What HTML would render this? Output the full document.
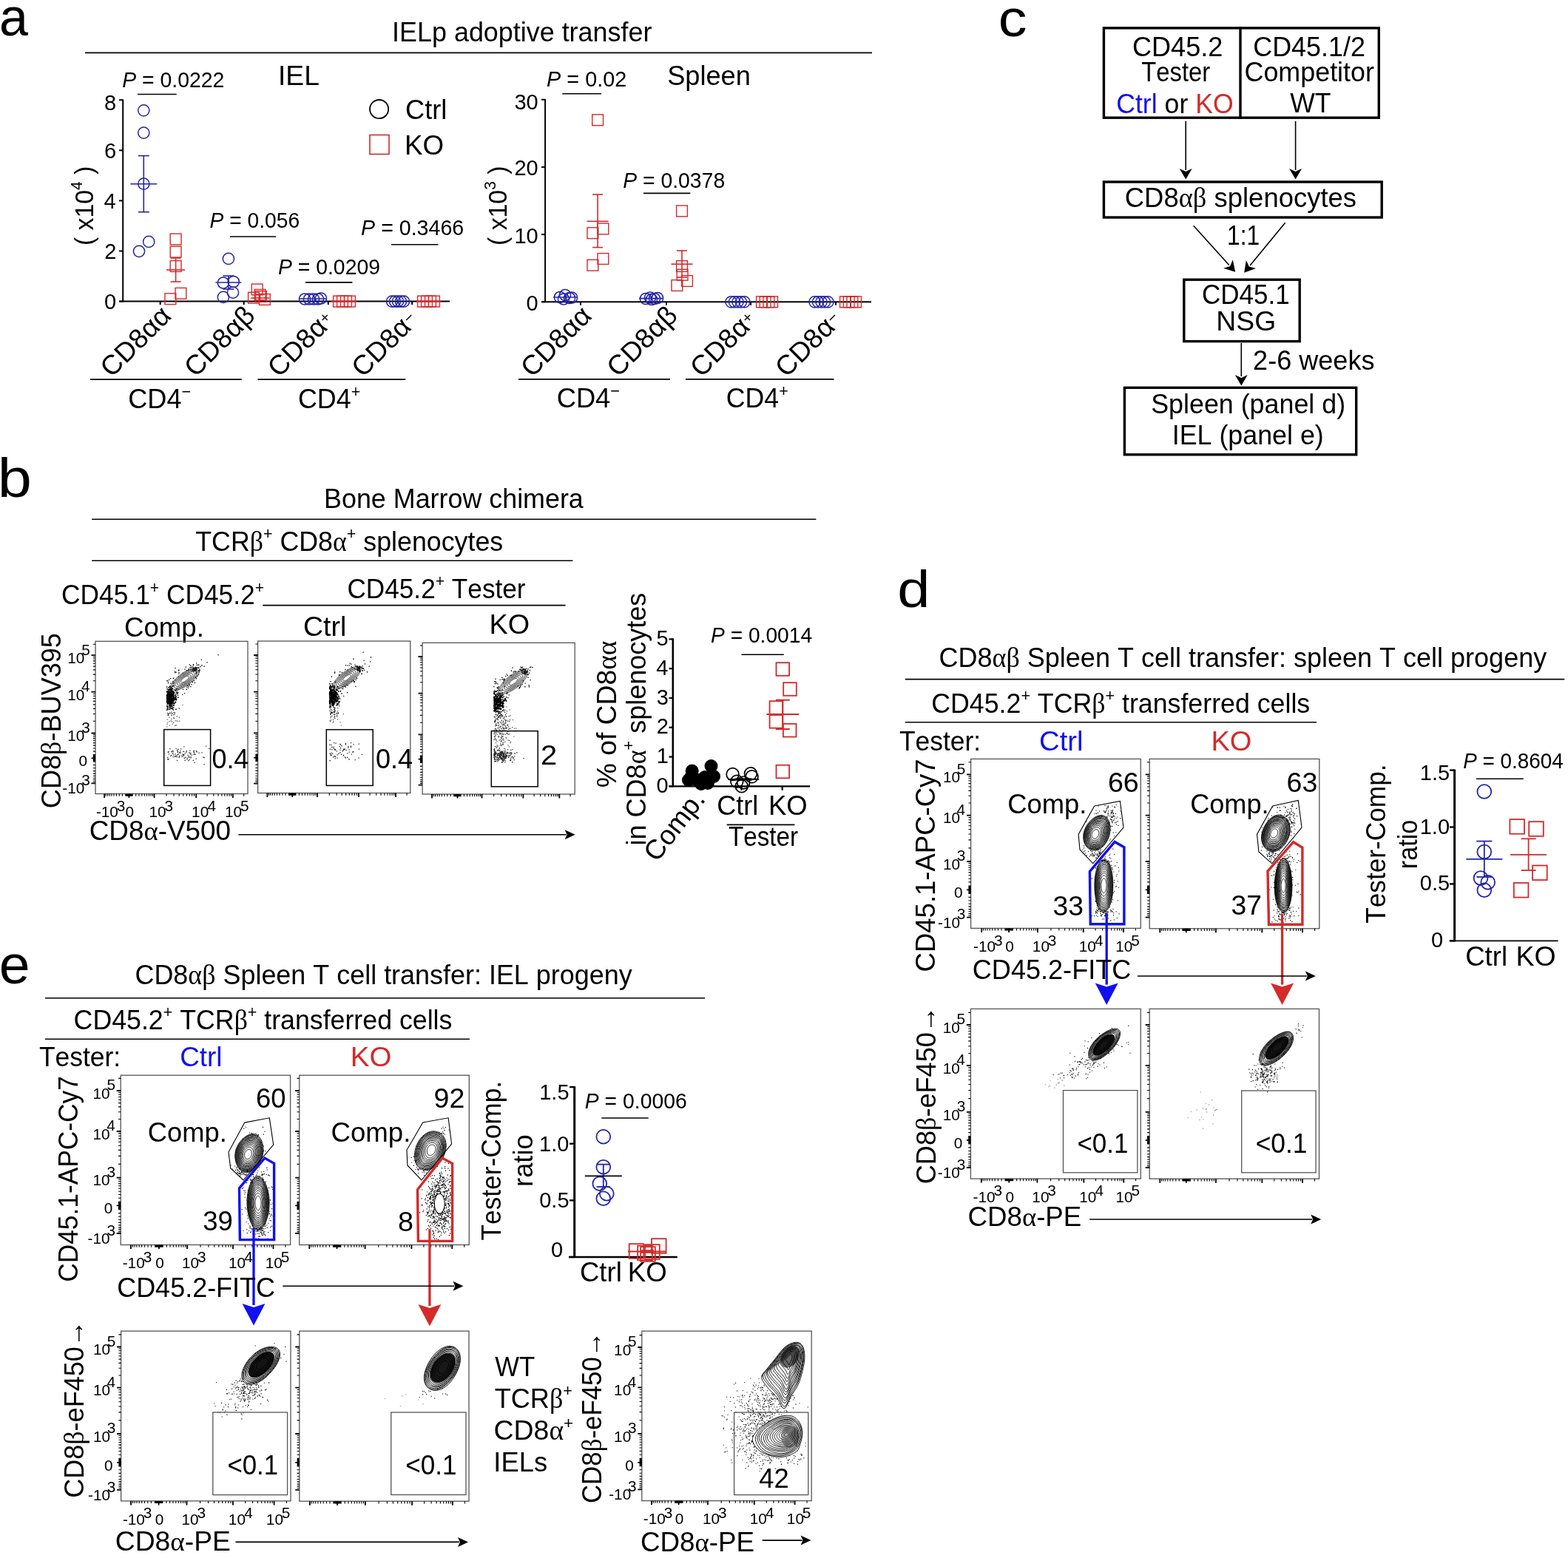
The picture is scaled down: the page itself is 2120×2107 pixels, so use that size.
<!DOCTYPE html>
<html><head><meta charset="utf-8"><title>Figure</title>
<style>
html,body{margin:0;padding:0;background:#fff;}
svg{display:block;}
text{font-kerning:none;white-space:pre;}
</style></head><body>
<svg xmlns="http://www.w3.org/2000/svg" xml:space="preserve" width="2120" height="2107" viewBox="0 0 2120 2107" font-family="Liberation Sans, Arial, sans-serif" fill="#000">
<rect width="2120" height="2107" fill="#fff"/>
<g transform="translate(-0.98 48.30) scale(0.9601 1)"><text x="0.00" y="0.00" font-size="73.00">a</text></g>
<g transform="translate(530.09 56.40) scale(0.9578 1)"><text x="0.00" y="0.00" font-size="37.50">IELp adoptive transfer</text></g>
<line x1="115.00" y1="71.40" x2="1179.00" y2="71.40" stroke="#000" stroke-width="1.60"/>
<g transform="translate(375.96 114.60) scale(0.9926 1)"><text x="0.00" y="0.00" font-size="37.50">IEL</text></g>
<g transform="translate(902.16 114.50) scale(0.9651 1)"><text x="0.00" y="0.00" font-size="37.50">Spleen</text></g>
<circle cx="512.60" cy="147.60" r="12.60" stroke="#000" stroke-width="1.80" fill="none"/>
<g transform="translate(548.06 160.60) scale(0.9665 1)"><text x="0.00" y="0.00" font-size="37.50">Ctrl</text></g>
<rect x="500.00" y="182.50" width="26.00" height="26.00" stroke="#d42a2a" stroke-width="1.60" fill="none"/>
<g transform="translate(546.88 209.00) scale(0.9815 1)"><text x="0.00" y="0.00" font-size="37.50">KO</text></g>
<line x1="166.20" y1="134.40" x2="166.20" y2="408.40" stroke="#000" stroke-width="2.00"/>
<line x1="161.50" y1="407.60" x2="608.00" y2="407.60" stroke="#000" stroke-width="2.00"/>
<line x1="161.00" y1="407.60" x2="166.20" y2="407.60" stroke="#000" stroke-width="2.00"/>
<g transform="translate(140.90 418.40) scale(1.0000 1)"><text x="0.00" y="0.00" font-size="29.00">0</text></g>
<line x1="161.00" y1="339.50" x2="166.20" y2="339.50" stroke="#000" stroke-width="2.00"/>
<g transform="translate(141.23 350.30) scale(1.0000 1)"><text x="0.00" y="0.00" font-size="29.00">2</text></g>
<line x1="161.00" y1="271.40" x2="166.20" y2="271.40" stroke="#000" stroke-width="2.00"/>
<g transform="translate(140.62 282.20) scale(1.0000 1)"><text x="0.00" y="0.00" font-size="29.00">4</text></g>
<line x1="161.00" y1="203.30" x2="166.20" y2="203.30" stroke="#000" stroke-width="2.00"/>
<g transform="translate(141.05 214.10) scale(1.0000 1)"><text x="0.00" y="0.00" font-size="29.00">6</text></g>
<line x1="161.00" y1="135.20" x2="166.20" y2="135.20" stroke="#000" stroke-width="2.00"/>
<g transform="translate(141.03 148.50) scale(1.0000 1)"><text x="0.00" y="0.00" font-size="29.00">8</text></g>
<line x1="216.70" y1="407.60" x2="216.70" y2="412.10" stroke="#000" stroke-width="2.00"/>
<line x1="329.70" y1="407.60" x2="329.70" y2="412.10" stroke="#000" stroke-width="2.00"/>
<line x1="443.80" y1="407.60" x2="443.80" y2="412.10" stroke="#000" stroke-width="2.00"/>
<line x1="557.20" y1="407.60" x2="557.20" y2="412.10" stroke="#000" stroke-width="2.00"/>
<g transform="translate(125.50 332.10) rotate(-90) scale(0.9802 1)"><text x="0.00" y="0.00" font-size="34.50">( x10</text><text x="76.70" y="-14.49" font-size="21.39">4</text><text x="88.59" y="0.00" font-size="34.50"> )</text></g>
<line x1="737.10" y1="133.90" x2="737.10" y2="409.10" stroke="#000" stroke-width="2.00"/>
<line x1="732.50" y1="408.30" x2="1178.00" y2="408.30" stroke="#000" stroke-width="2.00"/>
<line x1="732.00" y1="408.30" x2="737.10" y2="408.30" stroke="#000" stroke-width="2.00"/>
<g transform="translate(711.50 419.80) scale(1.0000 1)"><text x="0.00" y="0.00" font-size="29.00">0</text></g>
<line x1="732.00" y1="317.10" x2="737.10" y2="317.10" stroke="#000" stroke-width="2.00"/>
<g transform="translate(695.38 328.60) scale(1.0000 1)"><text x="0.00" y="0.00" font-size="29.00">10</text></g>
<line x1="732.00" y1="225.90" x2="737.10" y2="225.90" stroke="#000" stroke-width="2.00"/>
<g transform="translate(695.38 237.40) scale(1.0000 1)"><text x="0.00" y="0.00" font-size="29.00">20</text></g>
<line x1="732.00" y1="134.70" x2="737.10" y2="134.70" stroke="#000" stroke-width="2.00"/>
<g transform="translate(695.38 148.40) scale(1.0000 1)"><text x="0.00" y="0.00" font-size="29.00">30</text></g>
<line x1="785.00" y1="408.30" x2="785.00" y2="412.80" stroke="#000" stroke-width="2.00"/>
<line x1="901.00" y1="408.30" x2="901.00" y2="412.80" stroke="#000" stroke-width="2.00"/>
<line x1="1015.00" y1="408.30" x2="1015.00" y2="412.80" stroke="#000" stroke-width="2.00"/>
<line x1="1130.00" y1="408.30" x2="1130.00" y2="412.80" stroke="#000" stroke-width="2.00"/>
<g transform="translate(684.50 331.89) rotate(-90) scale(0.9783 1)"><text x="0.00" y="0.00" font-size="34.50">( x10</text><text x="76.70" y="-14.49" font-size="21.39">3</text><text x="88.59" y="0.00" font-size="34.50"> )</text></g>
<g transform="translate(165.13 117.80) scale(0.9802 1)"><text x="0.00" y="0.00" font-size="29.00" font-style="italic">P</text><text x="19.34" y="0.00" font-size="29.00"> = 0.0222</text></g>
<line x1="186.00" y1="127.50" x2="238.70" y2="127.50" stroke="#000" stroke-width="1.60"/>
<g transform="translate(283.53 308.00) scale(0.9740 1)"><text x="0.00" y="0.00" font-size="29.00" font-style="italic">P</text><text x="19.34" y="0.00" font-size="29.00"> = 0.056</text></g>
<line x1="310.90" y1="320.00" x2="373.20" y2="320.00" stroke="#000" stroke-width="1.60"/>
<g transform="translate(375.93 371.40) scale(0.9789 1)"><text x="0.00" y="0.00" font-size="29.00" font-style="italic">P</text><text x="19.34" y="0.00" font-size="29.00"> = 0.0209</text></g>
<line x1="413.00" y1="381.90" x2="476.40" y2="381.90" stroke="#000" stroke-width="1.60"/>
<g transform="translate(488.12 318.00) scale(0.9861 1)"><text x="0.00" y="0.00" font-size="29.00" font-style="italic">P</text><text x="19.34" y="0.00" font-size="29.00"> = 0.3466</text></g>
<line x1="529.00" y1="330.80" x2="592.40" y2="330.80" stroke="#000" stroke-width="1.60"/>
<g transform="translate(739.11 117.40) scale(0.9936 1)"><text x="0.00" y="0.00" font-size="29.00" font-style="italic">P</text><text x="19.34" y="0.00" font-size="29.00"> = 0.02</text></g>
<line x1="760.30" y1="126.70" x2="813.00" y2="126.70" stroke="#000" stroke-width="1.60"/>
<g transform="translate(842.13 253.60) scale(0.9788 1)"><text x="0.00" y="0.00" font-size="29.00" font-style="italic">P</text><text x="19.34" y="0.00" font-size="29.00"> = 0.0378</text></g>
<line x1="869.90" y1="261.40" x2="933.30" y2="261.40" stroke="#000" stroke-width="1.60"/>
<circle cx="194.30" cy="149.30" r="7.60" stroke="#2424a8" stroke-width="1.50" fill="none"/>
<circle cx="194.30" cy="179.60" r="7.60" stroke="#2424a8" stroke-width="1.50" fill="none"/>
<circle cx="194.30" cy="248.70" r="7.60" stroke="#2424a8" stroke-width="1.50" fill="none"/>
<circle cx="188.00" cy="339.80" r="7.60" stroke="#2424a8" stroke-width="1.50" fill="none"/>
<circle cx="201.20" cy="326.90" r="7.60" stroke="#2424a8" stroke-width="1.50" fill="none"/>
<line x1="176.30" y1="248.70" x2="212.30" y2="248.70" stroke="#2424a8" stroke-width="1.60"/><line x1="194.30" y1="210.60" x2="194.30" y2="286.70" stroke="#2424a8" stroke-width="1.60"/><line x1="186.80" y1="210.60" x2="201.80" y2="210.60" stroke="#2424a8" stroke-width="1.60"/><line x1="186.80" y1="286.70" x2="201.80" y2="286.70" stroke="#2424a8" stroke-width="1.60"/>
<rect x="230.20" y="316.10" width="14.80" height="14.80" stroke="#d42a2a" stroke-width="1.40" fill="none"/>
<rect x="230.20" y="333.20" width="14.80" height="14.80" stroke="#d42a2a" stroke-width="1.40" fill="none"/>
<rect x="230.20" y="352.60" width="14.80" height="14.80" stroke="#d42a2a" stroke-width="1.40" fill="none"/>
<rect x="223.00" y="396.80" width="14.80" height="14.80" stroke="#d42a2a" stroke-width="1.40" fill="none"/>
<rect x="237.00" y="389.40" width="14.80" height="14.80" stroke="#d42a2a" stroke-width="1.40" fill="none"/>
<line x1="225.10" y1="365.00" x2="250.10" y2="365.00" stroke="#d42a2a" stroke-width="1.60"/><line x1="237.60" y1="349.00" x2="237.60" y2="381.00" stroke="#d42a2a" stroke-width="1.60"/><line x1="230.60" y1="349.00" x2="244.60" y2="349.00" stroke="#d42a2a" stroke-width="1.60"/><line x1="230.60" y1="381.00" x2="244.60" y2="381.00" stroke="#d42a2a" stroke-width="1.60"/>
<circle cx="308.90" cy="349.90" r="7.60" stroke="#2424a8" stroke-width="1.50" fill="none"/>
<circle cx="301.90" cy="382.50" r="7.60" stroke="#2424a8" stroke-width="1.50" fill="none"/>
<circle cx="315.80" cy="381.00" r="7.60" stroke="#2424a8" stroke-width="1.50" fill="none"/>
<circle cx="315.00" cy="395.70" r="7.60" stroke="#2424a8" stroke-width="1.50" fill="none"/>
<circle cx="301.90" cy="401.90" r="7.60" stroke="#2424a8" stroke-width="1.50" fill="none"/>
<line x1="291.40" y1="382.00" x2="326.40" y2="382.00" stroke="#2424a8" stroke-width="1.60"/><line x1="308.90" y1="373.00" x2="308.90" y2="391.00" stroke="#2424a8" stroke-width="1.60"/><line x1="301.40" y1="373.00" x2="316.40" y2="373.00" stroke="#2424a8" stroke-width="1.60"/><line x1="301.40" y1="391.00" x2="316.40" y2="391.00" stroke="#2424a8" stroke-width="1.60"/>
<rect x="340.30" y="384.10" width="14.80" height="14.80" stroke="#d42a2a" stroke-width="1.40" fill="none"/>
<rect x="344.10" y="391.40" width="14.80" height="14.80" stroke="#d42a2a" stroke-width="1.40" fill="none"/>
<rect x="335.60" y="395.30" width="14.80" height="14.80" stroke="#d42a2a" stroke-width="1.40" fill="none"/>
<rect x="350.40" y="397.60" width="14.80" height="14.80" stroke="#d42a2a" stroke-width="1.40" fill="none"/>
<rect x="345.60" y="393.60" width="14.80" height="14.80" stroke="#d42a2a" stroke-width="1.40" fill="none"/>
<line x1="339.00" y1="403.00" x2="364.00" y2="403.00" stroke="#d42a2a" stroke-width="1.60"/><line x1="351.50" y1="398.00" x2="351.50" y2="406.00" stroke="#d42a2a" stroke-width="1.60"/><line x1="345.50" y1="398.00" x2="357.50" y2="398.00" stroke="#d42a2a" stroke-width="1.60"/><line x1="345.50" y1="406.00" x2="357.50" y2="406.00" stroke="#d42a2a" stroke-width="1.60"/>
<circle cx="412.00" cy="404.50" r="7.60" stroke="#2424a8" stroke-width="1.50" fill="none"/>
<circle cx="418.00" cy="404.50" r="7.60" stroke="#2424a8" stroke-width="1.50" fill="none"/>
<circle cx="424.00" cy="404.50" r="7.60" stroke="#2424a8" stroke-width="1.50" fill="none"/>
<circle cx="430.00" cy="404.50" r="7.60" stroke="#2424a8" stroke-width="1.50" fill="none"/>
<circle cx="434.00" cy="403.50" r="7.60" stroke="#2424a8" stroke-width="1.50" fill="none"/>
<line x1="404.00" y1="404.00" x2="442.00" y2="404.00" stroke="#2424a8" stroke-width="1.60"/>
<rect x="450.60" y="400.20" width="14.80" height="14.80" stroke="#d42a2a" stroke-width="1.40" fill="none"/>
<rect x="455.60" y="400.20" width="14.80" height="14.80" stroke="#d42a2a" stroke-width="1.40" fill="none"/>
<rect x="460.60" y="400.20" width="14.80" height="14.80" stroke="#d42a2a" stroke-width="1.40" fill="none"/>
<rect x="465.60" y="400.20" width="14.80" height="14.80" stroke="#d42a2a" stroke-width="1.40" fill="none"/>
<line x1="448.00" y1="407.60" x2="482.00" y2="407.60" stroke="#d42a2a" stroke-width="1.60"/>
<circle cx="530.00" cy="407.60" r="7.60" stroke="#2424a8" stroke-width="1.50" fill="none"/>
<circle cx="534.00" cy="407.60" r="7.60" stroke="#2424a8" stroke-width="1.50" fill="none"/>
<circle cx="538.00" cy="407.60" r="7.60" stroke="#2424a8" stroke-width="1.50" fill="none"/>
<circle cx="542.00" cy="407.60" r="7.60" stroke="#2424a8" stroke-width="1.50" fill="none"/>
<circle cx="546.00" cy="407.60" r="7.60" stroke="#2424a8" stroke-width="1.50" fill="none"/>
<rect x="564.60" y="400.20" width="14.80" height="14.80" stroke="#d42a2a" stroke-width="1.40" fill="none"/>
<rect x="569.60" y="400.20" width="14.80" height="14.80" stroke="#d42a2a" stroke-width="1.40" fill="none"/>
<rect x="574.60" y="400.20" width="14.80" height="14.80" stroke="#d42a2a" stroke-width="1.40" fill="none"/>
<rect x="579.60" y="400.20" width="14.80" height="14.80" stroke="#d42a2a" stroke-width="1.40" fill="none"/>
<line x1="563.00" y1="407.60" x2="596.00" y2="407.60" stroke="#d42a2a" stroke-width="1.60"/>
<circle cx="757.00" cy="402.00" r="7.60" stroke="#2424a8" stroke-width="1.50" fill="none"/>
<circle cx="764.00" cy="399.00" r="7.60" stroke="#2424a8" stroke-width="1.50" fill="none"/>
<circle cx="770.00" cy="403.00" r="7.60" stroke="#2424a8" stroke-width="1.50" fill="none"/>
<circle cx="762.00" cy="404.50" r="7.60" stroke="#2424a8" stroke-width="1.50" fill="none"/>
<circle cx="773.00" cy="402.50" r="7.60" stroke="#2424a8" stroke-width="1.50" fill="none"/>
<line x1="748.00" y1="402.00" x2="781.00" y2="402.00" stroke="#2424a8" stroke-width="1.60"/>
<rect x="800.70" y="154.90" width="14.80" height="14.80" stroke="#d42a2a" stroke-width="1.40" fill="none"/>
<rect x="794.00" y="307.80" width="14.80" height="14.80" stroke="#d42a2a" stroke-width="1.40" fill="none"/>
<rect x="808.00" y="302.00" width="14.80" height="14.80" stroke="#d42a2a" stroke-width="1.40" fill="none"/>
<rect x="794.00" y="351.30" width="14.80" height="14.80" stroke="#d42a2a" stroke-width="1.40" fill="none"/>
<rect x="808.00" y="342.60" width="14.80" height="14.80" stroke="#d42a2a" stroke-width="1.40" fill="none"/>
<line x1="793.60" y1="299.30" x2="822.60" y2="299.30" stroke="#d42a2a" stroke-width="1.60"/><line x1="808.10" y1="263.00" x2="808.10" y2="334.60" stroke="#d42a2a" stroke-width="1.60"/><line x1="801.10" y1="263.00" x2="815.10" y2="263.00" stroke="#d42a2a" stroke-width="1.60"/><line x1="801.10" y1="334.60" x2="815.10" y2="334.60" stroke="#d42a2a" stroke-width="1.60"/>
<circle cx="873.00" cy="404.00" r="7.60" stroke="#2424a8" stroke-width="1.50" fill="none"/>
<circle cx="879.00" cy="402.50" r="7.60" stroke="#2424a8" stroke-width="1.50" fill="none"/>
<circle cx="885.00" cy="404.00" r="7.60" stroke="#2424a8" stroke-width="1.50" fill="none"/>
<circle cx="889.00" cy="403.00" r="7.60" stroke="#2424a8" stroke-width="1.50" fill="none"/>
<circle cx="881.00" cy="405.00" r="7.60" stroke="#2424a8" stroke-width="1.50" fill="none"/>
<line x1="864.00" y1="403.60" x2="897.00" y2="403.60" stroke="#2424a8" stroke-width="1.60"/>
<rect x="914.60" y="278.00" width="14.80" height="14.80" stroke="#d42a2a" stroke-width="1.40" fill="none"/>
<rect x="914.60" y="352.60" width="14.80" height="14.80" stroke="#d42a2a" stroke-width="1.40" fill="none"/>
<rect x="915.20" y="364.30" width="14.80" height="14.80" stroke="#d42a2a" stroke-width="1.40" fill="none"/>
<rect x="921.60" y="372.60" width="14.80" height="14.80" stroke="#d42a2a" stroke-width="1.40" fill="none"/>
<rect x="908.00" y="378.60" width="14.80" height="14.80" stroke="#d42a2a" stroke-width="1.40" fill="none"/>
<line x1="907.50" y1="357.20" x2="936.50" y2="357.20" stroke="#d42a2a" stroke-width="1.60"/><line x1="922.00" y1="339.00" x2="922.00" y2="375.00" stroke="#d42a2a" stroke-width="1.60"/><line x1="915.00" y1="339.00" x2="929.00" y2="339.00" stroke="#d42a2a" stroke-width="1.60"/><line x1="915.00" y1="375.00" x2="929.00" y2="375.00" stroke="#d42a2a" stroke-width="1.60"/>
<circle cx="988.50" cy="408.30" r="7.60" stroke="#2424a8" stroke-width="1.50" fill="none"/>
<circle cx="993.00" cy="408.30" r="7.60" stroke="#2424a8" stroke-width="1.50" fill="none"/>
<circle cx="997.50" cy="408.30" r="7.60" stroke="#2424a8" stroke-width="1.50" fill="none"/>
<circle cx="1002.00" cy="408.30" r="7.60" stroke="#2424a8" stroke-width="1.50" fill="none"/>
<circle cx="1006.50" cy="408.30" r="7.60" stroke="#2424a8" stroke-width="1.50" fill="none"/>
<circle cx="1101.50" cy="408.30" r="7.60" stroke="#2424a8" stroke-width="1.50" fill="none"/>
<circle cx="1106.00" cy="408.30" r="7.60" stroke="#2424a8" stroke-width="1.50" fill="none"/>
<circle cx="1110.50" cy="408.30" r="7.60" stroke="#2424a8" stroke-width="1.50" fill="none"/>
<circle cx="1115.00" cy="408.30" r="7.60" stroke="#2424a8" stroke-width="1.50" fill="none"/>
<circle cx="1119.50" cy="408.30" r="7.60" stroke="#2424a8" stroke-width="1.50" fill="none"/>
<rect x="1022.60" y="400.90" width="14.80" height="14.80" stroke="#d42a2a" stroke-width="1.40" fill="none"/>
<rect x="1027.30" y="400.90" width="14.80" height="14.80" stroke="#d42a2a" stroke-width="1.40" fill="none"/>
<rect x="1032.00" y="400.90" width="14.80" height="14.80" stroke="#d42a2a" stroke-width="1.40" fill="none"/>
<rect x="1036.70" y="400.90" width="14.80" height="14.80" stroke="#d42a2a" stroke-width="1.40" fill="none"/>
<rect x="1135.60" y="400.90" width="14.80" height="14.80" stroke="#d42a2a" stroke-width="1.40" fill="none"/>
<rect x="1140.30" y="400.90" width="14.80" height="14.80" stroke="#d42a2a" stroke-width="1.40" fill="none"/>
<rect x="1145.00" y="400.90" width="14.80" height="14.80" stroke="#d42a2a" stroke-width="1.40" fill="none"/>
<rect x="1149.70" y="400.90" width="14.80" height="14.80" stroke="#d42a2a" stroke-width="1.40" fill="none"/>
<g transform="translate(232.70 430.00) rotate(-45.00) scale(1.0000 1) translate(-115.73 0)"><text x="0.00" y="0.00" font-size="37.00">CD8</text><text x="74.02" y="0.00" font-size="37.00">αα</text></g>
<g transform="translate(345.70 430.00) rotate(-45.00) scale(1.0000 1) translate(-115.23 0)"><text x="0.00" y="0.00" font-size="37.00">CD8</text><text x="74.02" y="0.00" font-size="37.00">αβ</text></g>
<g transform="translate(452.80 436.00) rotate(-45.00) scale(1.0000 1) translate(-107.03 0)"><text x="0.00" y="0.00" font-size="37.00">CD8</text><text x="74.02" y="0.00" font-size="37.00">α</text><text x="96.15" y="-7.40" font-size="20.35">+</text></g>
<g transform="translate(566.20 436.00) rotate(-45.00) scale(1.0000 1) translate(-107.04 0)"><text x="0.00" y="0.00" font-size="37.00">CD8</text><text x="74.02" y="0.00" font-size="37.00">α</text><text x="96.15" y="-7.40" font-size="20.35">−</text></g>
<g transform="translate(801.00 430.00) rotate(-45.00) scale(1.0000 1) translate(-115.73 0)"><text x="0.00" y="0.00" font-size="37.00">CD8</text><text x="74.02" y="0.00" font-size="37.00">αα</text></g>
<g transform="translate(917.00 430.00) rotate(-45.00) scale(1.0000 1) translate(-115.23 0)"><text x="0.00" y="0.00" font-size="37.00">CD8</text><text x="74.02" y="0.00" font-size="37.00">αβ</text></g>
<g transform="translate(1024.00 436.00) rotate(-45.00) scale(1.0000 1) translate(-107.03 0)"><text x="0.00" y="0.00" font-size="37.00">CD8</text><text x="74.02" y="0.00" font-size="37.00">α</text><text x="96.15" y="-7.40" font-size="20.35">+</text></g>
<g transform="translate(1139.00 436.00) rotate(-45.00) scale(1.0000 1) translate(-107.04 0)"><text x="0.00" y="0.00" font-size="37.00">CD8</text><text x="74.02" y="0.00" font-size="37.00">α</text><text x="96.15" y="-7.40" font-size="20.35">−</text></g>
<line x1="121.90" y1="513.10" x2="326.80" y2="513.10" stroke="#000" stroke-width="1.60"/>
<line x1="348.50" y1="513.10" x2="548.30" y2="513.10" stroke="#000" stroke-width="1.60"/>
<line x1="700.90" y1="512.90" x2="906.00" y2="512.90" stroke="#000" stroke-width="1.60"/>
<line x1="927.00" y1="512.90" x2="1127.50" y2="512.90" stroke="#000" stroke-width="1.60"/>
<g transform="translate(173.26 552.20) scale(0.9772 1)"><text x="0.00" y="0.00" font-size="37.00">CD4</text><text x="74.02" y="-15.54" font-size="22.20">−</text></g>
<g transform="translate(402.88 552.20) scale(0.9701 1)"><text x="0.00" y="0.00" font-size="37.00">CD4</text><text x="74.02" y="-15.54" font-size="22.20">+</text></g>
<g transform="translate(752.66 551.40) scale(0.9819 1)"><text x="0.00" y="0.00" font-size="37.00">CD4</text><text x="74.02" y="-15.54" font-size="22.20">−</text></g>
<g transform="translate(981.69 551.40) scale(0.9654 1)"><text x="0.00" y="0.00" font-size="37.00">CD4</text><text x="74.02" y="-15.54" font-size="22.20">+</text></g>
<g transform="translate(1349.71 48.80) scale(1.1067 1)"><text x="0.00" y="0.00" font-size="70.00">c</text></g>
<rect x="1492.40" y="37.90" width="371.90" height="121.30" stroke="#000" stroke-width="3.40" fill="none"/>
<line x1="1677.00" y1="36.20" x2="1677.00" y2="160.90" stroke="#000" stroke-width="3.40"/>
<g transform="translate(1530.97 75.90) scale(0.9682 1)"><text x="0.00" y="0.00" font-size="37.30">CD45.2</text></g>
<g transform="translate(1543.26 110.10) scale(0.8796 1)"><text x="0.00" y="0.00" font-size="37.30">Tester</text></g>
<g transform="translate(1509.19 152.80) scale(0.9561 1)"><text x="0.00" y="0.00" font-size="37.30" fill="#1010f0">Ctrl</text><text x="58.01" y="0.00" font-size="37.30"> or </text><text x="111.90" y="0.00" font-size="37.30" fill="#d42a2a">KO</text></g>
<g transform="translate(1694.17 75.90) scale(0.9642 1)"><text x="0.00" y="0.00" font-size="37.30">CD45.1/2</text></g>
<g transform="translate(1682.48 109.60) scale(0.9622 1)"><text x="0.00" y="0.00" font-size="37.30">Competitor</text></g>
<g transform="translate(1744.14 152.20) scale(0.9531 1)"><text x="0.00" y="0.00" font-size="37.30">WT</text></g>
<line x1="1603.20" y1="163.80" x2="1603.20" y2="230.00" stroke="#000" stroke-width="1.60"/><polygon points="1594.70,228.00 1603.20,232.00 1611.70,228.00 1603.20,242.50" fill="#000"/>
<line x1="1751.60" y1="163.80" x2="1751.60" y2="230.00" stroke="#000" stroke-width="1.60"/><polygon points="1743.10,228.00 1751.60,232.00 1760.10,228.00 1751.60,242.50" fill="#000"/>
<rect x="1492.40" y="246.00" width="375.80" height="48.00" stroke="#000" stroke-width="3.40" fill="none"/>
<g transform="translate(1520.75 279.70) scale(0.9778 1)"><text x="0.00" y="0.00" font-size="37.30">CD8</text><text x="74.62" y="0.00" font-size="37.30" font-family="Liberation Serif, serif">αβ</text><text x="113.14" y="0.00" font-size="37.30"> splenocytes</text></g>
<line x1="1613.70" y1="305.20" x2="1661.82" y2="358.52" stroke="#000" stroke-width="1.60"/><polygon points="1654.17,362.73 1663.16,360.01 1666.79,351.34 1670.20,367.80" fill="#000"/>
<line x1="1737.60" y1="301.30" x2="1690.14" y2="359.04" stroke="#000" stroke-width="1.60"/><polygon points="1684.84,352.10 1688.87,360.59 1697.97,362.90 1682.20,368.70" fill="#000"/>
<g transform="translate(1659.08 331.30) scale(0.8519 1)"><text x="0.00" y="0.00" font-size="37.30">1:1</text></g>
<rect x="1600.80" y="378.20" width="156.40" height="83.40" stroke="#000" stroke-width="3.40" fill="none"/>
<g transform="translate(1624.92 410.70) scale(0.9393 1)"><text x="0.00" y="0.00" font-size="37.30">CD45.1</text></g>
<g transform="translate(1644.34 447.00) scale(1.0002 1)"><text x="0.00" y="0.00" font-size="37.30">NSG</text></g>
<line x1="1678.30" y1="464.00" x2="1678.30" y2="509.00" stroke="#000" stroke-width="1.60"/><polygon points="1669.80,507.00 1678.30,511.00 1686.80,507.00 1678.30,521.50" fill="#000"/>
<g transform="translate(1694.09 500.40) scale(0.9672 1)"><text x="0.00" y="0.00" font-size="37.30">2-6 weeks</text></g>
<rect x="1520.40" y="524.30" width="313.30" height="90.50" stroke="#000" stroke-width="3.40" fill="none"/>
<g transform="translate(1556.17 559.10) scale(0.9610 1)"><text x="0.00" y="0.00" font-size="37.30">Spleen (panel d)</text></g>
<g transform="translate(1584.69 600.90) scale(0.9605 1)"><text x="0.00" y="0.00" font-size="37.30">IEL (panel e)</text></g>
<g transform="translate(-3.35 671.80) scale(1.1300 1)"><text x="0.00" y="0.00" font-size="73.40">b</text></g>
<g transform="translate(438.06 687.00) scale(0.9562 1)"><text x="0.00" y="0.00" font-size="37.50">Bone Marrow chimera</text></g>
<line x1="124.20" y1="702.20" x2="1103.40" y2="702.20" stroke="#000" stroke-width="1.60"/>
<g transform="translate(264.20 745.00) scale(0.9544 1)"><text x="0.00" y="0.00" font-size="37.50">TCR</text><text x="77.07" y="0.00" font-size="37.50" font-family="Liberation Serif, serif">β</text><text x="96.15" y="-15.75" font-size="22.50">+</text><text x="109.29" y="0.00" font-size="37.50"> CD8</text><text x="194.73" y="0.00" font-size="37.50" font-family="Liberation Serif, serif">α</text><text x="214.37" y="-15.75" font-size="22.50">+</text><text x="227.51" y="0.00" font-size="37.50"> splenocytes</text></g>
<line x1="124.20" y1="758.30" x2="774.40" y2="758.30" stroke="#000" stroke-width="1.60"/>
<g transform="translate(83.11 817.40) scale(0.9414 1)"><text x="0.00" y="0.00" font-size="37.50">CD45.1</text><text x="127.15" y="-15.75" font-size="22.50">+</text><text x="140.29" y="0.00" font-size="37.50"> CD45.2</text><text x="277.86" y="-15.75" font-size="22.50">+</text></g>
<g transform="translate(469.41 809.00) scale(0.9385 1)"><text x="0.00" y="0.00" font-size="37.50">CD45.2</text><text x="127.15" y="-15.75" font-size="22.50">+</text><text x="140.29" y="0.00" font-size="37.50"> Tester</text></g>
<line x1="355.30" y1="818.60" x2="764.50" y2="818.60" stroke="#000" stroke-width="1.60"/>
<g transform="translate(167.94 860.90) scale(0.9770 1)"><text x="0.00" y="0.00" font-size="37.50">Comp.</text></g>
<g transform="translate(410.10 860.00) scale(0.9980 1)"><text x="0.00" y="0.00" font-size="37.50">Ctrl</text></g>
<g transform="translate(661.50 856.70) scale(1.0079 1)"><text x="0.00" y="0.00" font-size="37.50">KO</text></g>
<rect x="129.00" y="867.30" width="206.00" height="206.20" stroke="#555" stroke-width="1.30" fill="none"/><path d="M123.5 1059.4H129.0M141.1 1073.5V1079.0M123.5 1025.3H129.0M174.4 1073.5V1079.0M123.5 991.5H129.0M208.6 1073.5V1079.0M123.5 935.7H129.0M265.2 1073.5V1079.0M123.5 886.2H129.0M314.8 1073.5V1079.0" stroke="#000" stroke-width="1.8" fill="none"/><path d="M125.8 1030.0H129.0M169.8 1073.5V1076.7M125.8 1034.5H129.0M165.4 1073.5V1076.7M125.8 1038.8H129.0M161.3 1073.5V1076.7M125.8 1042.6H129.0M157.5 1073.5V1076.7M125.8 1046.1H129.0M154.0 1073.5V1076.7M125.8 1049.3H129.0M150.9 1073.5V1076.7M125.8 1052.2H129.0M148.1 1073.5V1076.7M125.8 1054.8H129.0M145.6 1073.5V1076.7M125.8 1057.2H129.0M143.2 1073.5V1076.7M125.8 1020.6H129.0M179.1 1073.5V1076.7M125.8 1016.1H129.0M183.7 1073.5V1076.7M125.8 1012.0H129.0M187.9 1073.5V1076.7M125.8 1008.1H129.0M191.8 1073.5V1076.7M125.8 1004.6H129.0M195.3 1073.5V1076.7M125.8 1001.5H129.0M198.5 1073.5V1076.7M125.8 998.6H129.0M201.4 1073.5V1076.7M125.8 996.0H129.0M204.0 1073.5V1076.7M125.8 993.7H129.0M206.4 1073.5V1076.7M125.8 1025.8H129.0M173.9 1073.5V1076.7M125.8 1026.7H129.0M173.0 1073.5V1076.7M125.8 1027.7H129.0M172.1 1073.5V1076.7M125.8 1028.6H129.0M171.2 1073.5V1076.7M125.8 1029.5H129.0M170.3 1073.5V1076.7M125.8 1024.8H129.0M174.9 1073.5V1076.7M125.8 1023.9H129.0M175.8 1073.5V1076.7M125.8 1023.0H129.0M176.8 1073.5V1076.7M125.8 1022.0H129.0M177.7 1073.5V1076.7M125.8 1021.1H129.0M178.7 1073.5V1076.7M125.8 975.3H129.0M225.0 1073.5V1076.7M125.8 965.5H129.0M235.0 1073.5V1076.7M125.8 958.4H129.0M242.2 1073.5V1076.7M125.8 952.9H129.0M247.8 1073.5V1076.7M125.8 948.4H129.0M252.4 1073.5V1076.7M125.8 944.5H129.0M256.2 1073.5V1076.7M125.8 941.2H129.0M259.6 1073.5V1076.7M125.8 938.3H129.0M262.5 1073.5V1076.7M125.8 920.8H129.0M280.1 1073.5V1076.7M125.8 912.1H129.0M288.9 1073.5V1076.7M125.8 905.9H129.0M295.1 1073.5V1076.7M125.8 901.1H129.0M299.9 1073.5V1076.7M125.8 897.2H129.0M303.8 1073.5V1076.7M125.8 893.9H129.0M307.1 1073.5V1076.7M125.8 891.0H129.0M310.0 1073.5V1076.7M125.8 888.5H129.0M312.5 1073.5V1076.7M125.8 871.3H129.0M329.7 1073.5V1076.7" stroke="#000" stroke-width="1.1" fill="none"/><g transform="translate(91.28 897.00) scale(1.0000 1)"><text x="0.00" y="0.00" font-size="20.80">10</text></g><g transform="translate(110.21 885.50) scale(1.0000 1)"><text x="0.00" y="0.00" font-size="20.80">5</text></g><g transform="translate(91.28 946.50) scale(1.0000 1)"><text x="0.00" y="0.00" font-size="20.80">10</text></g><g transform="translate(109.94 935.00) scale(1.0000 1)"><text x="0.00" y="0.00" font-size="20.80">4</text></g><g transform="translate(91.28 1002.30) scale(1.0000 1)"><text x="0.00" y="0.00" font-size="20.80">10</text></g><g transform="translate(110.25 990.80) scale(1.0000 1)"><text x="0.00" y="0.00" font-size="20.80">3</text></g><g transform="translate(106.44 1036.30) scale(1.0000 1)"><text x="0.00" y="0.00" font-size="20.80">0</text></g><g transform="translate(84.35 1073.40) scale(1.0000 1)"><text x="0.00" y="0.00" font-size="20.80">-10</text></g><g transform="translate(110.25 1062.20) scale(1.0000 1)"><text x="0.00" y="0.00" font-size="20.80">3</text></g><g transform="translate(201.52 1105.30) scale(1.0000 1)"><text x="0.00" y="0.00" font-size="20.80">10</text></g><g transform="translate(222.55 1096.80) scale(1.0000 1)"><text x="0.00" y="0.00" font-size="20.80">3</text></g><g transform="translate(259.12 1105.30) scale(1.0000 1)"><text x="0.00" y="0.00" font-size="20.80">10</text></g><g transform="translate(280.46 1096.80) scale(1.0000 1)"><text x="0.00" y="0.00" font-size="20.80">4</text></g><g transform="translate(304.02 1105.30) scale(1.0000 1)"><text x="0.00" y="0.00" font-size="20.80">10</text></g><g transform="translate(325.01 1096.80) scale(1.0000 1)"><text x="0.00" y="0.00" font-size="20.80">5</text></g><g transform="translate(129.88 1105.30) scale(1.0000 1)"><text x="0.00" y="0.00" font-size="20.80">-10</text></g><g transform="translate(157.83 1096.80) scale(1.0000 1)"><text x="0.00" y="0.00" font-size="20.80">3</text></g><g transform="translate(169.62 1105.30) scale(1.0000 1)"><text x="0.00" y="0.00" font-size="20.80">0</text></g>
<path d="M231.6 949.4h1.5v1.5h-1.5zM231.5 933.5h1.5v1.5h-1.5zM233.7 946.6h1.5v1.5h-1.5zM228.2 947.6h1.5v1.5h-1.5zM231.6 945.5h1.5v1.5h-1.5zM230.4 947.4h1.5v1.5h-1.5zM227.5 942.0h1.5v1.5h-1.5zM228.4 947.7h1.5v1.5h-1.5zM230.4 941.1h1.5v1.5h-1.5zM227.3 941.3h1.5v1.5h-1.5zM230.3 941.2h1.5v1.5h-1.5zM235.2 950.8h1.5v1.5h-1.5zM227.2 929.1h1.5v1.5h-1.5zM229.6 940.1h1.5v1.5h-1.5zM231.1 944.9h1.5v1.5h-1.5zM238.3 934.9h1.5v1.5h-1.5zM228.8 958.6h1.5v1.5h-1.5zM232.7 948.2h1.5v1.5h-1.5zM228.3 930.9h1.5v1.5h-1.5zM230.9 944.1h1.5v1.5h-1.5zM225.6 938.1h1.5v1.5h-1.5zM230.0 936.2h1.5v1.5h-1.5zM229.9 944.0h1.5v1.5h-1.5zM230.4 939.5h1.5v1.5h-1.5zM232.5 949.9h1.5v1.5h-1.5zM231.5 937.1h1.5v1.5h-1.5zM233.0 939.5h1.5v1.5h-1.5zM233.6 935.2h1.5v1.5h-1.5zM233.7 943.1h1.5v1.5h-1.5zM225.5 940.9h1.5v1.5h-1.5zM230.5 945.3h1.5v1.5h-1.5zM226.5 934.9h1.5v1.5h-1.5zM231.0 939.7h1.5v1.5h-1.5zM231.1 948.9h1.5v1.5h-1.5zM225.1 945.2h1.5v1.5h-1.5zM234.9 941.0h1.5v1.5h-1.5zM227.2 948.9h1.5v1.5h-1.5zM231.2 950.0h1.5v1.5h-1.5zM228.9 932.1h1.5v1.5h-1.5zM229.8 939.9h1.5v1.5h-1.5zM233.2 944.7h1.5v1.5h-1.5zM225.1 934.3h1.5v1.5h-1.5zM233.6 948.3h1.5v1.5h-1.5zM227.8 943.2h1.5v1.5h-1.5zM231.9 946.8h1.5v1.5h-1.5zM233.6 945.2h1.5v1.5h-1.5zM229.9 941.3h1.5v1.5h-1.5zM234.3 926.4h1.5v1.5h-1.5zM229.7 943.5h1.5v1.5h-1.5zM224.8 945.7h1.5v1.5h-1.5zM227.8 949.7h1.5v1.5h-1.5zM229.8 948.3h1.5v1.5h-1.5zM234.9 946.1h1.5v1.5h-1.5zM226.9 931.9h1.5v1.5h-1.5zM236.9 942.4h1.5v1.5h-1.5zM227.6 944.3h1.5v1.5h-1.5zM229.5 949.6h1.5v1.5h-1.5zM230.4 943.4h1.5v1.5h-1.5zM227.5 946.8h1.5v1.5h-1.5zM226.3 948.2h1.5v1.5h-1.5zM236.0 931.8h1.5v1.5h-1.5zM226.7 947.9h1.5v1.5h-1.5zM239.9 935.7h1.5v1.5h-1.5zM225.5 947.7h1.5v1.5h-1.5zM227.1 939.5h1.5v1.5h-1.5zM228.9 947.2h1.5v1.5h-1.5zM228.7 945.3h1.5v1.5h-1.5zM229.6 936.9h1.5v1.5h-1.5zM229.0 936.1h1.5v1.5h-1.5zM230.3 934.8h1.5v1.5h-1.5zM226.1 954.2h1.5v1.5h-1.5zM230.0 942.8h1.5v1.5h-1.5zM232.2 940.1h1.5v1.5h-1.5zM229.4 946.4h1.5v1.5h-1.5zM231.3 934.6h1.5v1.5h-1.5zM233.4 938.8h1.5v1.5h-1.5zM226.2 936.5h1.5v1.5h-1.5zM228.8 955.5h1.5v1.5h-1.5zM225.8 944.5h1.5v1.5h-1.5zM226.1 943.2h1.5v1.5h-1.5zM233.7 941.5h1.5v1.5h-1.5zM227.9 945.0h1.5v1.5h-1.5zM232.9 948.2h1.5v1.5h-1.5zM237.7 944.8h1.5v1.5h-1.5zM228.0 942.3h1.5v1.5h-1.5zM230.0 944.1h1.5v1.5h-1.5zM230.1 944.6h1.5v1.5h-1.5zM225.2 949.5h1.5v1.5h-1.5zM228.1 934.5h1.5v1.5h-1.5zM232.7 953.1h1.5v1.5h-1.5zM232.1 944.5h1.5v1.5h-1.5zM226.7 964.8h1.5v1.5h-1.5zM233.6 934.7h1.5v1.5h-1.5zM227.3 943.9h1.5v1.5h-1.5zM225.0 944.5h1.5v1.5h-1.5zM228.5 952.4h1.5v1.5h-1.5zM233.9 922.9h1.5v1.5h-1.5zM230.4 931.1h1.5v1.5h-1.5zM234.5 944.5h1.5v1.5h-1.5zM232.3 935.3h1.5v1.5h-1.5zM237.2 958.4h1.5v1.5h-1.5zM226.2 946.0h1.5v1.5h-1.5zM227.7 943.1h1.5v1.5h-1.5zM225.4 957.3h1.5v1.5h-1.5zM226.6 941.0h1.5v1.5h-1.5zM232.2 938.4h1.5v1.5h-1.5zM229.3 939.0h1.5v1.5h-1.5zM229.7 934.5h1.5v1.5h-1.5zM228.6 941.7h1.5v1.5h-1.5zM229.0 943.7h1.5v1.5h-1.5zM229.1 948.9h1.5v1.5h-1.5zM229.0 942.2h1.5v1.5h-1.5zM227.7 939.3h1.5v1.5h-1.5zM225.4 947.1h1.5v1.5h-1.5zM225.9 937.7h1.5v1.5h-1.5zM231.6 946.3h1.5v1.5h-1.5zM228.7 928.1h1.5v1.5h-1.5zM231.8 945.2h1.5v1.5h-1.5zM224.9 949.0h1.5v1.5h-1.5zM227.6 934.8h1.5v1.5h-1.5zM230.6 941.9h1.5v1.5h-1.5zM231.0 931.2h1.5v1.5h-1.5zM237.1 938.7h1.5v1.5h-1.5zM224.9 947.9h1.5v1.5h-1.5zM228.9 945.7h1.5v1.5h-1.5zM229.0 942.8h1.5v1.5h-1.5zM231.2 937.7h1.5v1.5h-1.5zM232.8 939.7h1.5v1.5h-1.5zM226.9 943.8h1.5v1.5h-1.5zM231.9 941.5h1.5v1.5h-1.5zM227.0 947.9h1.5v1.5h-1.5zM225.3 935.5h1.5v1.5h-1.5zM230.4 933.0h1.5v1.5h-1.5zM230.4 942.8h1.5v1.5h-1.5zM233.7 936.4h1.5v1.5h-1.5zM227.9 945.7h1.5v1.5h-1.5zM226.7 966.5h1.5v1.5h-1.5zM227.6 937.8h1.5v1.5h-1.5zM233.5 943.0h1.5v1.5h-1.5zM225.4 948.0h1.5v1.5h-1.5zM233.5 939.9h1.5v1.5h-1.5zM229.2 946.9h1.5v1.5h-1.5zM226.8 946.5h1.5v1.5h-1.5zM231.0 938.2h1.5v1.5h-1.5zM225.0 941.6h1.5v1.5h-1.5zM226.9 950.8h1.5v1.5h-1.5zM230.8 949.1h1.5v1.5h-1.5zM230.8 945.2h1.5v1.5h-1.5zM227.3 948.3h1.5v1.5h-1.5zM237.0 940.9h1.5v1.5h-1.5zM228.0 942.1h1.5v1.5h-1.5zM228.4 938.0h1.5v1.5h-1.5zM230.8 941.1h1.5v1.5h-1.5zM235.7 943.3h1.5v1.5h-1.5zM231.5 950.4h1.5v1.5h-1.5zM229.1 954.0h1.5v1.5h-1.5zM227.8 937.2h1.5v1.5h-1.5zM228.9 942.4h1.5v1.5h-1.5zM224.9 943.0h1.5v1.5h-1.5zM225.2 953.7h1.5v1.5h-1.5zM229.9 938.4h1.5v1.5h-1.5zM226.8 940.4h1.5v1.5h-1.5zM229.4 935.4h1.5v1.5h-1.5zM226.8 941.8h1.5v1.5h-1.5zM228.3 950.3h1.5v1.5h-1.5zM234.6 943.4h1.5v1.5h-1.5zM232.0 933.2h1.5v1.5h-1.5zM232.7 943.0h1.5v1.5h-1.5zM232.1 955.3h1.5v1.5h-1.5zM226.3 945.2h1.5v1.5h-1.5zM226.1 947.7h1.5v1.5h-1.5zM225.3 939.5h1.5v1.5h-1.5zM231.0 947.9h1.5v1.5h-1.5zM230.5 937.3h1.5v1.5h-1.5zM228.1 949.9h1.5v1.5h-1.5zM230.2 930.6h1.5v1.5h-1.5zM233.5 946.4h1.5v1.5h-1.5zM233.6 940.7h1.5v1.5h-1.5zM233.4 935.3h1.5v1.5h-1.5zM232.4 939.6h1.5v1.5h-1.5zM232.8 950.8h1.5v1.5h-1.5zM227.5 942.9h1.5v1.5h-1.5zM230.4 952.2h1.5v1.5h-1.5zM233.0 934.1h1.5v1.5h-1.5zM232.0 948.8h1.5v1.5h-1.5zM238.3 930.7h1.5v1.5h-1.5zM228.2 953.3h1.5v1.5h-1.5zM225.1 934.3h1.5v1.5h-1.5zM232.2 950.9h1.5v1.5h-1.5zM227.7 947.3h1.5v1.5h-1.5zM230.7 954.6h1.5v1.5h-1.5zM230.2 950.7h1.5v1.5h-1.5zM226.8 941.9h1.5v1.5h-1.5zM229.9 951.8h1.5v1.5h-1.5zM232.5 937.6h1.5v1.5h-1.5zM232.8 949.0h1.5v1.5h-1.5zM229.8 941.3h1.5v1.5h-1.5zM229.5 930.5h1.5v1.5h-1.5zM231.0 945.0h1.5v1.5h-1.5zM227.0 948.8h1.5v1.5h-1.5zM225.0 939.1h1.5v1.5h-1.5zM228.4 958.2h1.5v1.5h-1.5zM225.0 947.5h1.5v1.5h-1.5zM233.8 946.1h1.5v1.5h-1.5zM234.7 935.7h1.5v1.5h-1.5zM226.3 949.0h1.5v1.5h-1.5zM225.7 940.8h1.5v1.5h-1.5zM225.8 951.1h1.5v1.5h-1.5zM233.5 937.8h1.5v1.5h-1.5zM233.7 944.2h1.5v1.5h-1.5zM229.7 943.7h1.5v1.5h-1.5zM229.5 947.9h1.5v1.5h-1.5zM231.4 940.6h1.5v1.5h-1.5zM234.1 938.7h1.5v1.5h-1.5zM231.3 946.4h1.5v1.5h-1.5zM235.9 939.5h1.5v1.5h-1.5zM236.9 944.6h1.5v1.5h-1.5zM229.5 938.2h1.5v1.5h-1.5zM232.5 943.6h1.5v1.5h-1.5zM226.1 934.8h1.5v1.5h-1.5zM228.1 938.2h1.5v1.5h-1.5zM234.4 953.6h1.5v1.5h-1.5zM233.6 945.9h1.5v1.5h-1.5zM228.6 943.7h1.5v1.5h-1.5zM233.6 959.2h1.5v1.5h-1.5zM233.7 941.1h1.5v1.5h-1.5zM230.4 939.6h1.5v1.5h-1.5zM227.3 941.9h1.5v1.5h-1.5zM231.0 957.0h1.5v1.5h-1.5zM230.4 953.4h1.5v1.5h-1.5zM237.0 943.8h1.5v1.5h-1.5zM236.4 948.6h1.5v1.5h-1.5zM228.7 945.2h1.5v1.5h-1.5zM230.3 941.5h1.5v1.5h-1.5zM229.5 944.3h1.5v1.5h-1.5zM231.9 936.6h1.5v1.5h-1.5zM230.2 931.8h1.5v1.5h-1.5zM231.2 947.9h1.5v1.5h-1.5zM230.9 945.4h1.5v1.5h-1.5zM232.5 938.3h1.5v1.5h-1.5zM229.3 947.1h1.5v1.5h-1.5zM234.1 946.2h1.5v1.5h-1.5zM240.0 942.6h1.5v1.5h-1.5zM234.0 952.8h1.5v1.5h-1.5zM229.7 937.1h1.5v1.5h-1.5zM225.8 944.5h1.5v1.5h-1.5zM234.5 945.3h1.5v1.5h-1.5zM230.9 940.4h1.5v1.5h-1.5zM232.4 927.2h1.5v1.5h-1.5zM231.1 943.5h1.5v1.5h-1.5zM225.0 959.6h1.5v1.5h-1.5zM225.0 935.2h1.5v1.5h-1.5zM225.7 951.6h1.5v1.5h-1.5zM226.9 948.3h1.5v1.5h-1.5zM232.5 945.2h1.5v1.5h-1.5zM225.3 938.7h1.5v1.5h-1.5zM236.6 933.6h1.5v1.5h-1.5zM227.1 942.0h1.5v1.5h-1.5zM233.3 945.1h1.5v1.5h-1.5zM233.1 935.2h1.5v1.5h-1.5zM233.8 947.5h1.5v1.5h-1.5zM225.0 954.8h1.5v1.5h-1.5zM239.0 937.5h1.5v1.5h-1.5zM230.5 953.7h1.5v1.5h-1.5zM224.8 928.3h1.5v1.5h-1.5zM225.3 939.0h1.5v1.5h-1.5zM228.1 947.8h1.5v1.5h-1.5zM231.3 933.9h1.5v1.5h-1.5zM232.4 957.3h1.5v1.5h-1.5zM234.8 950.7h1.5v1.5h-1.5zM230.3 950.6h1.5v1.5h-1.5zM226.6 948.9h1.5v1.5h-1.5zM229.9 951.7h1.5v1.5h-1.5zM232.0 935.1h1.5v1.5h-1.5zM230.7 952.4h1.5v1.5h-1.5zM226.0 939.1h1.5v1.5h-1.5zM227.3 932.0h1.5v1.5h-1.5zM233.9 953.1h1.5v1.5h-1.5zM233.3 945.1h1.5v1.5h-1.5zM230.1 945.0h1.5v1.5h-1.5zM227.5 950.0h1.5v1.5h-1.5zM234.2 950.2h1.5v1.5h-1.5zM228.2 943.8h1.5v1.5h-1.5zM229.6 956.7h1.5v1.5h-1.5zM230.9 929.1h1.5v1.5h-1.5zM231.8 957.4h1.5v1.5h-1.5zM232.9 949.8h1.5v1.5h-1.5zM230.4 928.5h1.5v1.5h-1.5zM225.4 933.9h1.5v1.5h-1.5zM229.8 945.6h1.5v1.5h-1.5zM232.9 940.7h1.5v1.5h-1.5zM233.9 941.2h1.5v1.5h-1.5zM227.6 949.6h1.5v1.5h-1.5zM226.8 922.8h1.5v1.5h-1.5zM226.2 944.0h1.5v1.5h-1.5zM227.9 940.6h1.5v1.5h-1.5zM229.0 932.6h1.5v1.5h-1.5zM224.8 939.8h1.5v1.5h-1.5zM228.2 952.7h1.5v1.5h-1.5zM231.7 931.4h1.5v1.5h-1.5zM227.0 948.5h1.5v1.5h-1.5zM237.5 946.1h1.5v1.5h-1.5zM231.4 957.2h1.5v1.5h-1.5zM230.2 940.9h1.5v1.5h-1.5zM224.9 939.4h1.5v1.5h-1.5zM238.5 932.6h1.5v1.5h-1.5zM230.3 932.7h1.5v1.5h-1.5zM230.7 949.9h1.5v1.5h-1.5zM229.3 948.7h1.5v1.5h-1.5zM233.0 946.6h1.5v1.5h-1.5zM236.8 949.1h1.5v1.5h-1.5zM229.1 938.1h1.5v1.5h-1.5zM227.0 946.8h1.5v1.5h-1.5zM229.0 963.7h1.5v1.5h-1.5zM237.3 941.6h1.5v1.5h-1.5zM229.0 955.9h1.5v1.5h-1.5zM225.6 939.9h1.5v1.5h-1.5zM233.9 936.4h1.5v1.5h-1.5zM228.4 940.6h1.5v1.5h-1.5zM232.8 944.3h1.5v1.5h-1.5zM231.8 947.7h1.5v1.5h-1.5zM230.4 951.6h1.5v1.5h-1.5zM227.5 932.5h1.5v1.5h-1.5zM225.4 931.1h1.5v1.5h-1.5zM228.2 951.0h1.5v1.5h-1.5zM230.9 938.8h1.5v1.5h-1.5zM226.2 939.3h1.5v1.5h-1.5zM228.7 939.0h1.5v1.5h-1.5zM224.8 939.7h1.5v1.5h-1.5zM234.1 926.9h1.5v1.5h-1.5zM229.3 927.3h1.5v1.5h-1.5zM230.9 937.6h1.5v1.5h-1.5zM226.0 944.0h1.5v1.5h-1.5zM237.2 944.1h1.5v1.5h-1.5zM234.7 942.7h1.5v1.5h-1.5zM226.1 946.9h1.5v1.5h-1.5zM228.7 932.3h1.5v1.5h-1.5zM233.2 945.4h1.5v1.5h-1.5zM228.3 949.8h1.5v1.5h-1.5zM226.9 948.1h1.5v1.5h-1.5zM226.7 947.3h1.5v1.5h-1.5zM226.1 954.4h1.5v1.5h-1.5zM231.2 954.0h1.5v1.5h-1.5zM227.1 939.7h1.5v1.5h-1.5zM233.4 922.7h1.5v1.5h-1.5zM226.2 951.0h1.5v1.5h-1.5zM232.0 950.6h1.5v1.5h-1.5zM229.1 947.5h1.5v1.5h-1.5zM227.5 933.0h1.5v1.5h-1.5zM225.2 939.1h1.5v1.5h-1.5zM228.2 938.5h1.5v1.5h-1.5zM228.7 928.3h1.5v1.5h-1.5zM228.2 945.4h1.5v1.5h-1.5zM228.1 936.7h1.5v1.5h-1.5zM226.4 958.4h1.5v1.5h-1.5zM226.1 955.9h1.5v1.5h-1.5zM236.2 945.3h1.5v1.5h-1.5zM228.1 944.2h1.5v1.5h-1.5zM225.9 945.2h1.5v1.5h-1.5zM230.3 947.2h1.5v1.5h-1.5zM233.9 956.2h1.5v1.5h-1.5zM228.8 951.1h1.5v1.5h-1.5zM227.2 936.5h1.5v1.5h-1.5zM227.9 935.9h1.5v1.5h-1.5zM234.0 950.2h1.5v1.5h-1.5zM235.1 943.1h1.5v1.5h-1.5zM231.3 938.9h1.5v1.5h-1.5zM225.9 946.6h1.5v1.5h-1.5zM231.3 934.9h1.5v1.5h-1.5zM232.5 930.2h1.5v1.5h-1.5zM229.6 938.5h1.5v1.5h-1.5zM228.2 935.1h1.5v1.5h-1.5zM233.9 947.5h1.5v1.5h-1.5zM234.7 944.2h1.5v1.5h-1.5zM225.3 940.4h1.5v1.5h-1.5zM225.7 946.6h1.5v1.5h-1.5zM234.8 945.6h1.5v1.5h-1.5zM227.9 940.4h1.5v1.5h-1.5zM231.0 932.3h1.5v1.5h-1.5zM230.8 944.6h1.5v1.5h-1.5z" fill="#000"/><path d="M258.4 925.3h1.3v1.3h-1.3zM230.0 916.9h1.3v1.3h-1.3zM264.1 915.1h1.3v1.3h-1.3zM234.2 916.4h1.3v1.3h-1.3zM241.4 908.8h1.3v1.3h-1.3zM236.1 909.0h1.3v1.3h-1.3zM237.5 908.5h1.3v1.3h-1.3zM252.0 928.5h1.3v1.3h-1.3zM234.9 936.9h1.3v1.3h-1.3zM254.5 927.5h1.3v1.3h-1.3zM255.3 925.2h1.3v1.3h-1.3zM268.0 898.6h1.3v1.3h-1.3zM228.0 918.5h1.3v1.3h-1.3zM231.9 931.0h1.3v1.3h-1.3zM262.7 922.8h1.3v1.3h-1.3zM246.2 909.4h1.3v1.3h-1.3zM259.4 921.4h1.3v1.3h-1.3zM249.3 904.5h1.3v1.3h-1.3zM239.6 935.9h1.3v1.3h-1.3zM261.7 919.9h1.3v1.3h-1.3zM257.2 899.6h1.3v1.3h-1.3zM240.7 906.0h1.3v1.3h-1.3zM264.9 917.2h1.3v1.3h-1.3zM255.0 924.2h1.3v1.3h-1.3zM266.5 902.2h1.3v1.3h-1.3zM294.4 884.9h1.3v1.3h-1.3zM246.9 931.8h1.3v1.3h-1.3zM255.7 926.0h1.3v1.3h-1.3zM260.6 898.9h1.3v1.3h-1.3zM233.2 921.1h1.3v1.3h-1.3zM259.8 922.0h1.3v1.3h-1.3zM253.8 929.5h1.3v1.3h-1.3zM267.9 911.5h1.3v1.3h-1.3zM248.9 937.0h1.3v1.3h-1.3zM275.5 900.6h1.3v1.3h-1.3zM241.3 905.6h1.3v1.3h-1.3zM253.8 905.7h1.3v1.3h-1.3zM255.5 898.3h1.3v1.3h-1.3zM241.2 910.5h1.3v1.3h-1.3zM239.9 939.8h1.3v1.3h-1.3zM240.7 914.2h1.3v1.3h-1.3zM237.4 936.6h1.3v1.3h-1.3zM256.4 901.9h1.3v1.3h-1.3zM251.7 931.6h1.3v1.3h-1.3zM253.0 926.6h1.3v1.3h-1.3zM233.7 916.7h1.3v1.3h-1.3zM250.8 901.5h1.3v1.3h-1.3zM232.2 931.1h1.3v1.3h-1.3zM226.8 932.1h1.3v1.3h-1.3zM257.1 927.9h1.3v1.3h-1.3zM241.0 931.7h1.3v1.3h-1.3zM254.7 904.1h1.3v1.3h-1.3zM230.1 923.5h1.3v1.3h-1.3zM263.7 915.6h1.3v1.3h-1.3zM271.7 891.4h1.3v1.3h-1.3zM236.1 919.0h1.3v1.3h-1.3zM266.3 913.6h1.3v1.3h-1.3zM246.0 938.8h1.3v1.3h-1.3zM227.3 938.7h1.3v1.3h-1.3zM230.3 934.3h1.3v1.3h-1.3zM265.0 896.2h1.3v1.3h-1.3zM225.1 920.0h1.3v1.3h-1.3zM226.5 920.5h1.3v1.3h-1.3zM279.4 895.2h1.3v1.3h-1.3zM272.3 899.1h1.3v1.3h-1.3zM260.9 898.1h1.3v1.3h-1.3zM235.9 907.4h1.3v1.3h-1.3zM236.4 902.9h1.3v1.3h-1.3zM251.6 906.1h1.3v1.3h-1.3zM257.2 904.9h1.3v1.3h-1.3z" fill="#000"/><path d="M270.3 900.8h1.4v1.4h-1.4zM265.9 898.5h1.4v1.4h-1.4zM263.3 902.4h1.4v1.4h-1.4zM268.9 905.2h1.4v1.4h-1.4zM261.2 903.7h1.4v1.4h-1.4zM261.7 905.2h1.4v1.4h-1.4zM262.9 906.2h1.4v1.4h-1.4zM267.6 906.3h1.4v1.4h-1.4zM259.9 901.2h1.4v1.4h-1.4zM261.2 907.1h1.4v1.4h-1.4zM262.4 903.3h1.4v1.4h-1.4zM263.7 901.7h1.4v1.4h-1.4zM260.1 905.9h1.4v1.4h-1.4zM262.5 903.8h1.4v1.4h-1.4zM264.2 903.5h1.4v1.4h-1.4zM261.4 903.8h1.4v1.4h-1.4zM265.0 904.9h1.4v1.4h-1.4zM260.0 904.1h1.4v1.4h-1.4zM265.1 908.9h1.4v1.4h-1.4zM260.1 905.5h1.4v1.4h-1.4zM262.6 906.6h1.4v1.4h-1.4zM264.6 908.0h1.4v1.4h-1.4zM264.8 903.6h1.4v1.4h-1.4zM261.8 905.7h1.4v1.4h-1.4zM264.4 910.1h1.4v1.4h-1.4zM268.0 902.2h1.4v1.4h-1.4zM264.3 901.9h1.4v1.4h-1.4zM258.7 906.4h1.4v1.4h-1.4zM264.8 902.5h1.4v1.4h-1.4zM267.9 902.6h1.4v1.4h-1.4zM260.0 906.2h1.4v1.4h-1.4zM263.9 904.4h1.4v1.4h-1.4zM263.1 905.3h1.4v1.4h-1.4zM262.9 904.4h1.4v1.4h-1.4zM258.0 901.8h1.4v1.4h-1.4zM265.0 903.3h1.4v1.4h-1.4zM264.8 907.5h1.4v1.4h-1.4zM262.3 905.4h1.4v1.4h-1.4zM269.1 906.3h1.4v1.4h-1.4zM268.5 908.2h1.4v1.4h-1.4zM265.4 904.6h1.4v1.4h-1.4zM260.9 902.4h1.4v1.4h-1.4zM264.7 905.8h1.4v1.4h-1.4zM262.8 906.7h1.4v1.4h-1.4zM261.6 907.2h1.4v1.4h-1.4z" fill="#000"/><g fill="none" stroke="#333" stroke-width="0.75"><ellipse cx="250.00" cy="918.60" rx="24.00" ry="8.50" transform="rotate(-36.0 250.00 918.60)"/><ellipse cx="250.00" cy="918.60" rx="21.12" ry="7.48" transform="rotate(-36.0 250.00 918.60)"/><ellipse cx="250.00" cy="918.60" rx="18.24" ry="6.46" transform="rotate(-36.0 250.00 918.60)"/><ellipse cx="250.00" cy="918.60" rx="15.36" ry="5.44" transform="rotate(-36.0 250.00 918.60)"/><ellipse cx="250.00" cy="918.60" rx="12.48" ry="4.42" transform="rotate(-36.0 250.00 918.60)"/><ellipse cx="250.00" cy="918.60" rx="9.60" ry="3.40" transform="rotate(-36.0 250.00 918.60)"/><ellipse cx="250.00" cy="918.60" rx="6.72" ry="2.38" transform="rotate(-36.0 250.00 918.60)"/></g><path d="M231.6 967.1h1.2v1.2h-1.2zM231.4 966.5h1.2v1.2h-1.2zM246.3 952.9h1.2v1.2h-1.2zM232.5 978.6h1.2v1.2h-1.2zM235.7 964.7h1.2v1.2h-1.2zM241.8 957.8h1.2v1.2h-1.2zM225.6 972.5h1.2v1.2h-1.2zM226.0 946.0h1.2v1.2h-1.2zM236.7 974.3h1.2v1.2h-1.2zM235.8 963.0h1.2v1.2h-1.2zM232.5 958.7h1.2v1.2h-1.2zM241.8 974.5h1.2v1.2h-1.2zM235.9 949.9h1.2v1.2h-1.2zM236.2 980.8h1.2v1.2h-1.2zM238.7 974.5h1.2v1.2h-1.2zM231.4 964.3h1.2v1.2h-1.2zM235.0 970.8h1.2v1.2h-1.2zM232.8 964.6h1.2v1.2h-1.2zM241.5 956.9h1.2v1.2h-1.2zM231.3 962.2h1.2v1.2h-1.2zM237.6 980.3h1.2v1.2h-1.2zM238.9 974.2h1.2v1.2h-1.2zM225.9 986.1h1.2v1.2h-1.2zM234.5 966.4h1.2v1.2h-1.2zM231.5 964.3h1.2v1.2h-1.2zM233.9 970.2h1.2v1.2h-1.2zM229.2 944.3h1.2v1.2h-1.2zM231.2 971.7h1.2v1.2h-1.2zM234.6 966.0h1.2v1.2h-1.2zM234.1 976.7h1.2v1.2h-1.2zM228.6 980.6h1.2v1.2h-1.2zM227.5 956.1h1.2v1.2h-1.2zM226.0 945.4h1.2v1.2h-1.2zM225.4 978.6h1.2v1.2h-1.2zM238.8 968.3h1.2v1.2h-1.2zM241.7 969.6h1.2v1.2h-1.2zM228.4 969.6h1.2v1.2h-1.2zM230.6 974.0h1.2v1.2h-1.2zM226.2 976.4h1.2v1.2h-1.2zM228.6 975.1h1.2v1.2h-1.2zM226.3 963.6h1.2v1.2h-1.2zM231.9 975.5h1.2v1.2h-1.2zM225.3 982.4h1.2v1.2h-1.2zM234.3 962.7h1.2v1.2h-1.2zM238.7 968.3h1.2v1.2h-1.2z" fill="#000" fill-opacity="0.75"/><path d="M262.4 1030.8h1.3v1.3h-1.3zM257.3 1018.0h1.3v1.3h-1.3zM241.8 1023.0h1.3v1.3h-1.3zM251.1 1016.6h1.3v1.3h-1.3zM238.7 1023.3h1.3v1.3h-1.3zM277.9 1008.5h1.3v1.3h-1.3zM256.8 1019.4h1.3v1.3h-1.3zM257.5 1024.3h1.3v1.3h-1.3zM248.0 1015.8h1.3v1.3h-1.3zM229.2 1011.9h1.3v1.3h-1.3zM263.2 1019.4h1.3v1.3h-1.3zM240.3 1019.1h1.3v1.3h-1.3zM229.9 1021.7h1.3v1.3h-1.3zM264.5 1025.5h1.3v1.3h-1.3zM227.0 1026.5h1.3v1.3h-1.3zM237.4 1011.7h1.3v1.3h-1.3zM231.4 1016.0h1.3v1.3h-1.3zM247.3 1015.7h1.3v1.3h-1.3zM227.7 1019.2h1.3v1.3h-1.3zM272.4 1017.2h1.3v1.3h-1.3zM253.4 1020.7h1.3v1.3h-1.3zM281.9 1011.8h1.3v1.3h-1.3zM261.6 1014.6h1.3v1.3h-1.3zM239.6 1019.9h1.3v1.3h-1.3zM288.8 1016.9h1.3v1.3h-1.3zM225.9 1026.2h1.3v1.3h-1.3zM236.4 1019.3h1.3v1.3h-1.3zM247.0 1020.8h1.3v1.3h-1.3zM245.1 1021.6h1.3v1.3h-1.3zM252.4 1024.2h1.3v1.3h-1.3zM241.8 1017.0h1.3v1.3h-1.3zM233.5 1023.0h1.3v1.3h-1.3zM246.7 1022.8h1.3v1.3h-1.3zM254.3 1027.9h1.3v1.3h-1.3zM250.0 1023.7h1.3v1.3h-1.3zM231.7 1015.5h1.3v1.3h-1.3zM243.3 1014.9h1.3v1.3h-1.3zM256.3 1014.4h1.3v1.3h-1.3zM248.2 1009.3h1.3v1.3h-1.3zM233.0 1018.8h1.3v1.3h-1.3zM244.0 1012.3h1.3v1.3h-1.3zM248.8 1024.7h1.3v1.3h-1.3zM255.8 1017.4h1.3v1.3h-1.3zM239.7 1015.0h1.3v1.3h-1.3zM255.5 1026.8h1.3v1.3h-1.3zM240.5 1012.7h1.3v1.3h-1.3zM250.0 1023.5h1.3v1.3h-1.3zM231.3 1021.0h1.3v1.3h-1.3zM275.5 1024.0h1.3v1.3h-1.3zM254.5 1022.2h1.3v1.3h-1.3zM261.2 1016.1h1.3v1.3h-1.3zM236.4 1022.2h1.3v1.3h-1.3zM238.4 1021.5h1.3v1.3h-1.3zM226.0 1023.8h1.3v1.3h-1.3zM258.4 1020.5h1.3v1.3h-1.3zM249.5 1027.6h1.3v1.3h-1.3zM233.3 1016.2h1.3v1.3h-1.3zM233.1 1018.4h1.3v1.3h-1.3zM234.2 1020.5h1.3v1.3h-1.3zM238.9 1013.8h1.3v1.3h-1.3zM227.2 1025.8h1.3v1.3h-1.3zM246.5 1019.3h1.3v1.3h-1.3zM247.7 1020.0h1.3v1.3h-1.3zM257.2 1022.9h1.3v1.3h-1.3zM239.7 1016.6h1.3v1.3h-1.3zM233.2 1014.7h1.3v1.3h-1.3zM265.6 1016.2h1.3v1.3h-1.3zM226.7 1016.6h1.3v1.3h-1.3zM237.1 1021.8h1.3v1.3h-1.3zM235.8 1022.8h1.3v1.3h-1.3zM252.4 1026.1h1.3v1.3h-1.3zM275.5 1033.2h1.3v1.3h-1.3zM264.9 1015.1h1.3v1.3h-1.3zM242.1 1021.5h1.3v1.3h-1.3zM274.2 1023.4h1.3v1.3h-1.3zM263.0 1019.6h1.3v1.3h-1.3zM255.0 1023.6h1.3v1.3h-1.3zM241.4 1023.8h1.3v1.3h-1.3zM261.3 1019.6h1.3v1.3h-1.3zM260.6 1027.8h1.3v1.3h-1.3zM248.2 1020.4h1.3v1.3h-1.3zM243.3 1017.6h1.3v1.3h-1.3zM249.4 1018.5h1.3v1.3h-1.3zM243.3 1016.9h1.3v1.3h-1.3zM227.4 1016.1h1.3v1.3h-1.3zM251.6 1015.0h1.3v1.3h-1.3zM238.9 1027.7h1.3v1.3h-1.3zM262.0 1017.2h1.3v1.3h-1.3zM255.2 1017.4h1.3v1.3h-1.3zM268.5 1017.7h1.3v1.3h-1.3z" fill="#000" fill-opacity="0.85"/>
<rect x="221.70" y="986.60" width="62.90" height="75.80" stroke="#000" stroke-width="1.50" fill="none"/>
<g transform="translate(286.40 1039.10) scale(0.9532 1)"><text x="0.00" y="0.00" font-size="37.70">0.4</text></g>
<rect x="348.60" y="867.00" width="206.20" height="205.50" stroke="#555" stroke-width="1.30" fill="none"/><path d="M343.1 1059.6H348.6M361.4 1072.5V1078.0M343.1 1024.7H348.6M395.2 1072.5V1078.0M343.1 991.4H348.6M429.0 1072.5V1078.0M343.1 935.7H348.6M484.9 1072.5V1078.0M343.1 886.0H348.6M535.0 1072.5V1078.0" stroke="#000" stroke-width="1.8" fill="none"/><path d="M345.4 1029.5H348.6M390.5 1072.5V1075.7M345.4 1034.1H348.6M386.0 1072.5V1075.7M345.4 1038.5H348.6M381.9 1072.5V1075.7M345.4 1042.4H348.6M378.0 1072.5V1075.7M345.4 1046.0H348.6M374.5 1072.5V1075.7M345.4 1049.3H348.6M371.4 1072.5V1075.7M345.4 1052.2H348.6M368.5 1072.5V1075.7M345.4 1054.9H348.6M365.9 1072.5V1075.7M345.4 1057.4H348.6M363.6 1072.5V1075.7M345.4 1020.1H348.6M399.9 1072.5V1075.7M345.4 1015.7H348.6M404.4 1072.5V1075.7M345.4 1011.6H348.6M408.5 1072.5V1075.7M345.4 1007.8H348.6M412.4 1072.5V1075.7M345.4 1004.3H348.6M415.9 1072.5V1075.7M345.4 1001.2H348.6M419.0 1072.5V1075.7M345.4 998.4H348.6M421.9 1072.5V1075.7M345.4 995.9H348.6M424.5 1072.5V1075.7M345.4 993.5H348.6M426.8 1072.5V1075.7M345.4 1025.2H348.6M394.7 1072.5V1075.7M345.4 1026.2H348.6M393.8 1072.5V1075.7M345.4 1027.1H348.6M392.9 1072.5V1075.7M345.4 1028.1H348.6M391.9 1072.5V1075.7M345.4 1029.0H348.6M391.0 1072.5V1075.7M345.4 1024.2H348.6M395.7 1072.5V1075.7M345.4 1023.3H348.6M396.6 1072.5V1075.7M345.4 1022.4H348.6M397.5 1072.5V1075.7M345.4 1021.5H348.6M398.5 1072.5V1075.7M345.4 1020.6H348.6M399.4 1072.5V1075.7M345.4 975.2H348.6M445.2 1072.5V1075.7M345.4 965.4H348.6M455.1 1072.5V1075.7M345.4 958.3H348.6M462.2 1072.5V1075.7M345.4 952.8H348.6M467.7 1072.5V1075.7M345.4 948.3H348.6M472.2 1072.5V1075.7M345.4 944.5H348.6M476.0 1072.5V1075.7M345.4 941.2H348.6M479.4 1072.5V1075.7M345.4 938.3H348.6M482.3 1072.5V1075.7M345.4 920.7H348.6M500.0 1072.5V1075.7M345.4 912.0H348.6M508.8 1072.5V1075.7M345.4 905.8H348.6M515.1 1072.5V1075.7M345.4 901.0H348.6M519.9 1072.5V1075.7M345.4 897.0H348.6M523.9 1072.5V1075.7M345.4 893.7H348.6M527.2 1072.5V1075.7M345.4 890.8H348.6M530.1 1072.5V1075.7M345.4 888.3H348.6M532.7 1072.5V1075.7M345.4 871.0H348.6M550.1 1072.5V1075.7" stroke="#000" stroke-width="1.1" fill="none"/>
<path d="M450.5 938.3h1.5v1.5h-1.5zM448.2 923.9h1.5v1.5h-1.5zM456.6 950.8h1.5v1.5h-1.5zM448.5 948.1h1.5v1.5h-1.5zM450.8 938.1h1.5v1.5h-1.5zM453.5 939.9h1.5v1.5h-1.5zM448.5 936.3h1.5v1.5h-1.5zM451.5 941.5h1.5v1.5h-1.5zM451.8 937.7h1.5v1.5h-1.5zM450.2 935.6h1.5v1.5h-1.5zM452.9 943.7h1.5v1.5h-1.5zM451.0 945.3h1.5v1.5h-1.5zM445.9 948.1h1.5v1.5h-1.5zM457.6 930.0h1.5v1.5h-1.5zM445.5 931.0h1.5v1.5h-1.5zM452.9 943.2h1.5v1.5h-1.5zM453.8 947.7h1.5v1.5h-1.5zM450.6 944.4h1.5v1.5h-1.5zM449.1 948.8h1.5v1.5h-1.5zM445.5 939.1h1.5v1.5h-1.5zM450.7 955.8h1.5v1.5h-1.5zM446.8 934.2h1.5v1.5h-1.5zM447.6 949.5h1.5v1.5h-1.5zM448.9 952.2h1.5v1.5h-1.5zM445.8 950.7h1.5v1.5h-1.5zM453.7 931.6h1.5v1.5h-1.5zM450.3 951.4h1.5v1.5h-1.5zM450.1 949.7h1.5v1.5h-1.5zM458.8 944.3h1.5v1.5h-1.5zM448.7 936.5h1.5v1.5h-1.5zM452.2 940.8h1.5v1.5h-1.5zM449.1 941.5h1.5v1.5h-1.5zM452.2 934.3h1.5v1.5h-1.5zM445.2 924.0h1.5v1.5h-1.5zM454.3 942.8h1.5v1.5h-1.5zM455.5 942.2h1.5v1.5h-1.5zM446.9 945.8h1.5v1.5h-1.5zM449.5 932.8h1.5v1.5h-1.5zM446.4 955.5h1.5v1.5h-1.5zM451.1 945.4h1.5v1.5h-1.5zM448.7 937.1h1.5v1.5h-1.5zM453.1 941.5h1.5v1.5h-1.5zM446.9 941.2h1.5v1.5h-1.5zM446.3 943.7h1.5v1.5h-1.5zM454.0 936.0h1.5v1.5h-1.5zM455.2 937.2h1.5v1.5h-1.5zM450.3 936.0h1.5v1.5h-1.5zM448.9 942.6h1.5v1.5h-1.5zM448.1 937.0h1.5v1.5h-1.5zM447.2 936.1h1.5v1.5h-1.5zM445.2 940.3h1.5v1.5h-1.5zM451.3 949.1h1.5v1.5h-1.5zM452.2 960.7h1.5v1.5h-1.5zM451.0 938.8h1.5v1.5h-1.5zM456.9 934.4h1.5v1.5h-1.5zM453.4 935.1h1.5v1.5h-1.5zM451.1 927.5h1.5v1.5h-1.5zM453.2 941.1h1.5v1.5h-1.5zM446.1 954.8h1.5v1.5h-1.5zM452.7 942.6h1.5v1.5h-1.5zM446.9 941.9h1.5v1.5h-1.5zM449.1 947.7h1.5v1.5h-1.5zM452.8 937.2h1.5v1.5h-1.5zM447.7 938.3h1.5v1.5h-1.5zM444.8 937.8h1.5v1.5h-1.5zM449.4 947.4h1.5v1.5h-1.5zM454.8 936.2h1.5v1.5h-1.5zM451.8 938.9h1.5v1.5h-1.5zM457.6 941.9h1.5v1.5h-1.5zM451.7 935.2h1.5v1.5h-1.5zM446.7 943.8h1.5v1.5h-1.5zM448.3 944.9h1.5v1.5h-1.5zM445.2 947.2h1.5v1.5h-1.5zM446.3 955.2h1.5v1.5h-1.5zM448.7 950.5h1.5v1.5h-1.5zM444.9 945.5h1.5v1.5h-1.5zM446.4 938.6h1.5v1.5h-1.5zM449.8 939.9h1.5v1.5h-1.5zM450.8 947.9h1.5v1.5h-1.5zM452.2 941.6h1.5v1.5h-1.5zM444.8 936.2h1.5v1.5h-1.5zM449.0 926.3h1.5v1.5h-1.5zM452.6 940.5h1.5v1.5h-1.5zM448.8 949.4h1.5v1.5h-1.5zM452.3 943.9h1.5v1.5h-1.5zM445.9 944.6h1.5v1.5h-1.5zM451.1 935.6h1.5v1.5h-1.5zM453.7 946.1h1.5v1.5h-1.5zM446.0 943.2h1.5v1.5h-1.5zM444.9 950.8h1.5v1.5h-1.5zM452.8 934.0h1.5v1.5h-1.5zM446.4 943.0h1.5v1.5h-1.5zM448.8 953.7h1.5v1.5h-1.5zM452.6 940.1h1.5v1.5h-1.5zM451.9 927.0h1.5v1.5h-1.5zM450.9 948.7h1.5v1.5h-1.5zM449.1 936.9h1.5v1.5h-1.5zM451.9 956.9h1.5v1.5h-1.5zM450.5 933.8h1.5v1.5h-1.5zM455.2 928.2h1.5v1.5h-1.5zM451.7 937.9h1.5v1.5h-1.5zM453.3 935.9h1.5v1.5h-1.5zM454.8 944.5h1.5v1.5h-1.5zM445.5 927.4h1.5v1.5h-1.5zM448.5 952.0h1.5v1.5h-1.5zM450.2 942.8h1.5v1.5h-1.5zM448.9 947.8h1.5v1.5h-1.5zM451.2 944.4h1.5v1.5h-1.5zM446.0 951.2h1.5v1.5h-1.5zM454.9 932.5h1.5v1.5h-1.5zM458.5 947.7h1.5v1.5h-1.5zM447.9 928.0h1.5v1.5h-1.5zM452.2 946.4h1.5v1.5h-1.5zM447.5 928.8h1.5v1.5h-1.5zM454.0 937.8h1.5v1.5h-1.5zM448.0 963.6h1.5v1.5h-1.5zM457.8 949.4h1.5v1.5h-1.5zM448.0 947.1h1.5v1.5h-1.5zM446.6 943.0h1.5v1.5h-1.5zM446.9 932.6h1.5v1.5h-1.5zM445.3 946.2h1.5v1.5h-1.5zM450.1 943.4h1.5v1.5h-1.5zM453.0 935.9h1.5v1.5h-1.5zM445.1 928.9h1.5v1.5h-1.5zM448.5 948.0h1.5v1.5h-1.5zM449.2 947.1h1.5v1.5h-1.5zM445.3 938.7h1.5v1.5h-1.5zM446.8 932.9h1.5v1.5h-1.5zM456.8 948.6h1.5v1.5h-1.5zM446.9 936.5h1.5v1.5h-1.5zM449.5 931.4h1.5v1.5h-1.5zM451.4 932.5h1.5v1.5h-1.5zM448.3 934.6h1.5v1.5h-1.5zM447.9 932.3h1.5v1.5h-1.5zM445.2 935.0h1.5v1.5h-1.5zM447.2 940.0h1.5v1.5h-1.5zM450.0 953.7h1.5v1.5h-1.5zM452.8 940.4h1.5v1.5h-1.5zM452.5 937.1h1.5v1.5h-1.5zM455.3 946.4h1.5v1.5h-1.5zM444.8 947.9h1.5v1.5h-1.5zM452.9 922.1h1.5v1.5h-1.5zM446.9 938.7h1.5v1.5h-1.5zM445.9 934.2h1.5v1.5h-1.5zM446.1 946.1h1.5v1.5h-1.5zM450.9 961.9h1.5v1.5h-1.5zM448.3 950.9h1.5v1.5h-1.5zM450.0 944.3h1.5v1.5h-1.5zM445.3 927.9h1.5v1.5h-1.5zM446.8 948.0h1.5v1.5h-1.5zM455.8 946.8h1.5v1.5h-1.5zM451.6 936.0h1.5v1.5h-1.5zM455.6 952.3h1.5v1.5h-1.5zM447.7 941.9h1.5v1.5h-1.5zM446.0 953.3h1.5v1.5h-1.5zM451.3 941.5h1.5v1.5h-1.5zM451.3 945.6h1.5v1.5h-1.5zM448.2 932.9h1.5v1.5h-1.5zM444.9 929.2h1.5v1.5h-1.5zM451.5 958.9h1.5v1.5h-1.5zM445.5 943.3h1.5v1.5h-1.5zM451.3 934.9h1.5v1.5h-1.5zM450.5 934.0h1.5v1.5h-1.5zM454.3 937.8h1.5v1.5h-1.5zM450.1 947.4h1.5v1.5h-1.5zM448.1 928.8h1.5v1.5h-1.5zM447.7 948.0h1.5v1.5h-1.5zM449.4 944.0h1.5v1.5h-1.5zM445.6 943.3h1.5v1.5h-1.5zM452.5 942.5h1.5v1.5h-1.5zM457.0 940.7h1.5v1.5h-1.5zM445.8 930.1h1.5v1.5h-1.5zM454.1 941.8h1.5v1.5h-1.5zM453.6 945.7h1.5v1.5h-1.5zM455.9 951.7h1.5v1.5h-1.5zM448.3 944.3h1.5v1.5h-1.5zM453.9 933.0h1.5v1.5h-1.5zM455.3 951.3h1.5v1.5h-1.5zM453.5 940.7h1.5v1.5h-1.5zM450.9 933.9h1.5v1.5h-1.5zM450.0 937.8h1.5v1.5h-1.5zM450.1 938.5h1.5v1.5h-1.5zM450.8 951.1h1.5v1.5h-1.5zM444.8 949.2h1.5v1.5h-1.5zM446.0 926.0h1.5v1.5h-1.5zM449.3 942.3h1.5v1.5h-1.5zM451.4 929.9h1.5v1.5h-1.5zM449.5 943.2h1.5v1.5h-1.5zM454.5 941.5h1.5v1.5h-1.5zM451.8 934.9h1.5v1.5h-1.5zM449.0 938.9h1.5v1.5h-1.5zM452.4 934.8h1.5v1.5h-1.5zM446.6 946.6h1.5v1.5h-1.5zM456.5 945.1h1.5v1.5h-1.5zM450.9 939.7h1.5v1.5h-1.5zM453.9 946.3h1.5v1.5h-1.5zM456.3 944.7h1.5v1.5h-1.5zM446.1 938.0h1.5v1.5h-1.5zM446.0 932.9h1.5v1.5h-1.5zM454.6 948.3h1.5v1.5h-1.5zM445.0 955.6h1.5v1.5h-1.5zM450.7 935.1h1.5v1.5h-1.5zM451.2 941.7h1.5v1.5h-1.5zM446.8 927.7h1.5v1.5h-1.5zM449.9 944.4h1.5v1.5h-1.5zM447.2 946.4h1.5v1.5h-1.5zM452.1 938.7h1.5v1.5h-1.5zM450.2 940.1h1.5v1.5h-1.5zM446.6 939.5h1.5v1.5h-1.5zM454.9 931.4h1.5v1.5h-1.5zM450.7 943.6h1.5v1.5h-1.5zM447.1 938.9h1.5v1.5h-1.5zM444.9 935.9h1.5v1.5h-1.5zM449.8 944.7h1.5v1.5h-1.5zM446.3 965.2h1.5v1.5h-1.5zM447.6 943.2h1.5v1.5h-1.5zM448.9 939.3h1.5v1.5h-1.5zM454.7 938.7h1.5v1.5h-1.5zM454.8 950.8h1.5v1.5h-1.5zM445.8 950.0h1.5v1.5h-1.5zM447.3 962.8h1.5v1.5h-1.5zM448.3 935.2h1.5v1.5h-1.5zM445.9 932.6h1.5v1.5h-1.5zM447.5 934.8h1.5v1.5h-1.5zM445.1 937.0h1.5v1.5h-1.5zM449.0 953.1h1.5v1.5h-1.5zM445.5 938.1h1.5v1.5h-1.5zM446.1 930.9h1.5v1.5h-1.5zM444.9 935.5h1.5v1.5h-1.5zM452.5 940.8h1.5v1.5h-1.5zM447.7 946.8h1.5v1.5h-1.5zM450.8 940.6h1.5v1.5h-1.5zM451.2 936.0h1.5v1.5h-1.5zM452.1 945.8h1.5v1.5h-1.5zM448.2 933.1h1.5v1.5h-1.5zM455.5 943.0h1.5v1.5h-1.5zM461.3 937.3h1.5v1.5h-1.5zM453.0 939.0h1.5v1.5h-1.5zM450.7 948.5h1.5v1.5h-1.5zM446.7 941.5h1.5v1.5h-1.5zM450.4 943.1h1.5v1.5h-1.5zM452.0 949.9h1.5v1.5h-1.5zM452.9 944.2h1.5v1.5h-1.5zM448.4 933.8h1.5v1.5h-1.5zM447.0 938.3h1.5v1.5h-1.5zM452.3 939.5h1.5v1.5h-1.5zM445.0 946.9h1.5v1.5h-1.5zM446.7 936.5h1.5v1.5h-1.5zM448.9 945.8h1.5v1.5h-1.5zM446.8 933.8h1.5v1.5h-1.5zM450.4 939.5h1.5v1.5h-1.5zM446.5 938.2h1.5v1.5h-1.5zM455.0 938.8h1.5v1.5h-1.5zM452.5 948.2h1.5v1.5h-1.5zM448.0 945.6h1.5v1.5h-1.5zM448.0 937.7h1.5v1.5h-1.5zM445.5 948.8h1.5v1.5h-1.5zM448.2 938.1h1.5v1.5h-1.5zM445.5 955.8h1.5v1.5h-1.5zM452.6 941.3h1.5v1.5h-1.5zM447.1 930.8h1.5v1.5h-1.5zM450.9 944.4h1.5v1.5h-1.5zM444.9 951.0h1.5v1.5h-1.5zM452.7 935.0h1.5v1.5h-1.5zM447.6 939.0h1.5v1.5h-1.5zM450.4 941.2h1.5v1.5h-1.5zM445.4 953.3h1.5v1.5h-1.5zM451.0 951.7h1.5v1.5h-1.5zM454.5 940.7h1.5v1.5h-1.5zM451.0 947.8h1.5v1.5h-1.5zM452.7 941.0h1.5v1.5h-1.5zM447.4 942.5h1.5v1.5h-1.5zM446.7 938.1h1.5v1.5h-1.5zM446.1 942.9h1.5v1.5h-1.5zM445.8 938.1h1.5v1.5h-1.5zM449.5 944.6h1.5v1.5h-1.5zM456.9 943.8h1.5v1.5h-1.5zM444.9 943.2h1.5v1.5h-1.5zM447.5 945.2h1.5v1.5h-1.5zM447.1 936.9h1.5v1.5h-1.5zM447.8 937.5h1.5v1.5h-1.5zM445.7 937.2h1.5v1.5h-1.5zM449.7 951.3h1.5v1.5h-1.5zM448.6 939.5h1.5v1.5h-1.5zM452.0 946.3h1.5v1.5h-1.5zM455.8 946.6h1.5v1.5h-1.5zM449.7 952.3h1.5v1.5h-1.5zM455.6 938.7h1.5v1.5h-1.5zM450.4 929.6h1.5v1.5h-1.5zM448.4 935.6h1.5v1.5h-1.5zM448.9 938.6h1.5v1.5h-1.5zM449.1 941.5h1.5v1.5h-1.5zM451.6 944.0h1.5v1.5h-1.5zM447.6 932.6h1.5v1.5h-1.5zM454.4 952.9h1.5v1.5h-1.5zM448.0 946.5h1.5v1.5h-1.5zM445.1 930.5h1.5v1.5h-1.5zM448.7 953.3h1.5v1.5h-1.5zM445.8 936.0h1.5v1.5h-1.5zM455.9 928.0h1.5v1.5h-1.5zM452.2 945.9h1.5v1.5h-1.5zM449.0 943.7h1.5v1.5h-1.5zM459.7 933.8h1.5v1.5h-1.5zM448.6 940.5h1.5v1.5h-1.5zM447.1 932.2h1.5v1.5h-1.5zM455.8 943.9h1.5v1.5h-1.5zM445.6 937.0h1.5v1.5h-1.5zM451.3 945.3h1.5v1.5h-1.5zM445.0 941.6h1.5v1.5h-1.5zM450.7 945.2h1.5v1.5h-1.5zM451.2 928.6h1.5v1.5h-1.5zM456.8 943.8h1.5v1.5h-1.5zM456.6 963.7h1.5v1.5h-1.5zM449.1 933.0h1.5v1.5h-1.5zM453.0 940.9h1.5v1.5h-1.5zM448.0 934.5h1.5v1.5h-1.5zM456.2 938.9h1.5v1.5h-1.5zM444.9 938.9h1.5v1.5h-1.5zM445.4 943.4h1.5v1.5h-1.5zM448.2 934.3h1.5v1.5h-1.5z" fill="#000"/><path d="M481.8 916.6h1.3v1.3h-1.3zM491.9 905.7h1.3v1.3h-1.3zM452.2 921.0h1.3v1.3h-1.3zM495.9 908.1h1.3v1.3h-1.3zM474.5 921.1h1.3v1.3h-1.3zM451.4 928.7h1.3v1.3h-1.3zM469.2 899.5h1.3v1.3h-1.3zM478.2 922.2h1.3v1.3h-1.3zM458.5 912.0h1.3v1.3h-1.3zM469.0 935.9h1.3v1.3h-1.3zM461.8 908.8h1.3v1.3h-1.3zM466.7 928.5h1.3v1.3h-1.3zM477.2 890.6h1.3v1.3h-1.3zM447.1 940.5h1.3v1.3h-1.3zM465.4 927.4h1.3v1.3h-1.3zM476.7 919.7h1.3v1.3h-1.3zM490.4 881.4h1.3v1.3h-1.3zM457.6 912.5h1.3v1.3h-1.3zM452.0 908.3h1.3v1.3h-1.3zM451.9 909.8h1.3v1.3h-1.3zM471.6 899.2h1.3v1.3h-1.3zM488.6 910.8h1.3v1.3h-1.3zM468.1 925.4h1.3v1.3h-1.3zM490.9 903.6h1.3v1.3h-1.3zM465.2 927.1h1.3v1.3h-1.3zM485.2 907.6h1.3v1.3h-1.3zM449.9 926.8h1.3v1.3h-1.3zM492.8 897.3h1.3v1.3h-1.3zM469.1 905.7h1.3v1.3h-1.3zM462.7 930.7h1.3v1.3h-1.3zM456.1 933.0h1.3v1.3h-1.3zM447.3 928.9h1.3v1.3h-1.3zM469.6 926.2h1.3v1.3h-1.3zM446.4 921.0h1.3v1.3h-1.3zM466.8 899.0h1.3v1.3h-1.3zM448.7 927.2h1.3v1.3h-1.3zM478.6 920.9h1.3v1.3h-1.3zM472.4 896.5h1.3v1.3h-1.3zM450.1 935.8h1.3v1.3h-1.3zM463.0 931.0h1.3v1.3h-1.3zM500.8 888.1h1.3v1.3h-1.3zM480.5 918.7h1.3v1.3h-1.3zM466.2 904.7h1.3v1.3h-1.3zM477.0 919.7h1.3v1.3h-1.3zM459.0 907.9h1.3v1.3h-1.3zM474.6 901.1h1.3v1.3h-1.3zM462.9 928.0h1.3v1.3h-1.3zM477.7 920.6h1.3v1.3h-1.3zM451.6 936.6h1.3v1.3h-1.3zM451.0 931.4h1.3v1.3h-1.3zM480.3 927.7h1.3v1.3h-1.3zM464.0 940.7h1.3v1.3h-1.3zM489.5 902.6h1.3v1.3h-1.3zM487.6 902.2h1.3v1.3h-1.3zM449.3 928.0h1.3v1.3h-1.3zM450.3 931.8h1.3v1.3h-1.3zM447.7 914.6h1.3v1.3h-1.3zM488.3 910.6h1.3v1.3h-1.3zM486.4 905.5h1.3v1.3h-1.3zM500.0 894.2h1.3v1.3h-1.3zM459.5 934.4h1.3v1.3h-1.3zM486.0 907.7h1.3v1.3h-1.3zM498.5 900.5h1.3v1.3h-1.3zM451.1 938.8h1.3v1.3h-1.3zM489.3 906.5h1.3v1.3h-1.3zM445.6 937.4h1.3v1.3h-1.3zM479.4 898.4h1.3v1.3h-1.3zM474.1 897.5h1.3v1.3h-1.3zM491.5 892.5h1.3v1.3h-1.3zM451.9 934.2h1.3v1.3h-1.3z" fill="#000"/><path d="M484.4 903.8h1.4v1.4h-1.4zM480.8 900.5h1.4v1.4h-1.4zM482.8 902.6h1.4v1.4h-1.4zM480.0 904.4h1.4v1.4h-1.4zM484.1 903.6h1.4v1.4h-1.4zM485.9 902.3h1.4v1.4h-1.4zM487.5 901.5h1.4v1.4h-1.4zM485.2 905.1h1.4v1.4h-1.4zM483.0 904.5h1.4v1.4h-1.4zM480.1 900.4h1.4v1.4h-1.4zM483.1 902.1h1.4v1.4h-1.4zM485.4 903.8h1.4v1.4h-1.4zM485.4 904.4h1.4v1.4h-1.4zM484.3 903.9h1.4v1.4h-1.4zM482.7 902.7h1.4v1.4h-1.4zM489.4 899.9h1.4v1.4h-1.4zM483.2 905.9h1.4v1.4h-1.4zM484.9 906.8h1.4v1.4h-1.4zM485.2 900.9h1.4v1.4h-1.4zM482.8 900.6h1.4v1.4h-1.4zM486.5 906.9h1.4v1.4h-1.4zM482.5 904.9h1.4v1.4h-1.4zM482.5 900.6h1.4v1.4h-1.4zM482.4 900.2h1.4v1.4h-1.4zM482.1 904.2h1.4v1.4h-1.4zM485.7 906.6h1.4v1.4h-1.4zM482.7 904.2h1.4v1.4h-1.4zM484.9 904.9h1.4v1.4h-1.4zM475.7 902.0h1.4v1.4h-1.4zM485.9 901.2h1.4v1.4h-1.4zM484.4 905.5h1.4v1.4h-1.4zM478.4 903.3h1.4v1.4h-1.4zM484.3 903.7h1.4v1.4h-1.4zM479.4 904.4h1.4v1.4h-1.4zM482.1 905.5h1.4v1.4h-1.4zM484.8 902.5h1.4v1.4h-1.4zM484.1 902.1h1.4v1.4h-1.4zM481.7 900.2h1.4v1.4h-1.4zM483.0 905.4h1.4v1.4h-1.4zM483.9 903.6h1.4v1.4h-1.4zM481.8 902.5h1.4v1.4h-1.4zM485.7 900.3h1.4v1.4h-1.4zM489.3 903.5h1.4v1.4h-1.4zM489.6 906.2h1.4v1.4h-1.4zM482.4 905.2h1.4v1.4h-1.4z" fill="#000"/><g fill="none" stroke="#333" stroke-width="0.75"><ellipse cx="469.00" cy="916.60" rx="23.00" ry="8.50" transform="rotate(-37.0 469.00 916.60)"/><ellipse cx="469.00" cy="916.60" rx="20.24" ry="7.48" transform="rotate(-37.0 469.00 916.60)"/><ellipse cx="469.00" cy="916.60" rx="17.48" ry="6.46" transform="rotate(-37.0 469.00 916.60)"/><ellipse cx="469.00" cy="916.60" rx="14.72" ry="5.44" transform="rotate(-37.0 469.00 916.60)"/><ellipse cx="469.00" cy="916.60" rx="11.96" ry="4.42" transform="rotate(-37.0 469.00 916.60)"/><ellipse cx="469.00" cy="916.60" rx="9.20" ry="3.40" transform="rotate(-37.0 469.00 916.60)"/><ellipse cx="469.00" cy="916.60" rx="6.44" ry="2.38" transform="rotate(-37.0 469.00 916.60)"/></g><path d="M452.4 970.7h1.2v1.2h-1.2zM455.6 961.6h1.2v1.2h-1.2zM447.1 962.7h1.2v1.2h-1.2zM446.1 964.1h1.2v1.2h-1.2zM452.1 968.6h1.2v1.2h-1.2zM451.9 962.8h1.2v1.2h-1.2zM455.4 947.9h1.2v1.2h-1.2zM448.3 963.3h1.2v1.2h-1.2zM456.0 972.2h1.2v1.2h-1.2zM455.4 966.3h1.2v1.2h-1.2zM456.3 957.1h1.2v1.2h-1.2zM451.0 947.1h1.2v1.2h-1.2zM460.8 980.4h1.2v1.2h-1.2zM446.9 958.4h1.2v1.2h-1.2zM448.4 952.3h1.2v1.2h-1.2zM451.2 964.6h1.2v1.2h-1.2zM446.5 961.5h1.2v1.2h-1.2zM446.5 970.3h1.2v1.2h-1.2zM454.8 964.1h1.2v1.2h-1.2zM451.2 966.0h1.2v1.2h-1.2zM448.4 967.7h1.2v1.2h-1.2zM450.1 972.8h1.2v1.2h-1.2zM447.6 973.0h1.2v1.2h-1.2zM446.7 968.5h1.2v1.2h-1.2zM457.8 952.8h1.2v1.2h-1.2zM446.0 975.1h1.2v1.2h-1.2zM445.5 957.5h1.2v1.2h-1.2zM454.2 964.3h1.2v1.2h-1.2zM455.2 968.8h1.2v1.2h-1.2zM450.4 975.0h1.2v1.2h-1.2zM463.7 965.3h1.2v1.2h-1.2zM459.4 976.4h1.2v1.2h-1.2zM451.2 970.3h1.2v1.2h-1.2zM444.9 960.6h1.2v1.2h-1.2zM452.2 965.7h1.2v1.2h-1.2zM458.4 954.5h1.2v1.2h-1.2zM448.8 960.4h1.2v1.2h-1.2zM449.7 976.7h1.2v1.2h-1.2zM445.7 973.8h1.2v1.2h-1.2zM447.1 963.3h1.2v1.2h-1.2zM456.6 963.6h1.2v1.2h-1.2zM454.6 967.2h1.2v1.2h-1.2zM449.6 963.0h1.2v1.2h-1.2zM447.2 959.5h1.2v1.2h-1.2zM451.6 968.1h1.2v1.2h-1.2z" fill="#000" fill-opacity="0.75"/><path d="M446.3 1021.0h1.3v1.3h-1.3zM466.7 1006.1h1.3v1.3h-1.3zM447.3 1017.8h1.3v1.3h-1.3zM447.9 1009.7h1.3v1.3h-1.3zM459.3 1013.7h1.3v1.3h-1.3zM459.2 1017.1h1.3v1.3h-1.3zM450.4 1011.4h1.3v1.3h-1.3zM484.6 1005.5h1.3v1.3h-1.3zM454.6 1015.3h1.3v1.3h-1.3zM452.2 1022.6h1.3v1.3h-1.3zM460.9 1019.6h1.3v1.3h-1.3zM453.0 1022.4h1.3v1.3h-1.3zM473.9 1009.7h1.3v1.3h-1.3zM475.8 1016.4h1.3v1.3h-1.3zM471.3 1026.5h1.3v1.3h-1.3zM461.4 1008.1h1.3v1.3h-1.3zM460.0 1006.4h1.3v1.3h-1.3zM450.6 1009.8h1.3v1.3h-1.3zM451.7 1022.3h1.3v1.3h-1.3zM470.3 1008.9h1.3v1.3h-1.3zM473.9 1003.9h1.3v1.3h-1.3zM452.4 1013.9h1.3v1.3h-1.3zM474.6 1019.5h1.3v1.3h-1.3zM465.8 1023.3h1.3v1.3h-1.3zM469.0 1023.7h1.3v1.3h-1.3zM451.0 1003.9h1.3v1.3h-1.3zM455.5 1020.3h1.3v1.3h-1.3zM463.6 1020.7h1.3v1.3h-1.3zM469.1 1018.3h1.3v1.3h-1.3zM470.4 1010.3h1.3v1.3h-1.3zM473.7 1008.4h1.3v1.3h-1.3zM459.2 1005.7h1.3v1.3h-1.3zM466.6 1004.8h1.3v1.3h-1.3zM477.5 1006.2h1.3v1.3h-1.3zM463.7 1014.0h1.3v1.3h-1.3zM450.0 1023.1h1.3v1.3h-1.3zM455.4 1024.5h1.3v1.3h-1.3zM448.3 1009.7h1.3v1.3h-1.3zM449.0 1018.5h1.3v1.3h-1.3zM471.6 1016.4h1.3v1.3h-1.3zM458.7 1008.9h1.3v1.3h-1.3zM488.8 1019.8h1.3v1.3h-1.3zM448.1 1012.9h1.3v1.3h-1.3zM452.6 1025.2h1.3v1.3h-1.3zM484.4 1024.5h1.3v1.3h-1.3zM460.0 1011.1h1.3v1.3h-1.3zM445.4 1018.4h1.3v1.3h-1.3zM451.7 1012.5h1.3v1.3h-1.3zM453.0 1013.0h1.3v1.3h-1.3zM471.4 1026.0h1.3v1.3h-1.3zM462.5 1015.1h1.3v1.3h-1.3zM447.3 1007.0h1.3v1.3h-1.3zM447.9 1020.8h1.3v1.3h-1.3zM463.7 1021.3h1.3v1.3h-1.3zM465.8 1012.4h1.3v1.3h-1.3zM445.8 1012.6h1.3v1.3h-1.3zM445.5 1028.1h1.3v1.3h-1.3zM464.0 1012.6h1.3v1.3h-1.3zM484.8 1012.5h1.3v1.3h-1.3zM467.5 1014.0h1.3v1.3h-1.3zM465.1 1012.6h1.3v1.3h-1.3zM466.7 1024.4h1.3v1.3h-1.3zM445.5 1000.5h1.3v1.3h-1.3zM477.1 1016.1h1.3v1.3h-1.3zM471.4 1013.2h1.3v1.3h-1.3zM479.5 1027.0h1.3v1.3h-1.3zM446.6 1019.5h1.3v1.3h-1.3zM453.4 1004.5h1.3v1.3h-1.3zM457.1 1018.7h1.3v1.3h-1.3zM445.2 1006.6h1.3v1.3h-1.3z" fill="#000" fill-opacity="0.85"/>
<rect x="441.30" y="986.70" width="62.90" height="75.70" stroke="#000" stroke-width="1.50" fill="none"/>
<g transform="translate(507.99 1038.70) scale(0.9572 1)"><text x="0.00" y="0.00" font-size="37.70">0.4</text></g>
<rect x="571.10" y="869.30" width="206.10" height="204.70" stroke="#555" stroke-width="1.30" fill="none"/><path d="M565.6 1061.6H571.1M584.0 1074.0V1079.5M565.6 1026.7H571.1M618.5 1074.0V1079.5M565.6 993.4H571.1M651.5 1074.0V1079.5M565.6 937.7H571.1M707.4 1074.0V1079.5M565.6 888.0H571.1M756.3 1074.0V1079.5" stroke="#000" stroke-width="1.8" fill="none"/><path d="M567.9 1031.5H571.1M613.7 1074.0V1077.2M567.9 1036.1H571.1M609.2 1074.0V1077.2M567.9 1040.5H571.1M604.9 1074.0V1077.2M567.9 1044.4H571.1M601.0 1074.0V1077.2M567.9 1048.0H571.1M597.4 1074.0V1077.2M567.9 1051.3H571.1M594.2 1074.0V1077.2M567.9 1054.2H571.1M591.3 1074.0V1077.2M567.9 1056.9H571.1M588.6 1074.0V1077.2M567.9 1059.4H571.1M586.2 1074.0V1077.2M567.9 1022.1H571.1M623.1 1074.0V1077.2M567.9 1017.7H571.1M627.4 1074.0V1077.2M567.9 1013.6H571.1M631.5 1074.0V1077.2M567.9 1009.8H571.1M635.3 1074.0V1077.2M567.9 1006.3H571.1M638.7 1074.0V1077.2M567.9 1003.2H571.1M641.7 1074.0V1077.2M567.9 1000.4H571.1M644.5 1074.0V1077.2M567.9 997.9H571.1M647.1 1074.0V1077.2M567.9 995.5H571.1M649.4 1074.0V1077.2M567.9 1027.2H571.1M618.0 1074.0V1077.2M567.9 1028.2H571.1M617.1 1074.0V1077.2M567.9 1029.1H571.1M616.1 1074.0V1077.2M567.9 1030.1H571.1M615.2 1074.0V1077.2M567.9 1031.0H571.1M614.2 1074.0V1077.2M567.9 1026.2H571.1M619.0 1074.0V1077.2M567.9 1025.3H571.1M619.9 1074.0V1077.2M567.9 1024.4H571.1M620.8 1074.0V1077.2M567.9 1023.5H571.1M621.7 1074.0V1077.2M567.9 1022.6H571.1M622.6 1074.0V1077.2M567.9 977.2H571.1M667.7 1074.0V1077.2M567.9 967.4H571.1M677.6 1074.0V1077.2M567.9 960.3H571.1M684.7 1074.0V1077.2M567.9 954.8H571.1M690.2 1074.0V1077.2M567.9 950.3H571.1M694.7 1074.0V1077.2M567.9 946.5H571.1M698.5 1074.0V1077.2M567.9 943.2H571.1M701.9 1074.0V1077.2M567.9 940.3H571.1M704.8 1074.0V1077.2M567.9 922.7H571.1M722.1 1074.0V1077.2M567.9 914.0H571.1M730.7 1074.0V1077.2M567.9 907.8H571.1M736.8 1074.0V1077.2M567.9 903.0H571.1M741.6 1074.0V1077.2M567.9 899.0H571.1M745.4 1074.0V1077.2M567.9 895.7H571.1M748.7 1074.0V1077.2M567.9 892.8H571.1M751.6 1074.0V1077.2M567.9 890.3H571.1M754.1 1074.0V1077.2M567.9 873.0H571.1M771.0 1074.0V1077.2" stroke="#000" stroke-width="1.1" fill="none"/>
<path d="M681.4 927.8h1.5v1.5h-1.5zM674.1 943.7h1.5v1.5h-1.5zM670.2 946.5h1.5v1.5h-1.5zM669.0 946.4h1.5v1.5h-1.5zM668.4 974.8h1.5v1.5h-1.5zM673.3 945.4h1.5v1.5h-1.5zM671.0 942.9h1.5v1.5h-1.5zM667.5 945.1h1.5v1.5h-1.5zM674.4 946.3h1.5v1.5h-1.5zM676.6 946.7h1.5v1.5h-1.5zM672.4 960.6h1.5v1.5h-1.5zM674.7 944.2h1.5v1.5h-1.5zM671.4 952.6h1.5v1.5h-1.5zM681.0 946.1h1.5v1.5h-1.5zM671.2 956.3h1.5v1.5h-1.5zM668.3 945.9h1.5v1.5h-1.5zM676.2 952.9h1.5v1.5h-1.5zM672.7 953.6h1.5v1.5h-1.5zM670.8 956.4h1.5v1.5h-1.5zM667.9 934.9h1.5v1.5h-1.5zM673.5 953.9h1.5v1.5h-1.5zM670.2 939.6h1.5v1.5h-1.5zM672.4 947.8h1.5v1.5h-1.5zM678.6 954.2h1.5v1.5h-1.5zM673.1 957.1h1.5v1.5h-1.5zM671.3 940.8h1.5v1.5h-1.5zM674.9 952.9h1.5v1.5h-1.5zM671.3 942.0h1.5v1.5h-1.5zM673.3 928.3h1.5v1.5h-1.5zM675.4 952.2h1.5v1.5h-1.5zM668.1 948.7h1.5v1.5h-1.5zM667.9 954.3h1.5v1.5h-1.5zM669.0 940.9h1.5v1.5h-1.5zM675.4 957.5h1.5v1.5h-1.5zM669.3 944.3h1.5v1.5h-1.5zM673.7 943.4h1.5v1.5h-1.5zM679.4 938.7h1.5v1.5h-1.5zM673.8 939.9h1.5v1.5h-1.5zM678.6 948.1h1.5v1.5h-1.5zM670.6 934.5h1.5v1.5h-1.5zM679.8 954.3h1.5v1.5h-1.5zM675.6 957.4h1.5v1.5h-1.5zM673.8 943.1h1.5v1.5h-1.5zM668.6 941.8h1.5v1.5h-1.5zM678.4 936.6h1.5v1.5h-1.5zM669.6 945.7h1.5v1.5h-1.5zM673.3 952.9h1.5v1.5h-1.5zM667.3 934.4h1.5v1.5h-1.5zM672.2 958.0h1.5v1.5h-1.5zM675.7 950.0h1.5v1.5h-1.5zM670.8 950.6h1.5v1.5h-1.5zM671.2 954.8h1.5v1.5h-1.5zM668.7 949.3h1.5v1.5h-1.5zM671.8 952.6h1.5v1.5h-1.5zM673.3 968.7h1.5v1.5h-1.5zM679.0 960.2h1.5v1.5h-1.5zM669.0 945.5h1.5v1.5h-1.5zM669.5 952.5h1.5v1.5h-1.5zM669.6 957.6h1.5v1.5h-1.5zM677.1 937.8h1.5v1.5h-1.5zM667.8 941.8h1.5v1.5h-1.5zM672.4 953.4h1.5v1.5h-1.5zM681.5 946.7h1.5v1.5h-1.5zM675.7 949.5h1.5v1.5h-1.5zM680.2 954.2h1.5v1.5h-1.5zM678.4 939.6h1.5v1.5h-1.5zM671.4 941.7h1.5v1.5h-1.5zM679.0 953.5h1.5v1.5h-1.5zM670.9 944.6h1.5v1.5h-1.5zM674.4 942.6h1.5v1.5h-1.5zM668.1 952.1h1.5v1.5h-1.5zM683.3 946.3h1.5v1.5h-1.5zM669.7 938.9h1.5v1.5h-1.5zM667.5 952.4h1.5v1.5h-1.5zM676.1 948.3h1.5v1.5h-1.5zM673.7 949.2h1.5v1.5h-1.5zM672.9 936.0h1.5v1.5h-1.5zM670.2 949.1h1.5v1.5h-1.5zM668.7 944.4h1.5v1.5h-1.5zM668.6 945.6h1.5v1.5h-1.5zM676.1 945.0h1.5v1.5h-1.5zM671.6 954.8h1.5v1.5h-1.5zM675.2 961.8h1.5v1.5h-1.5zM669.2 955.1h1.5v1.5h-1.5zM670.1 949.3h1.5v1.5h-1.5zM676.0 956.9h1.5v1.5h-1.5zM676.9 949.5h1.5v1.5h-1.5zM679.5 946.0h1.5v1.5h-1.5zM671.6 954.6h1.5v1.5h-1.5zM669.8 965.5h1.5v1.5h-1.5zM676.8 965.7h1.5v1.5h-1.5zM672.1 945.2h1.5v1.5h-1.5zM673.0 954.1h1.5v1.5h-1.5zM669.6 951.3h1.5v1.5h-1.5zM672.2 961.2h1.5v1.5h-1.5zM669.3 956.6h1.5v1.5h-1.5zM669.4 940.6h1.5v1.5h-1.5zM669.1 938.7h1.5v1.5h-1.5zM672.9 956.5h1.5v1.5h-1.5zM673.0 953.2h1.5v1.5h-1.5zM679.6 950.4h1.5v1.5h-1.5zM673.1 946.0h1.5v1.5h-1.5zM668.1 954.3h1.5v1.5h-1.5zM668.4 953.5h1.5v1.5h-1.5zM672.2 957.3h1.5v1.5h-1.5zM671.9 941.7h1.5v1.5h-1.5zM673.9 943.8h1.5v1.5h-1.5zM671.4 948.6h1.5v1.5h-1.5zM671.6 946.7h1.5v1.5h-1.5zM668.5 946.7h1.5v1.5h-1.5zM669.3 947.0h1.5v1.5h-1.5zM667.1 957.2h1.5v1.5h-1.5zM678.0 932.6h1.5v1.5h-1.5zM672.9 947.2h1.5v1.5h-1.5zM667.5 952.5h1.5v1.5h-1.5zM670.2 934.1h1.5v1.5h-1.5zM671.0 947.1h1.5v1.5h-1.5zM672.7 938.4h1.5v1.5h-1.5zM675.0 954.1h1.5v1.5h-1.5zM667.1 943.0h1.5v1.5h-1.5zM671.9 943.7h1.5v1.5h-1.5zM680.1 949.9h1.5v1.5h-1.5zM667.7 941.9h1.5v1.5h-1.5zM672.0 966.6h1.5v1.5h-1.5zM671.4 949.3h1.5v1.5h-1.5zM674.6 947.9h1.5v1.5h-1.5zM682.5 944.0h1.5v1.5h-1.5zM675.6 949.5h1.5v1.5h-1.5zM675.0 938.8h1.5v1.5h-1.5zM680.2 947.3h1.5v1.5h-1.5zM672.4 940.8h1.5v1.5h-1.5zM669.0 952.8h1.5v1.5h-1.5zM676.7 954.3h1.5v1.5h-1.5zM677.7 954.0h1.5v1.5h-1.5zM672.4 954.9h1.5v1.5h-1.5zM674.9 947.4h1.5v1.5h-1.5zM675.5 958.5h1.5v1.5h-1.5zM673.3 945.4h1.5v1.5h-1.5zM675.5 963.5h1.5v1.5h-1.5zM671.3 947.5h1.5v1.5h-1.5zM671.6 958.0h1.5v1.5h-1.5zM668.6 951.2h1.5v1.5h-1.5zM677.6 941.7h1.5v1.5h-1.5zM679.0 952.5h1.5v1.5h-1.5zM669.8 949.9h1.5v1.5h-1.5zM667.9 943.7h1.5v1.5h-1.5zM680.5 941.1h1.5v1.5h-1.5zM680.6 947.6h1.5v1.5h-1.5zM676.7 948.6h1.5v1.5h-1.5zM669.5 943.7h1.5v1.5h-1.5zM673.1 939.0h1.5v1.5h-1.5zM667.5 951.2h1.5v1.5h-1.5zM669.3 934.7h1.5v1.5h-1.5zM669.2 955.1h1.5v1.5h-1.5zM670.1 955.7h1.5v1.5h-1.5zM679.1 948.5h1.5v1.5h-1.5zM667.2 937.8h1.5v1.5h-1.5zM672.1 955.3h1.5v1.5h-1.5zM673.5 952.6h1.5v1.5h-1.5zM670.3 950.7h1.5v1.5h-1.5zM670.1 945.6h1.5v1.5h-1.5zM667.4 935.7h1.5v1.5h-1.5zM670.1 939.4h1.5v1.5h-1.5zM667.9 953.6h1.5v1.5h-1.5zM671.8 971.6h1.5v1.5h-1.5zM676.4 943.2h1.5v1.5h-1.5zM675.8 951.1h1.5v1.5h-1.5zM669.2 957.1h1.5v1.5h-1.5zM668.8 923.8h1.5v1.5h-1.5zM675.8 943.3h1.5v1.5h-1.5zM678.9 943.1h1.5v1.5h-1.5zM667.1 960.6h1.5v1.5h-1.5zM667.4 949.9h1.5v1.5h-1.5zM678.8 949.2h1.5v1.5h-1.5zM671.9 949.1h1.5v1.5h-1.5zM676.0 941.8h1.5v1.5h-1.5zM675.0 952.9h1.5v1.5h-1.5zM682.7 945.6h1.5v1.5h-1.5zM668.1 954.1h1.5v1.5h-1.5zM670.5 950.6h1.5v1.5h-1.5zM672.8 957.6h1.5v1.5h-1.5zM669.3 947.5h1.5v1.5h-1.5zM670.2 941.1h1.5v1.5h-1.5zM679.2 942.8h1.5v1.5h-1.5zM669.1 938.5h1.5v1.5h-1.5zM674.9 949.7h1.5v1.5h-1.5zM667.1 953.6h1.5v1.5h-1.5zM673.4 954.3h1.5v1.5h-1.5zM669.4 962.2h1.5v1.5h-1.5zM674.1 947.3h1.5v1.5h-1.5zM669.9 946.3h1.5v1.5h-1.5zM676.1 946.1h1.5v1.5h-1.5zM677.1 952.9h1.5v1.5h-1.5zM678.3 954.8h1.5v1.5h-1.5zM672.0 933.0h1.5v1.5h-1.5zM673.6 954.6h1.5v1.5h-1.5zM673.0 952.7h1.5v1.5h-1.5zM670.1 945.2h1.5v1.5h-1.5zM668.0 959.1h1.5v1.5h-1.5zM673.0 944.3h1.5v1.5h-1.5zM667.4 947.0h1.5v1.5h-1.5zM678.7 951.9h1.5v1.5h-1.5zM669.0 959.7h1.5v1.5h-1.5zM678.7 956.1h1.5v1.5h-1.5zM675.8 957.5h1.5v1.5h-1.5zM674.7 954.5h1.5v1.5h-1.5zM668.7 960.2h1.5v1.5h-1.5zM673.3 964.4h1.5v1.5h-1.5zM669.0 953.9h1.5v1.5h-1.5zM676.7 945.5h1.5v1.5h-1.5zM674.3 954.2h1.5v1.5h-1.5zM674.8 943.9h1.5v1.5h-1.5zM671.6 956.4h1.5v1.5h-1.5zM678.0 949.0h1.5v1.5h-1.5zM672.6 949.9h1.5v1.5h-1.5zM676.9 939.8h1.5v1.5h-1.5zM667.4 949.2h1.5v1.5h-1.5zM667.3 943.6h1.5v1.5h-1.5zM672.6 952.1h1.5v1.5h-1.5zM667.4 954.7h1.5v1.5h-1.5zM668.4 952.6h1.5v1.5h-1.5zM668.0 938.1h1.5v1.5h-1.5zM675.1 945.0h1.5v1.5h-1.5zM668.7 944.7h1.5v1.5h-1.5zM674.3 947.8h1.5v1.5h-1.5zM672.1 956.7h1.5v1.5h-1.5zM669.0 944.5h1.5v1.5h-1.5zM669.9 957.6h1.5v1.5h-1.5zM676.7 958.5h1.5v1.5h-1.5zM672.1 947.0h1.5v1.5h-1.5zM676.1 945.1h1.5v1.5h-1.5zM676.0 954.0h1.5v1.5h-1.5zM669.1 947.6h1.5v1.5h-1.5zM671.7 962.1h1.5v1.5h-1.5zM683.9 947.5h1.5v1.5h-1.5zM672.3 930.0h1.5v1.5h-1.5zM673.2 948.2h1.5v1.5h-1.5zM667.4 954.5h1.5v1.5h-1.5zM668.0 946.5h1.5v1.5h-1.5zM672.9 938.3h1.5v1.5h-1.5zM676.1 956.7h1.5v1.5h-1.5zM667.6 937.0h1.5v1.5h-1.5zM675.0 948.0h1.5v1.5h-1.5zM667.2 945.9h1.5v1.5h-1.5zM671.8 947.1h1.5v1.5h-1.5zM676.0 951.3h1.5v1.5h-1.5zM680.2 959.2h1.5v1.5h-1.5zM675.3 956.9h1.5v1.5h-1.5zM678.2 953.9h1.5v1.5h-1.5zM667.2 955.1h1.5v1.5h-1.5zM672.6 961.2h1.5v1.5h-1.5zM672.7 952.5h1.5v1.5h-1.5zM673.7 961.7h1.5v1.5h-1.5zM673.0 946.1h1.5v1.5h-1.5zM673.6 944.7h1.5v1.5h-1.5zM673.0 948.2h1.5v1.5h-1.5zM673.5 963.6h1.5v1.5h-1.5zM670.4 948.5h1.5v1.5h-1.5zM671.4 953.6h1.5v1.5h-1.5zM667.1 942.7h1.5v1.5h-1.5zM672.1 952.6h1.5v1.5h-1.5zM672.0 944.2h1.5v1.5h-1.5zM668.3 952.3h1.5v1.5h-1.5zM678.7 950.8h1.5v1.5h-1.5zM673.1 951.8h1.5v1.5h-1.5zM668.0 945.8h1.5v1.5h-1.5zM671.0 950.6h1.5v1.5h-1.5zM672.1 938.5h1.5v1.5h-1.5zM677.3 961.8h1.5v1.5h-1.5zM671.1 951.4h1.5v1.5h-1.5zM673.5 954.5h1.5v1.5h-1.5zM667.8 961.2h1.5v1.5h-1.5zM670.1 958.4h1.5v1.5h-1.5zM672.6 945.1h1.5v1.5h-1.5zM671.6 955.4h1.5v1.5h-1.5zM668.4 945.2h1.5v1.5h-1.5zM670.1 934.5h1.5v1.5h-1.5zM678.1 952.9h1.5v1.5h-1.5zM672.2 957.6h1.5v1.5h-1.5zM667.9 947.7h1.5v1.5h-1.5zM680.0 956.1h1.5v1.5h-1.5zM669.5 921.6h1.5v1.5h-1.5zM667.6 956.7h1.5v1.5h-1.5zM670.1 946.5h1.5v1.5h-1.5zM675.0 941.2h1.5v1.5h-1.5zM673.2 954.6h1.5v1.5h-1.5zM674.4 951.4h1.5v1.5h-1.5zM669.5 952.4h1.5v1.5h-1.5zM670.3 958.7h1.5v1.5h-1.5zM683.8 942.3h1.5v1.5h-1.5zM669.3 944.8h1.5v1.5h-1.5zM673.9 956.7h1.5v1.5h-1.5zM677.1 942.0h1.5v1.5h-1.5zM668.7 958.4h1.5v1.5h-1.5zM667.3 957.0h1.5v1.5h-1.5zM671.2 954.4h1.5v1.5h-1.5zM675.4 954.5h1.5v1.5h-1.5zM675.9 940.3h1.5v1.5h-1.5zM673.6 948.4h1.5v1.5h-1.5zM673.6 958.1h1.5v1.5h-1.5zM671.0 942.6h1.5v1.5h-1.5zM669.0 945.8h1.5v1.5h-1.5zM675.6 941.7h1.5v1.5h-1.5zM677.5 950.6h1.5v1.5h-1.5zM671.2 937.6h1.5v1.5h-1.5zM673.4 953.8h1.5v1.5h-1.5zM668.4 957.8h1.5v1.5h-1.5zM679.7 951.0h1.5v1.5h-1.5zM674.5 967.6h1.5v1.5h-1.5zM677.8 941.1h1.5v1.5h-1.5zM672.2 947.0h1.5v1.5h-1.5zM671.6 929.3h1.5v1.5h-1.5zM675.7 943.2h1.5v1.5h-1.5zM673.0 947.2h1.5v1.5h-1.5zM676.2 945.9h1.5v1.5h-1.5zM668.7 952.5h1.5v1.5h-1.5zM678.6 945.7h1.5v1.5h-1.5zM678.4 950.3h1.5v1.5h-1.5zM669.9 960.5h1.5v1.5h-1.5zM668.6 956.4h1.5v1.5h-1.5zM670.0 951.9h1.5v1.5h-1.5zM667.2 941.5h1.5v1.5h-1.5zM677.0 949.8h1.5v1.5h-1.5zM672.4 944.7h1.5v1.5h-1.5zM674.3 937.1h1.5v1.5h-1.5zM667.2 947.0h1.5v1.5h-1.5zM668.5 942.6h1.5v1.5h-1.5zM671.9 947.1h1.5v1.5h-1.5zM671.2 961.6h1.5v1.5h-1.5zM676.8 958.1h1.5v1.5h-1.5z" fill="#000"/><path d="M674.8 932.7h1.3v1.3h-1.3zM667.6 937.1h1.3v1.3h-1.3zM709.5 923.5h1.3v1.3h-1.3zM700.9 907.6h1.3v1.3h-1.3zM714.8 928.1h1.3v1.3h-1.3zM714.5 926.1h1.3v1.3h-1.3zM716.6 918.9h1.3v1.3h-1.3zM675.6 933.4h1.3v1.3h-1.3zM680.4 918.6h1.3v1.3h-1.3zM686.2 943.0h1.3v1.3h-1.3zM692.4 902.4h1.3v1.3h-1.3zM703.7 925.6h1.3v1.3h-1.3zM690.8 906.6h1.3v1.3h-1.3zM689.4 912.7h1.3v1.3h-1.3zM676.3 939.7h1.3v1.3h-1.3zM681.0 947.2h1.3v1.3h-1.3zM671.9 945.9h1.3v1.3h-1.3zM717.2 901.3h1.3v1.3h-1.3zM690.8 912.5h1.3v1.3h-1.3zM703.6 901.6h1.3v1.3h-1.3zM685.0 936.0h1.3v1.3h-1.3zM673.7 930.4h1.3v1.3h-1.3zM705.9 901.5h1.3v1.3h-1.3zM685.7 912.9h1.3v1.3h-1.3zM680.8 917.5h1.3v1.3h-1.3zM701.9 929.1h1.3v1.3h-1.3zM675.6 918.8h1.3v1.3h-1.3zM701.4 930.0h1.3v1.3h-1.3zM710.8 903.8h1.3v1.3h-1.3zM680.7 920.1h1.3v1.3h-1.3zM715.9 901.9h1.3v1.3h-1.3zM683.1 913.7h1.3v1.3h-1.3zM670.7 923.5h1.3v1.3h-1.3zM713.3 915.8h1.3v1.3h-1.3zM676.2 936.6h1.3v1.3h-1.3zM684.6 911.3h1.3v1.3h-1.3zM673.4 944.3h1.3v1.3h-1.3zM675.3 937.8h1.3v1.3h-1.3zM703.8 906.5h1.3v1.3h-1.3zM702.9 927.2h1.3v1.3h-1.3zM684.7 937.8h1.3v1.3h-1.3zM715.9 905.8h1.3v1.3h-1.3zM715.1 909.5h1.3v1.3h-1.3zM719.2 902.0h1.3v1.3h-1.3zM681.5 944.2h1.3v1.3h-1.3zM678.4 918.1h1.3v1.3h-1.3zM713.7 911.5h1.3v1.3h-1.3zM667.2 928.0h1.3v1.3h-1.3zM678.2 915.6h1.3v1.3h-1.3zM705.5 924.8h1.3v1.3h-1.3zM711.0 907.8h1.3v1.3h-1.3zM696.4 907.6h1.3v1.3h-1.3zM693.5 908.1h1.3v1.3h-1.3zM712.3 911.6h1.3v1.3h-1.3zM668.1 921.0h1.3v1.3h-1.3zM699.8 927.1h1.3v1.3h-1.3zM681.6 918.1h1.3v1.3h-1.3zM695.2 907.2h1.3v1.3h-1.3zM679.9 922.5h1.3v1.3h-1.3zM687.6 939.2h1.3v1.3h-1.3zM668.3 933.2h1.3v1.3h-1.3zM706.1 922.2h1.3v1.3h-1.3zM706.6 920.0h1.3v1.3h-1.3zM701.2 930.3h1.3v1.3h-1.3zM702.7 928.2h1.3v1.3h-1.3zM684.9 936.7h1.3v1.3h-1.3zM672.3 924.3h1.3v1.3h-1.3zM712.8 906.6h1.3v1.3h-1.3zM709.2 928.1h1.3v1.3h-1.3zM669.3 917.8h1.3v1.3h-1.3z" fill="#000"/><path d="M705.2 907.6h1.4v1.4h-1.4zM711.2 907.4h1.4v1.4h-1.4zM710.8 909.6h1.4v1.4h-1.4zM709.0 908.2h1.4v1.4h-1.4zM706.8 910.1h1.4v1.4h-1.4zM706.5 905.8h1.4v1.4h-1.4zM709.8 905.7h1.4v1.4h-1.4zM709.0 909.7h1.4v1.4h-1.4zM708.1 907.6h1.4v1.4h-1.4zM710.4 909.0h1.4v1.4h-1.4zM703.5 904.4h1.4v1.4h-1.4zM711.6 908.2h1.4v1.4h-1.4zM702.0 904.4h1.4v1.4h-1.4zM707.9 905.2h1.4v1.4h-1.4zM709.2 907.5h1.4v1.4h-1.4zM709.2 904.8h1.4v1.4h-1.4zM709.6 911.7h1.4v1.4h-1.4zM705.6 910.2h1.4v1.4h-1.4zM710.6 908.8h1.4v1.4h-1.4zM707.7 904.8h1.4v1.4h-1.4zM705.4 909.0h1.4v1.4h-1.4zM710.6 910.0h1.4v1.4h-1.4zM710.6 909.3h1.4v1.4h-1.4zM706.6 904.7h1.4v1.4h-1.4zM708.4 908.5h1.4v1.4h-1.4zM708.1 904.0h1.4v1.4h-1.4zM706.4 904.1h1.4v1.4h-1.4zM708.3 905.0h1.4v1.4h-1.4zM707.4 908.1h1.4v1.4h-1.4zM708.3 910.4h1.4v1.4h-1.4zM704.8 902.6h1.4v1.4h-1.4zM710.5 910.4h1.4v1.4h-1.4zM711.9 908.0h1.4v1.4h-1.4zM709.4 907.6h1.4v1.4h-1.4zM704.3 906.1h1.4v1.4h-1.4zM709.3 906.1h1.4v1.4h-1.4zM713.2 904.0h1.4v1.4h-1.4zM706.7 909.8h1.4v1.4h-1.4zM706.2 904.9h1.4v1.4h-1.4zM704.1 905.8h1.4v1.4h-1.4zM712.1 908.3h1.4v1.4h-1.4zM709.3 906.2h1.4v1.4h-1.4zM710.3 907.6h1.4v1.4h-1.4zM705.3 906.4h1.4v1.4h-1.4zM708.5 909.9h1.4v1.4h-1.4z" fill="#000"/><g fill="none" stroke="#333" stroke-width="0.75"><ellipse cx="694.00" cy="922.00" rx="24.00" ry="9.00" transform="rotate(-38.0 694.00 922.00)"/><ellipse cx="694.00" cy="922.00" rx="21.12" ry="7.92" transform="rotate(-38.0 694.00 922.00)"/><ellipse cx="694.00" cy="922.00" rx="18.24" ry="6.84" transform="rotate(-38.0 694.00 922.00)"/><ellipse cx="694.00" cy="922.00" rx="15.36" ry="5.76" transform="rotate(-38.0 694.00 922.00)"/><ellipse cx="694.00" cy="922.00" rx="12.48" ry="4.68" transform="rotate(-38.0 694.00 922.00)"/><ellipse cx="694.00" cy="922.00" rx="9.60" ry="3.60" transform="rotate(-38.0 694.00 922.00)"/><ellipse cx="694.00" cy="922.00" rx="6.72" ry="2.52" transform="rotate(-38.0 694.00 922.00)"/></g><path d="M676.2 992.4h1.2v1.2h-1.2zM692.8 972.9h1.2v1.2h-1.2zM667.4 999.7h1.2v1.2h-1.2zM680.2 983.4h1.2v1.2h-1.2zM678.8 980.0h1.2v1.2h-1.2zM680.8 979.9h1.2v1.2h-1.2zM683.1 967.4h1.2v1.2h-1.2zM670.1 986.7h1.2v1.2h-1.2zM672.9 995.4h1.2v1.2h-1.2zM676.3 976.8h1.2v1.2h-1.2zM678.4 977.0h1.2v1.2h-1.2zM668.7 967.9h1.2v1.2h-1.2zM670.3 977.9h1.2v1.2h-1.2zM677.5 998.6h1.2v1.2h-1.2zM681.1 1011.7h1.2v1.2h-1.2zM686.9 982.2h1.2v1.2h-1.2zM689.9 1002.8h1.2v1.2h-1.2zM673.1 989.7h1.2v1.2h-1.2zM685.5 988.7h1.2v1.2h-1.2zM684.9 991.0h1.2v1.2h-1.2zM682.4 980.3h1.2v1.2h-1.2zM679.8 979.6h1.2v1.2h-1.2zM682.2 959.8h1.2v1.2h-1.2zM679.5 1003.9h1.2v1.2h-1.2zM681.4 984.7h1.2v1.2h-1.2zM681.1 972.4h1.2v1.2h-1.2zM670.1 979.7h1.2v1.2h-1.2zM675.6 999.6h1.2v1.2h-1.2zM669.6 1000.1h1.2v1.2h-1.2zM668.7 973.3h1.2v1.2h-1.2zM676.5 1002.5h1.2v1.2h-1.2zM671.9 952.9h1.2v1.2h-1.2zM680.1 984.7h1.2v1.2h-1.2zM668.1 969.4h1.2v1.2h-1.2zM671.2 986.6h1.2v1.2h-1.2zM682.1 962.9h1.2v1.2h-1.2zM695.1 984.5h1.2v1.2h-1.2zM673.8 995.2h1.2v1.2h-1.2zM677.6 1020.1h1.2v1.2h-1.2zM685.5 979.6h1.2v1.2h-1.2zM673.6 977.6h1.2v1.2h-1.2zM674.0 995.2h1.2v1.2h-1.2zM671.6 1009.3h1.2v1.2h-1.2zM676.1 982.9h1.2v1.2h-1.2zM684.3 955.4h1.2v1.2h-1.2zM669.3 994.0h1.2v1.2h-1.2zM676.8 984.9h1.2v1.2h-1.2zM679.9 976.0h1.2v1.2h-1.2zM675.4 964.6h1.2v1.2h-1.2zM669.9 1004.0h1.2v1.2h-1.2zM669.3 974.3h1.2v1.2h-1.2zM687.9 1000.9h1.2v1.2h-1.2zM672.5 977.0h1.2v1.2h-1.2zM676.1 970.7h1.2v1.2h-1.2zM681.1 987.2h1.2v1.2h-1.2zM677.8 996.3h1.2v1.2h-1.2zM682.5 1012.6h1.2v1.2h-1.2zM688.8 959.3h1.2v1.2h-1.2zM683.9 968.2h1.2v1.2h-1.2zM668.2 995.6h1.2v1.2h-1.2zM671.1 980.2h1.2v1.2h-1.2zM685.3 975.0h1.2v1.2h-1.2zM669.5 989.9h1.2v1.2h-1.2zM686.5 992.9h1.2v1.2h-1.2zM668.7 975.2h1.2v1.2h-1.2zM675.5 1013.9h1.2v1.2h-1.2zM683.9 997.7h1.2v1.2h-1.2zM686.3 980.3h1.2v1.2h-1.2zM680.5 992.3h1.2v1.2h-1.2zM668.9 984.7h1.2v1.2h-1.2zM681.2 968.8h1.2v1.2h-1.2zM683.2 996.4h1.2v1.2h-1.2zM685.0 973.4h1.2v1.2h-1.2zM677.6 1006.8h1.2v1.2h-1.2zM683.0 973.1h1.2v1.2h-1.2zM678.5 1006.3h1.2v1.2h-1.2zM676.1 990.7h1.2v1.2h-1.2zM697.2 984.4h1.2v1.2h-1.2zM675.8 969.9h1.2v1.2h-1.2zM671.4 1007.2h1.2v1.2h-1.2zM675.6 967.1h1.2v1.2h-1.2zM669.2 985.0h1.2v1.2h-1.2zM682.8 973.7h1.2v1.2h-1.2zM682.4 977.5h1.2v1.2h-1.2zM679.5 992.6h1.2v1.2h-1.2zM681.5 978.3h1.2v1.2h-1.2zM675.2 992.3h1.2v1.2h-1.2zM667.7 987.3h1.2v1.2h-1.2zM680.6 1000.3h1.2v1.2h-1.2zM676.2 981.8h1.2v1.2h-1.2zM677.6 973.6h1.2v1.2h-1.2zM674.8 990.6h1.2v1.2h-1.2zM678.7 968.8h1.2v1.2h-1.2zM673.8 952.7h1.2v1.2h-1.2zM682.8 976.4h1.2v1.2h-1.2zM678.3 967.9h1.2v1.2h-1.2zM675.7 991.0h1.2v1.2h-1.2zM684.2 963.9h1.2v1.2h-1.2zM683.1 981.8h1.2v1.2h-1.2zM670.1 991.3h1.2v1.2h-1.2zM673.9 979.7h1.2v1.2h-1.2zM670.6 987.5h1.2v1.2h-1.2zM676.6 981.5h1.2v1.2h-1.2zM668.6 976.4h1.2v1.2h-1.2zM679.5 1003.3h1.2v1.2h-1.2zM676.0 1005.3h1.2v1.2h-1.2zM676.2 967.8h1.2v1.2h-1.2zM681.3 969.6h1.2v1.2h-1.2zM679.5 1000.1h1.2v1.2h-1.2zM673.8 982.8h1.2v1.2h-1.2zM696.0 987.7h1.2v1.2h-1.2zM678.4 995.8h1.2v1.2h-1.2zM675.5 982.8h1.2v1.2h-1.2zM679.3 948.3h1.2v1.2h-1.2zM687.6 968.1h1.2v1.2h-1.2zM667.6 992.2h1.2v1.2h-1.2zM676.5 965.4h1.2v1.2h-1.2zM677.9 967.1h1.2v1.2h-1.2zM670.7 961.6h1.2v1.2h-1.2zM669.7 990.1h1.2v1.2h-1.2zM677.2 988.8h1.2v1.2h-1.2zM683.6 983.5h1.2v1.2h-1.2zM671.0 979.9h1.2v1.2h-1.2zM689.4 984.6h1.2v1.2h-1.2zM678.8 982.7h1.2v1.2h-1.2zM678.2 990.6h1.2v1.2h-1.2zM676.2 981.8h1.2v1.2h-1.2zM670.0 971.5h1.2v1.2h-1.2zM679.5 995.3h1.2v1.2h-1.2zM683.6 984.9h1.2v1.2h-1.2zM669.7 993.6h1.2v1.2h-1.2zM681.2 961.6h1.2v1.2h-1.2zM682.7 992.8h1.2v1.2h-1.2zM689.6 967.3h1.2v1.2h-1.2zM667.8 995.9h1.2v1.2h-1.2zM669.8 973.2h1.2v1.2h-1.2zM667.6 969.0h1.2v1.2h-1.2zM670.3 980.6h1.2v1.2h-1.2zM684.1 990.8h1.2v1.2h-1.2zM679.8 978.8h1.2v1.2h-1.2zM687.8 992.1h1.2v1.2h-1.2zM684.7 961.0h1.2v1.2h-1.2zM679.1 967.1h1.2v1.2h-1.2zM679.1 987.2h1.2v1.2h-1.2zM667.3 986.9h1.2v1.2h-1.2zM685.6 991.8h1.2v1.2h-1.2zM681.1 971.4h1.2v1.2h-1.2zM671.0 967.7h1.2v1.2h-1.2zM677.4 1002.1h1.2v1.2h-1.2zM679.9 984.3h1.2v1.2h-1.2zM667.5 991.0h1.2v1.2h-1.2zM674.5 955.9h1.2v1.2h-1.2zM669.5 979.3h1.2v1.2h-1.2zM669.3 1009.1h1.2v1.2h-1.2zM676.7 968.9h1.2v1.2h-1.2zM672.5 1008.2h1.2v1.2h-1.2zM668.9 995.9h1.2v1.2h-1.2zM679.9 1006.4h1.2v1.2h-1.2zM680.7 978.4h1.2v1.2h-1.2zM680.6 985.5h1.2v1.2h-1.2zM684.2 983.5h1.2v1.2h-1.2zM692.2 983.0h1.2v1.2h-1.2zM680.0 974.7h1.2v1.2h-1.2zM677.5 984.9h1.2v1.2h-1.2zM677.8 998.0h1.2v1.2h-1.2zM672.2 971.9h1.2v1.2h-1.2zM685.3 980.3h1.2v1.2h-1.2zM671.2 1001.8h1.2v1.2h-1.2zM682.7 945.1h1.2v1.2h-1.2zM673.5 996.3h1.2v1.2h-1.2zM683.2 977.0h1.2v1.2h-1.2zM689.0 972.8h1.2v1.2h-1.2zM674.7 986.6h1.2v1.2h-1.2zM676.5 996.7h1.2v1.2h-1.2zM684.7 984.1h1.2v1.2h-1.2zM687.7 974.5h1.2v1.2h-1.2zM674.9 1010.4h1.2v1.2h-1.2zM677.4 1000.7h1.2v1.2h-1.2zM673.2 980.8h1.2v1.2h-1.2zM675.8 987.4h1.2v1.2h-1.2zM673.9 985.1h1.2v1.2h-1.2zM682.0 1002.8h1.2v1.2h-1.2zM677.5 994.6h1.2v1.2h-1.2zM683.9 968.8h1.2v1.2h-1.2zM668.7 1009.0h1.2v1.2h-1.2zM687.2 985.8h1.2v1.2h-1.2zM679.5 970.8h1.2v1.2h-1.2zM668.0 989.6h1.2v1.2h-1.2zM668.4 998.5h1.2v1.2h-1.2zM671.2 989.2h1.2v1.2h-1.2zM692.1 1013.1h1.2v1.2h-1.2zM674.5 1000.8h1.2v1.2h-1.2zM668.4 976.1h1.2v1.2h-1.2zM679.6 1005.6h1.2v1.2h-1.2zM672.1 992.9h1.2v1.2h-1.2zM677.4 966.0h1.2v1.2h-1.2zM675.6 1007.2h1.2v1.2h-1.2zM675.9 992.3h1.2v1.2h-1.2zM683.2 973.8h1.2v1.2h-1.2zM686.4 1007.3h1.2v1.2h-1.2zM689.3 1004.4h1.2v1.2h-1.2zM672.9 976.0h1.2v1.2h-1.2zM670.3 971.2h1.2v1.2h-1.2zM670.3 999.6h1.2v1.2h-1.2zM688.2 975.2h1.2v1.2h-1.2zM683.0 965.8h1.2v1.2h-1.2zM674.0 969.8h1.2v1.2h-1.2zM669.0 985.5h1.2v1.2h-1.2zM677.2 978.6h1.2v1.2h-1.2zM672.4 969.9h1.2v1.2h-1.2zM675.5 975.6h1.2v1.2h-1.2zM678.4 966.6h1.2v1.2h-1.2zM678.3 992.2h1.2v1.2h-1.2zM686.4 1000.3h1.2v1.2h-1.2zM678.0 974.3h1.2v1.2h-1.2zM669.9 984.4h1.2v1.2h-1.2zM687.8 1009.4h1.2v1.2h-1.2zM672.7 973.2h1.2v1.2h-1.2zM673.7 968.9h1.2v1.2h-1.2zM678.0 985.1h1.2v1.2h-1.2zM672.3 984.0h1.2v1.2h-1.2zM668.9 969.9h1.2v1.2h-1.2zM669.3 997.9h1.2v1.2h-1.2zM669.1 981.3h1.2v1.2h-1.2zM682.7 983.7h1.2v1.2h-1.2zM682.9 974.7h1.2v1.2h-1.2zM679.9 998.0h1.2v1.2h-1.2zM694.3 995.4h1.2v1.2h-1.2zM687.9 984.7h1.2v1.2h-1.2zM677.3 1008.1h1.2v1.2h-1.2z" fill="#000" fill-opacity="0.75"/><path d="M681.1 1027.1h1.3v1.3h-1.3zM682.1 1029.9h1.3v1.3h-1.3zM695.5 1018.1h1.3v1.3h-1.3zM691.3 1023.2h1.3v1.3h-1.3zM680.3 1021.0h1.3v1.3h-1.3zM682.2 1017.0h1.3v1.3h-1.3zM670.7 1018.4h1.3v1.3h-1.3zM678.8 1025.1h1.3v1.3h-1.3zM682.4 1022.9h1.3v1.3h-1.3zM671.8 1014.4h1.3v1.3h-1.3zM679.8 1022.0h1.3v1.3h-1.3zM679.4 1027.2h1.3v1.3h-1.3zM675.1 1020.7h1.3v1.3h-1.3zM671.7 1023.7h1.3v1.3h-1.3zM676.2 1018.5h1.3v1.3h-1.3zM679.7 1017.3h1.3v1.3h-1.3zM672.3 1029.3h1.3v1.3h-1.3zM682.6 1025.2h1.3v1.3h-1.3zM682.6 1024.0h1.3v1.3h-1.3zM678.1 1030.6h1.3v1.3h-1.3zM676.0 1024.4h1.3v1.3h-1.3zM674.8 1020.0h1.3v1.3h-1.3zM672.2 1013.8h1.3v1.3h-1.3zM688.9 1027.4h1.3v1.3h-1.3zM673.0 1021.3h1.3v1.3h-1.3zM681.4 1017.5h1.3v1.3h-1.3zM690.7 1017.3h1.3v1.3h-1.3zM670.7 1010.4h1.3v1.3h-1.3zM688.6 1021.6h1.3v1.3h-1.3zM689.5 1017.4h1.3v1.3h-1.3zM679.2 1021.7h1.3v1.3h-1.3zM678.1 1029.7h1.3v1.3h-1.3zM694.6 1026.9h1.3v1.3h-1.3zM673.3 1025.0h1.3v1.3h-1.3zM687.2 1023.6h1.3v1.3h-1.3zM681.0 1023.3h1.3v1.3h-1.3zM669.2 1022.4h1.3v1.3h-1.3zM689.3 1017.4h1.3v1.3h-1.3zM677.1 1024.7h1.3v1.3h-1.3zM668.0 1020.8h1.3v1.3h-1.3zM669.3 1019.0h1.3v1.3h-1.3zM668.1 1017.8h1.3v1.3h-1.3zM672.5 1020.3h1.3v1.3h-1.3zM674.8 1011.7h1.3v1.3h-1.3zM689.1 1020.3h1.3v1.3h-1.3zM667.6 1018.8h1.3v1.3h-1.3zM678.8 1017.3h1.3v1.3h-1.3zM673.0 1019.5h1.3v1.3h-1.3zM680.7 1018.4h1.3v1.3h-1.3zM680.0 1022.7h1.3v1.3h-1.3zM675.2 1026.3h1.3v1.3h-1.3zM676.5 1016.6h1.3v1.3h-1.3zM678.7 1021.8h1.3v1.3h-1.3zM676.0 1022.3h1.3v1.3h-1.3zM695.1 1022.3h1.3v1.3h-1.3zM680.0 1020.4h1.3v1.3h-1.3zM686.8 1021.1h1.3v1.3h-1.3zM669.9 1016.5h1.3v1.3h-1.3zM680.6 1024.3h1.3v1.3h-1.3zM668.9 1018.5h1.3v1.3h-1.3zM681.5 1025.5h1.3v1.3h-1.3zM667.8 1019.7h1.3v1.3h-1.3zM683.0 1019.2h1.3v1.3h-1.3zM672.7 1019.2h1.3v1.3h-1.3zM667.8 1021.5h1.3v1.3h-1.3zM678.8 1015.7h1.3v1.3h-1.3zM677.1 1025.8h1.3v1.3h-1.3zM678.0 1025.1h1.3v1.3h-1.3zM671.9 1026.8h1.3v1.3h-1.3zM670.0 1028.9h1.3v1.3h-1.3zM672.7 1018.5h1.3v1.3h-1.3zM669.2 1019.7h1.3v1.3h-1.3zM672.4 1018.6h1.3v1.3h-1.3zM673.7 1024.0h1.3v1.3h-1.3zM683.4 1020.0h1.3v1.3h-1.3zM686.2 1017.3h1.3v1.3h-1.3zM668.1 1016.8h1.3v1.3h-1.3zM681.1 1015.1h1.3v1.3h-1.3zM668.1 1026.5h1.3v1.3h-1.3zM690.0 1026.7h1.3v1.3h-1.3zM668.5 1021.4h1.3v1.3h-1.3zM683.0 1021.7h1.3v1.3h-1.3zM669.0 1020.0h1.3v1.3h-1.3zM669.4 1016.4h1.3v1.3h-1.3zM693.5 1024.0h1.3v1.3h-1.3zM668.5 1015.3h1.3v1.3h-1.3zM679.9 1018.9h1.3v1.3h-1.3zM680.9 1018.7h1.3v1.3h-1.3zM674.7 1022.3h1.3v1.3h-1.3zM668.0 1013.6h1.3v1.3h-1.3zM667.4 1018.5h1.3v1.3h-1.3zM674.6 1021.1h1.3v1.3h-1.3zM675.7 1023.4h1.3v1.3h-1.3zM669.1 1026.9h1.3v1.3h-1.3zM692.3 1022.8h1.3v1.3h-1.3zM677.7 1026.3h1.3v1.3h-1.3zM681.4 1022.0h1.3v1.3h-1.3zM674.9 1018.3h1.3v1.3h-1.3zM667.3 1023.9h1.3v1.3h-1.3zM685.7 1017.1h1.3v1.3h-1.3zM675.6 1022.2h1.3v1.3h-1.3zM672.8 1018.2h1.3v1.3h-1.3zM673.1 1013.4h1.3v1.3h-1.3zM675.7 1020.1h1.3v1.3h-1.3zM693.2 1025.0h1.3v1.3h-1.3zM673.5 1021.3h1.3v1.3h-1.3zM689.9 1027.7h1.3v1.3h-1.3zM677.7 1020.8h1.3v1.3h-1.3zM668.4 1020.0h1.3v1.3h-1.3zM674.9 1018.3h1.3v1.3h-1.3zM690.1 1013.8h1.3v1.3h-1.3zM675.1 1022.9h1.3v1.3h-1.3zM679.7 1028.0h1.3v1.3h-1.3zM668.2 1018.3h1.3v1.3h-1.3zM677.0 1021.8h1.3v1.3h-1.3zM673.1 1018.2h1.3v1.3h-1.3zM684.8 1017.1h1.3v1.3h-1.3zM671.6 1027.0h1.3v1.3h-1.3zM690.1 1024.8h1.3v1.3h-1.3zM669.3 1017.9h1.3v1.3h-1.3zM669.0 1016.7h1.3v1.3h-1.3zM672.9 1026.4h1.3v1.3h-1.3zM678.0 1018.3h1.3v1.3h-1.3zM670.0 1016.6h1.3v1.3h-1.3zM685.8 1013.2h1.3v1.3h-1.3zM678.4 1015.5h1.3v1.3h-1.3zM667.7 1015.3h1.3v1.3h-1.3zM683.9 1020.9h1.3v1.3h-1.3zM698.1 1017.1h1.3v1.3h-1.3zM667.4 1023.6h1.3v1.3h-1.3zM680.6 1020.1h1.3v1.3h-1.3zM670.8 1027.0h1.3v1.3h-1.3zM680.6 1022.8h1.3v1.3h-1.3zM671.3 1023.8h1.3v1.3h-1.3zM671.6 1021.4h1.3v1.3h-1.3zM674.5 1026.2h1.3v1.3h-1.3zM672.2 1019.8h1.3v1.3h-1.3zM684.8 1022.1h1.3v1.3h-1.3zM675.8 1020.2h1.3v1.3h-1.3zM683.6 1018.5h1.3v1.3h-1.3zM679.7 1029.3h1.3v1.3h-1.3zM679.1 1018.0h1.3v1.3h-1.3zM667.6 1021.7h1.3v1.3h-1.3zM667.7 1014.7h1.3v1.3h-1.3zM669.8 1016.7h1.3v1.3h-1.3zM682.9 1015.3h1.3v1.3h-1.3zM688.5 1018.1h1.3v1.3h-1.3zM676.8 1023.8h1.3v1.3h-1.3zM677.6 1024.0h1.3v1.3h-1.3zM667.9 1012.0h1.3v1.3h-1.3zM674.2 1014.3h1.3v1.3h-1.3zM671.1 1024.8h1.3v1.3h-1.3zM674.2 1018.7h1.3v1.3h-1.3zM667.4 1019.9h1.3v1.3h-1.3zM674.3 1014.7h1.3v1.3h-1.3zM678.1 1016.7h1.3v1.3h-1.3zM677.5 1019.2h1.3v1.3h-1.3zM683.6 1024.5h1.3v1.3h-1.3zM675.8 1020.6h1.3v1.3h-1.3zM679.2 1026.6h1.3v1.3h-1.3zM684.3 1021.7h1.3v1.3h-1.3zM678.3 1027.4h1.3v1.3h-1.3zM669.3 1023.3h1.3v1.3h-1.3zM668.7 1026.6h1.3v1.3h-1.3zM672.0 1020.7h1.3v1.3h-1.3zM667.3 1021.3h1.3v1.3h-1.3zM682.4 1027.9h1.3v1.3h-1.3zM667.7 1019.5h1.3v1.3h-1.3zM707.4 1025.0h1.3v1.3h-1.3zM676.1 1023.4h1.3v1.3h-1.3zM673.3 1027.8h1.3v1.3h-1.3zM677.5 1015.6h1.3v1.3h-1.3zM685.6 1018.8h1.3v1.3h-1.3zM668.1 1023.4h1.3v1.3h-1.3zM679.5 1019.5h1.3v1.3h-1.3zM675.7 1016.0h1.3v1.3h-1.3zM668.3 1024.9h1.3v1.3h-1.3zM686.9 1023.1h1.3v1.3h-1.3zM679.3 1019.8h1.3v1.3h-1.3zM675.3 1017.6h1.3v1.3h-1.3zM690.4 1019.1h1.3v1.3h-1.3zM679.6 1021.4h1.3v1.3h-1.3zM668.2 1029.1h1.3v1.3h-1.3zM673.3 1018.3h1.3v1.3h-1.3zM677.3 1017.8h1.3v1.3h-1.3zM676.6 1017.5h1.3v1.3h-1.3zM680.9 1021.6h1.3v1.3h-1.3zM668.0 1025.5h1.3v1.3h-1.3zM677.9 1016.9h1.3v1.3h-1.3zM679.2 1023.1h1.3v1.3h-1.3zM691.3 1017.9h1.3v1.3h-1.3zM683.2 1021.0h1.3v1.3h-1.3zM681.3 1020.3h1.3v1.3h-1.3zM675.9 1023.4h1.3v1.3h-1.3zM667.3 1013.0h1.3v1.3h-1.3zM676.3 1019.6h1.3v1.3h-1.3zM677.1 1024.0h1.3v1.3h-1.3zM674.7 1026.2h1.3v1.3h-1.3zM676.2 1021.9h1.3v1.3h-1.3zM683.2 1023.8h1.3v1.3h-1.3zM675.8 1022.0h1.3v1.3h-1.3zM670.5 1019.0h1.3v1.3h-1.3zM677.4 1024.7h1.3v1.3h-1.3zM673.1 1024.8h1.3v1.3h-1.3zM692.2 1030.1h1.3v1.3h-1.3zM676.9 1025.7h1.3v1.3h-1.3zM681.6 1024.7h1.3v1.3h-1.3zM683.4 1023.6h1.3v1.3h-1.3zM683.4 1022.3h1.3v1.3h-1.3zM674.7 1022.6h1.3v1.3h-1.3zM680.7 1026.5h1.3v1.3h-1.3zM679.8 1024.5h1.3v1.3h-1.3zM688.2 1017.8h1.3v1.3h-1.3zM674.7 1023.7h1.3v1.3h-1.3zM677.0 1017.5h1.3v1.3h-1.3zM684.7 1021.3h1.3v1.3h-1.3zM668.8 1029.2h1.3v1.3h-1.3zM667.5 1021.5h1.3v1.3h-1.3zM671.4 1022.0h1.3v1.3h-1.3zM681.3 1018.3h1.3v1.3h-1.3z" fill="#000" fill-opacity="0.85"/>
<rect x="664.30" y="988.60" width="62.90" height="75.20" stroke="#000" stroke-width="1.50" fill="none"/>
<g transform="translate(730.99 1034.00) scale(1.0597 1)"><text x="0.00" y="0.00" font-size="37.70">2</text></g>
<g transform="translate(81.50 1093.13) rotate(-90) scale(0.9760 1)"><text x="0.00" y="0.00" font-size="37.00">CD8</text><text x="74.02" y="0.00" font-size="37.00" font-family="Liberation Serif, serif">β</text><text x="92.84" y="0.00" font-size="37.00">-BUV395</text></g>
<g transform="translate(120.73 1135.50) scale(1.0011 1)"><text x="0.00" y="0.00" font-size="36.80">CD8</text><text x="73.62" y="0.00" font-size="36.80" font-family="Liberation Serif, serif">α</text><text x="92.90" y="0.00" font-size="36.80">-V500</text></g>
<line x1="322.40" y1="1128.80" x2="765.60" y2="1128.80" stroke="#000" stroke-width="1.60"/><polygon points="763.60,1135.30 766.60,1128.80 763.60,1122.30 777.60,1128.80" fill="#000"/>
<line x1="909.80" y1="863.40" x2="909.80" y2="1064.30" stroke="#000" stroke-width="2.60"/>
<line x1="904.60" y1="1063.30" x2="1095.20" y2="1063.30" stroke="#000" stroke-width="2.20"/>
<line x1="904.50" y1="1063.30" x2="909.80" y2="1063.30" stroke="#000" stroke-width="2.20"/>
<g transform="translate(887.50 1072.00) scale(1.0000 1)"><text x="0.00" y="0.00" font-size="29.00">0</text></g>
<line x1="904.50" y1="1023.52" x2="909.80" y2="1023.52" stroke="#000" stroke-width="2.20"/>
<g transform="translate(887.79 1032.22) scale(1.0000 1)"><text x="0.00" y="0.00" font-size="29.00">1</text></g>
<line x1="904.50" y1="983.74" x2="909.80" y2="983.74" stroke="#000" stroke-width="2.20"/>
<g transform="translate(887.83 992.44) scale(1.0000 1)"><text x="0.00" y="0.00" font-size="29.00">2</text></g>
<line x1="904.50" y1="943.96" x2="909.80" y2="943.96" stroke="#000" stroke-width="2.20"/>
<g transform="translate(887.65 952.66) scale(1.0000 1)"><text x="0.00" y="0.00" font-size="29.00">3</text></g>
<line x1="904.50" y1="904.18" x2="909.80" y2="904.18" stroke="#000" stroke-width="2.20"/>
<g transform="translate(887.22 912.88) scale(1.0000 1)"><text x="0.00" y="0.00" font-size="29.00">4</text></g>
<line x1="904.50" y1="864.40" x2="909.80" y2="864.40" stroke="#000" stroke-width="2.20"/>
<g transform="translate(887.59 873.10) scale(1.0000 1)"><text x="0.00" y="0.00" font-size="29.00">5</text></g>
<line x1="947.70" y1="1063.30" x2="947.70" y2="1068.80" stroke="#000" stroke-width="2.20"/>
<line x1="1002.50" y1="1063.30" x2="1002.50" y2="1068.80" stroke="#000" stroke-width="2.20"/>
<line x1="1057.70" y1="1063.30" x2="1057.70" y2="1068.80" stroke="#000" stroke-width="2.20"/>
<g transform="translate(961.03 868.50) scale(0.9717 1)"><text x="0.00" y="0.00" font-size="29.00" font-style="italic">P</text><text x="19.34" y="0.00" font-size="29.00"> = 0.0014</text></g>
<line x1="1002.50" y1="885.20" x2="1059.80" y2="885.20" stroke="#000" stroke-width="1.60"/>
<rect x="1049.50" y="896.20" width="17.60" height="17.60" stroke="#d42a2a" stroke-width="1.80" fill="none"/>
<rect x="1059.20" y="923.20" width="17.60" height="17.60" stroke="#d42a2a" stroke-width="1.80" fill="none"/>
<rect x="1040.60" y="948.20" width="17.60" height="17.60" stroke="#d42a2a" stroke-width="1.80" fill="none"/>
<rect x="1040.60" y="967.00" width="17.60" height="17.60" stroke="#d42a2a" stroke-width="1.80" fill="none"/>
<rect x="1058.90" y="978.90" width="17.60" height="17.60" stroke="#d42a2a" stroke-width="1.80" fill="none"/>
<rect x="1049.50" y="1034.70" width="17.60" height="17.60" stroke="#d42a2a" stroke-width="1.80" fill="none"/>
<line x1="1036.30" y1="966.00" x2="1080.30" y2="966.00" stroke="#d42a2a" stroke-width="2.00"/><line x1="1058.30" y1="946.70" x2="1058.30" y2="986.00" stroke="#d42a2a" stroke-width="2.00"/><line x1="1048.80" y1="946.70" x2="1067.80" y2="946.70" stroke="#d42a2a" stroke-width="2.00"/><line x1="1048.80" y1="986.00" x2="1067.80" y2="986.00" stroke="#d42a2a" stroke-width="2.00"/>
<circle cx="935.70" cy="1042.50" r="8.40" stroke="#000" stroke-width="1.20" fill="#000"/>
<circle cx="961.50" cy="1036.00" r="8.40" stroke="#000" stroke-width="1.20" fill="#000"/>
<circle cx="943.00" cy="1055.00" r="8.40" stroke="#000" stroke-width="1.20" fill="#000"/>
<circle cx="953.00" cy="1051.00" r="8.40" stroke="#000" stroke-width="1.20" fill="#000"/>
<circle cx="948.00" cy="1060.00" r="8.40" stroke="#000" stroke-width="1.20" fill="#000"/>
<circle cx="965.00" cy="1050.00" r="8.40" stroke="#000" stroke-width="1.20" fill="#000"/>
<circle cx="931.00" cy="1055.00" r="8.40" stroke="#000" stroke-width="1.20" fill="#000"/>
<circle cx="957.00" cy="1059.00" r="8.40" stroke="#000" stroke-width="1.20" fill="#000"/>
<line x1="926.00" y1="1047.10" x2="970.40" y2="1047.10" stroke="#000" stroke-width="1.80"/>
<circle cx="990.60" cy="1047.10" r="8.40" stroke="#000" stroke-width="1.70" fill="none"/>
<circle cx="1014.90" cy="1046.30" r="8.40" stroke="#000" stroke-width="1.70" fill="none"/>
<circle cx="996.30" cy="1056.80" r="8.40" stroke="#000" stroke-width="1.70" fill="none"/>
<circle cx="1005.20" cy="1058.40" r="8.40" stroke="#000" stroke-width="1.70" fill="none"/>
<circle cx="1002.70" cy="1063.20" r="8.40" stroke="#000" stroke-width="1.70" fill="none"/>
<circle cx="1016.50" cy="1050.30" r="8.40" stroke="#000" stroke-width="1.70" fill="none"/>
<line x1="984.20" y1="1053.90" x2="1026.20" y2="1053.90" stroke="#000" stroke-width="1.80"/>
<line x1="994.00" y1="1053.90" x2="1016.00" y2="1053.90" stroke="#000" stroke-width="3.20"/>
<g transform="translate(953.00 1084.00) rotate(-52.00) scale(1.0000 1) translate(-105.60 0)"><text x="0.00" y="0.00" font-size="37.00">Comp.</text></g>
<g transform="translate(969.16 1102.00) scale(0.9777 1)"><text x="0.00" y="0.00" font-size="37.00">Ctrl</text></g>
<g transform="translate(1039.01 1102.00) scale(0.9866 1)"><text x="0.00" y="0.00" font-size="37.00">KO</text></g>
<line x1="982.70" y1="1115.40" x2="1074.40" y2="1115.40" stroke="#000" stroke-width="1.60"/>
<g transform="translate(985.06 1143.50) scale(0.8964 1)"><text x="0.00" y="0.00" font-size="37.00">Tester</text></g>
<g transform="translate(832.50 1065.33) rotate(-90) scale(1.0079 1)"><text x="0.00" y="0.00" font-size="37.00">% of CD8</text><text x="158.33" y="0.00" font-size="37.00" font-family="Liberation Serif, serif">αα</text></g>
<g transform="translate(872.50 1143.41) rotate(-90) scale(0.9732 1)"><text x="0.00" y="0.00" font-size="37.00">in CD8</text><text x="113.10" y="0.00" font-size="37.00" font-family="Liberation Serif, serif">α</text><text x="132.48" y="-15.54" font-size="22.20">+</text><text x="145.45" y="0.00" font-size="37.00"> splenocytes</text></g>
<g transform="translate(1213.37 820.50) scale(1.1341 1)"><text x="0.00" y="0.00" font-size="70.00">d</text></g>
<g transform="translate(1269.57 902.00) scale(0.9604 1)"><text x="0.00" y="0.00" font-size="37.50">CD8</text><text x="75.02" y="0.00" font-size="37.50" font-family="Liberation Serif, serif">αβ</text><text x="113.75" y="0.00" font-size="37.50"> Spleen T cell transfer: spleen T cell progeny</text></g>
<line x1="1223.80" y1="918.60" x2="2115.20" y2="918.60" stroke="#000" stroke-width="1.60"/>
<g transform="translate(1259.18 963.80) scale(0.9533 1)"><text x="0.00" y="0.00" font-size="37.50">CD45.2</text><text x="127.15" y="-15.75" font-size="22.50">+</text><text x="140.29" y="0.00" font-size="37.50"> TCR</text><text x="227.78" y="0.00" font-size="37.50" font-family="Liberation Serif, serif">β</text><text x="246.86" y="-15.75" font-size="22.50">+</text><text x="260.00" y="0.00" font-size="37.50"> transferred cells</text></g>
<line x1="1223.80" y1="976.70" x2="1780.00" y2="976.70" stroke="#000" stroke-width="1.60"/>
<g transform="translate(1215.90 1015.20) scale(0.9446 1)"><text x="0.00" y="0.00" font-size="37.50">Tester:</text></g>
<g transform="translate(1405.06 1015.20) scale(1.0203 1)" fill="#1010f0"><text x="0.00" y="0.00" font-size="37.50">Ctrl</text></g>
<g transform="translate(1637.38 1015.20) scale(1.0140 1)" fill="#d42a2a"><text x="0.00" y="0.00" font-size="37.50">KO</text></g>
<rect x="1312.60" y="1026.40" width="229.70" height="229.00" stroke="#555" stroke-width="1.30" fill="none"/><path d="M1307.1 1240.6H1312.6M1327.2 1255.4V1260.9M1307.1 1203.3H1312.6M1364.0 1255.4V1260.9M1307.1 1165.0H1312.6M1402.9 1255.4V1260.9M1307.1 1102.6H1312.6M1464.8 1255.4V1260.9M1307.1 1047.4H1312.6M1519.0 1255.4V1260.9" stroke="#000" stroke-width="1.8" fill="none"/><path d="M1309.4 1208.4H1312.6M1358.9 1255.4V1258.6M1309.4 1213.4H1312.6M1354.0 1255.4V1258.6M1309.4 1218.0H1312.6M1349.5 1255.4V1258.6M1309.4 1222.3H1312.6M1345.3 1255.4V1258.6M1309.4 1226.1H1312.6M1341.5 1255.4V1258.6M1309.4 1229.6H1312.6M1338.1 1255.4V1258.6M1309.4 1232.7H1312.6M1335.0 1255.4V1258.6M1309.4 1235.6H1312.6M1332.2 1255.4V1258.6M1309.4 1238.2H1312.6M1329.6 1255.4V1258.6M1309.4 1198.0H1312.6M1369.4 1255.4V1258.6M1309.4 1192.9H1312.6M1374.5 1255.4V1258.6M1309.4 1188.2H1312.6M1379.4 1255.4V1258.6M1309.4 1183.8H1312.6M1383.8 1255.4V1258.6M1309.4 1179.9H1312.6M1387.8 1255.4V1258.6M1309.4 1176.3H1312.6M1391.4 1255.4V1258.6M1309.4 1173.1H1312.6M1394.7 1255.4V1258.6M1309.4 1170.2H1312.6M1397.7 1255.4V1258.6M1309.4 1167.5H1312.6M1400.4 1255.4V1258.6M1309.4 1203.8H1312.6M1363.5 1255.4V1258.6M1309.4 1204.9H1312.6M1362.5 1255.4V1258.6M1309.4 1205.9H1312.6M1361.4 1255.4V1258.6M1309.4 1206.9H1312.6M1360.4 1255.4V1258.6M1309.4 1207.9H1312.6M1359.4 1255.4V1258.6M1309.4 1202.8H1312.6M1364.5 1255.4V1258.6M1309.4 1201.7H1312.6M1365.6 1255.4V1258.6M1309.4 1200.6H1312.6M1366.7 1255.4V1258.6M1309.4 1199.6H1312.6M1367.8 1255.4V1258.6M1309.4 1198.5H1312.6M1368.8 1255.4V1258.6M1309.4 1146.9H1312.6M1420.9 1255.4V1258.6M1309.4 1135.9H1312.6M1431.8 1255.4V1258.6M1309.4 1128.0H1312.6M1439.6 1255.4V1258.6M1309.4 1121.8H1312.6M1445.8 1255.4V1258.6M1309.4 1116.8H1312.6M1450.8 1255.4V1258.6M1309.4 1112.5H1312.6M1455.0 1255.4V1258.6M1309.4 1108.8H1312.6M1458.7 1255.4V1258.6M1309.4 1105.5H1312.6M1461.9 1255.4V1258.6M1309.4 1086.0H1312.6M1481.1 1255.4V1258.6M1309.4 1076.3H1312.6M1490.7 1255.4V1258.6M1309.4 1069.4H1312.6M1497.4 1255.4V1258.6M1309.4 1064.0H1312.6M1502.7 1255.4V1258.6M1309.4 1059.6H1312.6M1507.0 1255.4V1258.6M1309.4 1056.0H1312.6M1510.6 1255.4V1258.6M1309.4 1052.8H1312.6M1513.7 1255.4V1258.6M1309.4 1049.9H1312.6M1516.5 1255.4V1258.6M1309.4 1030.8H1312.6M1535.3 1255.4V1258.6" stroke="#000" stroke-width="1.1" fill="none"/><g transform="translate(1274.88 1058.20) scale(1.0000 1)"><text x="0.00" y="0.00" font-size="20.80">10</text></g><g transform="translate(1293.81 1046.70) scale(1.0000 1)"><text x="0.00" y="0.00" font-size="20.80">5</text></g><g transform="translate(1274.88 1113.40) scale(1.0000 1)"><text x="0.00" y="0.00" font-size="20.80">10</text></g><g transform="translate(1293.54 1101.90) scale(1.0000 1)"><text x="0.00" y="0.00" font-size="20.80">4</text></g><g transform="translate(1274.88 1175.80) scale(1.0000 1)"><text x="0.00" y="0.00" font-size="20.80">10</text></g><g transform="translate(1293.85 1164.30) scale(1.0000 1)"><text x="0.00" y="0.00" font-size="20.80">3</text></g><g transform="translate(1290.04 1214.30) scale(1.0000 1)"><text x="0.00" y="0.00" font-size="20.80">0</text></g><g transform="translate(1267.95 1254.60) scale(1.0000 1)"><text x="0.00" y="0.00" font-size="20.80">-10</text></g><g transform="translate(1293.85 1243.40) scale(1.0000 1)"><text x="0.00" y="0.00" font-size="20.80">3</text></g><g transform="translate(1395.82 1287.20) scale(1.0000 1)"><text x="0.00" y="0.00" font-size="20.80">10</text></g><g transform="translate(1416.85 1278.70) scale(1.0000 1)"><text x="0.00" y="0.00" font-size="20.80">3</text></g><g transform="translate(1458.72 1287.20) scale(1.0000 1)"><text x="0.00" y="0.00" font-size="20.80">10</text></g><g transform="translate(1480.06 1278.70) scale(1.0000 1)"><text x="0.00" y="0.00" font-size="20.80">4</text></g><g transform="translate(1508.22 1287.20) scale(1.0000 1)"><text x="0.00" y="0.00" font-size="20.80">10</text></g><g transform="translate(1529.21 1278.70) scale(1.0000 1)"><text x="0.00" y="0.00" font-size="20.80">5</text></g><g transform="translate(1315.98 1287.20) scale(1.0000 1)"><text x="0.00" y="0.00" font-size="20.80">-10</text></g><g transform="translate(1343.93 1278.70) scale(1.0000 1)"><text x="0.00" y="0.00" font-size="20.80">3</text></g><g transform="translate(1359.22 1287.20) scale(1.0000 1)"><text x="0.00" y="0.00" font-size="20.80">0</text></g>
<path d="M1499.7 1120.4h1.1v1.1h-1.1zM1508.0 1099.8h1.1v1.1h-1.1zM1497.4 1099.6h1.1v1.1h-1.1zM1503.4 1104.8h1.1v1.1h-1.1zM1510.4 1104.4h1.1v1.1h-1.1zM1504.2 1103.9h1.1v1.1h-1.1zM1505.2 1103.2h1.1v1.1h-1.1zM1498.4 1113.0h1.1v1.1h-1.1zM1493.4 1088.8h1.1v1.1h-1.1zM1502.2 1098.1h1.1v1.1h-1.1zM1486.0 1096.5h1.1v1.1h-1.1zM1496.2 1092.3h1.1v1.1h-1.1zM1505.7 1102.9h1.1v1.1h-1.1zM1504.5 1102.1h1.1v1.1h-1.1zM1503.3 1116.9h1.1v1.1h-1.1zM1498.0 1096.5h1.1v1.1h-1.1zM1501.9 1108.2h1.1v1.1h-1.1zM1507.1 1091.3h1.1v1.1h-1.1zM1494.8 1096.2h1.1v1.1h-1.1zM1503.1 1097.3h1.1v1.1h-1.1zM1509.1 1114.5h1.1v1.1h-1.1zM1503.8 1109.9h1.1v1.1h-1.1zM1506.1 1090.8h1.1v1.1h-1.1zM1503.7 1112.1h1.1v1.1h-1.1zM1496.4 1105.2h1.1v1.1h-1.1zM1501.8 1095.8h1.1v1.1h-1.1zM1503.6 1104.3h1.1v1.1h-1.1zM1502.9 1099.7h1.1v1.1h-1.1zM1507.1 1112.1h1.1v1.1h-1.1zM1498.2 1112.4h1.1v1.1h-1.1zM1508.3 1125.2h1.1v1.1h-1.1zM1502.7 1104.4h1.1v1.1h-1.1zM1508.6 1087.9h1.1v1.1h-1.1zM1497.3 1091.0h1.1v1.1h-1.1zM1501.2 1122.1h1.1v1.1h-1.1zM1510.5 1110.1h1.1v1.1h-1.1zM1499.3 1103.2h1.1v1.1h-1.1zM1501.6 1104.4h1.1v1.1h-1.1zM1497.9 1091.3h1.1v1.1h-1.1zM1498.1 1089.6h1.1v1.1h-1.1zM1508.8 1111.3h1.1v1.1h-1.1zM1514.2 1106.1h1.1v1.1h-1.1zM1496.2 1089.5h1.1v1.1h-1.1zM1493.7 1098.3h1.1v1.1h-1.1zM1503.6 1096.3h1.1v1.1h-1.1zM1497.6 1101.6h1.1v1.1h-1.1zM1500.8 1117.5h1.1v1.1h-1.1zM1499.6 1115.6h1.1v1.1h-1.1zM1496.5 1109.1h1.1v1.1h-1.1zM1484.5 1089.5h1.1v1.1h-1.1zM1505.0 1099.0h1.1v1.1h-1.1zM1503.5 1111.4h1.1v1.1h-1.1zM1508.7 1114.4h1.1v1.1h-1.1zM1506.6 1104.2h1.1v1.1h-1.1zM1494.6 1097.4h1.1v1.1h-1.1zM1496.0 1093.0h1.1v1.1h-1.1zM1495.6 1104.4h1.1v1.1h-1.1zM1501.2 1101.7h1.1v1.1h-1.1zM1501.0 1117.4h1.1v1.1h-1.1zM1503.5 1098.4h1.1v1.1h-1.1zM1504.7 1125.6h1.1v1.1h-1.1zM1514.4 1096.5h1.1v1.1h-1.1zM1502.1 1110.5h1.1v1.1h-1.1zM1503.4 1111.4h1.1v1.1h-1.1zM1500.9 1107.4h1.1v1.1h-1.1zM1488.9 1103.6h1.1v1.1h-1.1zM1494.2 1106.8h1.1v1.1h-1.1zM1505.2 1108.8h1.1v1.1h-1.1zM1501.7 1106.5h1.1v1.1h-1.1zM1496.3 1103.6h1.1v1.1h-1.1zM1499.5 1111.8h1.1v1.1h-1.1zM1494.1 1097.4h1.1v1.1h-1.1zM1498.1 1099.3h1.1v1.1h-1.1zM1501.5 1099.1h1.1v1.1h-1.1zM1492.0 1096.1h1.1v1.1h-1.1zM1508.6 1105.9h1.1v1.1h-1.1zM1503.3 1089.5h1.1v1.1h-1.1zM1501.6 1116.4h1.1v1.1h-1.1zM1502.7 1108.3h1.1v1.1h-1.1zM1506.1 1107.2h1.1v1.1h-1.1zM1501.8 1104.1h1.1v1.1h-1.1zM1503.9 1095.1h1.1v1.1h-1.1zM1505.0 1099.9h1.1v1.1h-1.1zM1511.3 1116.0h1.1v1.1h-1.1z" fill="#000"/><path d="M1476.9 1153.8h1.1v1.1h-1.1zM1483.4 1149.3h1.1v1.1h-1.1zM1474.5 1147.1h1.1v1.1h-1.1zM1466.3 1149.7h1.1v1.1h-1.1zM1481.2 1159.9h1.1v1.1h-1.1zM1482.9 1156.7h1.1v1.1h-1.1zM1477.2 1156.0h1.1v1.1h-1.1zM1487.2 1150.1h1.1v1.1h-1.1zM1466.7 1153.3h1.1v1.1h-1.1zM1479.3 1152.7h1.1v1.1h-1.1zM1477.3 1157.9h1.1v1.1h-1.1zM1489.5 1151.4h1.1v1.1h-1.1zM1485.1 1151.6h1.1v1.1h-1.1zM1486.5 1154.4h1.1v1.1h-1.1zM1484.9 1148.6h1.1v1.1h-1.1zM1487.5 1152.3h1.1v1.1h-1.1zM1484.1 1157.6h1.1v1.1h-1.1zM1483.1 1154.7h1.1v1.1h-1.1zM1486.1 1153.4h1.1v1.1h-1.1zM1484.4 1157.2h1.1v1.1h-1.1zM1470.9 1150.9h1.1v1.1h-1.1zM1478.6 1156.2h1.1v1.1h-1.1zM1476.6 1155.8h1.1v1.1h-1.1zM1474.8 1155.8h1.1v1.1h-1.1zM1479.2 1152.6h1.1v1.1h-1.1zM1483.0 1148.7h1.1v1.1h-1.1zM1468.7 1156.1h1.1v1.1h-1.1zM1478.3 1155.4h1.1v1.1h-1.1zM1463.3 1148.7h1.1v1.1h-1.1zM1486.0 1154.3h1.1v1.1h-1.1zM1473.8 1149.9h1.1v1.1h-1.1zM1481.1 1154.2h1.1v1.1h-1.1zM1473.9 1155.5h1.1v1.1h-1.1zM1472.7 1157.6h1.1v1.1h-1.1zM1483.3 1154.2h1.1v1.1h-1.1zM1486.8 1152.7h1.1v1.1h-1.1zM1480.7 1150.5h1.1v1.1h-1.1zM1475.8 1151.3h1.1v1.1h-1.1zM1487.1 1153.4h1.1v1.1h-1.1zM1479.1 1157.1h1.1v1.1h-1.1zM1481.7 1159.3h1.1v1.1h-1.1zM1480.2 1155.5h1.1v1.1h-1.1zM1477.0 1156.2h1.1v1.1h-1.1zM1486.0 1153.9h1.1v1.1h-1.1zM1484.6 1154.4h1.1v1.1h-1.1zM1476.0 1151.5h1.1v1.1h-1.1zM1475.8 1150.7h1.1v1.1h-1.1zM1482.7 1155.7h1.1v1.1h-1.1zM1487.6 1148.1h1.1v1.1h-1.1zM1475.5 1154.0h1.1v1.1h-1.1zM1485.8 1151.7h1.1v1.1h-1.1zM1485.8 1152.0h1.1v1.1h-1.1zM1485.0 1156.6h1.1v1.1h-1.1z" fill="#000"/><path d="M1500.2 1136.4h1.1v1.1h-1.1zM1484.0 1098.8h1.1v1.1h-1.1zM1481.9 1100.0h1.1v1.1h-1.1zM1484.8 1103.8h1.1v1.1h-1.1zM1464.8 1127.6h1.1v1.1h-1.1zM1481.4 1095.5h1.1v1.1h-1.1zM1479.9 1099.4h1.1v1.1h-1.1zM1500.6 1134.3h1.1v1.1h-1.1zM1495.6 1094.6h1.1v1.1h-1.1zM1506.1 1130.2h1.1v1.1h-1.1zM1492.6 1097.6h1.1v1.1h-1.1zM1493.5 1097.7h1.1v1.1h-1.1zM1465.1 1143.3h1.1v1.1h-1.1zM1464.9 1146.3h1.1v1.1h-1.1zM1468.2 1110.6h1.1v1.1h-1.1zM1464.9 1151.1h1.1v1.1h-1.1z" fill="#000"/><path d="M1498.9 1132.8 1497.6 1135.8 1496.1 1138.6 1494.3 1141.2 1492.4 1143.6 1490.2 1145.6 1487.9 1147.3 1485.5 1148.6 1483.1 1149.6 1480.7 1150.0 1478.4 1150.1 1476.2 1149.8 1474.1 1149.0 1472.2 1147.9 1470.4 1146.5 1468.9 1144.8 1467.5 1142.8 1466.4 1140.6 1465.6 1138.1 1465.0 1135.3 1464.8 1132.4 1464.9 1129.3 1465.3 1126.2 1466.2 1123.1 1467.3 1120.1 1468.8 1117.2 1470.4 1114.5 1472.3 1112.1 1474.3 1109.9 1476.4 1108.0 1478.6 1106.3 1480.9 1104.8 1483.3 1103.7 1485.7 1103.0 1488.0 1102.6 1490.4 1102.7 1492.6 1103.3 1494.6 1104.4 1496.4 1105.9 1497.9 1107.8 1499.1 1110.0 1500.0 1112.4 1500.6 1115.1 1501.0 1117.9 1501.1 1120.8 1501.0 1123.7 1500.5 1126.8 1499.9 1129.8ZM1498.3 1132.7 1497.1 1135.6 1495.7 1138.3 1493.9 1140.9 1492.0 1143.2 1489.9 1145.1 1487.6 1146.7 1485.3 1147.9 1483.0 1148.7 1480.7 1149.1 1478.5 1149.1 1476.4 1148.7 1474.4 1148.1 1472.6 1147.1 1470.8 1145.8 1469.3 1144.2 1467.9 1142.4 1466.8 1140.2 1465.9 1137.8 1465.3 1135.2 1465.1 1132.3 1465.2 1129.3 1465.8 1126.3 1466.6 1123.3 1467.8 1120.4 1469.3 1117.7 1470.9 1115.2 1472.7 1112.9 1474.6 1110.8 1476.6 1108.9 1478.7 1107.2 1480.9 1105.8 1483.2 1104.6 1485.5 1103.7 1487.8 1103.3 1490.1 1103.4 1492.2 1104.0 1494.2 1105.1 1495.8 1106.6 1497.2 1108.5 1498.3 1110.7 1499.1 1113.1 1499.7 1115.7 1500.0 1118.3 1500.2 1121.1 1500.1 1123.9 1499.8 1126.8 1499.2 1129.8ZM1497.6 1132.5 1496.5 1135.3 1495.1 1138.0 1493.4 1140.4 1491.5 1142.6 1489.5 1144.5 1487.4 1146.0 1485.1 1147.2 1482.9 1147.9 1480.7 1148.3 1478.6 1148.3 1476.6 1147.9 1474.7 1147.3 1472.9 1146.3 1471.2 1145.1 1469.7 1143.6 1468.4 1141.8 1467.3 1139.8 1466.5 1137.5 1465.9 1134.9 1465.7 1132.2 1465.8 1129.3 1466.3 1126.4 1467.2 1123.5 1468.3 1120.7 1469.7 1118.1 1471.3 1115.7 1473.0 1113.5 1474.9 1111.5 1476.8 1109.7 1478.8 1108.1 1480.9 1106.6 1483.0 1105.5 1485.3 1104.7 1487.5 1104.3 1489.7 1104.3 1491.8 1104.9 1493.6 1106.0 1495.2 1107.5 1496.5 1109.3 1497.6 1111.4 1498.4 1113.7 1498.9 1116.2 1499.3 1118.7 1499.4 1121.4 1499.3 1124.1 1499.0 1126.9 1498.4 1129.7ZM1496.7 1132.3 1495.6 1134.9 1494.3 1137.4 1492.7 1139.7 1491.0 1141.8 1489.1 1143.7 1487.1 1145.2 1484.9 1146.4 1482.8 1147.3 1480.7 1147.7 1478.6 1147.7 1476.6 1147.4 1474.8 1146.7 1473.1 1145.7 1471.6 1144.4 1470.2 1142.9 1469.0 1141.1 1468.0 1139.2 1467.2 1137.0 1466.7 1134.6 1466.5 1132.0 1466.5 1129.3 1467.0 1126.5 1467.7 1123.7 1468.7 1121.0 1470.0 1118.5 1471.5 1116.1 1473.2 1114.0 1475.0 1112.1 1476.9 1110.3 1478.8 1108.8 1480.8 1107.6 1482.9 1106.6 1485.0 1105.9 1487.1 1105.6 1489.2 1105.7 1491.2 1106.2 1492.9 1107.1 1494.5 1108.4 1495.9 1110.1 1497.0 1112.0 1497.8 1114.2 1498.4 1116.6 1498.7 1119.0 1498.8 1121.6 1498.6 1124.3 1498.2 1127.0 1497.6 1129.7ZM1496.0 1132.2 1495.0 1134.7 1493.7 1137.1 1492.2 1139.3 1490.5 1141.3 1488.7 1143.1 1486.7 1144.5 1484.7 1145.6 1482.7 1146.3 1480.7 1146.7 1478.7 1146.7 1476.8 1146.3 1475.1 1145.7 1473.5 1144.8 1472.0 1143.6 1470.7 1142.2 1469.5 1140.6 1468.5 1138.7 1467.7 1136.6 1467.2 1134.3 1467.0 1131.9 1467.1 1129.2 1467.5 1126.6 1468.2 1123.9 1469.3 1121.4 1470.5 1119.0 1472.0 1116.8 1473.6 1114.8 1475.3 1113.0 1477.1 1111.4 1478.9 1109.9 1480.8 1108.7 1482.8 1107.7 1484.8 1106.9 1486.9 1106.5 1488.8 1106.5 1490.7 1107.0 1492.5 1107.9 1494.0 1109.2 1495.2 1110.8 1496.2 1112.8 1496.9 1114.9 1497.4 1117.2 1497.7 1119.6 1497.7 1122.0 1497.6 1124.5 1497.3 1127.0 1496.7 1129.6ZM1495.2 1132.0 1494.3 1134.4 1493.0 1136.7 1491.6 1138.8 1490.0 1140.7 1488.2 1142.3 1486.4 1143.6 1484.5 1144.6 1482.6 1145.2 1480.7 1145.6 1478.8 1145.6 1477.1 1145.3 1475.4 1144.8 1473.8 1144.0 1472.4 1143.0 1471.0 1141.7 1469.9 1140.1 1468.9 1138.3 1468.2 1136.3 1467.8 1134.1 1467.6 1131.7 1467.8 1129.2 1468.3 1126.7 1469.0 1124.2 1470.0 1121.8 1471.2 1119.6 1472.5 1117.5 1474.0 1115.5 1475.5 1113.7 1477.2 1112.1 1478.9 1110.7 1480.8 1109.4 1482.7 1108.5 1484.6 1107.8 1486.5 1107.5 1488.4 1107.6 1490.2 1108.2 1491.8 1109.1 1493.2 1110.4 1494.3 1111.9 1495.3 1113.7 1496.0 1115.7 1496.5 1117.8 1496.8 1120.0 1496.9 1122.3 1496.8 1124.7 1496.5 1127.1 1496.0 1129.6ZM1494.2 1131.7 1493.3 1133.9 1492.2 1136.1 1490.8 1138.0 1489.4 1139.8 1487.8 1141.4 1486.0 1142.8 1484.2 1143.8 1482.4 1144.5 1480.6 1144.9 1478.8 1144.9 1477.2 1144.6 1475.6 1144.0 1474.1 1143.2 1472.8 1142.1 1471.7 1140.8 1470.7 1139.3 1469.8 1137.6 1469.2 1135.7 1468.7 1133.7 1468.5 1131.5 1468.6 1129.1 1468.9 1126.8 1469.5 1124.4 1470.4 1122.1 1471.5 1119.9 1472.8 1117.9 1474.2 1116.1 1475.7 1114.4 1477.3 1113.0 1479.0 1111.7 1480.7 1110.7 1482.5 1109.9 1484.3 1109.3 1486.1 1109.0 1487.9 1109.1 1489.5 1109.5 1491.1 1110.3 1492.4 1111.4 1493.6 1112.8 1494.5 1114.4 1495.3 1116.3 1495.8 1118.3 1496.0 1120.4 1496.1 1122.6 1495.9 1124.9 1495.6 1127.2 1495.0 1129.5ZM1493.4 1131.5 1492.5 1133.6 1491.4 1135.6 1490.1 1137.4 1488.8 1139.1 1487.3 1140.6 1485.6 1141.8 1484.0 1142.8 1482.3 1143.4 1480.6 1143.8 1478.9 1143.9 1477.3 1143.6 1475.9 1143.1 1474.5 1142.3 1473.3 1141.3 1472.2 1140.0 1471.3 1138.6 1470.5 1137.0 1469.9 1135.2 1469.5 1133.3 1469.3 1131.2 1469.4 1129.1 1469.7 1126.9 1470.2 1124.7 1471.0 1122.5 1472.0 1120.5 1473.2 1118.6 1474.5 1116.8 1476.0 1115.3 1477.5 1113.9 1479.1 1112.8 1480.7 1111.8 1482.4 1111.1 1484.0 1110.6 1485.7 1110.4 1487.3 1110.4 1488.9 1110.8 1490.3 1111.5 1491.6 1112.5 1492.7 1113.8 1493.6 1115.3 1494.3 1117.0 1494.8 1118.9 1495.0 1120.9 1495.1 1123.0 1494.9 1125.1 1494.6 1127.3 1494.1 1129.4ZM1492.4 1131.3 1491.6 1133.2 1490.6 1135.1 1489.4 1136.8 1488.2 1138.4 1486.8 1139.7 1485.3 1140.9 1483.7 1141.7 1482.1 1142.3 1480.5 1142.6 1479.0 1142.7 1477.6 1142.4 1476.2 1141.9 1475.0 1141.2 1473.8 1140.3 1472.8 1139.2 1471.9 1137.9 1471.2 1136.4 1470.6 1134.8 1470.2 1133.0 1470.1 1131.1 1470.1 1129.1 1470.5 1127.0 1471.0 1125.0 1471.8 1123.0 1472.7 1121.1 1473.8 1119.4 1475.0 1117.8 1476.3 1116.3 1477.7 1115.1 1479.2 1114.0 1480.7 1113.0 1482.2 1112.3 1483.8 1111.8 1485.3 1111.6 1486.8 1111.7 1488.3 1112.0 1489.6 1112.7 1490.8 1113.7 1491.8 1114.9 1492.6 1116.3 1493.2 1117.9 1493.6 1119.7 1493.9 1121.5 1493.9 1123.4 1493.8 1125.4 1493.5 1127.4 1493.0 1129.4ZM1491.3 1131.1 1490.6 1132.8 1489.7 1134.5 1488.6 1136.1 1487.5 1137.5 1486.2 1138.7 1484.8 1139.7 1483.4 1140.5 1482.0 1141.1 1480.5 1141.4 1479.1 1141.4 1477.8 1141.2 1476.6 1140.8 1475.4 1140.1 1474.3 1139.3 1473.4 1138.3 1472.6 1137.1 1471.9 1135.8 1471.4 1134.3 1471.1 1132.6 1470.9 1130.8 1471.0 1129.0 1471.3 1127.1 1471.9 1125.3 1472.6 1123.5 1473.4 1121.8 1474.4 1120.2 1475.5 1118.7 1476.7 1117.4 1477.9 1116.2 1479.3 1115.2 1480.6 1114.3 1482.0 1113.7 1483.5 1113.2 1484.9 1113.0 1486.3 1113.1 1487.6 1113.5 1488.8 1114.1 1489.8 1115.0 1490.7 1116.1 1491.5 1117.4 1492.1 1118.9 1492.4 1120.5 1492.7 1122.1 1492.7 1123.9 1492.6 1125.6 1492.4 1127.5 1491.9 1129.3ZM1490.3 1130.8 1489.6 1132.4 1488.8 1134.0 1487.8 1135.4 1486.7 1136.6 1485.6 1137.7 1484.3 1138.6 1483.0 1139.2 1481.8 1139.7 1480.5 1139.9 1479.3 1139.9 1478.1 1139.7 1477.0 1139.4 1475.9 1138.8 1475.0 1138.1 1474.1 1137.2 1473.4 1136.2 1472.7 1135.0 1472.3 1133.7 1472.0 1132.2 1471.8 1130.6 1471.9 1129.0 1472.2 1127.3 1472.7 1125.6 1473.4 1124.0 1474.2 1122.5 1475.1 1121.1 1476.0 1119.8 1477.1 1118.7 1478.2 1117.6 1479.4 1116.6 1480.6 1115.8 1481.8 1115.2 1483.1 1114.7 1484.4 1114.5 1485.7 1114.6 1486.8 1115.0 1487.9 1115.6 1488.8 1116.4 1489.6 1117.5 1490.2 1118.7 1490.7 1120.0 1491.0 1121.4 1491.3 1122.8 1491.3 1124.4 1491.3 1126.0 1491.1 1127.6 1490.8 1129.2ZM1488.9 1130.5 1488.3 1131.9 1487.6 1133.2 1486.8 1134.4 1485.9 1135.5 1484.9 1136.5 1483.8 1137.2 1482.7 1137.8 1481.6 1138.2 1480.5 1138.4 1479.4 1138.4 1478.4 1138.2 1477.4 1137.9 1476.5 1137.4 1475.7 1136.8 1475.0 1136.1 1474.3 1135.2 1473.7 1134.2 1473.3 1133.0 1473.0 1131.7 1472.9 1130.3 1473.0 1128.9 1473.3 1127.4 1473.7 1126.0 1474.3 1124.6 1475.0 1123.3 1475.8 1122.1 1476.6 1121.0 1477.5 1120.0 1478.5 1119.1 1479.5 1118.3 1480.5 1117.6 1481.6 1117.0 1482.7 1116.6 1483.9 1116.4 1485.0 1116.4 1486.0 1116.7 1486.9 1117.2 1487.7 1118.0 1488.4 1118.9 1488.9 1120.0 1489.3 1121.1 1489.6 1122.3 1489.7 1123.6 1489.8 1124.9 1489.8 1126.3 1489.6 1127.7 1489.3 1129.1ZM1487.2 1130.1 1486.8 1131.2 1486.2 1132.3 1485.5 1133.3 1484.8 1134.2 1484.0 1135.0 1483.1 1135.6 1482.2 1136.1 1481.3 1136.5 1480.4 1136.7 1479.5 1136.7 1478.7 1136.5 1477.9 1136.2 1477.2 1135.8 1476.5 1135.3 1475.9 1134.6 1475.4 1133.9 1475.0 1133.1 1474.7 1132.1 1474.4 1131.1 1474.3 1130.0 1474.4 1128.8 1474.6 1127.6 1474.9 1126.5 1475.3 1125.3 1475.9 1124.2 1476.5 1123.2 1477.2 1122.3 1478.0 1121.5 1478.8 1120.7 1479.6 1120.1 1480.5 1119.5 1481.4 1119.1 1482.3 1118.8 1483.2 1118.7 1484.0 1118.8 1484.9 1119.0 1485.6 1119.4 1486.3 1120.0 1486.9 1120.7 1487.3 1121.5 1487.7 1122.4 1487.9 1123.4 1488.1 1124.5 1488.1 1125.6 1488.0 1126.7 1487.9 1127.8 1487.6 1129.0ZM1485.2 1129.7 1484.9 1130.4 1484.4 1131.2 1484.0 1131.9 1483.4 1132.5 1482.9 1133.1 1482.3 1133.5 1481.6 1133.9 1481.0 1134.1 1480.3 1134.3 1479.7 1134.3 1479.1 1134.2 1478.6 1134.0 1478.0 1133.7 1477.6 1133.3 1477.2 1132.9 1476.8 1132.3 1476.5 1131.7 1476.3 1131.0 1476.1 1130.3 1476.1 1129.5 1476.1 1128.7 1476.2 1127.9 1476.4 1127.1 1476.7 1126.2 1477.1 1125.5 1477.6 1124.8 1478.1 1124.1 1478.6 1123.5 1479.2 1123.0 1479.8 1122.6 1480.4 1122.2 1481.0 1121.9 1481.7 1121.7 1482.3 1121.6 1482.9 1121.6 1483.5 1121.8 1484.0 1122.1 1484.5 1122.5 1484.9 1123.0 1485.2 1123.5 1485.5 1124.2 1485.7 1124.9 1485.8 1125.7 1485.8 1126.4 1485.8 1127.2 1485.7 1128.0 1485.5 1128.9Z" fill="none" stroke="#000" stroke-width="0.85"/>
<path d="M1504.2 1147.6h1.1v1.1h-1.1zM1501.4 1160.5h1.1v1.1h-1.1zM1501.5 1232.3h1.1v1.1h-1.1zM1499.2 1171.2h1.1v1.1h-1.1zM1499.3 1168.8h1.1v1.1h-1.1zM1497.9 1167.4h1.1v1.1h-1.1zM1506.2 1190.0h1.1v1.1h-1.1zM1483.3 1230.7h1.1v1.1h-1.1zM1505.8 1192.9h1.1v1.1h-1.1zM1504.9 1206.9h1.1v1.1h-1.1zM1508.8 1197.7h1.1v1.1h-1.1zM1508.8 1184.2h1.1v1.1h-1.1zM1504.4 1229.0h1.1v1.1h-1.1zM1491.2 1163.4h1.1v1.1h-1.1zM1502.1 1230.8h1.1v1.1h-1.1zM1484.0 1231.8h1.1v1.1h-1.1zM1489.9 1242.5h1.1v1.1h-1.1zM1500.3 1154.5h1.1v1.1h-1.1zM1480.8 1218.1h1.1v1.1h-1.1zM1505.3 1178.5h1.1v1.1h-1.1zM1487.9 1229.6h1.1v1.1h-1.1zM1485.3 1230.2h1.1v1.1h-1.1zM1482.8 1171.6h1.1v1.1h-1.1zM1512.3 1177.4h1.1v1.1h-1.1zM1482.4 1227.2h1.1v1.1h-1.1zM1501.8 1169.8h1.1v1.1h-1.1zM1480.7 1173.4h1.1v1.1h-1.1zM1502.1 1164.1h1.1v1.1h-1.1zM1489.4 1164.2h1.1v1.1h-1.1zM1509.8 1241.1h1.1v1.1h-1.1zM1494.7 1165.4h1.1v1.1h-1.1zM1508.1 1198.7h1.1v1.1h-1.1zM1506.0 1205.0h1.1v1.1h-1.1zM1482.8 1224.3h1.1v1.1h-1.1zM1497.0 1232.7h1.1v1.1h-1.1zM1509.6 1181.9h1.1v1.1h-1.1zM1483.1 1174.7h1.1v1.1h-1.1zM1492.1 1231.3h1.1v1.1h-1.1zM1503.8 1175.1h1.1v1.1h-1.1zM1475.8 1187.6h1.1v1.1h-1.1zM1509.7 1165.9h1.1v1.1h-1.1zM1512.4 1235.3h1.1v1.1h-1.1zM1512.0 1199.7h1.1v1.1h-1.1zM1503.1 1173.4h1.1v1.1h-1.1zM1499.7 1159.6h1.1v1.1h-1.1zM1481.2 1219.0h1.1v1.1h-1.1zM1503.9 1216.2h1.1v1.1h-1.1zM1499.4 1226.6h1.1v1.1h-1.1zM1498.3 1167.4h1.1v1.1h-1.1zM1495.7 1232.4h1.1v1.1h-1.1zM1503.0 1219.4h1.1v1.1h-1.1zM1503.4 1209.6h1.1v1.1h-1.1zM1486.5 1228.2h1.1v1.1h-1.1zM1496.6 1165.1h1.1v1.1h-1.1zM1510.6 1191.2h1.1v1.1h-1.1zM1510.9 1217.4h1.1v1.1h-1.1zM1482.2 1230.0h1.1v1.1h-1.1zM1511.6 1172.8h1.1v1.1h-1.1zM1503.9 1196.1h1.1v1.1h-1.1zM1483.0 1231.0h1.1v1.1h-1.1zM1505.0 1234.2h1.1v1.1h-1.1z" fill="#000"/><path d="M1491.3 1163.2h1.1v1.1h-1.1zM1496.2 1165.2h1.1v1.1h-1.1zM1493.3 1160.3h1.1v1.1h-1.1zM1494.6 1163.7h1.1v1.1h-1.1zM1490.2 1163.9h1.1v1.1h-1.1zM1493.1 1164.4h1.1v1.1h-1.1zM1506.2 1155.0h1.1v1.1h-1.1zM1488.6 1161.2h1.1v1.1h-1.1zM1497.2 1167.7h1.1v1.1h-1.1zM1507.1 1170.6h1.1v1.1h-1.1zM1493.3 1162.5h1.1v1.1h-1.1zM1493.2 1163.4h1.1v1.1h-1.1zM1490.0 1163.1h1.1v1.1h-1.1zM1488.7 1163.3h1.1v1.1h-1.1zM1499.1 1166.2h1.1v1.1h-1.1zM1486.2 1165.5h1.1v1.1h-1.1zM1497.0 1164.6h1.1v1.1h-1.1zM1498.1 1163.6h1.1v1.1h-1.1zM1480.9 1173.0h1.1v1.1h-1.1zM1493.9 1158.2h1.1v1.1h-1.1zM1499.7 1164.8h1.1v1.1h-1.1zM1502.8 1172.5h1.1v1.1h-1.1zM1499.0 1156.2h1.1v1.1h-1.1z" fill="#000"/><path d="M1497.4 1237.4h1.1v1.1h-1.1zM1487.8 1237.4h1.1v1.1h-1.1zM1494.4 1232.1h1.1v1.1h-1.1zM1490.6 1233.1h1.1v1.1h-1.1zM1493.1 1232.3h1.1v1.1h-1.1zM1488.1 1237.0h1.1v1.1h-1.1zM1491.6 1233.9h1.1v1.1h-1.1zM1491.9 1242.3h1.1v1.1h-1.1zM1483.7 1238.9h1.1v1.1h-1.1zM1480.9 1232.1h1.1v1.1h-1.1zM1492.6 1230.2h1.1v1.1h-1.1zM1492.9 1238.1h1.1v1.1h-1.1zM1483.1 1234.1h1.1v1.1h-1.1zM1490.1 1230.5h1.1v1.1h-1.1zM1500.8 1230.1h1.1v1.1h-1.1zM1503.3 1231.8h1.1v1.1h-1.1zM1505.0 1237.1h1.1v1.1h-1.1zM1494.6 1238.5h1.1v1.1h-1.1zM1497.8 1241.5h1.1v1.1h-1.1zM1503.6 1232.7h1.1v1.1h-1.1zM1482.7 1221.1h1.1v1.1h-1.1zM1488.7 1238.3h1.1v1.1h-1.1zM1494.1 1235.0h1.1v1.1h-1.1zM1489.0 1231.3h1.1v1.1h-1.1zM1489.5 1236.4h1.1v1.1h-1.1zM1479.1 1238.1h1.1v1.1h-1.1zM1481.2 1233.7h1.1v1.1h-1.1zM1487.0 1232.6h1.1v1.1h-1.1zM1484.1 1228.7h1.1v1.1h-1.1zM1508.6 1232.3h1.1v1.1h-1.1zM1486.8 1231.7h1.1v1.1h-1.1zM1483.9 1222.1h1.1v1.1h-1.1zM1489.6 1236.0h1.1v1.1h-1.1zM1480.9 1234.4h1.1v1.1h-1.1zM1482.9 1234.2h1.1v1.1h-1.1zM1493.9 1236.8h1.1v1.1h-1.1zM1494.4 1230.9h1.1v1.1h-1.1zM1497.6 1232.2h1.1v1.1h-1.1zM1493.8 1237.9h1.1v1.1h-1.1zM1495.7 1228.8h1.1v1.1h-1.1zM1485.2 1228.9h1.1v1.1h-1.1zM1497.3 1233.6h1.1v1.1h-1.1zM1475.6 1238.1h1.1v1.1h-1.1zM1505.9 1243.4h1.1v1.1h-1.1zM1487.4 1234.8h1.1v1.1h-1.1zM1494.9 1238.9h1.1v1.1h-1.1zM1496.7 1237.5h1.1v1.1h-1.1zM1482.1 1232.6h1.1v1.1h-1.1zM1493.3 1234.4h1.1v1.1h-1.1zM1495.0 1238.4h1.1v1.1h-1.1zM1495.2 1233.8h1.1v1.1h-1.1zM1481.9 1237.5h1.1v1.1h-1.1zM1501.2 1244.3h1.1v1.1h-1.1zM1491.1 1234.2h1.1v1.1h-1.1z" fill="#000"/><path d="M1504.8 1197.8 1504.7 1202.3 1504.4 1206.8 1503.9 1211.2 1503.3 1215.4 1502.4 1219.3 1501.3 1222.8 1500.1 1225.9 1498.7 1228.5 1497.2 1230.6 1495.7 1232.2 1494.1 1233.3 1492.4 1233.8 1490.7 1233.6 1489.0 1232.9 1487.4 1231.4 1485.9 1229.3 1484.5 1226.6 1483.3 1223.3 1482.3 1219.6 1481.4 1215.6 1480.8 1211.3 1480.3 1206.9 1480.0 1202.4 1479.9 1197.8 1479.9 1193.2 1480.2 1188.7 1480.7 1184.3 1481.5 1180.1 1482.4 1176.3 1483.5 1172.9 1484.8 1169.9 1486.1 1167.4 1487.6 1165.4 1489.1 1163.8 1490.8 1162.7 1492.4 1162.1 1494.1 1162.1 1495.8 1162.7 1497.4 1164.0 1498.9 1166.0 1500.4 1168.7 1501.6 1172.0 1502.6 1175.8 1503.5 1179.9 1504.1 1184.2 1504.5 1188.7 1504.8 1193.2ZM1504.4 1197.8 1504.3 1202.2 1504.1 1206.6 1503.6 1210.8 1502.9 1214.8 1502.1 1218.6 1501.0 1221.9 1499.8 1224.9 1498.5 1227.3 1497.1 1229.3 1495.6 1230.8 1494.0 1231.8 1492.4 1232.2 1490.8 1232.1 1489.2 1231.3 1487.7 1229.9 1486.2 1227.8 1484.9 1225.2 1483.7 1222.1 1482.7 1218.6 1481.9 1214.8 1481.2 1210.8 1480.7 1206.6 1480.4 1202.2 1480.3 1197.8 1480.4 1193.4 1480.6 1189.0 1481.1 1184.7 1481.8 1180.7 1482.8 1177.0 1483.8 1173.8 1485.0 1170.9 1486.4 1168.5 1487.8 1166.5 1489.3 1165.0 1490.8 1164.0 1492.4 1163.4 1494.0 1163.5 1495.6 1164.2 1497.2 1165.6 1498.6 1167.6 1500.0 1170.2 1501.1 1173.3 1502.1 1176.9 1502.9 1180.7 1503.6 1184.8 1504.0 1189.1 1504.3 1193.4ZM1503.9 1197.8 1503.8 1202.0 1503.5 1206.1 1503.0 1210.1 1502.4 1213.9 1501.6 1217.5 1500.6 1220.7 1499.5 1223.6 1498.2 1226.0 1496.9 1228.0 1495.4 1229.5 1493.9 1230.4 1492.4 1230.9 1490.9 1230.8 1489.3 1230.0 1487.8 1228.7 1486.4 1226.8 1485.2 1224.3 1484.0 1221.3 1483.0 1217.9 1482.2 1214.2 1481.6 1210.3 1481.2 1206.2 1480.9 1202.0 1480.9 1197.8 1481.0 1193.6 1481.3 1189.4 1481.8 1185.4 1482.4 1181.7 1483.3 1178.2 1484.3 1175.0 1485.4 1172.2 1486.6 1169.8 1488.0 1167.8 1489.4 1166.3 1490.9 1165.2 1492.4 1164.7 1494.0 1164.7 1495.5 1165.4 1497.0 1166.7 1498.4 1168.6 1499.7 1171.2 1500.8 1174.2 1501.8 1177.6 1502.5 1181.4 1503.1 1185.3 1503.6 1189.4 1503.8 1193.6ZM1503.4 1197.8 1503.3 1201.8 1503.1 1205.8 1502.6 1209.7 1502.0 1213.3 1501.2 1216.7 1500.2 1219.8 1499.1 1222.4 1497.9 1224.7 1496.6 1226.5 1495.3 1227.9 1493.9 1228.9 1492.4 1229.3 1490.9 1229.1 1489.5 1228.4 1488.1 1227.1 1486.8 1225.2 1485.6 1222.8 1484.5 1219.9 1483.6 1216.8 1482.8 1213.3 1482.2 1209.7 1481.7 1205.8 1481.4 1201.9 1481.3 1197.8 1481.3 1193.7 1481.6 1189.7 1482.1 1185.8 1482.7 1182.2 1483.6 1178.9 1484.6 1175.9 1485.7 1173.3 1486.9 1171.1 1488.2 1169.3 1489.5 1168.0 1491.0 1167.0 1492.4 1166.5 1493.9 1166.5 1495.3 1167.1 1496.7 1168.4 1498.1 1170.2 1499.3 1172.6 1500.4 1175.4 1501.3 1178.7 1502.0 1182.2 1502.6 1185.9 1503.1 1189.8 1503.3 1193.8ZM1502.8 1197.8 1502.7 1201.6 1502.5 1205.4 1502.0 1209.0 1501.4 1212.4 1500.7 1215.7 1499.8 1218.6 1498.8 1221.2 1497.7 1223.4 1496.4 1225.2 1495.1 1226.5 1493.8 1227.3 1492.4 1227.7 1491.0 1227.5 1489.6 1226.8 1488.3 1225.5 1487.1 1223.7 1485.9 1221.5 1484.9 1218.8 1484.0 1215.8 1483.3 1212.6 1482.7 1209.1 1482.2 1205.4 1482.0 1201.6 1481.9 1197.8 1481.9 1193.9 1482.2 1190.1 1482.6 1186.5 1483.3 1183.0 1484.1 1179.8 1485.0 1177.0 1486.0 1174.5 1487.2 1172.5 1488.4 1170.8 1489.7 1169.5 1491.0 1168.6 1492.4 1168.2 1493.8 1168.2 1495.2 1168.8 1496.5 1170.0 1497.8 1171.6 1499.0 1173.8 1500.0 1176.5 1500.9 1179.5 1501.6 1182.9 1502.2 1186.5 1502.6 1190.2 1502.8 1194.0ZM1502.1 1197.8 1502.1 1201.4 1501.8 1204.9 1501.5 1208.3 1500.9 1211.6 1500.2 1214.6 1499.4 1217.4 1498.4 1219.8 1497.4 1221.9 1496.2 1223.6 1495.0 1224.9 1493.7 1225.7 1492.4 1226.1 1491.1 1226.0 1489.8 1225.3 1488.5 1224.2 1487.3 1222.5 1486.2 1220.4 1485.3 1217.8 1484.4 1214.9 1483.8 1211.8 1483.3 1208.4 1482.9 1205.0 1482.6 1201.4 1482.6 1197.8 1482.7 1194.2 1482.9 1190.7 1483.3 1187.2 1483.9 1184.0 1484.6 1181.0 1485.4 1178.3 1486.4 1175.9 1487.5 1173.9 1488.6 1172.2 1489.8 1170.9 1491.1 1170.0 1492.4 1169.6 1493.7 1169.6 1495.0 1170.2 1496.3 1171.3 1497.5 1172.9 1498.6 1175.1 1499.6 1177.7 1500.4 1180.6 1501.0 1183.8 1501.5 1187.2 1501.9 1190.7 1502.1 1194.2ZM1501.5 1197.8 1501.5 1201.1 1501.3 1204.5 1500.9 1207.7 1500.4 1210.8 1499.8 1213.6 1499.0 1216.2 1498.1 1218.5 1497.1 1220.4 1496.0 1222.0 1494.8 1223.1 1493.6 1223.8 1492.4 1224.1 1491.2 1224.0 1490.0 1223.4 1488.8 1222.3 1487.7 1220.7 1486.7 1218.7 1485.8 1216.4 1485.0 1213.7 1484.3 1210.8 1483.8 1207.7 1483.5 1204.5 1483.2 1201.2 1483.1 1197.8 1483.2 1194.4 1483.4 1191.1 1483.8 1187.8 1484.4 1184.8 1485.1 1182.0 1485.9 1179.5 1486.8 1177.3 1487.8 1175.5 1488.9 1173.9 1490.0 1172.8 1491.2 1171.9 1492.4 1171.5 1493.6 1171.5 1494.9 1172.1 1496.1 1173.1 1497.2 1174.6 1498.2 1176.6 1499.1 1179.0 1499.9 1181.7 1500.5 1184.7 1500.9 1187.9 1501.3 1191.1 1501.5 1194.4ZM1500.9 1197.8 1500.8 1200.9 1500.6 1204.0 1500.3 1207.0 1499.8 1209.8 1499.2 1212.4 1498.5 1214.8 1497.6 1216.9 1496.7 1218.7 1495.7 1220.1 1494.6 1221.2 1493.5 1221.9 1492.4 1222.2 1491.3 1222.1 1490.1 1221.5 1489.0 1220.5 1488.0 1219.1 1487.1 1217.2 1486.3 1215.0 1485.5 1212.6 1484.9 1209.9 1484.5 1207.0 1484.1 1204.0 1483.9 1200.9 1483.8 1197.8 1483.9 1194.7 1484.1 1191.6 1484.5 1188.6 1485.0 1185.8 1485.6 1183.2 1486.4 1180.9 1487.2 1178.8 1488.1 1177.1 1489.1 1175.6 1490.2 1174.5 1491.3 1173.8 1492.4 1173.4 1493.5 1173.5 1494.7 1174.0 1495.8 1175.0 1496.8 1176.4 1497.7 1178.3 1498.6 1180.5 1499.3 1183.0 1499.9 1185.7 1500.3 1188.6 1500.6 1191.6 1500.8 1194.7ZM1500.1 1197.8 1500.0 1200.6 1499.9 1203.4 1499.6 1206.1 1499.1 1208.7 1498.6 1211.1 1497.9 1213.3 1497.2 1215.2 1496.3 1216.9 1495.4 1218.2 1494.4 1219.2 1493.4 1219.9 1492.4 1220.2 1491.4 1220.1 1490.3 1219.6 1489.3 1218.7 1488.4 1217.3 1487.5 1215.6 1486.8 1213.6 1486.1 1211.3 1485.6 1208.8 1485.2 1206.2 1484.9 1203.4 1484.7 1200.6 1484.6 1197.8 1484.7 1195.0 1484.9 1192.1 1485.2 1189.4 1485.6 1186.8 1486.2 1184.5 1486.9 1182.3 1487.7 1180.5 1488.5 1178.9 1489.4 1177.6 1490.4 1176.6 1491.4 1175.9 1492.4 1175.5 1493.4 1175.5 1494.5 1176.0 1495.5 1176.8 1496.5 1178.1 1497.3 1179.8 1498.1 1181.9 1498.7 1184.2 1499.2 1186.8 1499.6 1189.4 1499.9 1192.2 1500.0 1195.0ZM1499.4 1197.8 1499.3 1200.3 1499.1 1202.9 1498.8 1205.3 1498.5 1207.6 1498.0 1209.7 1497.3 1211.7 1496.7 1213.4 1495.9 1214.8 1495.1 1215.9 1494.2 1216.8 1493.3 1217.3 1492.4 1217.6 1491.5 1217.5 1490.6 1217.1 1489.7 1216.3 1488.8 1215.2 1488.0 1213.7 1487.4 1211.9 1486.8 1209.9 1486.3 1207.7 1485.9 1205.4 1485.6 1202.9 1485.5 1200.4 1485.4 1197.8 1485.5 1195.2 1485.6 1192.7 1485.9 1190.3 1486.3 1188.0 1486.8 1185.8 1487.5 1183.9 1488.2 1182.3 1488.9 1180.9 1489.7 1179.8 1490.6 1178.9 1491.5 1178.4 1492.4 1178.1 1493.3 1178.1 1494.2 1178.5 1495.1 1179.3 1496.0 1180.4 1496.8 1181.8 1497.5 1183.6 1498.1 1185.6 1498.6 1187.8 1498.9 1190.2 1499.2 1192.7 1499.3 1195.2ZM1498.4 1197.8 1498.3 1200.0 1498.2 1202.1 1497.9 1204.2 1497.6 1206.2 1497.2 1208.1 1496.7 1209.8 1496.1 1211.3 1495.4 1212.6 1494.7 1213.6 1494.0 1214.5 1493.2 1215.0 1492.4 1215.3 1491.6 1215.2 1490.8 1214.8 1490.0 1214.0 1489.3 1212.9 1488.6 1211.5 1488.1 1209.9 1487.6 1208.2 1487.2 1206.2 1486.9 1204.2 1486.6 1202.1 1486.5 1200.0 1486.4 1197.8 1486.4 1195.6 1486.6 1193.4 1486.8 1191.3 1487.1 1189.3 1487.6 1187.4 1488.1 1185.8 1488.7 1184.3 1489.4 1183.1 1490.1 1182.0 1490.8 1181.3 1491.6 1180.8 1492.4 1180.5 1493.2 1180.6 1494.0 1180.9 1494.8 1181.7 1495.5 1182.7 1496.2 1184.0 1496.8 1185.6 1497.3 1187.3 1497.7 1189.3 1498.0 1191.3 1498.2 1193.4 1498.4 1195.6ZM1497.3 1197.8 1497.3 1199.6 1497.1 1201.4 1496.9 1203.1 1496.7 1204.7 1496.3 1206.2 1495.9 1207.6 1495.4 1208.8 1494.9 1209.9 1494.3 1210.7 1493.7 1211.4 1493.1 1211.8 1492.4 1212.0 1491.7 1211.9 1491.1 1211.5 1490.5 1210.9 1489.9 1210.0 1489.3 1209.0 1488.9 1207.7 1488.5 1206.3 1488.1 1204.7 1487.8 1203.1 1487.6 1201.4 1487.5 1199.6 1487.4 1197.8 1487.5 1196.0 1487.6 1194.2 1487.8 1192.5 1488.1 1190.8 1488.5 1189.4 1488.9 1188.0 1489.4 1186.9 1489.9 1185.9 1490.5 1185.0 1491.1 1184.4 1491.8 1184.0 1492.4 1183.8 1493.1 1183.8 1493.7 1184.1 1494.3 1184.6 1494.9 1185.4 1495.5 1186.5 1496.0 1187.8 1496.4 1189.2 1496.7 1190.8 1497.0 1192.5 1497.2 1194.2 1497.3 1196.0ZM1495.9 1197.8 1495.9 1199.1 1495.8 1200.3 1495.6 1201.5 1495.4 1202.7 1495.2 1203.7 1494.9 1204.7 1494.5 1205.5 1494.1 1206.3 1493.7 1206.9 1493.3 1207.3 1492.9 1207.6 1492.4 1207.7 1491.9 1207.7 1491.5 1207.5 1491.0 1207.0 1490.6 1206.4 1490.2 1205.7 1489.9 1204.8 1489.6 1203.8 1489.4 1202.7 1489.2 1201.6 1489.0 1200.4 1488.9 1199.1 1488.9 1197.8 1488.9 1196.5 1489.0 1195.2 1489.1 1194.0 1489.4 1192.9 1489.6 1191.8 1489.9 1190.9 1490.3 1190.1 1490.7 1189.4 1491.1 1188.8 1491.5 1188.4 1491.9 1188.1 1492.4 1187.9 1492.9 1187.9 1493.3 1188.1 1493.8 1188.5 1494.2 1189.1 1494.6 1189.8 1494.9 1190.7 1495.2 1191.7 1495.5 1192.8 1495.7 1194.0 1495.8 1195.2 1495.9 1196.5Z" fill="none" stroke="#000" stroke-width="0.80"/>
<polygon points="1479.70,1090.00 1514.40,1083.40 1519.00,1119.00 1477.80,1167.80 1460.00,1149.00 1458.10,1128.40" stroke="#000" stroke-width="1.10" fill="none" stroke-linejoin="miter"/>
<polygon points="1473.40,1178.60 1507.10,1138.50 1519.90,1145.80 1519.90,1249.70 1474.30,1249.70" stroke="#1010f0" stroke-width="3.40" fill="none" stroke-linejoin="miter"/>
<g transform="translate(1497.89 1071.00) scale(0.9984 1)"><text x="0.00" y="0.00" font-size="37.70">66</text></g>
<g transform="translate(1362.15 1100.20) scale(0.9888 1)"><text x="0.00" y="0.00" font-size="36.80">Comp.</text></g>
<g transform="translate(1423.58 1237.90) scale(0.9886 1)"><text x="0.00" y="0.00" font-size="37.70">33</text></g>
<line x1="1496.20" y1="1235.00" x2="1496.20" y2="1331.60" stroke="#1010f0" stroke-width="3.30"/><polygon points="1480.70,1329.60 1496.20,1334.60 1511.70,1329.60 1496.20,1359.10" fill="#1010f0"/>
<rect x="1554.20" y="1026.40" width="229.60" height="229.40" stroke="#555" stroke-width="1.30" fill="none"/><path d="M1548.7 1240.6H1554.2M1568.3 1255.8V1261.3M1548.7 1203.3H1554.2M1603.8 1255.8V1261.3M1548.7 1165.0H1554.2M1643.9 1255.8V1261.3M1548.7 1102.6H1554.2M1706.3 1255.8V1261.3M1548.7 1047.4H1554.2M1761.0 1255.8V1261.3" stroke="#000" stroke-width="1.8" fill="none"/><path d="M1551.0 1208.4H1554.2M1598.9 1255.8V1259.0M1551.0 1213.4H1554.2M1594.2 1255.8V1259.0M1551.0 1218.0H1554.2M1589.8 1255.8V1259.0M1551.0 1222.3H1554.2M1585.8 1255.8V1259.0M1551.0 1226.1H1554.2M1582.1 1255.8V1259.0M1551.0 1229.6H1554.2M1578.8 1255.8V1259.0M1551.0 1232.7H1554.2M1575.8 1255.8V1259.0M1551.0 1235.6H1554.2M1573.1 1255.8V1259.0M1551.0 1238.2H1554.2M1570.6 1255.8V1259.0M1551.0 1198.0H1554.2M1609.3 1255.8V1259.0M1551.0 1192.9H1554.2M1614.7 1255.8V1259.0M1551.0 1188.2H1554.2M1619.6 1255.8V1259.0M1551.0 1183.8H1554.2M1624.2 1255.8V1259.0M1551.0 1179.9H1554.2M1628.3 1255.8V1259.0M1551.0 1176.3H1554.2M1632.0 1255.8V1259.0M1551.0 1173.1H1554.2M1635.4 1255.8V1259.0M1551.0 1170.2H1554.2M1638.5 1255.8V1259.0M1551.0 1167.5H1554.2M1641.3 1255.8V1259.0M1551.0 1203.8H1554.2M1603.3 1255.8V1259.0M1551.0 1204.9H1554.2M1602.3 1255.8V1259.0M1551.0 1205.9H1554.2M1601.3 1255.8V1259.0M1551.0 1206.9H1554.2M1600.4 1255.8V1259.0M1551.0 1207.9H1554.2M1599.4 1255.8V1259.0M1551.0 1202.8H1554.2M1604.4 1255.8V1259.0M1551.0 1201.7H1554.2M1605.5 1255.8V1259.0M1551.0 1200.6H1554.2M1606.6 1255.8V1259.0M1551.0 1199.6H1554.2M1607.7 1255.8V1259.0M1551.0 1198.5H1554.2M1608.8 1255.8V1259.0M1551.0 1146.9H1554.2M1662.0 1255.8V1259.0M1551.0 1135.9H1554.2M1673.0 1255.8V1259.0M1551.0 1128.0H1554.2M1680.9 1255.8V1259.0M1551.0 1121.8H1554.2M1687.1 1255.8V1259.0M1551.0 1116.8H1554.2M1692.1 1255.8V1259.0M1551.0 1112.5H1554.2M1696.4 1255.8V1259.0M1551.0 1108.8H1554.2M1700.1 1255.8V1259.0M1551.0 1105.5H1554.2M1703.4 1255.8V1259.0M1551.0 1086.0H1554.2M1722.8 1255.8V1259.0M1551.0 1076.3H1554.2M1732.4 1255.8V1259.0M1551.0 1069.4H1554.2M1739.2 1255.8V1259.0M1551.0 1064.0H1554.2M1744.5 1255.8V1259.0M1551.0 1059.6H1554.2M1748.9 1255.8V1259.0M1551.0 1056.0H1554.2M1752.5 1255.8V1259.0M1551.0 1052.8H1554.2M1755.7 1255.8V1259.0M1551.0 1049.9H1554.2M1758.5 1255.8V1259.0M1551.0 1030.8H1554.2M1777.5 1255.8V1259.0" stroke="#000" stroke-width="1.1" fill="none"/>
<path d="M1746.6 1111.7h1.1v1.1h-1.1zM1752.8 1092.4h1.1v1.1h-1.1zM1737.1 1091.2h1.1v1.1h-1.1zM1741.3 1109.4h1.1v1.1h-1.1zM1747.7 1113.9h1.1v1.1h-1.1zM1741.0 1110.6h1.1v1.1h-1.1zM1746.1 1101.0h1.1v1.1h-1.1zM1738.0 1103.3h1.1v1.1h-1.1zM1737.2 1098.5h1.1v1.1h-1.1zM1739.5 1097.2h1.1v1.1h-1.1zM1746.8 1088.5h1.1v1.1h-1.1zM1747.2 1098.2h1.1v1.1h-1.1zM1737.6 1090.9h1.1v1.1h-1.1zM1740.4 1102.0h1.1v1.1h-1.1zM1742.8 1099.1h1.1v1.1h-1.1zM1744.3 1098.7h1.1v1.1h-1.1zM1748.1 1103.2h1.1v1.1h-1.1zM1745.6 1110.6h1.1v1.1h-1.1zM1738.8 1108.8h1.1v1.1h-1.1zM1748.3 1099.0h1.1v1.1h-1.1zM1750.1 1120.7h1.1v1.1h-1.1zM1749.0 1116.1h1.1v1.1h-1.1zM1749.1 1127.0h1.1v1.1h-1.1zM1742.8 1104.5h1.1v1.1h-1.1zM1745.7 1095.4h1.1v1.1h-1.1zM1730.6 1095.6h1.1v1.1h-1.1zM1744.1 1109.2h1.1v1.1h-1.1zM1739.2 1102.6h1.1v1.1h-1.1zM1741.1 1111.2h1.1v1.1h-1.1zM1750.1 1106.8h1.1v1.1h-1.1zM1745.7 1093.5h1.1v1.1h-1.1zM1746.1 1111.7h1.1v1.1h-1.1zM1745.6 1112.3h1.1v1.1h-1.1zM1747.1 1086.9h1.1v1.1h-1.1zM1745.6 1089.3h1.1v1.1h-1.1zM1749.7 1100.1h1.1v1.1h-1.1zM1739.8 1107.2h1.1v1.1h-1.1zM1746.7 1090.1h1.1v1.1h-1.1zM1748.4 1105.2h1.1v1.1h-1.1zM1736.1 1101.7h1.1v1.1h-1.1zM1726.1 1098.0h1.1v1.1h-1.1zM1742.7 1097.4h1.1v1.1h-1.1zM1739.2 1103.0h1.1v1.1h-1.1zM1741.8 1114.7h1.1v1.1h-1.1zM1741.3 1101.9h1.1v1.1h-1.1zM1745.2 1125.2h1.1v1.1h-1.1zM1739.1 1109.6h1.1v1.1h-1.1zM1746.1 1117.8h1.1v1.1h-1.1zM1741.0 1094.0h1.1v1.1h-1.1zM1747.7 1112.0h1.1v1.1h-1.1zM1735.4 1089.7h1.1v1.1h-1.1zM1744.6 1102.7h1.1v1.1h-1.1zM1737.8 1103.3h1.1v1.1h-1.1zM1729.8 1095.6h1.1v1.1h-1.1zM1753.0 1103.1h1.1v1.1h-1.1zM1737.2 1091.7h1.1v1.1h-1.1zM1745.5 1111.0h1.1v1.1h-1.1zM1743.2 1100.6h1.1v1.1h-1.1zM1743.6 1108.3h1.1v1.1h-1.1zM1726.6 1091.6h1.1v1.1h-1.1zM1739.3 1103.4h1.1v1.1h-1.1zM1748.8 1109.0h1.1v1.1h-1.1zM1743.0 1112.7h1.1v1.1h-1.1zM1744.3 1093.0h1.1v1.1h-1.1zM1733.5 1105.1h1.1v1.1h-1.1zM1738.7 1095.5h1.1v1.1h-1.1zM1734.4 1105.5h1.1v1.1h-1.1zM1743.7 1107.5h1.1v1.1h-1.1zM1731.3 1101.6h1.1v1.1h-1.1zM1743.9 1113.9h1.1v1.1h-1.1zM1746.2 1112.8h1.1v1.1h-1.1zM1749.1 1112.7h1.1v1.1h-1.1zM1735.7 1105.0h1.1v1.1h-1.1zM1741.1 1108.5h1.1v1.1h-1.1zM1739.6 1103.6h1.1v1.1h-1.1zM1750.3 1112.4h1.1v1.1h-1.1zM1749.0 1102.3h1.1v1.1h-1.1zM1743.3 1107.0h1.1v1.1h-1.1zM1740.3 1098.3h1.1v1.1h-1.1zM1729.7 1091.8h1.1v1.1h-1.1zM1752.1 1093.0h1.1v1.1h-1.1zM1744.5 1100.8h1.1v1.1h-1.1zM1745.0 1110.5h1.1v1.1h-1.1zM1736.0 1101.5h1.1v1.1h-1.1zM1742.1 1105.6h1.1v1.1h-1.1zM1741.3 1101.3h1.1v1.1h-1.1zM1745.9 1117.6h1.1v1.1h-1.1zM1745.2 1097.0h1.1v1.1h-1.1zM1744.2 1105.1h1.1v1.1h-1.1z" fill="#000"/><path d="M1719.3 1156.4h1.1v1.1h-1.1zM1712.6 1155.0h1.1v1.1h-1.1zM1724.5 1153.6h1.1v1.1h-1.1zM1727.2 1155.1h1.1v1.1h-1.1zM1720.2 1154.7h1.1v1.1h-1.1zM1716.3 1157.2h1.1v1.1h-1.1zM1719.0 1152.7h1.1v1.1h-1.1zM1719.5 1151.8h1.1v1.1h-1.1zM1712.8 1157.5h1.1v1.1h-1.1zM1713.7 1157.5h1.1v1.1h-1.1zM1712.4 1150.3h1.1v1.1h-1.1zM1716.5 1152.0h1.1v1.1h-1.1zM1718.1 1157.0h1.1v1.1h-1.1zM1724.0 1153.8h1.1v1.1h-1.1zM1717.9 1162.0h1.1v1.1h-1.1zM1719.3 1156.5h1.1v1.1h-1.1zM1720.9 1150.0h1.1v1.1h-1.1zM1721.6 1158.8h1.1v1.1h-1.1zM1720.2 1153.5h1.1v1.1h-1.1zM1723.2 1149.0h1.1v1.1h-1.1zM1722.8 1156.7h1.1v1.1h-1.1zM1723.0 1160.6h1.1v1.1h-1.1zM1715.9 1161.1h1.1v1.1h-1.1zM1714.9 1154.0h1.1v1.1h-1.1zM1717.2 1157.5h1.1v1.1h-1.1zM1717.1 1148.5h1.1v1.1h-1.1zM1717.7 1164.1h1.1v1.1h-1.1zM1713.5 1156.4h1.1v1.1h-1.1zM1721.7 1153.1h1.1v1.1h-1.1zM1718.1 1159.6h1.1v1.1h-1.1zM1723.6 1155.8h1.1v1.1h-1.1zM1729.4 1149.6h1.1v1.1h-1.1zM1718.7 1155.9h1.1v1.1h-1.1zM1717.7 1148.5h1.1v1.1h-1.1zM1715.8 1158.2h1.1v1.1h-1.1zM1715.4 1154.3h1.1v1.1h-1.1zM1715.7 1154.9h1.1v1.1h-1.1zM1720.4 1158.2h1.1v1.1h-1.1z" fill="#000"/><path d="M1706.3 1118.7h1.1v1.1h-1.1zM1704.8 1149.6h1.1v1.1h-1.1zM1705.6 1133.0h1.1v1.1h-1.1zM1749.3 1110.9h1.1v1.1h-1.1zM1706.0 1144.8h1.1v1.1h-1.1zM1740.2 1110.1h1.1v1.1h-1.1zM1713.7 1108.8h1.1v1.1h-1.1zM1718.8 1102.4h1.1v1.1h-1.1zM1705.4 1131.9h1.1v1.1h-1.1zM1731.2 1145.3h1.1v1.1h-1.1zM1705.4 1124.7h1.1v1.1h-1.1zM1716.1 1157.8h1.1v1.1h-1.1zM1714.9 1106.4h1.1v1.1h-1.1zM1720.6 1151.8h1.1v1.1h-1.1zM1726.9 1091.5h1.1v1.1h-1.1zM1745.5 1123.6h1.1v1.1h-1.1zM1715.4 1152.6h1.1v1.1h-1.1zM1744.8 1129.3h1.1v1.1h-1.1zM1720.2 1091.5h1.1v1.1h-1.1z" fill="#000"/><path d="M1741.8 1133.8 1740.5 1136.7 1738.9 1139.5 1737.1 1142.1 1735.1 1144.5 1732.9 1146.6 1730.5 1148.4 1728.1 1149.9 1725.5 1151.0 1722.9 1151.6 1720.3 1151.7 1717.8 1151.4 1715.5 1150.6 1713.3 1149.4 1711.4 1147.8 1709.7 1145.9 1708.2 1143.7 1707.1 1141.2 1706.2 1138.5 1705.8 1135.6 1705.6 1132.5 1705.8 1129.4 1706.4 1126.3 1707.3 1123.3 1708.4 1120.3 1709.7 1117.4 1711.3 1114.7 1713.0 1112.1 1715.0 1109.6 1717.1 1107.4 1719.4 1105.5 1721.9 1103.9 1724.5 1102.8 1727.2 1102.1 1729.8 1102.0 1732.3 1102.4 1734.6 1103.3 1736.7 1104.6 1738.6 1106.2 1740.2 1108.2 1741.6 1110.5 1742.7 1112.9 1743.6 1115.6 1744.1 1118.5 1744.3 1121.5 1744.1 1124.6 1743.7 1127.7 1742.9 1130.8ZM1741.1 1133.6 1739.7 1136.3 1738.1 1138.9 1736.4 1141.3 1734.5 1143.6 1732.4 1145.6 1730.2 1147.5 1727.8 1149.0 1725.4 1150.1 1722.8 1150.8 1720.3 1150.9 1717.9 1150.6 1715.7 1149.9 1713.6 1148.7 1711.7 1147.2 1710.0 1145.4 1708.5 1143.3 1707.4 1140.9 1706.5 1138.3 1706.0 1135.4 1705.9 1132.4 1706.1 1129.4 1706.7 1126.3 1707.6 1123.4 1708.8 1120.5 1710.2 1117.8 1711.7 1115.2 1713.4 1112.7 1715.3 1110.4 1717.3 1108.2 1719.6 1106.4 1721.9 1104.8 1724.4 1103.7 1727.0 1103.1 1729.5 1103.0 1731.9 1103.4 1734.1 1104.2 1736.2 1105.4 1738.0 1107.0 1739.7 1108.8 1741.1 1110.8 1742.3 1113.2 1743.3 1115.8 1743.8 1118.6 1744.0 1121.5 1743.8 1124.6 1743.2 1127.7 1742.3 1130.7ZM1740.6 1133.4 1739.3 1136.1 1737.8 1138.7 1736.1 1141.1 1734.2 1143.3 1732.2 1145.3 1730.0 1147.0 1727.7 1148.4 1725.2 1149.4 1722.8 1150.0 1720.4 1150.1 1718.1 1149.7 1715.9 1149.0 1713.9 1147.9 1712.1 1146.4 1710.5 1144.7 1709.1 1142.6 1708.0 1140.3 1707.2 1137.8 1706.8 1135.0 1706.7 1132.2 1706.9 1129.3 1707.4 1126.4 1708.2 1123.5 1709.2 1120.7 1710.5 1118.0 1711.9 1115.4 1713.5 1112.9 1715.3 1110.6 1717.4 1108.5 1719.6 1106.7 1721.9 1105.3 1724.4 1104.3 1726.8 1103.8 1729.2 1103.8 1731.5 1104.2 1733.7 1105.1 1735.6 1106.3 1737.4 1107.8 1739.0 1109.5 1740.3 1111.6 1741.4 1113.8 1742.3 1116.3 1742.8 1119.0 1743.0 1121.8 1742.9 1124.7 1742.4 1127.6 1741.6 1130.5ZM1739.7 1133.0 1738.4 1135.6 1736.9 1138.0 1735.3 1140.3 1733.6 1142.4 1731.7 1144.4 1729.6 1146.1 1727.4 1147.5 1725.1 1148.5 1722.8 1149.1 1720.5 1149.3 1718.2 1149.0 1716.1 1148.3 1714.1 1147.3 1712.3 1145.9 1710.7 1144.3 1709.3 1142.3 1708.2 1140.1 1707.4 1137.6 1707.0 1134.9 1707.0 1132.1 1707.3 1129.2 1707.9 1126.4 1708.8 1123.6 1709.9 1121.0 1711.1 1118.5 1712.5 1116.1 1714.0 1113.7 1715.8 1111.5 1717.6 1109.5 1719.7 1107.7 1721.9 1106.3 1724.3 1105.3 1726.6 1104.7 1729.0 1104.7 1731.2 1105.0 1733.3 1105.8 1735.2 1106.9 1737.0 1108.2 1738.6 1109.9 1740.0 1111.8 1741.1 1114.0 1741.9 1116.5 1742.4 1119.1 1742.5 1121.9 1742.3 1124.8 1741.7 1127.6 1740.8 1130.4ZM1738.8 1132.7 1737.7 1135.2 1736.4 1137.6 1735.0 1139.9 1733.3 1142.1 1731.5 1144.1 1729.5 1145.9 1727.3 1147.3 1725.0 1148.2 1722.7 1148.7 1720.5 1148.8 1718.3 1148.4 1716.3 1147.6 1714.4 1146.5 1712.8 1145.0 1711.3 1143.4 1710.1 1141.5 1709.1 1139.3 1708.4 1136.9 1708.0 1134.4 1707.9 1131.8 1708.2 1129.1 1708.7 1126.4 1709.5 1123.8 1710.5 1121.3 1711.6 1118.9 1712.9 1116.5 1714.3 1114.2 1715.9 1111.9 1717.7 1109.9 1719.7 1108.1 1721.9 1106.6 1724.2 1105.6 1726.5 1105.1 1728.8 1105.1 1730.9 1105.5 1732.9 1106.4 1734.8 1107.5 1736.4 1109.0 1737.8 1110.7 1739.0 1112.6 1740.0 1114.8 1740.7 1117.1 1741.1 1119.6 1741.2 1122.2 1741.0 1124.9 1740.5 1127.6 1739.7 1130.2ZM1738.3 1132.6 1737.1 1134.9 1735.8 1137.2 1734.3 1139.3 1732.7 1141.2 1730.9 1143.0 1729.0 1144.5 1727.0 1145.8 1724.9 1146.7 1722.7 1147.3 1720.6 1147.5 1718.5 1147.3 1716.5 1146.7 1714.7 1145.8 1713.0 1144.6 1711.5 1143.0 1710.3 1141.1 1709.3 1139.0 1708.7 1136.7 1708.3 1134.2 1708.3 1131.6 1708.6 1129.0 1709.1 1126.4 1709.9 1123.9 1710.9 1121.5 1712.0 1119.2 1713.3 1117.0 1714.7 1114.8 1716.3 1112.8 1718.0 1111.0 1719.9 1109.4 1722.0 1108.0 1724.1 1107.1 1726.3 1106.5 1728.4 1106.3 1730.5 1106.5 1732.5 1107.2 1734.3 1108.2 1735.9 1109.5 1737.3 1111.2 1738.5 1113.0 1739.5 1115.1 1740.1 1117.4 1740.5 1119.8 1740.6 1122.4 1740.4 1125.0 1740.0 1127.6 1739.2 1130.1ZM1737.7 1132.4 1736.6 1134.6 1735.3 1136.8 1733.8 1138.8 1732.3 1140.7 1730.5 1142.3 1728.7 1143.8 1726.8 1144.9 1724.7 1145.7 1722.7 1146.2 1720.7 1146.3 1718.7 1146.1 1716.9 1145.5 1715.2 1144.6 1713.6 1143.5 1712.2 1142.0 1711.0 1140.3 1710.0 1138.4 1709.3 1136.2 1708.9 1133.9 1708.8 1131.5 1709.0 1129.0 1709.5 1126.5 1710.2 1124.0 1711.2 1121.7 1712.3 1119.4 1713.5 1117.3 1714.9 1115.3 1716.5 1113.4 1718.2 1111.7 1720.0 1110.2 1722.0 1109.0 1724.0 1108.1 1726.1 1107.7 1728.1 1107.6 1730.0 1107.9 1731.9 1108.5 1733.6 1109.4 1735.1 1110.6 1736.5 1112.1 1737.7 1113.8 1738.6 1115.7 1739.4 1117.8 1739.8 1120.1 1739.9 1122.5 1739.8 1125.0 1739.3 1127.5 1738.6 1130.0ZM1736.8 1132.1 1735.7 1134.2 1734.5 1136.2 1733.1 1138.1 1731.7 1139.8 1730.0 1141.4 1728.3 1142.8 1726.5 1143.9 1724.6 1144.7 1722.7 1145.3 1720.7 1145.5 1718.8 1145.3 1717.1 1144.8 1715.4 1144.0 1713.9 1142.8 1712.6 1141.4 1711.5 1139.7 1710.6 1137.8 1709.9 1135.8 1709.6 1133.5 1709.5 1131.2 1709.7 1128.8 1710.2 1126.5 1710.9 1124.2 1711.8 1122.0 1712.9 1119.9 1714.1 1117.9 1715.4 1116.0 1716.8 1114.2 1718.4 1112.6 1720.2 1111.2 1722.0 1110.0 1723.9 1109.1 1725.8 1108.6 1727.8 1108.4 1729.7 1108.6 1731.4 1109.2 1733.1 1110.1 1734.6 1111.3 1735.9 1112.7 1737.0 1114.4 1737.8 1116.2 1738.5 1118.3 1738.9 1120.5 1739.0 1122.8 1738.8 1125.2 1738.4 1127.5 1737.7 1129.8ZM1736.0 1131.8 1735.0 1133.8 1733.8 1135.7 1732.5 1137.4 1731.1 1139.1 1729.6 1140.6 1728.0 1141.9 1726.3 1143.0 1724.5 1143.8 1722.6 1144.3 1720.8 1144.4 1719.1 1144.2 1717.4 1143.6 1715.9 1142.8 1714.4 1141.8 1713.2 1140.5 1712.1 1139.0 1711.2 1137.2 1710.6 1135.3 1710.2 1133.2 1710.1 1131.0 1710.3 1128.8 1710.8 1126.5 1711.5 1124.3 1712.4 1122.2 1713.4 1120.3 1714.5 1118.4 1715.8 1116.6 1717.1 1114.9 1718.6 1113.4 1720.2 1112.0 1722.0 1110.9 1723.8 1110.1 1725.6 1109.6 1727.4 1109.5 1729.2 1109.8 1730.8 1110.4 1732.4 1111.2 1733.7 1112.3 1735.0 1113.6 1736.0 1115.1 1736.9 1116.9 1737.6 1118.8 1738.0 1120.8 1738.1 1123.0 1738.0 1125.2 1737.5 1127.5 1736.9 1129.7ZM1734.9 1131.4 1734.0 1133.3 1733.0 1135.1 1731.9 1136.9 1730.6 1138.5 1729.2 1140.0 1727.7 1141.3 1726.0 1142.3 1724.3 1143.1 1722.6 1143.5 1720.8 1143.5 1719.2 1143.3 1717.6 1142.7 1716.2 1141.9 1714.9 1140.9 1713.8 1139.6 1712.8 1138.1 1712.1 1136.5 1711.5 1134.6 1711.3 1132.7 1711.2 1130.6 1711.4 1128.6 1711.9 1126.6 1712.5 1124.6 1713.2 1122.6 1714.0 1120.8 1715.0 1118.9 1716.1 1117.2 1717.3 1115.5 1718.7 1113.9 1720.3 1112.6 1721.9 1111.5 1723.7 1110.8 1725.4 1110.4 1727.2 1110.4 1728.8 1110.7 1730.3 1111.3 1731.7 1112.2 1733.0 1113.2 1734.1 1114.5 1735.0 1116.0 1735.8 1117.6 1736.3 1119.4 1736.7 1121.3 1736.7 1123.4 1736.6 1125.4 1736.2 1127.4 1735.6 1129.5ZM1734.0 1131.1 1733.1 1132.8 1732.2 1134.5 1731.1 1136.0 1729.9 1137.4 1728.6 1138.8 1727.2 1139.9 1725.7 1140.8 1724.1 1141.5 1722.5 1141.9 1721.0 1142.1 1719.4 1141.9 1718.0 1141.5 1716.6 1140.9 1715.3 1140.0 1714.2 1138.8 1713.3 1137.5 1712.6 1135.9 1712.1 1134.2 1711.8 1132.4 1711.8 1130.4 1712.0 1128.5 1712.5 1126.6 1713.1 1124.7 1713.8 1123.0 1714.7 1121.2 1715.6 1119.6 1716.6 1118.0 1717.8 1116.6 1719.1 1115.2 1720.5 1114.0 1722.0 1113.0 1723.5 1112.3 1725.2 1111.9 1726.7 1111.8 1728.3 1112.0 1729.7 1112.5 1731.0 1113.2 1732.2 1114.2 1733.3 1115.3 1734.2 1116.7 1735.0 1118.2 1735.5 1119.9 1735.8 1121.7 1735.9 1123.6 1735.7 1125.5 1735.3 1127.4 1734.7 1129.3ZM1733.0 1130.8 1732.3 1132.4 1731.4 1133.9 1730.4 1135.4 1729.3 1136.8 1728.1 1138.0 1726.8 1139.0 1725.4 1139.8 1723.9 1140.4 1722.5 1140.7 1721.1 1140.8 1719.7 1140.6 1718.4 1140.2 1717.1 1139.5 1716.0 1138.7 1715.1 1137.6 1714.2 1136.4 1713.6 1135.0 1713.1 1133.5 1712.9 1131.8 1712.8 1130.1 1713.0 1128.4 1713.3 1126.6 1713.8 1124.9 1714.4 1123.3 1715.2 1121.7 1716.0 1120.1 1717.0 1118.6 1718.0 1117.2 1719.2 1116.0 1720.6 1114.9 1722.0 1114.1 1723.4 1113.5 1724.9 1113.2 1726.3 1113.1 1727.7 1113.4 1729.0 1113.8 1730.2 1114.5 1731.3 1115.4 1732.2 1116.5 1733.0 1117.7 1733.7 1119.1 1734.2 1120.6 1734.4 1122.2 1734.5 1123.9 1734.4 1125.6 1734.1 1127.4 1733.6 1129.1ZM1731.9 1130.4 1731.2 1131.8 1730.4 1133.2 1729.5 1134.5 1728.5 1135.7 1727.4 1136.8 1726.3 1137.7 1725.0 1138.4 1723.7 1138.9 1722.4 1139.2 1721.2 1139.3 1719.9 1139.1 1718.8 1138.7 1717.7 1138.1 1716.7 1137.4 1715.8 1136.5 1715.1 1135.4 1714.4 1134.2 1714.0 1132.8 1713.7 1131.4 1713.7 1129.8 1713.8 1128.2 1714.1 1126.7 1714.6 1125.1 1715.2 1123.6 1715.9 1122.2 1716.7 1120.9 1717.5 1119.6 1718.5 1118.4 1719.6 1117.2 1720.7 1116.3 1722.0 1115.5 1723.3 1114.9 1724.6 1114.6 1725.9 1114.6 1727.1 1114.8 1728.3 1115.2 1729.3 1115.8 1730.3 1116.6 1731.1 1117.6 1731.8 1118.7 1732.4 1119.9 1732.9 1121.3 1733.1 1122.7 1733.2 1124.2 1733.1 1125.8 1732.9 1127.3 1732.5 1128.9ZM1730.6 1129.9 1730.0 1131.2 1729.3 1132.4 1728.5 1133.5 1727.7 1134.5 1726.7 1135.5 1725.7 1136.2 1724.6 1136.9 1723.5 1137.3 1722.4 1137.5 1721.3 1137.6 1720.2 1137.5 1719.2 1137.2 1718.2 1136.7 1717.4 1136.0 1716.6 1135.2 1716.0 1134.3 1715.5 1133.2 1715.1 1132.0 1714.9 1130.8 1714.8 1129.4 1715.0 1128.1 1715.2 1126.7 1715.6 1125.4 1716.1 1124.1 1716.7 1122.9 1717.4 1121.7 1718.1 1120.5 1719.0 1119.5 1719.9 1118.5 1720.9 1117.7 1722.0 1117.0 1723.1 1116.6 1724.2 1116.3 1725.3 1116.3 1726.4 1116.4 1727.4 1116.8 1728.3 1117.3 1729.2 1118.0 1729.9 1118.8 1730.5 1119.8 1731.0 1120.9 1731.4 1122.0 1731.6 1123.3 1731.7 1124.6 1731.6 1125.9 1731.4 1127.3 1731.1 1128.6ZM1728.9 1129.4 1728.4 1130.4 1727.9 1131.3 1727.3 1132.2 1726.6 1133.1 1725.8 1133.8 1725.0 1134.5 1724.1 1135.0 1723.2 1135.4 1722.3 1135.6 1721.4 1135.7 1720.5 1135.6 1719.7 1135.4 1718.9 1135.0 1718.2 1134.5 1717.5 1133.8 1717.0 1133.0 1716.6 1132.1 1716.3 1131.1 1716.2 1130.1 1716.2 1129.0 1716.3 1127.9 1716.5 1126.8 1716.9 1125.7 1717.3 1124.7 1717.7 1123.7 1718.2 1122.7 1718.8 1121.8 1719.5 1120.9 1720.3 1120.1 1721.1 1119.4 1722.0 1118.9 1722.9 1118.5 1723.8 1118.3 1724.7 1118.3 1725.6 1118.4 1726.4 1118.7 1727.2 1119.1 1727.9 1119.6 1728.5 1120.3 1729.1 1121.0 1729.5 1121.9 1729.8 1122.9 1730.0 1123.9 1730.0 1125.0 1729.9 1126.1 1729.7 1127.2 1729.4 1128.3ZM1726.9 1128.7 1726.5 1129.4 1726.1 1130.0 1725.7 1130.7 1725.2 1131.3 1724.7 1131.8 1724.1 1132.3 1723.5 1132.7 1722.9 1132.9 1722.2 1133.1 1721.6 1133.1 1721.0 1133.1 1720.4 1132.9 1719.8 1132.6 1719.3 1132.3 1718.8 1131.8 1718.4 1131.3 1718.1 1130.7 1717.9 1130.0 1717.8 1129.2 1717.8 1128.4 1717.9 1127.6 1718.1 1126.8 1718.4 1126.1 1718.7 1125.4 1719.0 1124.7 1719.4 1124.0 1719.8 1123.3 1720.3 1122.7 1720.8 1122.2 1721.4 1121.7 1722.0 1121.3 1722.6 1121.0 1723.3 1120.8 1723.9 1120.8 1724.5 1120.9 1725.1 1121.1 1725.7 1121.4 1726.2 1121.8 1726.6 1122.2 1727.0 1122.7 1727.3 1123.4 1727.6 1124.1 1727.7 1124.8 1727.7 1125.6 1727.6 1126.4 1727.4 1127.2 1727.2 1127.9Z" fill="none" stroke="#000" stroke-width="0.85"/>
<path d="M1748.9 1161.7h1.1v1.1h-1.1zM1727.1 1221.7h1.1v1.1h-1.1zM1752.7 1205.8h1.1v1.1h-1.1zM1721.9 1182.9h1.1v1.1h-1.1zM1719.0 1183.6h1.1v1.1h-1.1zM1747.4 1189.2h1.1v1.1h-1.1zM1742.3 1227.0h1.1v1.1h-1.1zM1741.3 1158.8h1.1v1.1h-1.1zM1724.0 1211.0h1.1v1.1h-1.1zM1739.3 1231.3h1.1v1.1h-1.1zM1746.4 1245.9h1.1v1.1h-1.1zM1754.3 1206.6h1.1v1.1h-1.1zM1744.8 1178.7h1.1v1.1h-1.1zM1722.0 1192.7h1.1v1.1h-1.1zM1721.9 1182.4h1.1v1.1h-1.1zM1721.7 1230.6h1.1v1.1h-1.1zM1735.8 1159.9h1.1v1.1h-1.1zM1746.9 1160.0h1.1v1.1h-1.1zM1744.1 1168.6h1.1v1.1h-1.1zM1728.8 1242.8h1.1v1.1h-1.1zM1740.8 1160.3h1.1v1.1h-1.1zM1729.6 1166.4h1.1v1.1h-1.1zM1744.6 1182.8h1.1v1.1h-1.1zM1722.1 1177.8h1.1v1.1h-1.1zM1742.6 1158.1h1.1v1.1h-1.1zM1744.8 1176.8h1.1v1.1h-1.1zM1726.6 1245.1h1.1v1.1h-1.1zM1744.6 1157.8h1.1v1.1h-1.1zM1754.4 1194.8h1.1v1.1h-1.1zM1730.4 1243.5h1.1v1.1h-1.1zM1715.8 1202.5h1.1v1.1h-1.1zM1721.8 1199.8h1.1v1.1h-1.1zM1720.8 1239.9h1.1v1.1h-1.1zM1732.8 1233.6h1.1v1.1h-1.1zM1738.7 1234.4h1.1v1.1h-1.1zM1757.7 1209.3h1.1v1.1h-1.1zM1742.5 1223.3h1.1v1.1h-1.1zM1739.9 1160.7h1.1v1.1h-1.1zM1733.5 1242.7h1.1v1.1h-1.1zM1732.7 1232.4h1.1v1.1h-1.1zM1741.5 1163.7h1.1v1.1h-1.1zM1730.4 1166.2h1.1v1.1h-1.1zM1730.2 1236.4h1.1v1.1h-1.1zM1736.6 1234.8h1.1v1.1h-1.1zM1723.5 1191.4h1.1v1.1h-1.1zM1737.2 1239.6h1.1v1.1h-1.1zM1747.9 1231.8h1.1v1.1h-1.1zM1747.5 1226.4h1.1v1.1h-1.1zM1743.3 1155.5h1.1v1.1h-1.1zM1725.5 1172.7h1.1v1.1h-1.1zM1723.5 1190.8h1.1v1.1h-1.1zM1742.3 1221.1h1.1v1.1h-1.1zM1744.2 1240.5h1.1v1.1h-1.1zM1746.6 1178.1h1.1v1.1h-1.1zM1743.5 1237.5h1.1v1.1h-1.1zM1730.3 1228.0h1.1v1.1h-1.1zM1755.2 1227.6h1.1v1.1h-1.1zM1738.5 1151.5h1.1v1.1h-1.1zM1720.9 1215.7h1.1v1.1h-1.1zM1751.2 1175.9h1.1v1.1h-1.1zM1735.8 1232.1h1.1v1.1h-1.1zM1744.8 1226.5h1.1v1.1h-1.1zM1746.9 1196.5h1.1v1.1h-1.1zM1755.2 1237.7h1.1v1.1h-1.1zM1724.7 1175.7h1.1v1.1h-1.1zM1724.1 1222.8h1.1v1.1h-1.1zM1732.9 1244.5h1.1v1.1h-1.1zM1738.3 1160.8h1.1v1.1h-1.1zM1752.3 1232.0h1.1v1.1h-1.1zM1755.3 1204.7h1.1v1.1h-1.1zM1746.2 1210.5h1.1v1.1h-1.1zM1754.9 1163.1h1.1v1.1h-1.1zM1750.8 1196.7h1.1v1.1h-1.1zM1744.4 1238.8h1.1v1.1h-1.1zM1732.9 1157.3h1.1v1.1h-1.1zM1718.2 1199.4h1.1v1.1h-1.1zM1747.0 1185.9h1.1v1.1h-1.1z" fill="#000"/><path d="M1738.2 1160.6h1.1v1.1h-1.1zM1736.7 1162.0h1.1v1.1h-1.1zM1733.2 1160.2h1.1v1.1h-1.1zM1737.8 1162.1h1.1v1.1h-1.1zM1727.3 1168.6h1.1v1.1h-1.1zM1745.0 1165.2h1.1v1.1h-1.1zM1738.3 1163.2h1.1v1.1h-1.1zM1735.6 1157.8h1.1v1.1h-1.1zM1737.4 1157.4h1.1v1.1h-1.1zM1753.8 1154.1h1.1v1.1h-1.1zM1743.3 1150.7h1.1v1.1h-1.1zM1738.3 1160.5h1.1v1.1h-1.1zM1730.4 1161.7h1.1v1.1h-1.1zM1739.1 1165.7h1.1v1.1h-1.1zM1727.1 1165.9h1.1v1.1h-1.1zM1743.0 1164.3h1.1v1.1h-1.1zM1757.2 1164.1h1.1v1.1h-1.1zM1746.9 1159.2h1.1v1.1h-1.1zM1738.7 1165.4h1.1v1.1h-1.1zM1742.1 1165.4h1.1v1.1h-1.1zM1739.6 1155.8h1.1v1.1h-1.1zM1731.3 1162.5h1.1v1.1h-1.1zM1733.6 1163.3h1.1v1.1h-1.1zM1753.2 1165.9h1.1v1.1h-1.1zM1733.9 1160.4h1.1v1.1h-1.1zM1748.3 1164.2h1.1v1.1h-1.1z" fill="#000"/><path d="M1738.7 1236.5h1.1v1.1h-1.1zM1730.4 1243.0h1.1v1.1h-1.1zM1732.7 1236.2h1.1v1.1h-1.1zM1719.3 1246.3h1.1v1.1h-1.1zM1739.7 1234.9h1.1v1.1h-1.1zM1728.8 1232.3h1.1v1.1h-1.1zM1722.4 1237.7h1.1v1.1h-1.1zM1728.2 1237.5h1.1v1.1h-1.1zM1737.5 1245.0h1.1v1.1h-1.1zM1735.9 1236.9h1.1v1.1h-1.1zM1737.9 1232.3h1.1v1.1h-1.1zM1732.7 1237.1h1.1v1.1h-1.1zM1742.6 1239.2h1.1v1.1h-1.1zM1732.7 1241.7h1.1v1.1h-1.1zM1745.7 1235.7h1.1v1.1h-1.1zM1731.5 1229.6h1.1v1.1h-1.1zM1731.7 1244.2h1.1v1.1h-1.1zM1734.4 1246.9h1.1v1.1h-1.1zM1735.1 1241.5h1.1v1.1h-1.1zM1735.2 1233.5h1.1v1.1h-1.1zM1732.0 1234.5h1.1v1.1h-1.1zM1726.5 1229.6h1.1v1.1h-1.1zM1737.5 1242.1h1.1v1.1h-1.1zM1736.1 1236.1h1.1v1.1h-1.1zM1728.6 1241.6h1.1v1.1h-1.1zM1742.5 1230.1h1.1v1.1h-1.1zM1735.6 1234.2h1.1v1.1h-1.1zM1724.6 1244.0h1.1v1.1h-1.1zM1743.4 1237.5h1.1v1.1h-1.1zM1745.1 1233.4h1.1v1.1h-1.1zM1737.1 1242.7h1.1v1.1h-1.1zM1733.0 1237.5h1.1v1.1h-1.1zM1728.3 1239.2h1.1v1.1h-1.1zM1743.3 1231.0h1.1v1.1h-1.1zM1729.5 1235.5h1.1v1.1h-1.1zM1744.8 1233.3h1.1v1.1h-1.1zM1729.1 1235.3h1.1v1.1h-1.1zM1742.9 1228.1h1.1v1.1h-1.1zM1733.7 1242.3h1.1v1.1h-1.1zM1734.6 1234.3h1.1v1.1h-1.1zM1740.8 1229.6h1.1v1.1h-1.1zM1749.2 1238.1h1.1v1.1h-1.1zM1732.1 1236.1h1.1v1.1h-1.1zM1734.2 1234.2h1.1v1.1h-1.1zM1726.1 1234.3h1.1v1.1h-1.1zM1722.5 1242.4h1.1v1.1h-1.1zM1726.6 1231.8h1.1v1.1h-1.1zM1728.9 1239.1h1.1v1.1h-1.1zM1733.1 1242.7h1.1v1.1h-1.1zM1731.3 1236.2h1.1v1.1h-1.1zM1734.0 1233.8h1.1v1.1h-1.1zM1742.3 1241.6h1.1v1.1h-1.1zM1743.7 1228.5h1.1v1.1h-1.1zM1726.4 1226.4h1.1v1.1h-1.1zM1727.8 1238.4h1.1v1.1h-1.1zM1744.2 1244.1h1.1v1.1h-1.1zM1728.1 1232.3h1.1v1.1h-1.1zM1736.1 1236.2h1.1v1.1h-1.1z" fill="#000"/><path d="M1746.9 1197.7 1746.8 1202.4 1746.6 1207.1 1746.2 1211.7 1745.5 1216.1 1744.7 1220.2 1743.6 1223.8 1742.4 1226.9 1741.1 1229.5 1739.7 1231.4 1738.2 1232.8 1736.7 1233.6 1735.2 1233.8 1733.7 1233.4 1732.2 1232.6 1730.7 1231.1 1729.3 1229.2 1728.0 1226.7 1726.8 1223.7 1725.7 1220.2 1724.8 1216.2 1724.1 1211.9 1723.6 1207.3 1723.4 1202.5 1723.3 1197.7 1723.5 1192.9 1723.8 1188.3 1724.4 1183.9 1725.1 1179.7 1726.0 1175.9 1727.0 1172.3 1728.1 1169.2 1729.4 1166.5 1730.7 1164.2 1732.1 1162.5 1733.7 1161.3 1735.2 1160.8 1736.8 1161.0 1738.3 1161.8 1739.8 1163.4 1741.2 1165.7 1742.4 1168.5 1743.6 1171.8 1744.5 1175.6 1745.3 1179.6 1746.0 1183.9 1746.4 1188.4 1746.8 1193.0ZM1746.4 1197.7 1746.4 1202.3 1746.2 1206.8 1745.8 1211.3 1745.2 1215.6 1744.4 1219.6 1743.4 1223.2 1742.3 1226.2 1741.0 1228.6 1739.6 1230.4 1738.1 1231.6 1736.7 1232.2 1735.2 1232.2 1733.7 1231.8 1732.3 1231.0 1730.9 1229.6 1729.6 1227.9 1728.3 1225.6 1727.1 1222.8 1726.0 1219.5 1725.1 1215.7 1724.4 1211.6 1723.9 1207.1 1723.6 1202.4 1723.6 1197.7 1723.8 1193.1 1724.2 1188.6 1724.8 1184.4 1725.5 1180.5 1726.4 1176.8 1727.4 1173.5 1728.4 1170.5 1729.6 1167.8 1730.9 1165.5 1732.3 1163.7 1733.7 1162.4 1735.2 1161.8 1736.7 1161.9 1738.2 1162.7 1739.7 1164.3 1741.0 1166.5 1742.2 1169.4 1743.3 1172.7 1744.2 1176.4 1744.9 1180.4 1745.5 1184.5 1746.0 1188.8 1746.3 1193.2ZM1746.1 1197.7 1746.0 1202.1 1745.7 1206.4 1745.3 1210.7 1744.7 1214.7 1743.9 1218.5 1743.0 1221.9 1741.9 1224.8 1740.7 1227.3 1739.4 1229.2 1738.0 1230.6 1736.6 1231.3 1735.2 1231.5 1733.8 1231.1 1732.4 1230.3 1731.0 1228.8 1729.7 1226.9 1728.5 1224.6 1727.4 1221.7 1726.4 1218.5 1725.6 1214.8 1724.9 1210.9 1724.5 1206.6 1724.2 1202.2 1724.1 1197.7 1724.2 1193.2 1724.5 1188.9 1725.1 1184.7 1725.8 1180.8 1726.6 1177.3 1727.6 1174.0 1728.6 1171.2 1729.8 1168.8 1731.1 1166.8 1732.4 1165.2 1733.8 1164.2 1735.2 1163.7 1736.6 1163.7 1738.1 1164.5 1739.5 1165.8 1740.8 1167.8 1742.0 1170.3 1743.1 1173.4 1744.0 1176.9 1744.7 1180.7 1745.3 1184.7 1745.7 1189.0 1746.0 1193.3ZM1745.5 1197.7 1745.4 1201.9 1745.2 1206.0 1744.9 1210.1 1744.4 1214.0 1743.7 1217.8 1742.8 1221.2 1741.8 1224.1 1740.6 1226.6 1739.3 1228.4 1738.0 1229.6 1736.6 1230.2 1735.2 1230.2 1733.8 1229.7 1732.5 1228.7 1731.2 1227.3 1730.0 1225.4 1728.9 1223.2 1727.8 1220.5 1726.9 1217.5 1726.0 1214.1 1725.3 1210.4 1724.8 1206.3 1724.5 1202.1 1724.4 1197.7 1724.5 1193.4 1724.9 1189.1 1725.4 1185.2 1726.1 1181.5 1726.9 1178.1 1727.9 1175.1 1728.9 1172.5 1730.1 1170.2 1731.3 1168.2 1732.5 1166.7 1733.8 1165.6 1735.2 1164.9 1736.6 1164.9 1738.0 1165.5 1739.3 1166.7 1740.6 1168.7 1741.8 1171.2 1742.8 1174.2 1743.6 1177.7 1744.3 1181.4 1744.8 1185.3 1745.2 1189.4 1745.4 1193.5ZM1745.2 1197.7 1745.2 1201.8 1745.0 1205.8 1744.6 1209.8 1744.1 1213.5 1743.4 1217.1 1742.5 1220.2 1741.4 1222.9 1740.3 1225.0 1739.1 1226.7 1737.8 1227.7 1736.5 1228.3 1735.2 1228.4 1733.9 1228.0 1732.6 1227.2 1731.4 1226.0 1730.2 1224.4 1729.1 1222.3 1728.0 1219.8 1727.1 1216.9 1726.3 1213.6 1725.6 1209.9 1725.2 1206.0 1724.9 1201.9 1724.9 1197.7 1725.0 1193.6 1725.4 1189.6 1725.9 1185.8 1726.6 1182.3 1727.3 1179.0 1728.2 1176.1 1729.2 1173.5 1730.3 1171.2 1731.4 1169.3 1732.6 1167.8 1733.9 1166.7 1735.2 1166.2 1736.5 1166.3 1737.9 1167.0 1739.1 1168.3 1740.3 1170.2 1741.4 1172.6 1742.4 1175.5 1743.2 1178.7 1743.9 1182.2 1744.4 1185.9 1744.8 1189.7 1745.1 1193.7ZM1744.7 1197.7 1744.6 1201.5 1744.4 1205.3 1744.0 1209.0 1743.5 1212.6 1742.9 1215.9 1742.1 1218.9 1741.1 1221.5 1740.1 1223.7 1738.9 1225.5 1737.7 1226.7 1736.5 1227.3 1735.2 1227.5 1733.9 1227.1 1732.7 1226.3 1731.5 1225.0 1730.4 1223.3 1729.4 1221.2 1728.4 1218.7 1727.6 1215.8 1726.8 1212.7 1726.2 1209.2 1725.8 1205.5 1725.5 1201.6 1725.4 1197.7 1725.5 1193.8 1725.8 1189.9 1726.3 1186.3 1726.9 1182.9 1727.6 1179.7 1728.5 1176.9 1729.4 1174.5 1730.5 1172.4 1731.6 1170.6 1732.7 1169.3 1734.0 1168.3 1735.2 1167.9 1736.5 1167.9 1737.7 1168.5 1738.9 1169.7 1740.1 1171.4 1741.2 1173.6 1742.1 1176.3 1742.9 1179.4 1743.6 1182.7 1744.1 1186.3 1744.4 1190.1 1744.6 1193.9ZM1744.2 1197.7 1744.1 1201.3 1743.9 1204.9 1743.6 1208.4 1743.1 1211.8 1742.5 1214.9 1741.7 1217.8 1740.8 1220.3 1739.8 1222.4 1738.7 1224.0 1737.6 1225.2 1736.4 1225.8 1735.2 1226.0 1734.0 1225.6 1732.8 1224.9 1731.7 1223.7 1730.7 1222.1 1729.7 1220.1 1728.7 1217.7 1727.9 1215.0 1727.2 1211.9 1726.7 1208.6 1726.3 1205.1 1726.0 1201.4 1726.0 1197.7 1726.1 1194.0 1726.4 1190.4 1726.8 1186.9 1727.3 1183.7 1728.0 1180.7 1728.8 1178.0 1729.7 1175.6 1730.7 1173.6 1731.7 1171.9 1732.9 1170.6 1734.0 1169.7 1735.2 1169.3 1736.4 1169.4 1737.6 1170.0 1738.8 1171.1 1739.9 1172.8 1740.9 1174.9 1741.7 1177.4 1742.5 1180.4 1743.1 1183.5 1743.6 1186.9 1743.9 1190.5 1744.1 1194.1ZM1743.7 1197.7 1743.6 1201.1 1743.5 1204.5 1743.1 1207.9 1742.7 1211.1 1742.1 1214.1 1741.4 1216.8 1740.5 1219.2 1739.6 1221.1 1738.5 1222.6 1737.4 1223.5 1736.3 1224.1 1735.2 1224.1 1734.1 1223.8 1733.0 1223.0 1732.0 1221.9 1731.0 1220.4 1730.0 1218.6 1729.1 1216.5 1728.3 1214.0 1727.7 1211.2 1727.1 1208.1 1726.7 1204.7 1726.5 1201.3 1726.4 1197.7 1726.5 1194.2 1726.8 1190.7 1727.2 1187.5 1727.8 1184.5 1728.5 1181.7 1729.2 1179.3 1730.1 1177.1 1731.0 1175.2 1732.0 1173.6 1733.0 1172.3 1734.1 1171.4 1735.2 1170.9 1736.3 1170.9 1737.5 1171.5 1738.6 1172.5 1739.6 1174.1 1740.5 1176.2 1741.4 1178.6 1742.1 1181.4 1742.6 1184.4 1743.1 1187.6 1743.4 1190.9 1743.6 1194.3ZM1743.1 1197.7 1743.1 1200.9 1742.9 1204.1 1742.6 1207.2 1742.2 1210.2 1741.6 1213.0 1741.0 1215.5 1740.2 1217.7 1739.3 1219.5 1738.3 1220.9 1737.3 1221.9 1736.3 1222.4 1735.2 1222.5 1734.2 1222.2 1733.1 1221.5 1732.1 1220.5 1731.2 1219.1 1730.3 1217.3 1729.5 1215.3 1728.8 1212.9 1728.2 1210.2 1727.7 1207.3 1727.3 1204.2 1727.1 1201.0 1727.0 1197.7 1727.1 1194.4 1727.4 1191.2 1727.8 1188.2 1728.3 1185.3 1728.9 1182.7 1729.6 1180.3 1730.4 1178.3 1731.2 1176.5 1732.2 1175.0 1733.1 1173.8 1734.2 1173.1 1735.2 1172.7 1736.3 1172.7 1737.3 1173.3 1738.3 1174.3 1739.3 1175.7 1740.2 1177.6 1741.0 1179.9 1741.6 1182.4 1742.2 1185.2 1742.6 1188.2 1742.9 1191.3 1743.1 1194.5ZM1742.6 1197.7 1742.5 1200.7 1742.4 1203.6 1742.1 1206.5 1741.7 1209.3 1741.1 1211.8 1740.5 1214.1 1739.8 1216.1 1738.9 1217.8 1738.1 1219.1 1737.1 1220.0 1736.2 1220.5 1735.2 1220.6 1734.2 1220.4 1733.3 1219.9 1732.4 1218.9 1731.5 1217.7 1730.7 1216.0 1729.9 1214.1 1729.2 1211.9 1728.7 1209.4 1728.2 1206.6 1727.9 1203.7 1727.7 1200.7 1727.7 1197.7 1727.8 1194.7 1728.0 1191.7 1728.4 1188.9 1728.8 1186.3 1729.4 1183.9 1730.0 1181.7 1730.7 1179.7 1731.5 1178.0 1732.4 1176.6 1733.3 1175.5 1734.2 1174.8 1735.2 1174.4 1736.2 1174.5 1737.2 1175.1 1738.1 1176.0 1739.0 1177.4 1739.8 1179.2 1740.5 1181.3 1741.1 1183.6 1741.6 1186.2 1742.0 1188.9 1742.3 1191.8 1742.5 1194.7ZM1741.9 1197.7 1741.9 1200.4 1741.8 1203.1 1741.5 1205.8 1741.1 1208.3 1740.7 1210.6 1740.1 1212.8 1739.4 1214.6 1738.6 1216.1 1737.8 1217.3 1737.0 1218.0 1736.1 1218.5 1735.2 1218.6 1734.3 1218.3 1733.5 1217.8 1732.6 1216.9 1731.8 1215.8 1731.1 1214.3 1730.4 1212.6 1729.8 1210.6 1729.2 1208.4 1728.8 1205.9 1728.5 1203.2 1728.3 1200.5 1728.3 1197.7 1728.4 1194.9 1728.6 1192.2 1728.9 1189.7 1729.4 1187.3 1729.9 1185.0 1730.5 1183.1 1731.1 1181.3 1731.9 1179.8 1732.6 1178.5 1733.5 1177.5 1734.3 1176.8 1735.2 1176.5 1736.1 1176.6 1737.0 1177.0 1737.8 1177.9 1738.7 1179.2 1739.4 1180.8 1740.1 1182.7 1740.6 1184.8 1741.1 1187.2 1741.4 1189.7 1741.7 1192.3 1741.9 1195.0ZM1741.2 1197.7 1741.2 1200.1 1741.1 1202.6 1740.8 1204.9 1740.5 1207.2 1740.1 1209.3 1739.5 1211.2 1738.9 1212.8 1738.3 1214.1 1737.5 1215.2 1736.8 1215.9 1736.0 1216.3 1735.2 1216.4 1734.4 1216.2 1733.6 1215.7 1732.9 1215.0 1732.2 1213.9 1731.5 1212.6 1730.9 1211.1 1730.3 1209.3 1729.9 1207.2 1729.5 1205.0 1729.2 1202.6 1729.1 1200.2 1729.1 1197.7 1729.1 1195.2 1729.3 1192.8 1729.6 1190.5 1730.0 1188.4 1730.4 1186.4 1730.9 1184.5 1731.5 1182.9 1732.2 1181.6 1732.9 1180.4 1733.6 1179.6 1734.4 1179.0 1735.2 1178.8 1736.0 1178.8 1736.8 1179.3 1737.6 1180.1 1738.3 1181.2 1738.9 1182.6 1739.5 1184.3 1740.0 1186.2 1740.5 1188.3 1740.8 1190.5 1741.0 1192.9 1741.2 1195.3ZM1740.4 1197.7 1740.4 1199.8 1740.2 1201.9 1740.1 1203.9 1739.8 1205.9 1739.4 1207.7 1739.0 1209.4 1738.5 1210.8 1737.9 1212.0 1737.2 1212.9 1736.6 1213.5 1735.9 1213.9 1735.2 1213.9 1734.5 1213.7 1733.9 1213.3 1733.2 1212.6 1732.6 1211.7 1732.0 1210.6 1731.5 1209.2 1731.0 1207.7 1730.6 1205.9 1730.3 1204.0 1730.0 1202.0 1729.9 1199.9 1729.8 1197.7 1729.9 1195.5 1730.1 1193.5 1730.3 1191.5 1730.7 1189.6 1731.1 1187.9 1731.5 1186.4 1732.1 1185.0 1732.6 1183.8 1733.2 1182.8 1733.8 1182.1 1734.5 1181.5 1735.2 1181.3 1735.9 1181.3 1736.6 1181.6 1737.3 1182.3 1737.9 1183.3 1738.5 1184.5 1739.0 1186.0 1739.4 1187.7 1739.8 1189.6 1740.0 1191.5 1740.2 1193.5 1740.3 1195.6ZM1739.4 1197.7 1739.4 1199.4 1739.3 1201.1 1739.2 1202.8 1738.9 1204.4 1738.6 1205.9 1738.3 1207.2 1737.9 1208.4 1737.4 1209.4 1736.9 1210.2 1736.3 1210.7 1735.8 1210.9 1735.2 1210.9 1734.6 1210.8 1734.1 1210.4 1733.6 1209.8 1733.1 1209.1 1732.6 1208.2 1732.2 1207.1 1731.8 1205.8 1731.4 1204.4 1731.2 1202.9 1731.0 1201.2 1730.8 1199.5 1730.8 1197.7 1730.9 1195.9 1731.0 1194.2 1731.2 1192.6 1731.5 1191.1 1731.8 1189.7 1732.2 1188.5 1732.6 1187.4 1733.1 1186.4 1733.6 1185.6 1734.1 1185.0 1734.6 1184.6 1735.2 1184.3 1735.8 1184.3 1736.3 1184.6 1736.9 1185.1 1737.4 1185.9 1737.9 1186.9 1738.3 1188.1 1738.6 1189.5 1738.9 1191.0 1739.1 1192.6 1739.3 1194.3 1739.4 1196.0ZM1738.2 1197.7 1738.2 1198.9 1738.1 1200.1 1738.0 1201.3 1737.8 1202.4 1737.6 1203.5 1737.4 1204.4 1737.1 1205.3 1736.7 1206.0 1736.4 1206.5 1736.0 1206.9 1735.6 1207.1 1735.2 1207.1 1734.8 1207.0 1734.4 1206.7 1734.0 1206.3 1733.7 1205.8 1733.4 1205.1 1733.1 1204.3 1732.8 1203.4 1732.5 1202.4 1732.4 1201.4 1732.2 1200.2 1732.1 1199.0 1732.1 1197.7 1732.1 1196.5 1732.2 1195.2 1732.4 1194.1 1732.6 1193.0 1732.8 1192.0 1733.1 1191.2 1733.4 1190.4 1733.7 1189.7 1734.1 1189.2 1734.4 1188.7 1734.8 1188.4 1735.2 1188.3 1735.6 1188.3 1736.0 1188.5 1736.4 1188.8 1736.8 1189.4 1737.1 1190.1 1737.4 1190.9 1737.6 1191.9 1737.8 1193.0 1738.0 1194.1 1738.1 1195.3 1738.2 1196.5Z" fill="none" stroke="#000" stroke-width="0.85"/>
<polygon points="1720.60,1090.00 1755.30,1082.50 1760.00,1119.00 1719.70,1167.80 1701.90,1151.90 1699.50,1128.40" stroke="#000" stroke-width="1.10" fill="none" stroke-linejoin="miter"/>
<polygon points="1714.00,1178.10 1748.70,1138.70 1760.90,1146.20 1760.90,1250.30 1715.50,1250.30" stroke="#d42a2a" stroke-width="3.40" fill="none" stroke-linejoin="miter"/>
<g transform="translate(1739.59 1070.50) scale(0.9958 1)"><text x="0.00" y="0.00" font-size="37.70">63</text></g>
<g transform="translate(1609.16 1100.20) scale(0.9820 1)"><text x="0.00" y="0.00" font-size="36.80">Comp.</text></g>
<g transform="translate(1664.38 1237.00) scale(0.9896 1)"><text x="0.00" y="0.00" font-size="37.70">37</text></g>
<line x1="1733.60" y1="1236.00" x2="1733.60" y2="1331.60" stroke="#d42a2a" stroke-width="3.30"/><polygon points="1718.10,1329.60 1733.60,1334.60 1749.10,1329.60 1733.60,1359.10" fill="#d42a2a"/>
<g transform="translate(1314.77 1323.60) scale(0.9809 1)"><text x="0.00" y="0.00" font-size="36.80">CD45.2-FITC</text></g>
<line x1="1538.00" y1="1320.00" x2="1766.80" y2="1320.00" stroke="#000" stroke-width="1.60"/><polygon points="1764.80,1326.50 1767.80,1320.00 1764.80,1313.50 1778.80,1320.00" fill="#000"/>
<g transform="translate(1263.50 1314.45) rotate(-90) scale(0.9867 1)"><text x="0.00" y="0.00" font-size="37.00">CD45.1-APC-Cy7</text></g>
<rect x="1312.40" y="1364.40" width="229.90" height="229.70" stroke="#555" stroke-width="1.30" fill="none"/><path d="M1306.9 1579.0H1312.4M1326.8 1594.1V1599.6M1306.9 1541.9H1312.4M1364.3 1594.1V1599.6M1306.9 1503.8H1312.4M1402.4 1594.1V1599.6M1306.9 1441.0H1312.4M1465.3 1594.1V1599.6M1306.9 1386.0H1312.4M1519.3 1594.1V1599.6" stroke="#000" stroke-width="1.8" fill="none"/><path d="M1309.2 1547.0H1312.4M1359.1 1594.1V1597.3M1309.2 1551.9H1312.4M1354.1 1594.1V1597.3M1309.2 1556.5H1312.4M1349.5 1594.1V1597.3M1309.2 1560.8H1312.4M1345.2 1594.1V1597.3M1309.2 1564.6H1312.4M1341.4 1594.1V1597.3M1309.2 1568.0H1312.4M1337.9 1594.1V1597.3M1309.2 1571.2H1312.4M1334.7 1594.1V1597.3M1309.2 1574.0H1312.4M1331.8 1594.1V1597.3M1309.2 1576.6H1312.4M1329.2 1594.1V1597.3M1309.2 1536.6H1312.4M1369.6 1594.1V1597.3M1309.2 1531.6H1312.4M1374.6 1594.1V1597.3M1309.2 1526.9H1312.4M1379.3 1594.1V1597.3M1309.2 1522.5H1312.4M1383.7 1594.1V1597.3M1309.2 1518.6H1312.4M1387.6 1594.1V1597.3M1309.2 1515.1H1312.4M1391.1 1594.1V1597.3M1309.2 1511.8H1312.4M1394.4 1594.1V1597.3M1309.2 1508.9H1312.4M1397.3 1594.1V1597.3M1309.2 1506.3H1312.4M1399.9 1594.1V1597.3M1309.2 1542.4H1312.4M1363.8 1594.1V1597.3M1309.2 1543.4H1312.4M1362.7 1594.1V1597.3M1309.2 1544.5H1312.4M1361.7 1594.1V1597.3M1309.2 1545.5H1312.4M1360.7 1594.1V1597.3M1309.2 1546.5H1312.4M1359.6 1594.1V1597.3M1309.2 1541.4H1312.4M1364.8 1594.1V1597.3M1309.2 1540.3H1312.4M1365.9 1594.1V1597.3M1309.2 1539.3H1312.4M1366.9 1594.1V1597.3M1309.2 1538.2H1312.4M1368.0 1594.1V1597.3M1309.2 1537.2H1312.4M1369.0 1594.1V1597.3M1309.2 1485.6H1312.4M1420.6 1594.1V1597.3M1309.2 1474.5H1312.4M1431.8 1594.1V1597.3M1309.2 1466.5H1312.4M1439.7 1594.1V1597.3M1309.2 1460.3H1312.4M1445.9 1594.1V1597.3M1309.2 1455.2H1312.4M1451.0 1594.1V1597.3M1309.2 1451.0H1312.4M1455.3 1594.1V1597.3M1309.2 1447.2H1312.4M1459.1 1594.1V1597.3M1309.2 1443.9H1312.4M1462.4 1594.1V1597.3M1309.2 1424.5H1312.4M1481.5 1594.1V1597.3M1309.2 1414.8H1312.4M1491.1 1594.1V1597.3M1309.2 1407.9H1312.4M1497.8 1594.1V1597.3M1309.2 1402.6H1312.4M1503.0 1594.1V1597.3M1309.2 1398.2H1312.4M1507.3 1594.1V1597.3M1309.2 1394.5H1312.4M1510.9 1594.1V1597.3M1309.2 1391.3H1312.4M1514.1 1594.1V1597.3M1309.2 1388.5H1312.4M1516.8 1594.1V1597.3M1309.2 1369.4H1312.4M1535.6 1594.1V1597.3" stroke="#000" stroke-width="1.1" fill="none"/><g transform="translate(1274.68 1396.80) scale(1.0000 1)"><text x="0.00" y="0.00" font-size="20.80">10</text></g><g transform="translate(1293.61 1385.30) scale(1.0000 1)"><text x="0.00" y="0.00" font-size="20.80">5</text></g><g transform="translate(1274.68 1451.80) scale(1.0000 1)"><text x="0.00" y="0.00" font-size="20.80">10</text></g><g transform="translate(1293.34 1440.30) scale(1.0000 1)"><text x="0.00" y="0.00" font-size="20.80">4</text></g><g transform="translate(1274.68 1514.60) scale(1.0000 1)"><text x="0.00" y="0.00" font-size="20.80">10</text></g><g transform="translate(1293.65 1503.10) scale(1.0000 1)"><text x="0.00" y="0.00" font-size="20.80">3</text></g><g transform="translate(1289.84 1552.90) scale(1.0000 1)"><text x="0.00" y="0.00" font-size="20.80">0</text></g><g transform="translate(1267.75 1593.00) scale(1.0000 1)"><text x="0.00" y="0.00" font-size="20.80">-10</text></g><g transform="translate(1293.65 1581.80) scale(1.0000 1)"><text x="0.00" y="0.00" font-size="20.80">3</text></g><g transform="translate(1395.32 1625.90) scale(1.0000 1)"><text x="0.00" y="0.00" font-size="20.80">10</text></g><g transform="translate(1416.35 1617.40) scale(1.0000 1)"><text x="0.00" y="0.00" font-size="20.80">3</text></g><g transform="translate(1459.22 1625.90) scale(1.0000 1)"><text x="0.00" y="0.00" font-size="20.80">10</text></g><g transform="translate(1480.56 1617.40) scale(1.0000 1)"><text x="0.00" y="0.00" font-size="20.80">4</text></g><g transform="translate(1508.52 1625.90) scale(1.0000 1)"><text x="0.00" y="0.00" font-size="20.80">10</text></g><g transform="translate(1529.51 1617.40) scale(1.0000 1)"><text x="0.00" y="0.00" font-size="20.80">5</text></g><g transform="translate(1315.58 1625.90) scale(1.0000 1)"><text x="0.00" y="0.00" font-size="20.80">-10</text></g><g transform="translate(1343.53 1617.40) scale(1.0000 1)"><text x="0.00" y="0.00" font-size="20.80">3</text></g><g transform="translate(1359.52 1625.90) scale(1.0000 1)"><text x="0.00" y="0.00" font-size="20.80">0</text></g>
<ellipse cx="1492.20" cy="1413.10" rx="18.70" ry="8.50" transform="rotate(-44.0 1492.20 1413.10)" fill="#000" fill-opacity="0.92"/><path d="M1525.3 1386.8h1.1v1.1h-1.1zM1509.7 1412.0h1.1v1.1h-1.1zM1516.2 1414.5h1.1v1.1h-1.1zM1525.3 1411.7h1.1v1.1h-1.1zM1485.8 1397.0h1.1v1.1h-1.1zM1522.7 1409.7h1.1v1.1h-1.1zM1516.5 1414.8h1.1v1.1h-1.1zM1527.4 1423.7h1.1v1.1h-1.1zM1498.2 1423.3h1.1v1.1h-1.1zM1465.8 1414.2h1.1v1.1h-1.1zM1511.6 1413.2h1.1v1.1h-1.1zM1470.0 1416.8h1.1v1.1h-1.1zM1466.4 1407.2h1.1v1.1h-1.1zM1502.1 1422.7h1.1v1.1h-1.1zM1504.4 1418.5h1.1v1.1h-1.1zM1498.7 1424.6h1.1v1.1h-1.1zM1481.2 1406.3h1.1v1.1h-1.1zM1505.5 1420.7h1.1v1.1h-1.1zM1502.8 1390.0h1.1v1.1h-1.1zM1475.3 1402.9h1.1v1.1h-1.1zM1470.7 1408.2h1.1v1.1h-1.1zM1525.2 1409.0h1.1v1.1h-1.1z" fill="#000"/><path d="M1455.0 1444.0h1.1v1.1h-1.1zM1477.0 1434.4h1.1v1.1h-1.1zM1460.3 1436.3h1.1v1.1h-1.1zM1458.7 1435.4h1.1v1.1h-1.1zM1484.3 1438.2h1.1v1.1h-1.1zM1479.9 1436.1h1.1v1.1h-1.1zM1472.8 1445.8h1.1v1.1h-1.1zM1457.4 1435.4h1.1v1.1h-1.1zM1468.0 1439.1h1.1v1.1h-1.1zM1483.4 1441.6h1.1v1.1h-1.1zM1456.0 1435.8h1.1v1.1h-1.1zM1461.4 1431.9h1.1v1.1h-1.1zM1487.7 1431.1h1.1v1.1h-1.1zM1471.6 1433.2h1.1v1.1h-1.1zM1477.2 1439.6h1.1v1.1h-1.1zM1470.6 1437.0h1.1v1.1h-1.1zM1479.7 1431.9h1.1v1.1h-1.1zM1462.9 1430.8h1.1v1.1h-1.1zM1481.5 1435.7h1.1v1.1h-1.1zM1460.1 1434.9h1.1v1.1h-1.1zM1491.9 1436.8h1.1v1.1h-1.1zM1477.1 1440.2h1.1v1.1h-1.1zM1469.3 1433.3h1.1v1.1h-1.1zM1466.4 1435.3h1.1v1.1h-1.1zM1449.6 1453.0h1.1v1.1h-1.1zM1477.8 1438.1h1.1v1.1h-1.1zM1467.6 1432.7h1.1v1.1h-1.1zM1478.0 1436.3h1.1v1.1h-1.1zM1472.9 1449.5h1.1v1.1h-1.1zM1466.8 1442.2h1.1v1.1h-1.1zM1469.8 1444.1h1.1v1.1h-1.1zM1479.1 1437.8h1.1v1.1h-1.1zM1464.4 1439.2h1.1v1.1h-1.1zM1469.8 1433.7h1.1v1.1h-1.1zM1473.6 1440.0h1.1v1.1h-1.1zM1461.4 1436.8h1.1v1.1h-1.1zM1495.7 1442.4h1.1v1.1h-1.1zM1470.3 1452.5h1.1v1.1h-1.1zM1465.4 1422.6h1.1v1.1h-1.1zM1452.3 1428.3h1.1v1.1h-1.1zM1471.8 1443.3h1.1v1.1h-1.1zM1449.9 1444.2h1.1v1.1h-1.1zM1458.4 1439.0h1.1v1.1h-1.1zM1473.6 1440.0h1.1v1.1h-1.1zM1469.5 1438.5h1.1v1.1h-1.1zM1459.2 1439.1h1.1v1.1h-1.1zM1478.3 1443.0h1.1v1.1h-1.1zM1493.0 1443.9h1.1v1.1h-1.1zM1476.0 1447.4h1.1v1.1h-1.1zM1471.6 1429.7h1.1v1.1h-1.1zM1449.3 1445.1h1.1v1.1h-1.1zM1474.6 1442.5h1.1v1.1h-1.1zM1466.5 1439.5h1.1v1.1h-1.1zM1486.4 1439.5h1.1v1.1h-1.1zM1459.4 1434.9h1.1v1.1h-1.1zM1446.2 1423.7h1.1v1.1h-1.1zM1457.4 1442.2h1.1v1.1h-1.1z" fill="#000"/><path d="M1450.5 1446.9h1.1v1.1h-1.1zM1434.0 1450.8h1.1v1.1h-1.1zM1447.5 1448.1h1.1v1.1h-1.1zM1446.5 1446.9h1.1v1.1h-1.1zM1471.1 1437.2h1.1v1.1h-1.1zM1450.9 1445.4h1.1v1.1h-1.1zM1457.9 1450.0h1.1v1.1h-1.1zM1453.8 1454.6h1.1v1.1h-1.1zM1451.9 1457.4h1.1v1.1h-1.1zM1432.8 1457.2h1.1v1.1h-1.1zM1446.8 1453.7h1.1v1.1h-1.1zM1468.1 1458.2h1.1v1.1h-1.1zM1473.3 1437.9h1.1v1.1h-1.1zM1438.0 1457.2h1.1v1.1h-1.1zM1435.9 1450.4h1.1v1.1h-1.1zM1469.9 1456.7h1.1v1.1h-1.1zM1437.9 1454.2h1.1v1.1h-1.1zM1457.2 1451.9h1.1v1.1h-1.1zM1448.2 1452.3h1.1v1.1h-1.1zM1431.4 1452.2h1.1v1.1h-1.1zM1437.8 1453.8h1.1v1.1h-1.1zM1454.6 1446.1h1.1v1.1h-1.1zM1456.8 1453.6h1.1v1.1h-1.1zM1448.9 1455.8h1.1v1.1h-1.1zM1445.7 1449.7h1.1v1.1h-1.1zM1450.4 1451.1h1.1v1.1h-1.1zM1463.2 1437.2h1.1v1.1h-1.1zM1445.7 1439.4h1.1v1.1h-1.1zM1443.1 1452.8h1.1v1.1h-1.1zM1449.2 1457.1h1.1v1.1h-1.1zM1452.9 1434.8h1.1v1.1h-1.1zM1435.5 1460.5h1.1v1.1h-1.1zM1467.6 1451.8h1.1v1.1h-1.1zM1430.2 1464.2h1.1v1.1h-1.1zM1423.6 1453.0h1.1v1.1h-1.1z" fill="#000"/><path d="M1513.0 1393.0 1514.0 1394.4 1514.5 1396.1 1514.6 1398.1 1514.3 1400.4 1513.7 1402.9 1512.7 1405.4 1511.4 1408.1 1509.8 1410.8 1508.0 1413.5 1506.0 1416.1 1503.7 1418.8 1501.3 1421.3 1498.7 1423.8 1496.0 1426.0 1493.3 1428.2 1490.4 1430.0 1487.5 1431.6 1484.7 1432.9 1482.1 1433.7 1479.7 1434.1 1477.5 1434.1 1475.7 1433.6 1474.2 1432.7 1473.1 1431.5 1472.3 1430.0 1471.8 1428.3 1471.7 1426.4 1471.8 1424.3 1472.1 1422.0 1472.8 1419.6 1473.9 1417.0 1475.3 1414.3 1477.1 1411.5 1479.2 1408.7 1481.5 1406.0 1484.1 1403.5 1486.8 1401.1 1489.6 1399.0 1492.4 1397.1 1495.1 1395.4 1497.9 1394.0 1500.6 1392.8 1503.2 1391.9 1505.7 1391.4 1507.9 1391.1 1510.0 1391.3 1511.7 1391.9ZM1511.9 1394.0 1512.8 1395.4 1513.4 1397.0 1513.5 1398.9 1513.3 1401.0 1512.8 1403.3 1511.9 1405.8 1510.7 1408.3 1509.1 1410.9 1507.3 1413.5 1505.3 1416.1 1503.1 1418.6 1500.8 1421.0 1498.3 1423.2 1495.8 1425.4 1493.1 1427.4 1490.4 1429.2 1487.7 1430.8 1485.0 1432.0 1482.5 1432.8 1480.2 1433.2 1478.1 1433.2 1476.4 1432.7 1475.1 1431.8 1474.0 1430.6 1473.3 1429.2 1472.8 1427.6 1472.6 1425.8 1472.6 1423.9 1472.9 1421.7 1473.5 1419.4 1474.5 1416.9 1475.8 1414.3 1477.5 1411.6 1479.6 1409.0 1481.9 1406.4 1484.4 1404.0 1487.0 1401.8 1489.6 1399.8 1492.3 1398.0 1494.9 1396.4 1497.5 1395.0 1500.1 1393.9 1502.6 1393.0 1504.9 1392.5 1507.1 1392.3 1509.0 1392.5 1510.6 1393.1ZM1510.8 1395.1 1511.7 1396.4 1512.1 1397.9 1512.3 1399.8 1512.0 1401.8 1511.5 1404.0 1510.6 1406.3 1509.5 1408.7 1508.1 1411.1 1506.5 1413.6 1504.6 1416.0 1502.5 1418.4 1500.3 1420.7 1498.0 1422.9 1495.5 1424.9 1493.0 1426.8 1490.4 1428.5 1487.9 1430.0 1485.3 1431.2 1482.9 1432.0 1480.6 1432.4 1478.7 1432.4 1477.0 1431.9 1475.7 1431.1 1474.8 1429.9 1474.2 1428.4 1473.9 1426.8 1473.8 1425.1 1473.9 1423.2 1474.2 1421.2 1474.8 1419.0 1475.6 1416.7 1476.8 1414.3 1478.3 1411.8 1480.1 1409.2 1482.2 1406.7 1484.6 1404.4 1487.1 1402.2 1489.6 1400.3 1492.2 1398.6 1494.7 1397.2 1497.2 1396.0 1499.6 1395.0 1501.9 1394.2 1504.2 1393.7 1506.2 1393.5 1508.0 1393.7 1509.6 1394.2ZM1509.6 1396.3 1510.4 1397.5 1511.0 1398.9 1511.1 1400.5 1511.0 1402.4 1510.5 1404.5 1509.7 1406.7 1508.6 1409.0 1507.2 1411.3 1505.6 1413.6 1503.8 1415.9 1501.8 1418.1 1499.7 1420.3 1497.5 1422.3 1495.2 1424.2 1492.9 1426.0 1490.5 1427.6 1488.0 1429.1 1485.6 1430.2 1483.3 1431.0 1481.2 1431.4 1479.3 1431.4 1477.8 1431.0 1476.5 1430.2 1475.7 1429.1 1475.1 1427.7 1474.7 1426.2 1474.6 1424.5 1474.8 1422.8 1475.1 1420.8 1475.7 1418.8 1476.5 1416.6 1477.6 1414.3 1479.1 1411.9 1480.8 1409.6 1482.8 1407.2 1485.0 1405.0 1487.3 1403.0 1489.7 1401.1 1492.1 1399.5 1494.5 1398.1 1496.9 1397.0 1499.1 1396.0 1501.3 1395.4 1503.4 1394.9 1505.3 1394.8 1506.9 1395.0 1508.4 1395.5ZM1508.5 1397.3 1509.3 1398.5 1509.7 1399.9 1509.7 1401.5 1509.5 1403.3 1509.0 1405.2 1508.2 1407.3 1507.2 1409.4 1506.0 1411.5 1504.5 1413.7 1502.9 1415.8 1501.1 1417.9 1499.2 1419.9 1497.1 1421.8 1495.0 1423.7 1492.8 1425.4 1490.5 1426.9 1488.2 1428.2 1485.9 1429.3 1483.8 1430.0 1481.8 1430.4 1480.0 1430.4 1478.6 1429.9 1477.5 1429.2 1476.7 1428.1 1476.2 1426.8 1475.9 1425.4 1475.8 1423.8 1475.9 1422.2 1476.2 1420.4 1476.7 1418.5 1477.4 1416.5 1478.4 1414.3 1479.8 1412.1 1481.4 1409.9 1483.3 1407.7 1485.4 1405.6 1487.6 1403.8 1489.8 1402.1 1492.0 1400.6 1494.3 1399.3 1496.4 1398.2 1498.6 1397.2 1500.7 1396.5 1502.7 1396.0 1504.5 1395.8 1506.1 1396.0 1507.5 1396.5ZM1507.3 1398.5 1507.9 1399.6 1508.3 1400.9 1508.3 1402.5 1508.1 1404.1 1507.6 1405.9 1506.9 1407.8 1506.0 1409.8 1504.8 1411.7 1503.5 1413.7 1502.0 1415.7 1500.3 1417.6 1498.6 1419.5 1496.7 1421.3 1494.7 1423.0 1492.6 1424.6 1490.5 1426.0 1488.4 1427.2 1486.3 1428.1 1484.3 1428.8 1482.5 1429.1 1480.9 1429.0 1479.6 1428.7 1478.5 1428.0 1477.7 1427.1 1477.2 1425.9 1476.9 1424.7 1476.7 1423.3 1476.7 1421.7 1477.0 1420.1 1477.5 1418.3 1478.2 1416.4 1479.3 1414.3 1480.6 1412.3 1482.2 1410.2 1484.0 1408.3 1485.9 1406.4 1487.9 1404.7 1489.9 1403.2 1492.0 1401.8 1494.0 1400.5 1496.0 1399.4 1498.0 1398.5 1500.0 1397.7 1501.9 1397.3 1503.6 1397.1 1505.1 1397.2 1506.3 1397.7ZM1505.6 1400.2 1506.2 1401.1 1506.7 1402.2 1506.8 1403.5 1506.8 1405.0 1506.4 1406.6 1505.8 1408.3 1505.0 1410.1 1503.9 1412.0 1502.6 1413.8 1501.1 1415.6 1499.5 1417.4 1497.8 1419.0 1496.1 1420.6 1494.3 1422.1 1492.4 1423.5 1490.6 1424.8 1488.6 1426.0 1486.7 1426.9 1484.9 1427.6 1483.1 1428.0 1481.6 1428.0 1480.4 1427.6 1479.4 1427.0 1478.7 1426.1 1478.3 1425.0 1478.1 1423.8 1478.1 1422.4 1478.2 1421.0 1478.5 1419.5 1478.9 1417.9 1479.6 1416.1 1480.4 1414.3 1481.6 1412.5 1482.9 1410.6 1484.5 1408.8 1486.2 1407.0 1488.0 1405.4 1489.9 1403.9 1491.8 1402.6 1493.7 1401.5 1495.6 1400.6 1497.4 1399.8 1499.1 1399.3 1500.8 1399.0 1502.2 1398.9 1503.5 1399.1 1504.7 1399.5ZM1504.1 1401.7 1504.6 1402.5 1505.0 1403.5 1505.1 1404.7 1505.0 1406.0 1504.7 1407.4 1504.1 1409.0 1503.4 1410.6 1502.4 1412.2 1501.3 1413.9 1500.0 1415.5 1498.6 1417.1 1497.1 1418.6 1495.6 1420.0 1493.9 1421.4 1492.3 1422.7 1490.6 1423.8 1488.8 1424.8 1487.1 1425.6 1485.5 1426.1 1484.0 1426.4 1482.7 1426.4 1481.7 1426.1 1480.8 1425.5 1480.2 1424.7 1479.8 1423.8 1479.5 1422.7 1479.4 1421.6 1479.4 1420.4 1479.6 1419.0 1480.0 1417.6 1480.5 1416.0 1481.4 1414.4 1482.4 1412.7 1483.7 1411.0 1485.1 1409.4 1486.7 1407.8 1488.4 1406.4 1490.0 1405.1 1491.7 1404.0 1493.4 1403.0 1495.1 1402.1 1496.7 1401.4 1498.3 1400.9 1499.7 1400.6 1501.1 1400.5 1502.3 1400.6 1503.3 1401.0ZM1502.3 1403.4 1502.8 1404.1 1503.1 1405.0 1503.1 1406.0 1503.0 1407.2 1502.8 1408.4 1502.3 1409.7 1501.6 1411.1 1500.8 1412.5 1499.8 1414.0 1498.8 1415.4 1497.6 1416.7 1496.3 1418.0 1494.9 1419.3 1493.5 1420.5 1492.1 1421.6 1490.6 1422.6 1489.1 1423.4 1487.6 1424.1 1486.2 1424.6 1484.9 1424.8 1483.8 1424.8 1482.8 1424.5 1482.1 1424.1 1481.5 1423.4 1481.1 1422.6 1480.9 1421.7 1480.8 1420.7 1480.9 1419.6 1481.1 1418.4 1481.5 1417.1 1482.0 1415.8 1482.8 1414.4 1483.7 1412.9 1484.8 1411.5 1486.0 1410.1 1487.3 1408.8 1488.7 1407.5 1490.2 1406.4 1491.6 1405.4 1493.1 1404.5 1494.5 1403.7 1496.0 1403.0 1497.3 1402.6 1498.6 1402.3 1499.8 1402.3 1500.8 1402.4 1501.6 1402.8ZM1500.3 1405.3 1500.7 1405.9 1500.9 1406.6 1501.0 1407.5 1500.9 1408.5 1500.6 1409.5 1500.2 1410.6 1499.6 1411.8 1498.9 1412.9 1498.1 1414.1 1497.2 1415.2 1496.3 1416.3 1495.3 1417.4 1494.2 1418.4 1493.0 1419.4 1491.8 1420.3 1490.6 1421.2 1489.4 1421.9 1488.2 1422.4 1487.1 1422.8 1486.0 1422.9 1485.1 1422.9 1484.4 1422.6 1483.8 1422.2 1483.3 1421.7 1483.0 1421.1 1482.8 1420.3 1482.7 1419.5 1482.7 1418.7 1482.8 1417.7 1483.1 1416.7 1483.6 1415.6 1484.2 1414.4 1484.9 1413.2 1485.8 1412.0 1486.8 1410.9 1487.9 1409.8 1489.1 1408.8 1490.3 1407.9 1491.5 1407.1 1492.6 1406.4 1493.8 1405.8 1495.0 1405.3 1496.1 1404.9 1497.1 1404.7 1498.1 1404.6 1498.9 1404.7 1499.7 1404.9ZM1497.5 1408.0 1497.7 1408.5 1497.9 1409.0 1497.9 1409.6 1497.8 1410.3 1497.7 1411.0 1497.4 1411.8 1497.0 1412.6 1496.6 1413.4 1496.0 1414.2 1495.4 1415.0 1494.7 1415.8 1494.0 1416.6 1493.2 1417.3 1492.4 1418.0 1491.5 1418.6 1490.7 1419.2 1489.8 1419.7 1489.0 1420.0 1488.2 1420.3 1487.5 1420.4 1486.8 1420.4 1486.3 1420.2 1485.9 1419.9 1485.5 1419.6 1485.3 1419.1 1485.1 1418.6 1485.0 1418.1 1485.0 1417.5 1485.1 1416.8 1485.3 1416.1 1485.6 1415.3 1486.1 1414.4 1486.6 1413.6 1487.3 1412.8 1488.0 1411.9 1488.8 1411.2 1489.6 1410.5 1490.4 1409.9 1491.3 1409.3 1492.1 1408.8 1492.9 1408.3 1493.8 1407.9 1494.6 1407.7 1495.3 1407.5 1496.0 1407.4 1496.6 1407.5 1497.1 1407.7Z" fill="none" stroke="#000" stroke-width="0.90"/>
<path d="M1425.1 1470.6h1.1v1.1h-1.1zM1431.7 1463.6h1.1v1.1h-1.1zM1412.8 1466.2h1.1v1.1h-1.1zM1427.8 1466.6h1.1v1.1h-1.1zM1430.0 1452.8h1.1v1.1h-1.1zM1419.5 1460.7h1.1v1.1h-1.1zM1417.6 1469.1h1.1v1.1h-1.1zM1429.6 1459.3h1.1v1.1h-1.1zM1419.0 1467.7h1.1v1.1h-1.1zM1438.2 1467.6h1.1v1.1h-1.1z" fill="#000" fill-opacity="0.50"/>
<rect x="1437.50" y="1474.60" width="100.40" height="111.20" stroke="#555" stroke-width="1.30" fill="none"/>
<g transform="translate(1456.48 1558.70) scale(0.9261 1)"><text x="0.00" y="0.00" font-size="37.70">&lt;0.1</text></g>
<rect x="1554.20" y="1364.40" width="229.30" height="229.80" stroke="#555" stroke-width="1.30" fill="none"/><path d="M1548.7 1579.0H1554.2M1568.3 1594.2V1599.7M1548.7 1541.9H1554.2M1603.8 1594.2V1599.7M1548.7 1503.8H1554.2M1643.9 1594.2V1599.7M1548.7 1441.0H1554.2M1706.3 1594.2V1599.7M1548.7 1386.0H1554.2M1761.0 1594.2V1599.7" stroke="#000" stroke-width="1.8" fill="none"/><path d="M1551.0 1547.0H1554.2M1598.9 1594.2V1597.4M1551.0 1551.9H1554.2M1594.2 1594.2V1597.4M1551.0 1556.5H1554.2M1589.8 1594.2V1597.4M1551.0 1560.8H1554.2M1585.8 1594.2V1597.4M1551.0 1564.6H1554.2M1582.1 1594.2V1597.4M1551.0 1568.0H1554.2M1578.8 1594.2V1597.4M1551.0 1571.2H1554.2M1575.8 1594.2V1597.4M1551.0 1574.0H1554.2M1573.1 1594.2V1597.4M1551.0 1576.6H1554.2M1570.6 1594.2V1597.4M1551.0 1536.6H1554.2M1609.3 1594.2V1597.4M1551.0 1531.6H1554.2M1614.7 1594.2V1597.4M1551.0 1526.9H1554.2M1619.6 1594.2V1597.4M1551.0 1522.5H1554.2M1624.2 1594.2V1597.4M1551.0 1518.6H1554.2M1628.3 1594.2V1597.4M1551.0 1515.1H1554.2M1632.0 1594.2V1597.4M1551.0 1511.8H1554.2M1635.4 1594.2V1597.4M1551.0 1508.9H1554.2M1638.5 1594.2V1597.4M1551.0 1506.3H1554.2M1641.3 1594.2V1597.4M1551.0 1542.4H1554.2M1603.3 1594.2V1597.4M1551.0 1543.4H1554.2M1602.3 1594.2V1597.4M1551.0 1544.5H1554.2M1601.3 1594.2V1597.4M1551.0 1545.5H1554.2M1600.4 1594.2V1597.4M1551.0 1546.5H1554.2M1599.4 1594.2V1597.4M1551.0 1541.4H1554.2M1604.4 1594.2V1597.4M1551.0 1540.3H1554.2M1605.5 1594.2V1597.4M1551.0 1539.3H1554.2M1606.6 1594.2V1597.4M1551.0 1538.2H1554.2M1607.7 1594.2V1597.4M1551.0 1537.2H1554.2M1608.8 1594.2V1597.4M1551.0 1485.6H1554.2M1662.0 1594.2V1597.4M1551.0 1474.5H1554.2M1673.0 1594.2V1597.4M1551.0 1466.5H1554.2M1680.9 1594.2V1597.4M1551.0 1460.3H1554.2M1687.1 1594.2V1597.4M1551.0 1455.2H1554.2M1692.1 1594.2V1597.4M1551.0 1451.0H1554.2M1696.4 1594.2V1597.4M1551.0 1447.2H1554.2M1700.1 1594.2V1597.4M1551.0 1443.9H1554.2M1703.4 1594.2V1597.4M1551.0 1424.5H1554.2M1722.8 1594.2V1597.4M1551.0 1414.8H1554.2M1732.4 1594.2V1597.4M1551.0 1407.9H1554.2M1739.2 1594.2V1597.4M1551.0 1402.6H1554.2M1744.5 1594.2V1597.4M1551.0 1398.2H1554.2M1748.9 1594.2V1597.4M1551.0 1394.5H1554.2M1752.5 1594.2V1597.4M1551.0 1391.3H1554.2M1755.7 1594.2V1597.4M1551.0 1388.5H1554.2M1758.5 1594.2V1597.4M1551.0 1369.4H1554.2M1777.5 1594.2V1597.4" stroke="#000" stroke-width="1.1" fill="none"/>
<ellipse cx="1726.40" cy="1417.10" rx="20.40" ry="9.18" transform="rotate(-44.0 1726.40 1417.10)" fill="#000" fill-opacity="0.92"/><path d="M1716.4 1442.6h1.1v1.1h-1.1zM1693.7 1425.1h1.1v1.1h-1.1zM1705.9 1462.7h1.1v1.1h-1.1zM1709.8 1456.1h1.1v1.1h-1.1zM1719.7 1443.5h1.1v1.1h-1.1zM1736.0 1443.6h1.1v1.1h-1.1zM1713.2 1476.1h1.1v1.1h-1.1zM1708.3 1452.5h1.1v1.1h-1.1zM1704.3 1454.5h1.1v1.1h-1.1zM1688.2 1445.6h1.1v1.1h-1.1zM1726.4 1453.4h1.1v1.1h-1.1zM1707.0 1454.8h1.1v1.1h-1.1zM1713.6 1452.8h1.1v1.1h-1.1zM1715.4 1445.4h1.1v1.1h-1.1zM1717.3 1451.3h1.1v1.1h-1.1zM1699.5 1450.8h1.1v1.1h-1.1zM1699.4 1460.6h1.1v1.1h-1.1zM1709.2 1459.1h1.1v1.1h-1.1zM1698.3 1466.0h1.1v1.1h-1.1zM1706.4 1463.7h1.1v1.1h-1.1zM1718.0 1441.5h1.1v1.1h-1.1zM1712.7 1446.6h1.1v1.1h-1.1zM1713.5 1464.3h1.1v1.1h-1.1zM1716.3 1461.1h1.1v1.1h-1.1zM1697.7 1453.3h1.1v1.1h-1.1zM1713.0 1461.3h1.1v1.1h-1.1zM1703.3 1456.6h1.1v1.1h-1.1zM1699.1 1455.5h1.1v1.1h-1.1zM1697.7 1440.4h1.1v1.1h-1.1zM1718.4 1454.0h1.1v1.1h-1.1zM1707.1 1452.4h1.1v1.1h-1.1zM1705.4 1446.6h1.1v1.1h-1.1zM1704.8 1454.9h1.1v1.1h-1.1zM1722.7 1447.2h1.1v1.1h-1.1zM1708.8 1449.5h1.1v1.1h-1.1zM1696.8 1453.7h1.1v1.1h-1.1zM1718.1 1443.9h1.1v1.1h-1.1zM1717.8 1446.3h1.1v1.1h-1.1zM1721.0 1462.4h1.1v1.1h-1.1zM1706.0 1438.9h1.1v1.1h-1.1zM1696.3 1449.2h1.1v1.1h-1.1zM1723.1 1450.6h1.1v1.1h-1.1zM1703.4 1438.9h1.1v1.1h-1.1zM1714.7 1446.7h1.1v1.1h-1.1zM1709.0 1451.3h1.1v1.1h-1.1zM1707.6 1460.0h1.1v1.1h-1.1zM1714.3 1448.6h1.1v1.1h-1.1zM1711.0 1456.4h1.1v1.1h-1.1zM1723.2 1452.6h1.1v1.1h-1.1zM1723.9 1446.1h1.1v1.1h-1.1zM1707.1 1438.1h1.1v1.1h-1.1zM1717.7 1442.2h1.1v1.1h-1.1zM1699.1 1459.0h1.1v1.1h-1.1zM1704.1 1444.7h1.1v1.1h-1.1zM1719.0 1449.8h1.1v1.1h-1.1zM1718.7 1447.8h1.1v1.1h-1.1zM1716.7 1461.2h1.1v1.1h-1.1zM1710.3 1467.6h1.1v1.1h-1.1zM1705.5 1449.5h1.1v1.1h-1.1zM1710.2 1460.5h1.1v1.1h-1.1zM1706.6 1447.5h1.1v1.1h-1.1zM1712.0 1462.7h1.1v1.1h-1.1zM1705.3 1440.0h1.1v1.1h-1.1zM1708.1 1457.1h1.1v1.1h-1.1zM1704.0 1452.6h1.1v1.1h-1.1zM1690.8 1451.6h1.1v1.1h-1.1zM1710.5 1457.1h1.1v1.1h-1.1zM1712.5 1458.4h1.1v1.1h-1.1zM1699.5 1457.4h1.1v1.1h-1.1zM1692.9 1446.1h1.1v1.1h-1.1zM1720.5 1459.1h1.1v1.1h-1.1zM1690.9 1456.7h1.1v1.1h-1.1zM1705.1 1444.4h1.1v1.1h-1.1zM1711.5 1452.6h1.1v1.1h-1.1zM1723.4 1438.5h1.1v1.1h-1.1zM1705.2 1450.2h1.1v1.1h-1.1zM1691.0 1462.0h1.1v1.1h-1.1zM1727.0 1445.8h1.1v1.1h-1.1zM1713.3 1449.0h1.1v1.1h-1.1zM1712.2 1445.4h1.1v1.1h-1.1zM1717.8 1441.0h1.1v1.1h-1.1zM1723.1 1454.7h1.1v1.1h-1.1zM1733.7 1436.6h1.1v1.1h-1.1zM1708.5 1439.9h1.1v1.1h-1.1zM1708.1 1455.4h1.1v1.1h-1.1zM1700.3 1438.5h1.1v1.1h-1.1zM1692.1 1453.4h1.1v1.1h-1.1zM1722.2 1462.0h1.1v1.1h-1.1zM1709.8 1442.8h1.1v1.1h-1.1zM1705.8 1437.9h1.1v1.1h-1.1zM1693.7 1461.0h1.1v1.1h-1.1zM1706.7 1454.3h1.1v1.1h-1.1zM1706.7 1463.4h1.1v1.1h-1.1zM1723.8 1444.5h1.1v1.1h-1.1zM1705.8 1445.4h1.1v1.1h-1.1zM1722.6 1462.7h1.1v1.1h-1.1zM1706.5 1472.1h1.1v1.1h-1.1zM1709.7 1440.5h1.1v1.1h-1.1zM1689.1 1450.2h1.1v1.1h-1.1zM1712.7 1446.2h1.1v1.1h-1.1zM1713.1 1462.2h1.1v1.1h-1.1zM1708.9 1459.0h1.1v1.1h-1.1zM1726.1 1455.9h1.1v1.1h-1.1zM1703.6 1455.3h1.1v1.1h-1.1zM1714.8 1470.7h1.1v1.1h-1.1zM1705.1 1437.5h1.1v1.1h-1.1zM1712.4 1454.4h1.1v1.1h-1.1zM1705.3 1456.5h1.1v1.1h-1.1zM1712.6 1462.3h1.1v1.1h-1.1zM1701.1 1445.1h1.1v1.1h-1.1zM1709.2 1446.9h1.1v1.1h-1.1zM1722.2 1456.7h1.1v1.1h-1.1zM1709.2 1465.2h1.1v1.1h-1.1zM1714.5 1460.4h1.1v1.1h-1.1zM1717.5 1450.1h1.1v1.1h-1.1zM1708.0 1451.5h1.1v1.1h-1.1zM1698.5 1448.3h1.1v1.1h-1.1zM1718.0 1454.2h1.1v1.1h-1.1zM1700.0 1472.7h1.1v1.1h-1.1zM1699.1 1457.1h1.1v1.1h-1.1zM1716.7 1462.9h1.1v1.1h-1.1zM1700.9 1451.7h1.1v1.1h-1.1zM1707.5 1461.8h1.1v1.1h-1.1zM1713.4 1455.3h1.1v1.1h-1.1zM1715.0 1469.2h1.1v1.1h-1.1zM1716.4 1459.6h1.1v1.1h-1.1zM1700.4 1458.0h1.1v1.1h-1.1zM1697.3 1460.3h1.1v1.1h-1.1zM1711.3 1443.9h1.1v1.1h-1.1zM1698.5 1451.1h1.1v1.1h-1.1zM1711.2 1446.9h1.1v1.1h-1.1zM1706.8 1449.2h1.1v1.1h-1.1zM1704.8 1450.3h1.1v1.1h-1.1zM1712.8 1463.8h1.1v1.1h-1.1zM1716.6 1447.0h1.1v1.1h-1.1zM1726.4 1462.9h1.1v1.1h-1.1zM1707.8 1461.4h1.1v1.1h-1.1zM1705.1 1445.5h1.1v1.1h-1.1zM1703.2 1466.9h1.1v1.1h-1.1zM1711.9 1455.3h1.1v1.1h-1.1zM1711.2 1448.8h1.1v1.1h-1.1zM1715.4 1458.6h1.1v1.1h-1.1zM1730.3 1444.9h1.1v1.1h-1.1zM1726.0 1458.6h1.1v1.1h-1.1zM1693.5 1461.4h1.1v1.1h-1.1zM1726.9 1462.5h1.1v1.1h-1.1zM1713.3 1454.1h1.1v1.1h-1.1zM1691.1 1455.6h1.1v1.1h-1.1zM1712.7 1444.3h1.1v1.1h-1.1zM1712.8 1446.7h1.1v1.1h-1.1zM1733.4 1441.7h1.1v1.1h-1.1zM1701.7 1433.1h1.1v1.1h-1.1zM1706.6 1453.4h1.1v1.1h-1.1zM1710.6 1446.5h1.1v1.1h-1.1zM1719.1 1454.4h1.1v1.1h-1.1zM1722.2 1451.2h1.1v1.1h-1.1zM1692.7 1450.8h1.1v1.1h-1.1zM1700.1 1459.5h1.1v1.1h-1.1zM1704.0 1449.8h1.1v1.1h-1.1zM1706.1 1459.7h1.1v1.1h-1.1zM1704.2 1450.3h1.1v1.1h-1.1zM1711.5 1445.7h1.1v1.1h-1.1zM1706.8 1455.7h1.1v1.1h-1.1zM1705.9 1452.2h1.1v1.1h-1.1zM1708.3 1442.3h1.1v1.1h-1.1zM1696.7 1469.4h1.1v1.1h-1.1zM1723.4 1450.5h1.1v1.1h-1.1zM1719.1 1461.5h1.1v1.1h-1.1zM1719.2 1448.3h1.1v1.1h-1.1zM1695.3 1440.3h1.1v1.1h-1.1zM1707.2 1463.7h1.1v1.1h-1.1zM1725.2 1449.5h1.1v1.1h-1.1zM1706.3 1462.4h1.1v1.1h-1.1zM1730.2 1443.3h1.1v1.1h-1.1zM1714.4 1453.0h1.1v1.1h-1.1zM1706.5 1448.8h1.1v1.1h-1.1zM1706.4 1451.6h1.1v1.1h-1.1zM1694.4 1451.7h1.1v1.1h-1.1zM1717.6 1458.5h1.1v1.1h-1.1zM1717.6 1454.7h1.1v1.1h-1.1zM1711.7 1469.2h1.1v1.1h-1.1zM1708.0 1453.2h1.1v1.1h-1.1zM1722.2 1452.1h1.1v1.1h-1.1zM1696.9 1446.8h1.1v1.1h-1.1zM1705.5 1450.3h1.1v1.1h-1.1z" fill="#000"/><path d="M1752.4 1396.6h1.1v1.1h-1.1zM1758.1 1394.0h1.1v1.1h-1.1zM1752.6 1396.7h1.1v1.1h-1.1zM1759.6 1402.5h1.1v1.1h-1.1zM1751.6 1391.1h1.1v1.1h-1.1zM1761.5 1386.3h1.1v1.1h-1.1zM1756.0 1392.8h1.1v1.1h-1.1zM1754.9 1387.0h1.1v1.1h-1.1zM1754.9 1384.3h1.1v1.1h-1.1zM1760.6 1389.2h1.1v1.1h-1.1zM1755.4 1391.6h1.1v1.1h-1.1zM1755.6 1392.3h1.1v1.1h-1.1z" fill="#000"/><path d="M1746.7 1397.5 1747.7 1399.0 1748.3 1400.8 1748.6 1402.8 1748.5 1405.0 1748.2 1407.5 1747.4 1410.1 1746.3 1413.0 1744.7 1416.0 1742.8 1419.0 1740.5 1422.1 1737.9 1425.1 1735.0 1427.9 1732.1 1430.5 1729.0 1432.9 1725.9 1435.0 1722.8 1436.9 1719.8 1438.4 1716.9 1439.6 1714.1 1440.5 1711.5 1440.9 1709.2 1440.9 1707.3 1440.4 1705.6 1439.6 1704.4 1438.4 1703.5 1436.9 1702.9 1435.1 1702.6 1433.1 1702.6 1430.9 1702.9 1428.5 1703.6 1425.9 1704.6 1423.1 1706.2 1420.1 1708.1 1417.0 1710.4 1413.9 1713.1 1410.9 1715.9 1408.1 1718.9 1405.5 1722.0 1403.1 1725.1 1401.1 1728.2 1399.2 1731.2 1397.7 1734.1 1396.5 1736.9 1395.6 1739.4 1395.2 1741.8 1395.1 1743.8 1395.5 1745.4 1396.3ZM1746.0 1398.2 1746.8 1399.7 1747.3 1401.5 1747.5 1403.4 1747.4 1405.6 1747.0 1407.9 1746.3 1410.4 1745.3 1413.1 1743.9 1415.9 1742.0 1418.8 1739.8 1421.7 1737.4 1424.6 1734.7 1427.2 1731.9 1429.7 1729.0 1432.0 1726.0 1434.1 1723.1 1435.9 1720.2 1437.4 1717.3 1438.7 1714.6 1439.5 1712.1 1440.0 1709.9 1440.0 1708.0 1439.5 1706.5 1438.7 1705.4 1437.4 1704.6 1435.9 1704.1 1434.1 1703.9 1432.2 1704.0 1430.1 1704.3 1427.8 1704.9 1425.3 1705.9 1422.6 1707.3 1419.8 1709.1 1416.9 1711.3 1414.0 1713.8 1411.1 1716.6 1408.5 1719.4 1406.0 1722.3 1403.8 1725.3 1401.7 1728.2 1400.0 1731.1 1398.4 1733.9 1397.2 1736.6 1396.3 1739.1 1395.8 1741.4 1395.7 1743.3 1396.1 1744.8 1397.0ZM1745.2 1398.9 1746.1 1400.3 1746.6 1402.0 1746.7 1403.9 1746.6 1406.0 1746.2 1408.2 1745.5 1410.6 1744.4 1413.2 1743.0 1415.9 1741.3 1418.6 1739.3 1421.4 1736.9 1424.1 1734.4 1426.6 1731.7 1429.0 1728.9 1431.2 1726.2 1433.1 1723.4 1434.7 1720.6 1436.1 1718.0 1437.2 1715.5 1438.0 1713.1 1438.4 1711.0 1438.5 1709.1 1438.2 1707.6 1437.5 1706.4 1436.4 1705.6 1435.0 1705.1 1433.4 1704.9 1431.5 1705.0 1429.5 1705.4 1427.2 1706.1 1424.8 1707.1 1422.2 1708.5 1419.6 1710.2 1416.8 1712.3 1414.0 1714.6 1411.3 1717.2 1408.8 1719.9 1406.4 1722.6 1404.3 1725.4 1402.4 1728.2 1400.8 1730.9 1399.4 1733.5 1398.3 1736.1 1397.5 1738.4 1397.0 1740.6 1396.9 1742.5 1397.2 1744.0 1397.9ZM1744.0 1400.1 1744.8 1401.4 1745.3 1402.9 1745.5 1404.7 1745.5 1406.5 1745.2 1408.6 1744.7 1410.8 1743.8 1413.2 1742.5 1415.8 1740.8 1418.4 1738.8 1421.1 1736.6 1423.6 1734.1 1426.0 1731.5 1428.2 1728.9 1430.2 1726.3 1431.9 1723.7 1433.5 1721.1 1434.8 1718.6 1435.9 1716.2 1436.7 1714.0 1437.2 1712.0 1437.2 1710.3 1436.8 1708.9 1436.0 1707.9 1435.0 1707.2 1433.6 1706.8 1432.1 1706.5 1430.4 1706.5 1428.5 1706.7 1426.5 1707.2 1424.3 1708.1 1421.9 1709.3 1419.3 1711.0 1416.7 1713.0 1414.0 1715.3 1411.5 1717.8 1409.1 1720.4 1406.9 1723.0 1405.0 1725.6 1403.2 1728.2 1401.7 1730.7 1400.4 1733.2 1399.3 1735.6 1398.5 1737.9 1398.0 1739.9 1398.0 1741.6 1398.3 1743.0 1399.0ZM1743.1 1401.0 1743.8 1402.2 1744.2 1403.7 1744.4 1405.3 1744.3 1407.1 1744.0 1409.1 1743.4 1411.2 1742.6 1413.4 1741.4 1415.8 1739.9 1418.2 1738.1 1420.6 1736.0 1423.0 1733.7 1425.3 1731.3 1427.4 1728.9 1429.3 1726.4 1431.0 1724.0 1432.5 1721.5 1433.7 1719.2 1434.7 1716.9 1435.4 1714.9 1435.8 1713.0 1435.8 1711.4 1435.4 1710.2 1434.7 1709.2 1433.7 1708.5 1432.5 1708.1 1431.0 1707.9 1429.4 1708.0 1427.6 1708.2 1425.7 1708.7 1423.6 1709.6 1421.4 1710.7 1419.0 1712.2 1416.6 1714.1 1414.1 1716.2 1411.7 1718.5 1409.5 1720.9 1407.4 1723.3 1405.5 1725.8 1403.9 1728.2 1402.4 1730.6 1401.2 1733.0 1400.2 1735.2 1399.5 1737.3 1399.1 1739.2 1399.0 1740.8 1399.3 1742.1 1400.0ZM1742.2 1401.9 1742.8 1403.1 1743.2 1404.4 1743.3 1406.0 1743.2 1407.6 1743.0 1409.5 1742.4 1411.4 1741.6 1413.5 1740.5 1415.7 1739.1 1418.0 1737.4 1420.2 1735.4 1422.4 1733.3 1424.5 1731.1 1426.4 1728.8 1428.1 1726.6 1429.6 1724.3 1430.9 1722.1 1432.1 1720.0 1433.0 1717.9 1433.8 1715.9 1434.2 1714.1 1434.3 1712.6 1434.0 1711.4 1433.4 1710.4 1432.5 1709.8 1431.3 1709.5 1430.0 1709.3 1428.4 1709.4 1426.8 1709.7 1425.0 1710.2 1423.0 1710.9 1420.9 1712.0 1418.7 1713.4 1416.5 1715.1 1414.2 1717.1 1412.0 1719.2 1409.9 1721.5 1408.0 1723.7 1406.3 1726.0 1404.9 1728.2 1403.5 1730.4 1402.4 1732.6 1401.5 1734.7 1400.7 1736.6 1400.3 1738.4 1400.2 1740.0 1400.4 1741.2 1401.0ZM1740.9 1403.1 1741.5 1404.1 1741.9 1405.4 1742.1 1406.7 1742.0 1408.2 1741.8 1409.9 1741.3 1411.7 1740.5 1413.6 1739.5 1415.6 1738.2 1417.7 1736.6 1419.8 1734.8 1421.8 1732.9 1423.7 1730.9 1425.4 1728.8 1427.0 1726.7 1428.4 1724.7 1429.6 1722.7 1430.7 1720.7 1431.5 1718.8 1432.1 1717.1 1432.4 1715.5 1432.5 1714.1 1432.2 1713.0 1431.7 1712.1 1430.9 1711.5 1429.8 1711.1 1428.6 1710.9 1427.3 1710.9 1425.8 1711.2 1424.1 1711.7 1422.4 1712.4 1420.4 1713.4 1418.4 1714.7 1416.3 1716.3 1414.3 1718.1 1412.2 1720.0 1410.4 1722.1 1408.6 1724.1 1407.1 1726.2 1405.7 1728.3 1404.5 1730.3 1403.4 1732.2 1402.6 1734.1 1402.0 1735.9 1401.7 1737.5 1401.6 1738.8 1401.8 1740.0 1402.4ZM1739.5 1404.5 1740.0 1405.4 1740.3 1406.5 1740.4 1407.7 1740.5 1409.0 1740.3 1410.5 1739.9 1412.1 1739.2 1413.8 1738.3 1415.6 1737.1 1417.4 1735.7 1419.3 1734.1 1421.1 1732.4 1422.7 1730.6 1424.3 1728.8 1425.7 1726.9 1427.0 1725.1 1428.2 1723.2 1429.2 1721.4 1430.0 1719.7 1430.5 1718.1 1430.8 1716.8 1430.8 1715.6 1430.4 1714.7 1429.9 1714.0 1429.1 1713.5 1428.1 1713.1 1427.1 1712.9 1425.9 1712.9 1424.6 1713.1 1423.1 1713.5 1421.6 1714.1 1419.9 1715.0 1418.0 1716.2 1416.2 1717.6 1414.3 1719.2 1412.6 1721.0 1410.9 1722.8 1409.3 1724.6 1407.9 1726.4 1406.6 1728.3 1405.5 1730.1 1404.5 1731.9 1403.7 1733.7 1403.1 1735.2 1402.8 1736.6 1402.8 1737.8 1403.1 1738.8 1403.7ZM1738.0 1405.8 1738.5 1406.6 1738.9 1407.5 1739.0 1408.6 1739.0 1409.7 1738.8 1411.0 1738.4 1412.4 1737.8 1413.9 1737.0 1415.5 1736.0 1417.1 1734.8 1418.7 1733.4 1420.3 1731.9 1421.7 1730.4 1423.1 1728.8 1424.3 1727.1 1425.4 1725.5 1426.4 1724.0 1427.2 1722.5 1427.8 1721.0 1428.2 1719.7 1428.5 1718.5 1428.5 1717.4 1428.3 1716.6 1427.8 1715.9 1427.2 1715.4 1426.5 1715.1 1425.6 1714.9 1424.5 1714.9 1423.4 1715.0 1422.1 1715.4 1420.7 1716.0 1419.2 1716.8 1417.6 1717.8 1416.0 1719.0 1414.4 1720.4 1412.9 1721.9 1411.4 1723.5 1410.0 1725.1 1408.8 1726.7 1407.8 1728.3 1406.8 1729.9 1406.0 1731.4 1405.4 1732.8 1405.0 1734.2 1404.7 1735.4 1404.7 1736.5 1404.9 1737.3 1405.3ZM1736.3 1407.5 1736.7 1408.2 1736.9 1408.9 1737.1 1409.8 1737.0 1410.7 1736.9 1411.8 1736.6 1412.9 1736.1 1414.1 1735.4 1415.4 1734.6 1416.7 1733.6 1418.0 1732.5 1419.3 1731.3 1420.5 1730.0 1421.6 1728.7 1422.6 1727.4 1423.5 1726.1 1424.3 1724.8 1424.9 1723.6 1425.4 1722.4 1425.8 1721.3 1426.0 1720.3 1426.0 1719.4 1425.8 1718.7 1425.5 1718.2 1425.0 1717.8 1424.4 1717.5 1423.6 1717.4 1422.8 1717.4 1421.8 1717.6 1420.8 1717.9 1419.6 1718.3 1418.4 1719.0 1417.2 1719.8 1415.8 1720.8 1414.5 1721.9 1413.2 1723.1 1412.0 1724.4 1410.9 1725.7 1409.9 1727.0 1409.1 1728.4 1408.3 1729.6 1407.7 1730.9 1407.2 1732.0 1406.8 1733.1 1406.6 1734.1 1406.6 1735.0 1406.7 1735.7 1407.0ZM1734.0 1409.7 1734.2 1410.2 1734.4 1410.8 1734.5 1411.4 1734.5 1412.0 1734.4 1412.8 1734.2 1413.5 1733.8 1414.4 1733.4 1415.3 1732.8 1416.2 1732.1 1417.1 1731.3 1418.0 1730.5 1418.9 1729.6 1419.7 1728.6 1420.4 1727.7 1421.0 1726.8 1421.6 1725.9 1422.1 1725.0 1422.5 1724.1 1422.8 1723.3 1422.9 1722.6 1422.9 1722.0 1422.7 1721.6 1422.5 1721.2 1422.1 1721.0 1421.6 1720.8 1421.0 1720.7 1420.4 1720.7 1419.8 1720.8 1419.1 1721.0 1418.3 1721.3 1417.4 1721.8 1416.5 1722.4 1415.6 1723.1 1414.7 1723.9 1413.8 1724.7 1412.9 1725.6 1412.2 1726.5 1411.4 1727.5 1410.8 1728.4 1410.2 1729.3 1409.7 1730.2 1409.3 1731.1 1409.1 1731.9 1408.9 1732.6 1408.9 1733.2 1409.1 1733.6 1409.3Z" fill="none" stroke="#000" stroke-width="0.90"/>
<path d="M1640.0 1507.3h1.1v1.1h-1.1zM1643.2 1500.8h1.1v1.1h-1.1zM1605.7 1511.0h1.1v1.1h-1.1zM1640.7 1497.7h1.1v1.1h-1.1zM1621.4 1513.9h1.1v1.1h-1.1zM1625.8 1498.6h1.1v1.1h-1.1zM1626.1 1525.6h1.1v1.1h-1.1zM1622.7 1476.5h1.1v1.1h-1.1zM1629.8 1491.7h1.1v1.1h-1.1zM1609.8 1502.9h1.1v1.1h-1.1zM1624.0 1510.2h1.1v1.1h-1.1zM1626.3 1513.2h1.1v1.1h-1.1zM1641.9 1501.6h1.1v1.1h-1.1zM1639.3 1519.3h1.1v1.1h-1.1zM1638.3 1487.1h1.1v1.1h-1.1zM1631.0 1503.3h1.1v1.1h-1.1zM1644.9 1500.0h1.1v1.1h-1.1zM1643.5 1500.0h1.1v1.1h-1.1zM1630.4 1498.9h1.1v1.1h-1.1zM1630.2 1499.8h1.1v1.1h-1.1zM1634.0 1493.6h1.1v1.1h-1.1zM1617.5 1500.3h1.1v1.1h-1.1z" fill="#000" fill-opacity="0.50"/>
<rect x="1678.70" y="1475.00" width="100.40" height="110.80" stroke="#555" stroke-width="1.30" fill="none"/>
<g transform="translate(1697.65 1558.70) scale(0.9389 1)"><text x="0.00" y="0.00" font-size="37.70">&lt;0.1</text></g>
<g transform="translate(1308.43 1657.90) scale(0.9981 1)"><text x="0.00" y="0.00" font-size="36.80">CD8</text><text x="73.62" y="0.00" font-size="36.80" font-family="Liberation Serif, serif">α</text><text x="92.90" y="0.00" font-size="36.80">-PE</text></g>
<line x1="1473.20" y1="1649.00" x2="1774.20" y2="1649.00" stroke="#000" stroke-width="1.60"/><polygon points="1772.20,1655.50 1775.20,1649.00 1772.20,1642.50 1786.20,1649.00" fill="#000"/>
<g transform="translate(1265.00 1601.23) rotate(-90) scale(0.9762 1)"><text x="0.00" y="0.00" font-size="37.00">CD8</text><text x="74.02" y="0.00" font-size="37.00" font-family="Liberation Serif, serif">β</text><text x="92.84" y="0.00" font-size="37.00">-eF450→</text></g>
<line x1="1966.60" y1="1040.55" x2="1966.60" y2="1273.40" stroke="#000" stroke-width="3.00"/>
<line x1="1959.70" y1="1272.40" x2="2106.60" y2="1272.40" stroke="#000" stroke-width="1.60"/>
<line x1="1960.00" y1="1272.40" x2="1966.60" y2="1272.40" stroke="#000" stroke-width="2.40"/>
<g transform="translate(1935.00 1281.40) scale(1.0000 1)"><text x="0.00" y="0.00" font-size="29.00">0</text></g>
<line x1="1960.00" y1="1195.45" x2="1966.60" y2="1195.45" stroke="#000" stroke-width="2.40"/>
<g transform="translate(1919.80 1204.45) scale(1.0000 1)"><text x="0.00" y="0.00" font-size="29.00">0.5</text></g>
<line x1="1960.00" y1="1118.50" x2="1966.60" y2="1118.50" stroke="#000" stroke-width="2.40"/>
<g transform="translate(1919.72 1127.50) scale(1.0000 1)"><text x="0.00" y="0.00" font-size="29.00">1.0</text></g>
<line x1="1960.00" y1="1041.55" x2="1966.60" y2="1041.55" stroke="#000" stroke-width="2.40"/>
<g transform="translate(1919.80 1054.55) scale(1.0000 1)"><text x="0.00" y="0.00" font-size="29.00">1.5</text></g>
<g transform="translate(1978.14 1038.70) scale(0.9616 1)"><text x="0.00" y="0.00" font-size="29.00" font-style="italic">P</text><text x="19.34" y="0.00" font-size="29.00"> = 0.8604</text></g>
<line x1="1996.00" y1="1053.30" x2="2059.80" y2="1053.30" stroke="#000" stroke-width="1.60"/>
<circle cx="2006.80" cy="1070.50" r="9.40" stroke="#2424a8" stroke-width="1.80" fill="none"/>
<circle cx="2006.80" cy="1152.00" r="9.40" stroke="#2424a8" stroke-width="1.80" fill="none"/>
<circle cx="2002.00" cy="1187.60" r="9.40" stroke="#2424a8" stroke-width="1.80" fill="none"/>
<circle cx="2011.70" cy="1193.30" r="9.40" stroke="#2424a8" stroke-width="1.80" fill="none"/>
<circle cx="2006.80" cy="1203.80" r="9.40" stroke="#2424a8" stroke-width="1.80" fill="none"/>
<line x1="1982.30" y1="1161.80" x2="2031.30" y2="1161.80" stroke="#2424a8" stroke-width="1.80"/><line x1="2006.80" y1="1137.60" x2="2006.80" y2="1186.00" stroke="#2424a8" stroke-width="1.80"/><line x1="1996.30" y1="1137.60" x2="2017.30" y2="1137.60" stroke="#2424a8" stroke-width="1.80"/><line x1="1996.30" y1="1186.00" x2="2017.30" y2="1186.00" stroke="#2424a8" stroke-width="1.80"/>
<rect x="2041.40" y="1108.10" width="19.60" height="19.60" stroke="#d42a2a" stroke-width="1.80" fill="none"/>
<rect x="2067.20" y="1111.20" width="19.60" height="19.60" stroke="#d42a2a" stroke-width="1.80" fill="none"/>
<rect x="2072.10" y="1170.50" width="19.60" height="19.60" stroke="#d42a2a" stroke-width="1.80" fill="none"/>
<rect x="2046.80" y="1194.00" width="19.60" height="19.60" stroke="#d42a2a" stroke-width="1.80" fill="none"/>
<line x1="2042.10" y1="1155.80" x2="2091.10" y2="1155.80" stroke="#d42a2a" stroke-width="1.80"/><line x1="2066.60" y1="1134.30" x2="2066.60" y2="1177.00" stroke="#d42a2a" stroke-width="1.80"/><line x1="2056.60" y1="1134.30" x2="2076.60" y2="1134.30" stroke="#d42a2a" stroke-width="1.80"/><line x1="2056.60" y1="1177.00" x2="2076.60" y2="1177.00" stroke="#d42a2a" stroke-width="1.80"/>
<g transform="translate(1981.14 1305.50) scale(0.9943 1)"><text x="0.00" y="0.00" font-size="36.80">Ctrl</text></g>
<g transform="translate(2049.42 1305.50) scale(1.0188 1)"><text x="0.00" y="0.00" font-size="36.80">KO</text></g>
<g transform="translate(1872.50 1248.79) rotate(-90) scale(0.9525 1)"><text x="0.00" y="0.00" font-size="37.00">Tester-Comp.</text></g>
<g transform="translate(1916.00 1175.28) rotate(-90) scale(0.9269 1)"><text x="0.00" y="0.00" font-size="37.00">ratio</text></g>
<g transform="translate(-1.20 1329.50) scale(1.0235 1)"><text x="0.00" y="0.00" font-size="73.50">e</text></g>
<g transform="translate(182.48 1331.30) scale(0.9583 1)"><text x="0.00" y="0.00" font-size="37.50">CD8</text><text x="75.02" y="0.00" font-size="37.50" font-family="Liberation Serif, serif">αβ</text><text x="113.75" y="0.00" font-size="37.50"> Spleen T cell transfer: IEL progeny</text></g>
<line x1="61.00" y1="1349.70" x2="953.00" y2="1349.70" stroke="#000" stroke-width="1.60"/>
<g transform="translate(99.59 1392.20) scale(0.9530 1)"><text x="0.00" y="0.00" font-size="37.50">CD45.2</text><text x="127.15" y="-15.75" font-size="22.50">+</text><text x="140.29" y="0.00" font-size="37.50"> TCR</text><text x="227.78" y="0.00" font-size="37.50" font-family="Liberation Serif, serif">β</text><text x="246.86" y="-15.75" font-size="22.50">+</text><text x="260.00" y="0.00" font-size="37.50"> transferred cells</text></g>
<line x1="61.00" y1="1405.20" x2="635.00" y2="1405.20" stroke="#000" stroke-width="1.60"/>
<g transform="translate(52.90 1441.60) scale(0.9455 1)"><text x="0.00" y="0.00" font-size="37.50">Tester:</text></g>
<g transform="translate(243.13 1441.60) scale(0.9832 1)" fill="#1010f0"><text x="0.00" y="0.00" font-size="37.50">Ctrl</text></g>
<g transform="translate(473.84 1441.60) scale(1.0282 1)" fill="#d42a2a"><text x="0.00" y="0.00" font-size="37.50">KO</text></g>
<rect x="163.20" y="1454.20" width="229.40" height="229.30" stroke="#555" stroke-width="1.30" fill="none"/><path d="M157.7 1668.0H163.2M176.9 1683.5V1689.0M157.7 1630.4H163.2M215.0 1683.5V1689.0M157.7 1592.6H163.2M253.0 1683.5V1689.0M157.7 1530.0H163.2M315.0 1683.5V1689.0M157.7 1475.0H163.2M369.5 1683.5V1689.0" stroke="#000" stroke-width="1.8" fill="none"/><path d="M160.0 1635.6H163.2M209.7 1683.5V1686.7M160.0 1640.6H163.2M204.7 1683.5V1686.7M160.0 1645.2H163.2M200.0 1683.5V1686.7M160.0 1649.5H163.2M195.6 1683.5V1686.7M160.0 1653.4H163.2M191.7 1683.5V1686.7M160.0 1656.9H163.2M188.2 1683.5V1686.7M160.0 1660.1H163.2M184.9 1683.5V1686.7M160.0 1662.9H163.2M182.0 1683.5V1686.7M160.0 1665.6H163.2M179.4 1683.5V1686.7M160.0 1625.2H163.2M220.2 1683.5V1686.7M160.0 1620.2H163.2M225.3 1683.5V1686.7M160.0 1615.5H163.2M230.0 1683.5V1686.7M160.0 1611.2H163.2M234.3 1683.5V1686.7M160.0 1607.3H163.2M238.2 1683.5V1686.7M160.0 1603.8H163.2M241.8 1683.5V1686.7M160.0 1600.6H163.2M245.0 1683.5V1686.7M160.0 1597.7H163.2M247.9 1683.5V1686.7M160.0 1595.0H163.2M250.6 1683.5V1686.7M160.0 1630.9H163.2M214.5 1683.5V1686.7M160.0 1632.0H163.2M213.4 1683.5V1686.7M160.0 1633.0H163.2M212.4 1683.5V1686.7M160.0 1634.0H163.2M211.3 1683.5V1686.7M160.0 1635.1H163.2M210.3 1683.5V1686.7M160.0 1629.9H163.2M215.5 1683.5V1686.7M160.0 1628.8H163.2M216.6 1683.5V1686.7M160.0 1627.8H163.2M217.6 1683.5V1686.7M160.0 1626.7H163.2M218.7 1683.5V1686.7M160.0 1625.7H163.2M219.7 1683.5V1686.7M160.0 1574.4H163.2M271.0 1683.5V1686.7M160.0 1563.4H163.2M281.9 1683.5V1686.7M160.0 1555.4H163.2M289.8 1683.5V1686.7M160.0 1549.3H163.2M295.9 1683.5V1686.7M160.0 1544.2H163.2M300.9 1683.5V1686.7M160.0 1539.9H163.2M305.2 1683.5V1686.7M160.0 1536.2H163.2M308.9 1683.5V1686.7M160.0 1532.9H163.2M312.1 1683.5V1686.7M160.0 1513.5H163.2M331.4 1683.5V1686.7M160.0 1503.8H163.2M341.0 1683.5V1686.7M160.0 1496.9H163.2M347.8 1683.5V1686.7M160.0 1491.6H163.2M353.1 1683.5V1686.7M160.0 1487.2H163.2M357.4 1683.5V1686.7M160.0 1483.5H163.2M361.1 1683.5V1686.7M160.0 1480.3H163.2M364.2 1683.5V1686.7M160.0 1477.5H163.2M367.0 1683.5V1686.7M160.0 1458.4H163.2M385.9 1683.5V1686.7" stroke="#000" stroke-width="1.1" fill="none"/><g transform="translate(125.48 1485.80) scale(1.0000 1)"><text x="0.00" y="0.00" font-size="20.80">10</text></g><g transform="translate(144.41 1474.30) scale(1.0000 1)"><text x="0.00" y="0.00" font-size="20.80">5</text></g><g transform="translate(125.48 1540.80) scale(1.0000 1)"><text x="0.00" y="0.00" font-size="20.80">10</text></g><g transform="translate(144.14 1529.30) scale(1.0000 1)"><text x="0.00" y="0.00" font-size="20.80">4</text></g><g transform="translate(125.48 1603.40) scale(1.0000 1)"><text x="0.00" y="0.00" font-size="20.80">10</text></g><g transform="translate(144.45 1591.90) scale(1.0000 1)"><text x="0.00" y="0.00" font-size="20.80">3</text></g><g transform="translate(140.64 1641.40) scale(1.0000 1)"><text x="0.00" y="0.00" font-size="20.80">0</text></g><g transform="translate(118.55 1682.00) scale(1.0000 1)"><text x="0.00" y="0.00" font-size="20.80">-10</text></g><g transform="translate(144.45 1670.80) scale(1.0000 1)"><text x="0.00" y="0.00" font-size="20.80">3</text></g><g transform="translate(245.92 1715.30) scale(1.0000 1)"><text x="0.00" y="0.00" font-size="20.80">10</text></g><g transform="translate(266.95 1706.80) scale(1.0000 1)"><text x="0.00" y="0.00" font-size="20.80">3</text></g><g transform="translate(308.92 1715.30) scale(1.0000 1)"><text x="0.00" y="0.00" font-size="20.80">10</text></g><g transform="translate(330.26 1706.80) scale(1.0000 1)"><text x="0.00" y="0.00" font-size="20.80">4</text></g><g transform="translate(358.72 1715.30) scale(1.0000 1)"><text x="0.00" y="0.00" font-size="20.80">10</text></g><g transform="translate(379.71 1706.80) scale(1.0000 1)"><text x="0.00" y="0.00" font-size="20.80">5</text></g><g transform="translate(165.68 1715.30) scale(1.0000 1)"><text x="0.00" y="0.00" font-size="20.80">-10</text></g><g transform="translate(193.63 1706.80) scale(1.0000 1)"><text x="0.00" y="0.00" font-size="20.80">3</text></g><g transform="translate(210.22 1715.30) scale(1.0000 1)"><text x="0.00" y="0.00" font-size="20.80">0</text></g>
<path d="M344.0 1534.9h1.1v1.1h-1.1zM337.2 1531.5h1.1v1.1h-1.1zM329.2 1525.6h1.1v1.1h-1.1zM358.4 1556.1h1.1v1.1h-1.1zM348.9 1534.1h1.1v1.1h-1.1zM348.0 1536.3h1.1v1.1h-1.1zM346.6 1537.2h1.1v1.1h-1.1zM357.3 1529.9h1.1v1.1h-1.1zM355.0 1523.8h1.1v1.1h-1.1zM345.4 1531.9h1.1v1.1h-1.1zM339.8 1532.0h1.1v1.1h-1.1zM346.3 1534.3h1.1v1.1h-1.1zM355.9 1555.6h1.1v1.1h-1.1zM341.3 1534.3h1.1v1.1h-1.1zM327.4 1539.8h1.1v1.1h-1.1zM348.1 1534.8h1.1v1.1h-1.1zM352.4 1544.3h1.1v1.1h-1.1zM355.9 1533.6h1.1v1.1h-1.1z" fill="#000"/><path d="M321.5 1586.7h1.1v1.1h-1.1zM311.5 1575.4h1.1v1.1h-1.1zM320.5 1584.9h1.1v1.1h-1.1zM317.9 1581.8h1.1v1.1h-1.1zM332.4 1588.7h1.1v1.1h-1.1zM325.0 1587.9h1.1v1.1h-1.1zM331.4 1588.6h1.1v1.1h-1.1zM320.3 1581.1h1.1v1.1h-1.1zM334.3 1583.2h1.1v1.1h-1.1zM325.9 1583.4h1.1v1.1h-1.1zM339.3 1581.0h1.1v1.1h-1.1zM324.1 1589.6h1.1v1.1h-1.1zM323.0 1586.8h1.1v1.1h-1.1zM326.1 1584.0h1.1v1.1h-1.1zM333.3 1587.2h1.1v1.1h-1.1zM325.0 1585.7h1.1v1.1h-1.1zM329.6 1587.9h1.1v1.1h-1.1zM336.7 1583.7h1.1v1.1h-1.1zM319.7 1577.8h1.1v1.1h-1.1zM328.3 1586.0h1.1v1.1h-1.1zM323.7 1586.9h1.1v1.1h-1.1zM323.1 1580.3h1.1v1.1h-1.1zM320.0 1585.5h1.1v1.1h-1.1zM324.2 1579.1h1.1v1.1h-1.1zM334.5 1584.5h1.1v1.1h-1.1zM324.4 1586.1h1.1v1.1h-1.1zM328.2 1581.7h1.1v1.1h-1.1zM313.8 1580.5h1.1v1.1h-1.1zM326.7 1587.8h1.1v1.1h-1.1zM321.4 1581.9h1.1v1.1h-1.1zM317.1 1576.4h1.1v1.1h-1.1zM331.7 1587.4h1.1v1.1h-1.1zM322.6 1583.3h1.1v1.1h-1.1zM321.9 1586.3h1.1v1.1h-1.1zM328.2 1586.4h1.1v1.1h-1.1zM319.4 1579.3h1.1v1.1h-1.1zM327.1 1585.2h1.1v1.1h-1.1zM325.5 1585.9h1.1v1.1h-1.1zM320.4 1583.2h1.1v1.1h-1.1zM333.5 1582.3h1.1v1.1h-1.1zM323.9 1586.2h1.1v1.1h-1.1zM326.5 1585.1h1.1v1.1h-1.1zM329.6 1586.5h1.1v1.1h-1.1zM320.5 1580.9h1.1v1.1h-1.1zM323.8 1589.8h1.1v1.1h-1.1zM323.1 1584.6h1.1v1.1h-1.1zM329.3 1588.1h1.1v1.1h-1.1zM334.0 1583.6h1.1v1.1h-1.1z" fill="#000"/><path d="M324.0 1580.2h1.1v1.1h-1.1zM355.2 1556.7h1.1v1.1h-1.1zM332.0 1523.7h1.1v1.1h-1.1zM355.7 1549.4h1.1v1.1h-1.1z" fill="#000"/><path d="M354.4 1565.1 353.2 1568.3 351.7 1571.3 350.0 1574.1 348.1 1576.7 346.0 1579.0 343.8 1581.1 341.4 1582.8 338.9 1584.2 336.3 1585.2 333.7 1585.6 331.2 1585.5 328.8 1584.8 326.6 1583.6 324.6 1582.0 322.9 1580.0 321.5 1577.8 320.3 1575.3 319.2 1572.7 318.5 1569.8 318.0 1566.8 317.7 1563.7 317.9 1560.4 318.4 1557.0 319.3 1553.8 320.6 1550.6 322.2 1547.6 324.0 1544.9 326.0 1542.5 328.1 1540.3 330.3 1538.3 332.7 1536.6 335.2 1535.2 337.7 1534.1 340.3 1533.6 342.8 1533.5 345.3 1534.0 347.6 1535.0 349.6 1536.6 351.3 1538.6 352.8 1540.9 354.0 1543.5 354.9 1546.2 355.5 1549.2 355.9 1552.2 356.0 1555.4 355.8 1558.6 355.2 1561.9ZM353.8 1565.1 352.7 1568.1 351.3 1571.0 349.6 1573.7 347.7 1576.2 345.7 1578.5 343.5 1580.4 341.2 1582.1 338.7 1583.3 336.3 1584.2 333.8 1584.6 331.3 1584.5 329.0 1583.8 326.9 1582.7 325.0 1581.2 323.4 1579.4 321.9 1577.2 320.7 1574.9 319.7 1572.4 318.9 1569.6 318.4 1566.7 318.2 1563.6 318.4 1560.4 318.9 1557.2 319.8 1554.0 321.1 1551.0 322.6 1548.1 324.4 1545.5 326.3 1543.1 328.3 1541.0 330.5 1539.1 332.8 1537.4 335.2 1536.1 337.6 1535.1 340.1 1534.5 342.6 1534.5 344.9 1535.0 347.1 1536.0 349.0 1537.5 350.7 1539.5 352.1 1541.7 353.2 1544.2 354.1 1546.8 354.8 1549.6 355.2 1552.5 355.3 1555.6 355.2 1558.7 354.7 1561.9ZM353.2 1565.0 352.1 1567.9 350.7 1570.7 349.1 1573.3 347.3 1575.7 345.3 1577.9 343.2 1579.8 340.9 1581.4 338.6 1582.7 336.2 1583.5 333.8 1583.9 331.5 1583.7 329.2 1583.1 327.2 1582.0 325.4 1580.4 323.9 1578.6 322.5 1576.6 321.3 1574.3 320.4 1571.9 319.6 1569.3 319.1 1566.5 318.9 1563.5 319.0 1560.5 319.6 1557.4 320.4 1554.3 321.6 1551.4 323.1 1548.6 324.8 1546.1 326.6 1543.8 328.5 1541.7 330.6 1539.7 332.8 1538.1 335.1 1536.7 337.5 1535.7 339.9 1535.2 342.3 1535.3 344.6 1535.9 346.6 1537.0 348.4 1538.6 350.0 1540.5 351.3 1542.6 352.4 1545.0 353.3 1547.5 353.9 1550.1 354.4 1552.9 354.6 1555.8 354.5 1558.8 354.0 1561.9ZM352.4 1564.8 351.4 1567.6 350.1 1570.4 348.6 1572.9 346.9 1575.3 345.0 1577.4 342.9 1579.2 340.7 1580.7 338.5 1581.8 336.2 1582.5 333.9 1582.7 331.7 1582.6 329.6 1582.0 327.6 1581.0 325.8 1579.6 324.3 1578.0 322.9 1576.1 321.7 1573.9 320.8 1571.6 320.1 1569.0 319.7 1566.3 319.5 1563.4 319.7 1560.5 320.2 1557.5 321.0 1554.6 322.2 1551.8 323.5 1549.1 325.1 1546.6 326.8 1544.4 328.7 1542.3 330.8 1540.5 332.9 1539.0 335.1 1537.8 337.4 1537.0 339.7 1536.5 342.0 1536.6 344.1 1537.1 346.1 1538.1 347.9 1539.5 349.5 1541.2 350.8 1543.2 351.9 1545.5 352.7 1547.9 353.3 1550.5 353.7 1553.2 353.8 1556.0 353.6 1558.9 353.2 1561.9ZM351.7 1564.7 350.7 1567.4 349.5 1570.0 348.0 1572.4 346.3 1574.6 344.5 1576.6 342.5 1578.3 340.5 1579.8 338.3 1580.9 336.1 1581.6 333.9 1582.0 331.8 1581.8 329.7 1581.2 327.9 1580.2 326.2 1578.9 324.8 1577.2 323.5 1575.3 322.4 1573.3 321.5 1571.1 320.8 1568.7 320.3 1566.1 320.1 1563.4 320.2 1560.5 320.7 1557.7 321.4 1554.8 322.6 1552.1 323.9 1549.6 325.5 1547.3 327.2 1545.2 329.1 1543.3 331.0 1541.7 333.0 1540.2 335.1 1539.0 337.3 1538.2 339.5 1537.7 341.7 1537.6 343.8 1538.0 345.7 1538.9 347.4 1540.3 348.9 1542.0 350.2 1544.0 351.2 1546.1 351.9 1548.5 352.5 1551.0 352.9 1553.6 353.0 1556.3 352.9 1559.0 352.4 1561.9ZM350.8 1564.5 349.8 1567.0 348.6 1569.4 347.2 1571.7 345.7 1573.9 344.0 1575.9 342.2 1577.6 340.2 1579.1 338.2 1580.2 336.1 1581.0 333.9 1581.3 331.9 1581.1 329.9 1580.5 328.2 1579.4 326.6 1578.1 325.2 1576.5 324.0 1574.7 323.0 1572.7 322.1 1570.6 321.5 1568.3 321.1 1565.9 320.9 1563.3 321.1 1560.6 321.5 1557.9 322.3 1555.2 323.3 1552.6 324.6 1550.2 326.0 1548.0 327.6 1545.9 329.3 1544.0 331.1 1542.3 333.1 1540.9 335.1 1539.8 337.2 1539.0 339.3 1538.6 341.4 1538.7 343.3 1539.2 345.2 1540.1 346.8 1541.4 348.2 1543.0 349.4 1544.8 350.4 1546.8 351.2 1549.0 351.8 1551.4 352.1 1553.9 352.2 1556.5 352.0 1559.2 351.5 1561.8ZM350.0 1564.3 349.1 1566.7 348.0 1569.1 346.7 1571.3 345.2 1573.3 343.6 1575.2 341.9 1576.8 340.0 1578.2 338.0 1579.3 336.0 1580.0 334.0 1580.2 332.0 1580.0 330.2 1579.4 328.6 1578.5 327.1 1577.2 325.8 1575.7 324.6 1574.0 323.6 1572.2 322.8 1570.1 322.2 1568.0 321.8 1565.6 321.6 1563.2 321.7 1560.6 322.2 1558.1 322.9 1555.5 323.9 1553.1 325.1 1550.8 326.5 1548.7 328.0 1546.7 329.6 1545.0 331.3 1543.4 333.2 1542.0 335.1 1540.9 337.1 1540.1 339.1 1539.7 341.1 1539.8 343.0 1540.3 344.7 1541.1 346.2 1542.4 347.5 1543.9 348.6 1545.7 349.6 1547.6 350.3 1549.7 350.9 1552.0 351.2 1554.3 351.3 1556.8 351.1 1559.3 350.7 1561.8ZM349.2 1564.2 348.4 1566.5 347.3 1568.7 346.1 1570.8 344.7 1572.8 343.2 1574.5 341.5 1576.0 339.7 1577.3 337.8 1578.2 335.9 1578.8 334.1 1579.0 332.3 1578.8 330.5 1578.2 329.0 1577.4 327.6 1576.2 326.3 1574.9 325.2 1573.3 324.3 1571.6 323.5 1569.7 322.9 1567.6 322.5 1565.4 322.3 1563.1 322.5 1560.7 322.9 1558.2 323.6 1555.8 324.5 1553.5 325.6 1551.4 326.9 1549.4 328.4 1547.5 329.9 1545.9 331.5 1544.4 333.3 1543.1 335.1 1542.1 337.0 1541.4 338.9 1541.0 340.7 1541.1 342.5 1541.5 344.1 1542.4 345.5 1543.5 346.8 1545.0 347.9 1546.6 348.7 1548.5 349.4 1550.4 349.9 1552.5 350.2 1554.7 350.3 1557.0 350.2 1559.4 349.8 1561.8ZM348.3 1564.0 347.5 1566.2 346.6 1568.3 345.4 1570.2 344.1 1572.0 342.6 1573.6 341.0 1575.0 339.4 1576.2 337.6 1577.0 335.9 1577.6 334.1 1577.8 332.4 1577.7 330.8 1577.2 329.3 1576.4 328.0 1575.4 326.8 1574.1 325.8 1572.6 324.9 1570.9 324.2 1569.1 323.7 1567.2 323.3 1565.1 323.2 1563.0 323.3 1560.7 323.7 1558.5 324.3 1556.2 325.2 1554.1 326.2 1552.0 327.4 1550.1 328.8 1548.4 330.2 1546.8 331.8 1545.5 333.4 1544.3 335.1 1543.4 336.8 1542.7 338.6 1542.4 340.3 1542.4 342.0 1542.8 343.5 1543.6 344.9 1544.7 346.0 1546.0 347.0 1547.6 347.8 1549.3 348.5 1551.2 348.9 1553.1 349.2 1555.2 349.3 1557.3 349.2 1559.5 348.9 1561.8ZM347.2 1563.8 346.5 1565.8 345.6 1567.7 344.5 1569.5 343.3 1571.2 342.0 1572.7 340.6 1574.0 339.1 1575.1 337.5 1576.0 335.8 1576.5 334.2 1576.7 332.6 1576.6 331.1 1576.1 329.7 1575.4 328.5 1574.4 327.4 1573.2 326.5 1571.8 325.7 1570.3 325.0 1568.6 324.5 1566.8 324.2 1564.9 324.1 1562.9 324.2 1560.8 324.6 1558.7 325.2 1556.6 326.0 1554.7 327.0 1552.8 328.0 1551.0 329.3 1549.4 330.6 1548.0 332.0 1546.6 333.5 1545.5 335.1 1544.6 336.7 1544.0 338.4 1543.7 340.0 1543.8 341.5 1544.2 342.9 1544.9 344.1 1545.9 345.2 1547.1 346.2 1548.6 346.9 1550.2 347.5 1551.9 347.9 1553.7 348.2 1555.6 348.3 1557.6 348.1 1559.7 347.8 1561.8ZM346.3 1563.6 345.6 1565.5 344.7 1567.2 343.7 1568.8 342.6 1570.3 341.4 1571.6 340.1 1572.8 338.7 1573.8 337.2 1574.6 335.7 1575.1 334.3 1575.3 332.8 1575.2 331.4 1574.9 330.2 1574.2 329.0 1573.3 328.0 1572.2 327.2 1570.9 326.5 1569.5 325.9 1568.0 325.4 1566.3 325.1 1564.6 325.0 1562.8 325.1 1560.9 325.4 1558.9 326.0 1557.0 326.7 1555.2 327.6 1553.5 328.6 1551.9 329.8 1550.5 331.0 1549.2 332.3 1548.0 333.7 1547.0 335.1 1546.2 336.6 1545.6 338.1 1545.3 339.5 1545.3 340.9 1545.7 342.2 1546.3 343.4 1547.2 344.3 1548.4 345.2 1549.7 345.9 1551.2 346.4 1552.7 346.8 1554.4 347.1 1556.1 347.2 1558.0 347.1 1559.8 346.8 1561.7ZM345.0 1563.4 344.4 1565.0 343.7 1566.6 342.8 1568.0 341.8 1569.4 340.7 1570.6 339.6 1571.7 338.3 1572.6 337.0 1573.3 335.7 1573.8 334.3 1573.9 333.0 1573.8 331.8 1573.4 330.7 1572.8 329.7 1571.9 328.9 1570.9 328.1 1569.8 327.4 1568.6 326.9 1567.3 326.4 1565.8 326.1 1564.3 326.0 1562.6 326.1 1560.9 326.4 1559.2 326.9 1557.5 327.6 1555.9 328.4 1554.3 329.3 1552.9 330.3 1551.6 331.4 1550.5 332.6 1549.4 333.8 1548.5 335.1 1547.8 336.4 1547.3 337.7 1547.1 339.0 1547.1 340.3 1547.4 341.4 1548.0 342.5 1548.8 343.4 1549.8 344.1 1550.9 344.7 1552.2 345.2 1553.6 345.6 1555.1 345.8 1556.7 345.9 1558.3 345.7 1560.0 345.5 1561.7ZM343.7 1563.1 343.2 1564.6 342.5 1565.9 341.8 1567.2 340.9 1568.4 340.0 1569.5 339.0 1570.4 337.9 1571.2 336.7 1571.8 335.6 1572.2 334.4 1572.3 333.3 1572.2 332.2 1571.9 331.3 1571.3 330.4 1570.6 329.7 1569.7 329.0 1568.7 328.5 1567.6 328.0 1566.4 327.7 1565.2 327.4 1563.9 327.3 1562.5 327.4 1561.0 327.6 1559.5 328.0 1558.0 328.5 1556.6 329.2 1555.3 330.0 1554.0 330.9 1552.9 331.9 1551.9 332.9 1551.0 334.0 1550.3 335.1 1549.6 336.2 1549.2 337.4 1548.9 338.5 1548.9 339.6 1549.2 340.6 1549.7 341.5 1550.4 342.3 1551.3 342.9 1552.4 343.4 1553.5 343.8 1554.8 344.1 1556.1 344.2 1557.4 344.3 1558.8 344.2 1560.2 344.0 1561.7ZM342.1 1562.8 341.7 1564.0 341.1 1565.1 340.5 1566.1 339.8 1567.1 339.0 1567.9 338.2 1568.7 337.3 1569.3 336.4 1569.8 335.5 1570.2 334.5 1570.3 333.6 1570.2 332.8 1569.9 332.0 1569.4 331.3 1568.8 330.7 1568.1 330.1 1567.4 329.7 1566.5 329.2 1565.6 328.9 1564.6 328.7 1563.5 328.6 1562.3 328.7 1561.1 328.9 1559.9 329.2 1558.7 329.7 1557.5 330.3 1556.4 331.0 1555.5 331.7 1554.6 332.5 1553.7 333.3 1553.0 334.2 1552.4 335.1 1551.8 336.0 1551.5 336.9 1551.3 337.9 1551.3 338.7 1551.5 339.5 1551.9 340.3 1552.5 340.9 1553.2 341.4 1554.1 341.9 1555.0 342.2 1555.9 342.5 1557.0 342.7 1558.1 342.7 1559.3 342.7 1560.5 342.5 1561.7ZM340.0 1562.5 339.7 1563.3 339.4 1564.1 338.9 1564.8 338.4 1565.4 337.9 1566.0 337.3 1566.6 336.6 1567.0 336.0 1567.3 335.3 1567.6 334.7 1567.7 334.0 1567.6 333.4 1567.5 332.9 1567.2 332.3 1566.8 331.9 1566.3 331.5 1565.7 331.2 1565.1 330.9 1564.4 330.7 1563.7 330.6 1562.9 330.5 1562.1 330.5 1561.2 330.7 1560.3 330.9 1559.5 331.3 1558.7 331.7 1557.9 332.2 1557.2 332.7 1556.6 333.2 1556.0 333.8 1555.5 334.4 1555.1 335.0 1554.7 335.7 1554.4 336.4 1554.3 337.0 1554.3 337.7 1554.4 338.2 1554.7 338.8 1555.1 339.2 1555.6 339.6 1556.2 339.9 1556.9 340.1 1557.6 340.3 1558.3 340.4 1559.1 340.4 1559.9 340.4 1560.8 340.3 1561.6Z" fill="none" stroke="#000" stroke-width="0.85"/>
<path d="M348.1 1582.7h1.1v1.1h-1.1zM350.6 1662.1h1.1v1.1h-1.1zM366.3 1642.9h1.1v1.1h-1.1zM354.3 1593.6h1.1v1.1h-1.1zM362.0 1614.5h1.1v1.1h-1.1zM346.4 1661.1h1.1v1.1h-1.1zM326.9 1606.8h1.1v1.1h-1.1zM361.8 1636.5h1.1v1.1h-1.1zM330.4 1614.4h1.1v1.1h-1.1zM337.8 1658.7h1.1v1.1h-1.1zM345.6 1674.2h1.1v1.1h-1.1zM334.8 1609.3h1.1v1.1h-1.1zM332.2 1634.6h1.1v1.1h-1.1zM367.0 1657.8h1.1v1.1h-1.1zM355.6 1669.4h1.1v1.1h-1.1zM334.5 1624.4h1.1v1.1h-1.1zM349.2 1674.3h1.1v1.1h-1.1zM349.2 1593.3h1.1v1.1h-1.1zM367.8 1605.4h1.1v1.1h-1.1zM364.9 1622.3h1.1v1.1h-1.1zM363.0 1605.9h1.1v1.1h-1.1zM340.1 1598.6h1.1v1.1h-1.1zM327.4 1641.5h1.1v1.1h-1.1zM359.7 1605.7h1.1v1.1h-1.1zM363.8 1641.4h1.1v1.1h-1.1zM358.8 1597.6h1.1v1.1h-1.1zM362.9 1621.8h1.1v1.1h-1.1zM366.2 1641.6h1.1v1.1h-1.1zM351.2 1671.4h1.1v1.1h-1.1zM330.6 1610.0h1.1v1.1h-1.1zM353.0 1668.1h1.1v1.1h-1.1zM369.3 1631.6h1.1v1.1h-1.1zM364.1 1637.7h1.1v1.1h-1.1zM339.6 1590.5h1.1v1.1h-1.1zM353.6 1667.4h1.1v1.1h-1.1zM340.8 1657.5h1.1v1.1h-1.1zM362.1 1666.1h1.1v1.1h-1.1zM368.4 1627.2h1.1v1.1h-1.1zM364.5 1650.0h1.1v1.1h-1.1zM360.6 1568.7h1.1v1.1h-1.1zM335.3 1654.5h1.1v1.1h-1.1zM365.0 1658.9h1.1v1.1h-1.1zM356.2 1661.4h1.1v1.1h-1.1zM334.1 1643.4h1.1v1.1h-1.1zM356.1 1584.0h1.1v1.1h-1.1zM360.2 1656.4h1.1v1.1h-1.1zM366.6 1604.6h1.1v1.1h-1.1zM333.8 1631.9h1.1v1.1h-1.1zM362.7 1588.3h1.1v1.1h-1.1zM329.2 1609.4h1.1v1.1h-1.1zM334.8 1615.7h1.1v1.1h-1.1zM361.7 1612.8h1.1v1.1h-1.1zM338.8 1675.0h1.1v1.1h-1.1zM328.4 1663.9h1.1v1.1h-1.1zM369.1 1624.9h1.1v1.1h-1.1zM362.1 1589.0h1.1v1.1h-1.1zM358.0 1655.1h1.1v1.1h-1.1zM363.6 1647.4h1.1v1.1h-1.1zM355.9 1597.8h1.1v1.1h-1.1zM331.0 1632.7h1.1v1.1h-1.1zM328.3 1605.9h1.1v1.1h-1.1zM367.0 1634.1h1.1v1.1h-1.1zM336.1 1663.9h1.1v1.1h-1.1zM366.0 1650.5h1.1v1.1h-1.1zM363.6 1640.3h1.1v1.1h-1.1zM364.8 1644.4h1.1v1.1h-1.1zM365.9 1628.2h1.1v1.1h-1.1zM345.4 1589.7h1.1v1.1h-1.1zM365.0 1663.7h1.1v1.1h-1.1zM358.5 1653.7h1.1v1.1h-1.1zM330.8 1612.1h1.1v1.1h-1.1zM339.0 1660.8h1.1v1.1h-1.1zM360.7 1581.6h1.1v1.1h-1.1zM364.0 1589.4h1.1v1.1h-1.1zM368.1 1607.9h1.1v1.1h-1.1zM341.4 1668.1h1.1v1.1h-1.1zM326.6 1635.1h1.1v1.1h-1.1zM334.6 1647.0h1.1v1.1h-1.1zM350.1 1578.5h1.1v1.1h-1.1zM361.9 1609.5h1.1v1.1h-1.1zM355.8 1594.5h1.1v1.1h-1.1zM348.3 1663.0h1.1v1.1h-1.1zM347.4 1667.8h1.1v1.1h-1.1zM354.5 1595.7h1.1v1.1h-1.1zM360.3 1578.8h1.1v1.1h-1.1zM330.6 1618.4h1.1v1.1h-1.1zM368.7 1643.8h1.1v1.1h-1.1zM333.5 1622.5h1.1v1.1h-1.1zM333.2 1662.2h1.1v1.1h-1.1z" fill="#000"/><path d="M353.8 1589.3h1.1v1.1h-1.1zM340.7 1587.9h1.1v1.1h-1.1zM341.5 1594.0h1.1v1.1h-1.1zM342.1 1588.3h1.1v1.1h-1.1zM340.5 1598.7h1.1v1.1h-1.1zM355.8 1587.5h1.1v1.1h-1.1zM338.7 1596.3h1.1v1.1h-1.1zM347.2 1585.7h1.1v1.1h-1.1zM334.5 1596.1h1.1v1.1h-1.1zM354.0 1587.2h1.1v1.1h-1.1zM354.6 1592.2h1.1v1.1h-1.1zM346.3 1588.6h1.1v1.1h-1.1zM346.5 1588.2h1.1v1.1h-1.1zM359.6 1587.8h1.1v1.1h-1.1zM338.0 1599.0h1.1v1.1h-1.1zM356.9 1587.0h1.1v1.1h-1.1zM337.7 1594.1h1.1v1.1h-1.1zM341.2 1587.6h1.1v1.1h-1.1zM350.8 1589.9h1.1v1.1h-1.1zM340.7 1596.6h1.1v1.1h-1.1zM346.1 1592.7h1.1v1.1h-1.1zM341.3 1587.8h1.1v1.1h-1.1zM348.4 1589.9h1.1v1.1h-1.1zM339.4 1595.0h1.1v1.1h-1.1zM340.6 1596.8h1.1v1.1h-1.1zM333.1 1598.9h1.1v1.1h-1.1zM343.3 1591.5h1.1v1.1h-1.1zM353.4 1588.3h1.1v1.1h-1.1zM354.9 1594.6h1.1v1.1h-1.1zM354.6 1588.2h1.1v1.1h-1.1zM343.1 1593.8h1.1v1.1h-1.1zM338.4 1595.4h1.1v1.1h-1.1zM340.8 1598.9h1.1v1.1h-1.1zM332.2 1599.2h1.1v1.1h-1.1zM358.0 1599.5h1.1v1.1h-1.1zM342.0 1590.9h1.1v1.1h-1.1zM352.8 1584.4h1.1v1.1h-1.1z" fill="#000"/><path d="M340.9 1660.7h1.1v1.1h-1.1zM344.9 1668.5h1.1v1.1h-1.1zM342.5 1660.1h1.1v1.1h-1.1zM349.4 1670.9h1.1v1.1h-1.1zM349.8 1672.0h1.1v1.1h-1.1zM352.4 1662.1h1.1v1.1h-1.1zM358.3 1660.5h1.1v1.1h-1.1zM342.2 1663.9h1.1v1.1h-1.1zM337.3 1657.6h1.1v1.1h-1.1zM343.1 1663.5h1.1v1.1h-1.1zM357.4 1668.9h1.1v1.1h-1.1zM347.8 1664.5h1.1v1.1h-1.1zM352.5 1659.8h1.1v1.1h-1.1zM355.2 1660.7h1.1v1.1h-1.1zM341.5 1665.0h1.1v1.1h-1.1zM357.4 1664.9h1.1v1.1h-1.1zM351.8 1663.7h1.1v1.1h-1.1zM344.9 1661.2h1.1v1.1h-1.1zM353.0 1663.5h1.1v1.1h-1.1zM360.7 1659.8h1.1v1.1h-1.1zM349.4 1664.6h1.1v1.1h-1.1zM353.9 1669.7h1.1v1.1h-1.1zM362.2 1653.7h1.1v1.1h-1.1zM354.4 1669.8h1.1v1.1h-1.1zM344.1 1663.2h1.1v1.1h-1.1zM352.3 1658.8h1.1v1.1h-1.1zM352.0 1666.4h1.1v1.1h-1.1zM358.0 1670.1h1.1v1.1h-1.1zM352.8 1665.8h1.1v1.1h-1.1zM347.7 1663.1h1.1v1.1h-1.1zM356.4 1667.3h1.1v1.1h-1.1zM353.2 1663.4h1.1v1.1h-1.1zM357.5 1658.0h1.1v1.1h-1.1zM345.3 1664.5h1.1v1.1h-1.1zM358.3 1657.5h1.1v1.1h-1.1zM341.2 1657.6h1.1v1.1h-1.1zM355.1 1667.4h1.1v1.1h-1.1zM361.4 1674.5h1.1v1.1h-1.1zM340.1 1662.6h1.1v1.1h-1.1zM349.8 1660.8h1.1v1.1h-1.1zM350.6 1661.7h1.1v1.1h-1.1zM338.2 1666.3h1.1v1.1h-1.1zM353.9 1661.3h1.1v1.1h-1.1zM332.6 1652.2h1.1v1.1h-1.1zM338.7 1665.3h1.1v1.1h-1.1zM354.6 1663.8h1.1v1.1h-1.1zM352.2 1660.1h1.1v1.1h-1.1zM333.8 1667.1h1.1v1.1h-1.1zM337.3 1660.3h1.1v1.1h-1.1zM356.1 1666.0h1.1v1.1h-1.1zM349.7 1667.8h1.1v1.1h-1.1zM352.0 1658.7h1.1v1.1h-1.1zM354.4 1663.1h1.1v1.1h-1.1zM342.9 1668.9h1.1v1.1h-1.1zM355.3 1664.3h1.1v1.1h-1.1zM346.5 1661.1h1.1v1.1h-1.1zM341.3 1656.3h1.1v1.1h-1.1zM351.5 1665.7h1.1v1.1h-1.1zM346.7 1664.6h1.1v1.1h-1.1z" fill="#000"/><path d="M364.1 1627.0 364.0 1631.7 363.6 1636.4 362.9 1640.8 362.0 1645.0 360.8 1648.8 359.6 1652.3 358.1 1655.5 356.5 1658.2 354.8 1660.5 352.9 1662.1 351.0 1663.2 349.0 1663.5 347.0 1663.1 345.1 1662.0 343.3 1660.3 341.5 1658.0 340.0 1655.2 338.6 1652.1 337.3 1648.5 336.2 1644.7 335.3 1640.6 334.7 1636.2 334.2 1631.7 334.0 1627.0 334.1 1622.3 334.4 1617.6 335.0 1613.1 335.9 1608.9 337.0 1604.9 338.3 1601.3 339.8 1598.1 341.4 1595.5 343.2 1593.4 345.1 1591.9 347.0 1591.0 349.0 1590.9 351.0 1591.4 352.9 1592.5 354.7 1594.1 356.4 1596.3 358.0 1598.9 359.4 1601.9 360.8 1605.3 361.9 1609.1 362.8 1613.2 363.6 1617.6 364.0 1622.3ZM363.5 1627.0 363.4 1631.5 363.0 1636.0 362.3 1640.2 361.4 1644.2 360.4 1647.9 359.1 1651.4 357.8 1654.4 356.2 1657.1 354.6 1659.3 352.8 1661.0 350.9 1662.0 349.0 1662.4 347.1 1662.0 345.2 1660.9 343.4 1659.2 341.8 1656.9 340.3 1654.2 338.9 1651.2 337.7 1647.7 336.7 1644.0 335.9 1640.1 335.2 1635.9 334.8 1631.5 334.6 1627.0 334.7 1622.5 335.0 1618.0 335.6 1613.7 336.4 1609.6 337.5 1605.7 338.7 1602.3 340.1 1599.2 341.7 1596.6 343.4 1594.5 345.2 1593.0 347.1 1592.2 349.0 1592.0 350.9 1592.5 352.7 1593.6 354.5 1595.3 356.1 1597.4 357.7 1599.9 359.1 1602.8 360.3 1606.1 361.4 1609.8 362.3 1613.7 363.0 1618.0 363.4 1622.4ZM363.0 1627.0 362.8 1631.4 362.4 1635.6 361.8 1639.7 361.0 1643.6 359.9 1647.2 358.8 1650.5 357.5 1653.4 356.0 1656.0 354.4 1658.2 352.7 1659.7 350.8 1660.7 349.0 1661.0 347.2 1660.5 345.4 1659.5 343.7 1657.8 342.1 1655.6 340.7 1653.1 339.4 1650.1 338.2 1646.9 337.2 1643.4 336.4 1639.6 335.7 1635.5 335.3 1631.3 335.1 1627.0 335.2 1622.6 335.6 1618.4 336.1 1614.2 336.9 1610.3 337.9 1606.6 339.1 1603.2 340.5 1600.3 342.0 1597.8 343.6 1595.8 345.4 1594.4 347.2 1593.6 349.0 1593.4 350.8 1593.9 352.6 1594.9 354.3 1596.5 355.8 1598.6 357.3 1601.0 358.7 1603.8 359.9 1606.9 360.9 1610.5 361.8 1614.3 362.4 1618.4 362.8 1622.6ZM362.3 1627.0 362.2 1631.2 361.8 1635.2 361.2 1639.2 360.5 1642.9 359.5 1646.4 358.4 1649.6 357.1 1652.4 355.7 1654.9 354.2 1656.8 352.5 1658.3 350.8 1659.1 349.0 1659.4 347.2 1659.0 345.5 1658.0 343.9 1656.5 342.4 1654.5 341.0 1652.0 339.7 1649.3 338.6 1646.1 337.6 1642.7 336.9 1639.1 336.3 1635.2 335.9 1631.1 335.8 1627.0 335.8 1622.8 336.2 1618.7 336.7 1614.8 337.4 1611.0 338.4 1607.5 339.5 1604.3 340.8 1601.4 342.3 1599.1 343.9 1597.2 345.5 1595.8 347.2 1595.1 349.0 1594.9 350.7 1595.3 352.4 1596.3 354.1 1597.7 355.6 1599.6 357.0 1602.0 358.3 1604.7 359.5 1607.7 360.4 1611.1 361.2 1614.8 361.8 1618.7 362.2 1622.8ZM361.7 1627.0 361.6 1631.0 361.2 1634.9 360.6 1638.6 359.9 1642.1 359.0 1645.4 357.9 1648.4 356.7 1651.0 355.3 1653.4 353.9 1655.3 352.3 1656.7 350.7 1657.6 349.0 1657.9 347.3 1657.6 345.7 1656.8 344.1 1655.3 342.6 1653.4 341.3 1651.1 340.1 1648.4 339.0 1645.4 338.1 1642.0 337.4 1638.5 336.9 1634.8 336.6 1630.9 336.4 1627.0 336.5 1623.1 336.8 1619.2 337.3 1615.4 338.0 1611.8 338.9 1608.4 340.0 1605.4 341.2 1602.7 342.6 1600.4 344.1 1598.6 345.7 1597.3 347.3 1596.5 349.0 1596.3 350.7 1596.7 352.3 1597.6 353.8 1599.0 355.3 1600.8 356.7 1603.0 357.9 1605.6 359.0 1608.6 359.9 1611.8 360.7 1615.4 361.3 1619.1 361.6 1623.0ZM361.0 1627.0 360.9 1630.8 360.5 1634.4 360.0 1637.9 359.3 1641.3 358.4 1644.4 357.4 1647.3 356.3 1649.9 355.0 1652.1 353.7 1654.0 352.2 1655.3 350.6 1656.2 349.0 1656.4 347.4 1656.1 345.9 1655.2 344.4 1653.8 343.0 1652.0 341.7 1649.8 340.6 1647.2 339.6 1644.4 338.7 1641.3 338.0 1637.9 337.5 1634.4 337.2 1630.7 337.1 1627.0 337.2 1623.3 337.5 1619.6 338.0 1616.0 338.6 1612.6 339.5 1609.5 340.5 1606.5 341.6 1603.9 342.9 1601.7 344.3 1599.9 345.8 1598.7 347.4 1598.0 349.0 1597.8 350.6 1598.2 352.1 1599.1 353.6 1600.5 355.0 1602.2 356.3 1604.3 357.4 1606.8 358.5 1609.5 359.4 1612.6 360.1 1616.0 360.6 1619.5 360.9 1623.2ZM360.4 1627.0 360.3 1630.6 360.0 1634.0 359.4 1637.4 358.8 1640.5 357.9 1643.5 357.0 1646.1 355.9 1648.5 354.7 1650.6 353.4 1652.3 352.0 1653.5 350.5 1654.3 349.0 1654.5 347.5 1654.3 346.0 1653.5 344.6 1652.2 343.3 1650.5 342.1 1648.5 341.1 1646.1 340.1 1643.4 339.3 1640.4 338.6 1637.3 338.2 1634.0 337.9 1630.5 337.7 1627.0 337.8 1623.5 338.1 1620.0 338.5 1616.6 339.1 1613.3 339.9 1610.3 340.9 1607.6 342.0 1605.1 343.3 1603.1 344.6 1601.5 346.0 1600.4 347.5 1599.8 349.0 1599.7 350.5 1600.1 351.9 1600.9 353.3 1602.2 354.6 1603.8 355.8 1605.7 356.9 1608.0 357.9 1610.5 358.8 1613.4 359.5 1616.6 360.0 1619.9 360.3 1623.4ZM359.6 1627.0 359.5 1630.3 359.2 1633.6 358.7 1636.7 358.1 1639.6 357.4 1642.4 356.5 1644.9 355.5 1647.2 354.3 1649.2 353.1 1650.8 351.8 1652.0 350.4 1652.7 349.0 1652.9 347.6 1652.6 346.2 1651.7 344.9 1650.5 343.7 1648.9 342.6 1646.9 341.6 1644.7 340.7 1642.2 339.9 1639.5 339.3 1636.6 338.8 1633.5 338.5 1630.3 338.4 1627.0 338.5 1623.7 338.7 1620.4 339.2 1617.2 339.8 1614.2 340.5 1611.4 341.5 1608.9 342.5 1606.6 343.6 1604.7 344.9 1603.2 346.2 1602.1 347.6 1601.5 349.0 1601.4 350.4 1601.7 351.7 1602.5 353.0 1603.7 354.2 1605.2 355.4 1607.1 356.4 1609.2 357.3 1611.6 358.1 1614.3 358.8 1617.3 359.3 1620.4 359.6 1623.7ZM358.8 1627.0 358.7 1630.1 358.4 1633.0 358.0 1635.9 357.4 1638.6 356.7 1641.2 355.9 1643.5 355.0 1645.6 353.9 1647.5 352.8 1649.0 351.6 1650.1 350.3 1650.8 349.0 1651.0 347.7 1650.8 346.4 1650.1 345.2 1649.0 344.1 1647.5 343.0 1645.7 342.1 1643.6 341.3 1641.2 340.6 1638.7 340.0 1635.9 339.6 1633.0 339.4 1630.0 339.3 1627.0 339.4 1624.0 339.6 1621.0 340.0 1618.1 340.5 1615.3 341.2 1612.7 342.0 1610.3 343.0 1608.2 344.0 1606.4 345.2 1605.0 346.4 1603.9 347.7 1603.3 349.0 1603.1 350.3 1603.4 351.6 1604.1 352.8 1605.2 353.9 1606.6 355.0 1608.4 355.9 1610.4 356.8 1612.7 357.5 1615.3 358.0 1618.0 358.5 1620.9 358.7 1623.9ZM358.0 1627.0 357.9 1629.8 357.6 1632.6 357.3 1635.2 356.7 1637.7 356.1 1640.0 355.3 1642.2 354.5 1644.1 353.5 1645.7 352.5 1647.1 351.4 1648.1 350.2 1648.7 349.0 1648.8 347.8 1648.6 346.7 1647.9 345.6 1646.9 344.5 1645.5 343.6 1643.9 342.8 1642.0 342.0 1639.9 341.3 1637.6 340.8 1635.1 340.4 1632.5 340.1 1629.8 340.0 1627.0 340.1 1624.2 340.3 1621.4 340.7 1618.7 341.2 1616.2 341.9 1613.8 342.6 1611.7 343.5 1609.8 344.5 1608.2 345.5 1606.9 346.7 1606.0 347.8 1605.5 349.0 1605.4 350.2 1605.6 351.3 1606.3 352.4 1607.3 353.4 1608.6 354.4 1610.1 355.3 1611.9 356.1 1614.0 356.7 1616.3 357.3 1618.8 357.7 1621.4 357.9 1624.2ZM357.0 1627.0 356.9 1629.5 356.7 1631.9 356.3 1634.3 355.9 1636.5 355.3 1638.6 354.7 1640.6 353.9 1642.3 353.0 1643.8 352.1 1645.0 351.1 1645.9 350.1 1646.4 349.0 1646.6 347.9 1646.4 346.9 1645.8 345.9 1644.9 345.0 1643.6 344.2 1642.2 343.4 1640.5 342.7 1638.6 342.2 1636.5 341.7 1634.3 341.4 1631.9 341.1 1629.5 341.1 1627.0 341.1 1624.5 341.3 1622.0 341.6 1619.6 342.0 1617.4 342.6 1615.2 343.3 1613.3 344.1 1611.6 344.9 1610.1 345.9 1609.0 346.9 1608.2 347.9 1607.7 349.0 1607.6 350.0 1607.9 351.1 1608.5 352.1 1609.3 353.0 1610.5 353.8 1611.9 354.6 1613.5 355.3 1615.4 355.9 1617.4 356.4 1619.6 356.7 1622.0 356.9 1624.5ZM355.9 1627.0 355.9 1629.2 355.7 1631.3 355.4 1633.3 355.0 1635.3 354.5 1637.1 353.9 1638.7 353.2 1640.2 352.5 1641.5 351.7 1642.5 350.8 1643.3 349.9 1643.8 349.0 1644.0 348.1 1643.8 347.2 1643.3 346.3 1642.5 345.5 1641.4 344.8 1640.1 344.2 1638.6 343.6 1637.0 343.1 1635.2 342.7 1633.3 342.4 1631.3 342.2 1629.2 342.1 1627.0 342.1 1624.8 342.3 1622.7 342.6 1620.6 343.0 1618.7 343.5 1616.8 344.1 1615.2 344.8 1613.7 345.5 1612.5 346.3 1611.5 347.2 1610.8 348.1 1610.3 349.0 1610.2 349.9 1610.4 350.8 1610.9 351.7 1611.6 352.5 1612.6 353.2 1613.9 353.9 1615.3 354.5 1616.9 355.0 1618.7 355.4 1620.6 355.7 1622.7 355.9 1624.8ZM354.7 1627.0 354.6 1628.8 354.5 1630.5 354.2 1632.2 353.9 1633.8 353.5 1635.3 353.0 1636.6 352.5 1637.8 351.9 1638.9 351.2 1639.7 350.5 1640.4 349.8 1640.7 349.0 1640.8 348.3 1640.7 347.5 1640.2 346.8 1639.5 346.2 1638.7 345.6 1637.6 345.1 1636.4 344.6 1635.1 344.2 1633.7 343.8 1632.1 343.6 1630.5 343.4 1628.8 343.3 1627.0 343.4 1625.2 343.5 1623.5 343.7 1621.8 344.1 1620.2 344.5 1618.7 345.0 1617.3 345.5 1616.1 346.1 1615.1 346.8 1614.3 347.5 1613.7 348.3 1613.4 349.0 1613.3 349.7 1613.5 350.5 1613.9 351.1 1614.5 351.8 1615.4 352.4 1616.4 353.0 1617.5 353.4 1618.8 353.9 1620.3 354.2 1621.8 354.5 1623.5 354.6 1625.2ZM353.0 1627.0 353.0 1628.3 352.9 1629.5 352.7 1630.7 352.5 1631.8 352.2 1632.8 351.8 1633.8 351.4 1634.6 351.0 1635.4 350.5 1636.0 350.1 1636.4 349.5 1636.7 349.0 1636.8 348.5 1636.7 348.0 1636.4 347.5 1635.9 347.0 1635.3 346.6 1634.6 346.2 1633.7 345.9 1632.8 345.6 1631.7 345.4 1630.6 345.2 1629.5 345.1 1628.2 345.0 1627.0 345.0 1625.8 345.1 1624.5 345.3 1623.3 345.5 1622.2 345.8 1621.1 346.1 1620.1 346.5 1619.3 347.0 1618.5 347.4 1618.0 347.9 1617.6 348.5 1617.4 349.0 1617.3 349.5 1617.5 350.0 1617.7 350.5 1618.2 351.0 1618.8 351.4 1619.5 351.8 1620.3 352.1 1621.2 352.5 1622.2 352.7 1623.3 352.9 1624.5 353.0 1625.7Z" fill="none" stroke="#000" stroke-width="0.85"/>
<polygon points="330.80,1518.10 364.30,1511.80 369.70,1548.00 329.00,1596.00 311.70,1579.70 309.00,1558.00" stroke="#000" stroke-width="1.10" fill="none" stroke-linejoin="miter"/>
<polygon points="323.50,1606.90 357.90,1566.10 370.60,1573.40 370.60,1676.60 324.40,1676.60" stroke="#1010f0" stroke-width="3.40" fill="none" stroke-linejoin="miter"/>
<g transform="translate(345.95 1498.40) scale(0.9651 1)"><text x="0.00" y="0.00" font-size="37.70">60</text></g>
<g transform="translate(199.86 1543.60) scale(0.9868 1)"><text x="0.00" y="0.00" font-size="36.80">Comp.</text></g>
<g transform="translate(274.31 1664.00) scale(0.9687 1)"><text x="0.00" y="0.00" font-size="37.70">39</text></g>
<line x1="343.00" y1="1660.50" x2="343.00" y2="1765.00" stroke="#1010f0" stroke-width="3.30"/><polygon points="327.50,1763.00 343.00,1768.00 358.50,1763.00 343.00,1792.50" fill="#1010f0"/>
<rect x="404.70" y="1454.20" width="229.60" height="229.30" stroke="#555" stroke-width="1.30" fill="none"/><path d="M399.2 1668.0H404.7M418.3 1683.5V1689.0M399.2 1630.4H404.7M455.5 1683.5V1689.0M399.2 1592.6H404.7M493.6 1683.5V1689.0M399.2 1530.0H404.7M556.4 1683.5V1689.0M399.2 1475.0H404.7M611.3 1683.5V1689.0" stroke="#000" stroke-width="1.8" fill="none"/><path d="M401.5 1635.6H404.7M450.4 1683.5V1686.7M401.5 1640.6H404.7M445.4 1683.5V1686.7M401.5 1645.2H404.7M440.8 1683.5V1686.7M401.5 1649.5H404.7M436.6 1683.5V1686.7M401.5 1653.4H404.7M432.8 1683.5V1686.7M401.5 1656.9H404.7M429.3 1683.5V1686.7M401.5 1660.1H404.7M426.2 1683.5V1686.7M401.5 1662.9H404.7M423.3 1683.5V1686.7M401.5 1665.6H404.7M420.7 1683.5V1686.7M401.5 1625.2H404.7M460.8 1683.5V1686.7M401.5 1620.2H404.7M465.8 1683.5V1686.7M401.5 1615.5H404.7M470.5 1683.5V1686.7M401.5 1611.2H404.7M474.9 1683.5V1686.7M401.5 1607.3H404.7M478.8 1683.5V1686.7M401.5 1603.8H404.7M482.3 1683.5V1686.7M401.5 1600.6H404.7M485.6 1683.5V1686.7M401.5 1597.7H404.7M488.5 1683.5V1686.7M401.5 1595.0H404.7M491.1 1683.5V1686.7M401.5 1630.9H404.7M455.0 1683.5V1686.7M401.5 1632.0H404.7M454.0 1683.5V1686.7M401.5 1633.0H404.7M452.9 1683.5V1686.7M401.5 1634.0H404.7M451.9 1683.5V1686.7M401.5 1635.1H404.7M450.9 1683.5V1686.7M401.5 1629.9H404.7M456.0 1683.5V1686.7M401.5 1628.8H404.7M457.1 1683.5V1686.7M401.5 1627.8H404.7M458.1 1683.5V1686.7M401.5 1626.7H404.7M459.2 1683.5V1686.7M401.5 1625.7H404.7M460.2 1683.5V1686.7M401.5 1574.4H404.7M511.8 1683.5V1686.7M401.5 1563.4H404.7M522.9 1683.5V1686.7M401.5 1555.4H404.7M530.9 1683.5V1686.7M401.5 1549.3H404.7M537.1 1683.5V1686.7M401.5 1544.2H404.7M542.2 1683.5V1686.7M401.5 1539.9H404.7M546.4 1683.5V1686.7M401.5 1536.2H404.7M550.2 1683.5V1686.7M401.5 1532.9H404.7M553.5 1683.5V1686.7M401.5 1513.5H404.7M572.9 1683.5V1686.7M401.5 1503.8H404.7M582.6 1683.5V1686.7M401.5 1496.9H404.7M589.4 1683.5V1686.7M401.5 1491.6H404.7M594.8 1683.5V1686.7M401.5 1487.2H404.7M599.1 1683.5V1686.7M401.5 1483.5H404.7M602.8 1683.5V1686.7M401.5 1480.3H404.7M606.0 1683.5V1686.7M401.5 1477.5H404.7M608.8 1683.5V1686.7M401.5 1458.4H404.7M627.8 1683.5V1686.7" stroke="#000" stroke-width="1.1" fill="none"/>
<path d="M558.9 1563.6h1.1v1.1h-1.1zM559.7 1568.8h1.1v1.1h-1.1zM575.7 1585.4h1.1v1.1h-1.1zM561.1 1571.2h1.1v1.1h-1.1zM566.6 1579.5h1.1v1.1h-1.1zM564.9 1586.0h1.1v1.1h-1.1zM576.4 1582.2h1.1v1.1h-1.1zM556.1 1571.5h1.1v1.1h-1.1zM561.9 1570.3h1.1v1.1h-1.1zM573.1 1588.9h1.1v1.1h-1.1zM578.1 1582.0h1.1v1.1h-1.1zM561.4 1581.2h1.1v1.1h-1.1zM565.2 1580.6h1.1v1.1h-1.1zM570.5 1584.7h1.1v1.1h-1.1zM572.8 1585.5h1.1v1.1h-1.1zM572.0 1582.9h1.1v1.1h-1.1zM565.3 1581.1h1.1v1.1h-1.1zM579.9 1580.2h1.1v1.1h-1.1zM571.5 1579.7h1.1v1.1h-1.1zM555.7 1565.0h1.1v1.1h-1.1zM567.5 1580.7h1.1v1.1h-1.1zM558.8 1575.8h1.1v1.1h-1.1zM561.8 1568.8h1.1v1.1h-1.1zM564.8 1581.8h1.1v1.1h-1.1zM573.1 1583.7h1.1v1.1h-1.1zM562.5 1574.5h1.1v1.1h-1.1zM562.8 1578.0h1.1v1.1h-1.1zM563.8 1580.3h1.1v1.1h-1.1z" fill="#000"/><path d="M596.7 1525.6h1.1v1.1h-1.1zM593.4 1533.1h1.1v1.1h-1.1zM598.1 1529.7h1.1v1.1h-1.1zM606.6 1527.5h1.1v1.1h-1.1zM601.8 1524.1h1.1v1.1h-1.1zM597.0 1532.2h1.1v1.1h-1.1zM598.4 1523.7h1.1v1.1h-1.1zM593.3 1530.8h1.1v1.1h-1.1zM595.7 1532.1h1.1v1.1h-1.1zM600.5 1528.1h1.1v1.1h-1.1zM599.2 1532.4h1.1v1.1h-1.1zM599.5 1525.7h1.1v1.1h-1.1zM600.7 1528.0h1.1v1.1h-1.1zM598.5 1531.7h1.1v1.1h-1.1zM600.7 1533.4h1.1v1.1h-1.1z" fill="#000"/><path d="M599.9 1563.4 598.2 1566.7 596.2 1569.7 594.1 1572.4 591.8 1574.9 589.3 1577.0 586.8 1578.9 584.2 1580.4 581.6 1581.5 578.9 1582.3 576.2 1582.6 573.6 1582.5 571.1 1581.9 568.8 1580.9 566.7 1579.4 564.8 1577.4 563.3 1575.0 562.0 1572.3 561.2 1569.4 560.6 1566.1 560.5 1562.7 560.6 1559.2 561.2 1555.7 562.1 1552.1 563.3 1548.6 564.9 1545.3 566.7 1542.1 568.8 1539.2 571.2 1536.6 573.7 1534.5 576.3 1532.7 579.0 1531.4 581.6 1530.4 584.3 1529.9 586.9 1529.8 589.4 1530.1 591.8 1530.7 594.1 1531.7 596.2 1533.1 598.2 1534.8 599.9 1537.0 601.3 1539.5 602.4 1542.4 603.0 1545.6 603.3 1549.1 603.0 1552.7 602.4 1556.3 601.3 1559.9ZM599.4 1563.1 597.8 1566.3 595.9 1569.2 593.8 1571.8 591.5 1574.2 589.1 1576.2 586.7 1577.9 584.2 1579.4 581.6 1580.4 579.1 1581.1 576.5 1581.5 574.0 1581.4 571.6 1580.8 569.4 1579.8 567.4 1578.4 565.6 1576.5 564.1 1574.2 562.9 1571.6 562.1 1568.8 561.6 1565.7 561.4 1562.4 561.6 1559.0 562.1 1555.6 563.0 1552.2 564.1 1548.9 565.6 1545.6 567.3 1542.6 569.4 1539.8 571.6 1537.3 574.0 1535.1 576.5 1533.4 579.1 1532.1 581.7 1531.2 584.3 1530.8 586.8 1530.8 589.2 1531.1 591.5 1531.8 593.6 1532.8 595.6 1534.1 597.5 1535.8 599.1 1537.9 600.4 1540.3 601.5 1543.0 602.2 1546.1 602.5 1549.3 602.3 1552.8 601.7 1556.3 600.8 1559.8ZM598.6 1562.7 597.1 1565.7 595.3 1568.6 593.4 1571.2 591.2 1573.5 589.0 1575.5 586.6 1577.3 584.2 1578.7 581.7 1579.7 579.2 1580.4 576.8 1580.6 574.4 1580.4 572.1 1579.8 570.0 1578.8 568.1 1577.3 566.5 1575.4 565.1 1573.2 564.0 1570.7 563.2 1568.0 562.8 1565.1 562.6 1562.0 562.7 1558.9 563.1 1555.6 563.9 1552.4 565.0 1549.1 566.3 1546.0 568.0 1543.1 569.9 1540.3 572.1 1537.9 574.4 1535.9 576.8 1534.2 579.3 1532.9 581.8 1532.1 584.3 1531.7 586.7 1531.6 589.0 1531.9 591.2 1532.6 593.3 1533.6 595.2 1534.9 596.9 1536.6 598.4 1538.6 599.7 1541.0 600.6 1543.6 601.2 1546.5 601.4 1549.7 601.2 1552.9 600.7 1556.2 599.8 1559.5ZM598.1 1562.4 596.7 1565.4 595.0 1568.1 593.1 1570.6 591.0 1572.8 588.8 1574.7 586.5 1576.3 584.2 1577.5 581.8 1578.4 579.5 1579.0 577.1 1579.1 574.9 1578.9 572.8 1578.3 570.8 1577.3 569.0 1576.0 567.4 1574.3 566.1 1572.3 565.0 1570.0 564.1 1567.4 563.6 1564.7 563.4 1561.7 563.5 1558.7 563.9 1555.6 564.6 1552.4 565.7 1549.3 567.0 1546.3 568.6 1543.5 570.5 1540.9 572.5 1538.6 574.8 1536.7 577.1 1535.1 579.5 1534.0 581.9 1533.2 584.2 1532.9 586.5 1532.9 588.7 1533.2 590.7 1533.9 592.7 1534.8 594.5 1536.1 596.1 1537.7 597.6 1539.5 598.8 1541.7 599.7 1544.2 600.3 1547.0 600.6 1549.9 600.5 1553.0 600.1 1556.2 599.3 1559.4ZM597.2 1562.0 595.9 1564.8 594.3 1567.4 592.6 1569.8 590.6 1571.9 588.6 1573.8 586.4 1575.3 584.2 1576.5 581.9 1577.4 579.7 1577.9 577.4 1578.0 575.3 1577.8 573.3 1577.2 571.4 1576.3 569.7 1574.9 568.2 1573.3 567.0 1571.4 566.0 1569.2 565.2 1566.8 564.7 1564.1 564.6 1561.4 564.7 1558.5 565.0 1555.6 565.7 1552.6 566.7 1549.7 567.9 1546.8 569.4 1544.2 571.2 1541.7 573.1 1539.5 575.2 1537.6 577.4 1536.1 579.7 1534.9 582.0 1534.2 584.2 1533.8 586.4 1533.8 588.5 1534.1 590.4 1534.8 592.3 1535.7 594.0 1537.0 595.5 1538.5 596.8 1540.3 597.9 1542.5 598.8 1544.8 599.3 1547.4 599.6 1550.2 599.5 1553.1 599.1 1556.1 598.3 1559.1ZM596.5 1561.6 595.2 1564.2 593.7 1566.7 592.0 1568.8 590.1 1570.8 588.2 1572.5 586.2 1573.9 584.1 1575.0 582.0 1575.9 579.9 1576.4 577.8 1576.6 575.8 1576.5 573.8 1576.0 572.0 1575.2 570.4 1574.0 569.0 1572.5 567.8 1570.6 566.8 1568.5 566.1 1566.2 565.7 1563.7 565.6 1561.0 565.7 1558.3 566.1 1555.5 566.8 1552.7 567.7 1550.0 568.9 1547.3 570.3 1544.8 571.9 1542.5 573.7 1540.4 575.7 1538.6 577.8 1537.2 579.9 1536.2 582.1 1535.5 584.2 1535.1 586.2 1535.1 588.2 1535.4 590.0 1536.0 591.8 1536.9 593.4 1538.0 594.9 1539.4 596.2 1541.1 597.2 1543.1 598.1 1545.3 598.6 1547.8 598.9 1550.4 598.8 1553.2 598.3 1556.1 597.6 1558.9ZM595.6 1561.2 594.4 1563.6 592.9 1565.8 591.4 1567.9 589.7 1569.7 587.9 1571.4 586.0 1572.7 584.1 1573.9 582.1 1574.7 580.1 1575.2 578.2 1575.4 576.3 1575.2 574.5 1574.7 572.8 1573.8 571.3 1572.7 570.0 1571.2 568.9 1569.5 568.0 1567.6 567.3 1565.4 566.9 1563.1 566.7 1560.6 566.8 1558.1 567.1 1555.5 567.7 1552.9 568.6 1550.3 569.7 1547.8 571.1 1545.4 572.7 1543.3 574.4 1541.4 576.3 1539.8 578.2 1538.5 580.2 1537.6 582.2 1536.9 584.1 1536.6 586.0 1536.5 587.8 1536.8 589.6 1537.3 591.3 1538.0 592.8 1539.0 594.2 1540.3 595.5 1541.9 596.5 1543.7 597.3 1545.9 597.7 1548.2 597.9 1550.7 597.8 1553.3 597.3 1556.0 596.6 1558.6ZM594.7 1560.7 593.5 1562.9 592.2 1565.0 590.7 1566.8 589.2 1568.5 587.5 1570.0 585.8 1571.2 584.0 1572.3 582.2 1573.0 580.4 1573.5 578.6 1573.8 576.8 1573.7 575.1 1573.3 573.6 1572.6 572.1 1571.5 570.9 1570.2 569.8 1568.6 568.9 1566.8 568.3 1564.8 568.0 1562.6 567.8 1560.3 568.0 1557.9 568.4 1555.4 569.0 1553.0 569.8 1550.7 570.9 1548.4 572.1 1546.3 573.6 1544.3 575.2 1542.6 576.9 1541.1 578.6 1539.9 580.4 1539.0 582.3 1538.3 584.1 1538.0 585.8 1537.9 587.6 1538.0 589.2 1538.5 590.8 1539.1 592.2 1540.1 593.5 1541.3 594.7 1542.7 595.6 1544.5 596.3 1546.5 596.8 1548.7 596.9 1551.0 596.8 1553.4 596.3 1555.9 595.6 1558.4ZM593.7 1560.2 592.8 1562.3 591.6 1564.3 590.3 1566.1 588.9 1567.7 587.3 1569.1 585.7 1570.3 584.0 1571.2 582.3 1571.8 580.6 1572.2 579.0 1572.3 577.4 1572.1 575.9 1571.6 574.5 1570.8 573.3 1569.8 572.2 1568.6 571.3 1567.1 570.6 1565.5 570.0 1563.7 569.6 1561.8 569.5 1559.7 569.5 1557.6 569.8 1555.4 570.3 1553.2 570.9 1551.0 571.9 1548.9 573.0 1546.9 574.3 1545.0 575.7 1543.4 577.3 1542.0 579.0 1540.8 580.7 1540.0 582.4 1539.4 584.1 1539.2 585.7 1539.2 587.2 1539.4 588.7 1539.9 590.1 1540.7 591.3 1541.6 592.5 1542.7 593.4 1544.1 594.3 1545.7 594.9 1547.4 595.3 1549.4 595.5 1551.5 595.4 1553.6 595.1 1555.8 594.5 1558.0ZM592.7 1559.7 591.8 1561.5 590.7 1563.3 589.5 1564.8 588.2 1566.2 586.9 1567.4 585.4 1568.4 584.0 1569.2 582.5 1569.8 581.0 1570.2 579.5 1570.3 578.1 1570.2 576.7 1569.8 575.5 1569.1 574.4 1568.3 573.4 1567.2 572.5 1565.9 571.8 1564.5 571.3 1562.9 571.0 1561.1 570.8 1559.3 570.9 1557.3 571.1 1555.4 571.6 1553.4 572.2 1551.4 573.1 1549.5 574.1 1547.7 575.3 1546.1 576.6 1544.7 578.0 1543.4 579.5 1542.5 581.0 1541.8 582.5 1541.3 584.0 1541.1 585.4 1541.1 586.8 1541.3 588.1 1541.7 589.3 1542.2 590.5 1543.0 591.6 1544.0 592.5 1545.2 593.3 1546.5 593.9 1548.1 594.3 1549.9 594.4 1551.8 594.4 1553.7 594.0 1555.7 593.5 1557.8ZM591.5 1559.0 590.7 1560.6 589.8 1562.1 588.7 1563.5 587.6 1564.7 586.4 1565.8 585.2 1566.7 583.9 1567.4 582.6 1567.9 581.3 1568.3 580.0 1568.4 578.8 1568.3 577.6 1568.0 576.5 1567.4 575.5 1566.6 574.7 1565.6 574.0 1564.5 573.4 1563.2 573.0 1561.8 572.8 1560.2 572.7 1558.6 572.8 1557.0 573.0 1555.3 573.3 1553.6 573.9 1551.9 574.6 1550.3 575.4 1548.7 576.4 1547.3 577.5 1546.0 578.7 1544.9 580.0 1544.0 581.3 1543.3 582.7 1542.9 584.0 1542.7 585.2 1542.8 586.4 1543.0 587.5 1543.4 588.6 1543.9 589.6 1544.6 590.5 1545.5 591.2 1546.5 591.9 1547.7 592.4 1549.1 592.7 1550.6 592.9 1552.2 592.8 1553.9 592.6 1555.6 592.1 1557.4ZM590.0 1558.3 589.3 1559.6 588.6 1560.8 587.8 1561.9 586.9 1562.9 585.9 1563.8 584.9 1564.6 583.9 1565.2 582.8 1565.6 581.7 1565.9 580.7 1566.0 579.7 1565.9 578.7 1565.6 577.8 1565.1 577.0 1564.4 576.4 1563.6 575.8 1562.7 575.3 1561.6 575.0 1560.5 574.8 1559.3 574.7 1558.0 574.7 1556.6 574.9 1555.3 575.2 1553.9 575.6 1552.5 576.2 1551.1 576.9 1549.9 577.7 1548.7 578.7 1547.7 579.7 1546.8 580.7 1546.1 581.8 1545.6 582.8 1545.2 583.9 1545.1 584.9 1545.1 585.9 1545.2 586.8 1545.5 587.7 1545.9 588.5 1546.5 589.3 1547.2 589.9 1548.0 590.4 1549.0 590.8 1550.2 591.1 1551.4 591.2 1552.7 591.1 1554.1 590.9 1555.5 590.5 1556.9ZM588.1 1557.3 587.7 1558.2 587.1 1559.1 586.5 1559.9 585.9 1560.6 585.2 1561.2 584.5 1561.7 583.8 1562.1 583.0 1562.5 582.3 1562.7 581.5 1562.7 580.8 1562.7 580.1 1562.5 579.5 1562.2 578.9 1561.7 578.4 1561.2 578.0 1560.5 577.7 1559.7 577.5 1558.9 577.3 1558.0 577.3 1557.1 577.3 1556.2 577.4 1555.2 577.7 1554.2 578.0 1553.2 578.4 1552.3 578.9 1551.4 579.5 1550.6 580.1 1549.8 580.8 1549.2 581.5 1548.7 582.3 1548.3 583.1 1548.1 583.8 1548.0 584.5 1548.0 585.2 1548.1 585.9 1548.3 586.5 1548.6 587.1 1549.0 587.6 1549.5 588.1 1550.1 588.4 1550.8 588.7 1551.6 588.9 1552.4 589.0 1553.4 588.9 1554.4 588.8 1555.4 588.5 1556.4Z" fill="none" stroke="#000" stroke-width="0.85"/>
<path d="M603.5 1592.4h1.2v1.2h-1.2zM600.7 1667.1h1.2v1.2h-1.2zM592.8 1656.3h1.2v1.2h-1.2zM607.4 1630.3h1.2v1.2h-1.2zM599.1 1665.6h1.2v1.2h-1.2zM598.2 1594.6h1.2v1.2h-1.2zM585.6 1616.7h1.2v1.2h-1.2zM606.3 1617.1h1.2v1.2h-1.2zM608.0 1613.3h1.2v1.2h-1.2zM606.0 1631.7h1.2v1.2h-1.2zM606.8 1670.1h1.2v1.2h-1.2zM609.9 1650.5h1.2v1.2h-1.2zM586.7 1610.4h1.2v1.2h-1.2zM605.6 1650.5h1.2v1.2h-1.2zM587.6 1647.4h1.2v1.2h-1.2zM578.7 1615.3h1.2v1.2h-1.2zM605.5 1651.1h1.2v1.2h-1.2zM583.8 1626.9h1.2v1.2h-1.2zM604.5 1588.6h1.2v1.2h-1.2zM601.2 1594.9h1.2v1.2h-1.2zM603.1 1617.2h1.2v1.2h-1.2zM584.7 1621.8h1.2v1.2h-1.2zM584.0 1615.4h1.2v1.2h-1.2zM603.6 1643.0h1.2v1.2h-1.2zM601.3 1602.6h1.2v1.2h-1.2zM597.3 1659.0h1.2v1.2h-1.2zM602.0 1654.3h1.2v1.2h-1.2zM607.8 1594.4h1.2v1.2h-1.2zM598.8 1639.5h1.2v1.2h-1.2zM591.6 1598.8h1.2v1.2h-1.2zM589.6 1604.4h1.2v1.2h-1.2zM585.4 1626.4h1.2v1.2h-1.2zM586.6 1670.8h1.2v1.2h-1.2zM582.2 1625.6h1.2v1.2h-1.2zM584.8 1622.8h1.2v1.2h-1.2zM595.7 1669.7h1.2v1.2h-1.2zM582.3 1643.2h1.2v1.2h-1.2zM608.6 1597.6h1.2v1.2h-1.2zM607.4 1659.0h1.2v1.2h-1.2zM594.4 1649.5h1.2v1.2h-1.2zM607.9 1625.4h1.2v1.2h-1.2zM596.1 1605.4h1.2v1.2h-1.2zM593.3 1664.3h1.2v1.2h-1.2zM592.1 1602.8h1.2v1.2h-1.2zM602.6 1649.4h1.2v1.2h-1.2zM586.8 1615.2h1.2v1.2h-1.2zM608.6 1646.4h1.2v1.2h-1.2zM591.0 1609.2h1.2v1.2h-1.2zM578.7 1597.6h1.2v1.2h-1.2zM577.8 1619.0h1.2v1.2h-1.2zM599.7 1599.4h1.2v1.2h-1.2zM583.1 1593.2h1.2v1.2h-1.2zM589.3 1602.0h1.2v1.2h-1.2zM584.1 1603.7h1.2v1.2h-1.2zM587.3 1617.6h1.2v1.2h-1.2zM601.6 1648.7h1.2v1.2h-1.2zM596.0 1584.6h1.2v1.2h-1.2zM602.7 1650.8h1.2v1.2h-1.2zM600.8 1637.9h1.2v1.2h-1.2zM594.2 1653.7h1.2v1.2h-1.2zM590.6 1650.4h1.2v1.2h-1.2zM589.3 1615.5h1.2v1.2h-1.2zM588.9 1644.1h1.2v1.2h-1.2zM608.2 1612.2h1.2v1.2h-1.2zM583.7 1654.9h1.2v1.2h-1.2zM594.9 1647.4h1.2v1.2h-1.2zM585.1 1652.5h1.2v1.2h-1.2zM601.0 1579.6h1.2v1.2h-1.2zM586.3 1619.9h1.2v1.2h-1.2zM591.9 1675.8h1.2v1.2h-1.2zM598.4 1603.1h1.2v1.2h-1.2zM584.1 1629.9h1.2v1.2h-1.2zM596.6 1641.1h1.2v1.2h-1.2zM597.4 1647.5h1.2v1.2h-1.2zM606.0 1645.1h1.2v1.2h-1.2zM580.3 1643.2h1.2v1.2h-1.2zM599.0 1653.6h1.2v1.2h-1.2zM598.1 1661.9h1.2v1.2h-1.2zM587.0 1635.0h1.2v1.2h-1.2zM576.9 1611.4h1.2v1.2h-1.2zM574.8 1620.3h1.2v1.2h-1.2zM576.2 1615.8h1.2v1.2h-1.2zM590.9 1576.8h1.2v1.2h-1.2zM608.5 1637.2h1.2v1.2h-1.2zM585.9 1667.7h1.2v1.2h-1.2zM605.8 1572.8h1.2v1.2h-1.2zM590.2 1613.0h1.2v1.2h-1.2zM593.4 1605.8h1.2v1.2h-1.2zM569.5 1629.1h1.2v1.2h-1.2zM606.2 1629.2h1.2v1.2h-1.2zM603.8 1661.1h1.2v1.2h-1.2zM598.6 1648.0h1.2v1.2h-1.2zM607.3 1597.6h1.2v1.2h-1.2zM583.7 1630.4h1.2v1.2h-1.2zM598.3 1600.9h1.2v1.2h-1.2zM580.4 1644.1h1.2v1.2h-1.2zM600.1 1620.9h1.2v1.2h-1.2zM590.5 1613.1h1.2v1.2h-1.2zM582.1 1607.6h1.2v1.2h-1.2zM602.1 1597.6h1.2v1.2h-1.2zM576.9 1638.7h1.2v1.2h-1.2zM584.0 1619.2h1.2v1.2h-1.2zM593.1 1598.4h1.2v1.2h-1.2zM578.2 1631.6h1.2v1.2h-1.2zM567.0 1639.2h1.2v1.2h-1.2zM575.8 1643.1h1.2v1.2h-1.2zM579.6 1643.5h1.2v1.2h-1.2zM601.3 1646.2h1.2v1.2h-1.2zM594.8 1599.4h1.2v1.2h-1.2zM583.9 1603.7h1.2v1.2h-1.2zM603.3 1637.1h1.2v1.2h-1.2zM586.0 1644.4h1.2v1.2h-1.2zM583.3 1608.2h1.2v1.2h-1.2zM601.1 1640.8h1.2v1.2h-1.2zM592.6 1599.5h1.2v1.2h-1.2zM581.4 1645.8h1.2v1.2h-1.2zM596.9 1660.0h1.2v1.2h-1.2zM584.6 1663.8h1.2v1.2h-1.2zM577.7 1641.3h1.2v1.2h-1.2zM608.8 1606.9h1.2v1.2h-1.2zM580.0 1605.7h1.2v1.2h-1.2zM580.1 1635.4h1.2v1.2h-1.2zM592.7 1607.9h1.2v1.2h-1.2zM590.9 1660.8h1.2v1.2h-1.2zM589.1 1659.9h1.2v1.2h-1.2zM593.8 1585.7h1.2v1.2h-1.2zM587.2 1634.2h1.2v1.2h-1.2zM577.7 1660.7h1.2v1.2h-1.2zM605.2 1644.6h1.2v1.2h-1.2zM586.3 1627.6h1.2v1.2h-1.2zM598.5 1648.0h1.2v1.2h-1.2zM605.3 1579.5h1.2v1.2h-1.2zM586.5 1601.4h1.2v1.2h-1.2zM601.8 1629.3h1.2v1.2h-1.2zM592.8 1665.3h1.2v1.2h-1.2zM582.6 1641.8h1.2v1.2h-1.2zM588.3 1606.4h1.2v1.2h-1.2zM581.2 1617.9h1.2v1.2h-1.2zM603.9 1619.9h1.2v1.2h-1.2zM596.2 1590.3h1.2v1.2h-1.2zM570.6 1629.3h1.2v1.2h-1.2zM601.5 1628.4h1.2v1.2h-1.2zM581.7 1627.7h1.2v1.2h-1.2zM580.5 1625.4h1.2v1.2h-1.2zM609.8 1647.3h1.2v1.2h-1.2zM590.9 1610.5h1.2v1.2h-1.2zM602.5 1626.5h1.2v1.2h-1.2zM576.1 1616.6h1.2v1.2h-1.2zM609.0 1589.0h1.2v1.2h-1.2zM593.5 1609.5h1.2v1.2h-1.2zM591.4 1602.1h1.2v1.2h-1.2zM586.8 1674.7h1.2v1.2h-1.2zM581.9 1618.3h1.2v1.2h-1.2zM580.7 1620.6h1.2v1.2h-1.2zM595.0 1652.4h1.2v1.2h-1.2zM604.4 1610.0h1.2v1.2h-1.2zM591.9 1605.4h1.2v1.2h-1.2zM587.8 1658.7h1.2v1.2h-1.2zM585.9 1637.0h1.2v1.2h-1.2zM591.1 1608.5h1.2v1.2h-1.2zM568.3 1604.5h1.2v1.2h-1.2zM583.8 1646.7h1.2v1.2h-1.2zM599.2 1596.8h1.2v1.2h-1.2zM598.5 1611.3h1.2v1.2h-1.2zM610.0 1658.2h1.2v1.2h-1.2zM599.1 1617.1h1.2v1.2h-1.2zM609.7 1645.6h1.2v1.2h-1.2zM604.0 1638.6h1.2v1.2h-1.2zM590.7 1644.5h1.2v1.2h-1.2zM585.4 1644.9h1.2v1.2h-1.2zM595.1 1590.8h1.2v1.2h-1.2zM600.7 1602.0h1.2v1.2h-1.2zM583.0 1643.2h1.2v1.2h-1.2zM595.0 1588.7h1.2v1.2h-1.2zM594.3 1589.2h1.2v1.2h-1.2zM597.7 1592.6h1.2v1.2h-1.2zM585.4 1645.1h1.2v1.2h-1.2zM579.4 1637.3h1.2v1.2h-1.2zM584.8 1638.9h1.2v1.2h-1.2zM596.4 1644.6h1.2v1.2h-1.2zM593.5 1602.9h1.2v1.2h-1.2zM609.5 1618.5h1.2v1.2h-1.2zM600.3 1601.4h1.2v1.2h-1.2zM590.6 1639.9h1.2v1.2h-1.2zM601.8 1629.7h1.2v1.2h-1.2zM603.4 1622.1h1.2v1.2h-1.2zM599.6 1617.2h1.2v1.2h-1.2zM605.7 1627.8h1.2v1.2h-1.2zM603.3 1631.4h1.2v1.2h-1.2zM591.5 1657.1h1.2v1.2h-1.2zM586.4 1649.6h1.2v1.2h-1.2zM607.9 1589.8h1.2v1.2h-1.2zM602.1 1639.7h1.2v1.2h-1.2zM581.8 1638.4h1.2v1.2h-1.2zM595.6 1594.5h1.2v1.2h-1.2zM591.5 1600.7h1.2v1.2h-1.2zM594.2 1607.6h1.2v1.2h-1.2zM594.3 1595.6h1.2v1.2h-1.2zM588.1 1617.8h1.2v1.2h-1.2zM591.1 1651.9h1.2v1.2h-1.2zM601.1 1620.8h1.2v1.2h-1.2zM601.1 1655.1h1.2v1.2h-1.2zM580.2 1621.3h1.2v1.2h-1.2zM595.2 1570.2h1.2v1.2h-1.2zM585.7 1611.7h1.2v1.2h-1.2zM580.1 1612.6h1.2v1.2h-1.2zM583.8 1589.0h1.2v1.2h-1.2zM596.2 1666.8h1.2v1.2h-1.2zM583.0 1629.5h1.2v1.2h-1.2zM607.1 1582.3h1.2v1.2h-1.2zM601.8 1582.6h1.2v1.2h-1.2zM606.3 1643.0h1.2v1.2h-1.2zM608.1 1602.4h1.2v1.2h-1.2zM603.7 1638.5h1.2v1.2h-1.2zM592.8 1657.4h1.2v1.2h-1.2zM577.5 1623.5h1.2v1.2h-1.2zM581.7 1625.1h1.2v1.2h-1.2zM597.9 1591.4h1.2v1.2h-1.2zM603.1 1633.1h1.2v1.2h-1.2zM608.2 1603.5h1.2v1.2h-1.2zM581.2 1652.1h1.2v1.2h-1.2zM580.4 1652.6h1.2v1.2h-1.2zM592.8 1640.8h1.2v1.2h-1.2zM589.7 1648.9h1.2v1.2h-1.2zM605.4 1652.7h1.2v1.2h-1.2zM597.7 1598.1h1.2v1.2h-1.2zM602.1 1629.1h1.2v1.2h-1.2zM605.5 1594.3h1.2v1.2h-1.2zM593.0 1646.0h1.2v1.2h-1.2zM601.0 1658.0h1.2v1.2h-1.2zM597.7 1639.2h1.2v1.2h-1.2zM596.4 1602.7h1.2v1.2h-1.2zM603.4 1609.8h1.2v1.2h-1.2zM588.7 1636.9h1.2v1.2h-1.2zM587.2 1617.5h1.2v1.2h-1.2zM570.2 1608.4h1.2v1.2h-1.2zM582.9 1613.5h1.2v1.2h-1.2zM602.6 1650.3h1.2v1.2h-1.2zM601.6 1621.0h1.2v1.2h-1.2zM588.9 1604.0h1.2v1.2h-1.2zM582.0 1621.0h1.2v1.2h-1.2zM595.5 1641.4h1.2v1.2h-1.2zM586.3 1632.5h1.2v1.2h-1.2zM586.1 1631.4h1.2v1.2h-1.2zM608.2 1620.9h1.2v1.2h-1.2zM606.3 1607.2h1.2v1.2h-1.2zM585.2 1640.2h1.2v1.2h-1.2zM605.5 1641.1h1.2v1.2h-1.2zM596.9 1660.6h1.2v1.2h-1.2zM590.8 1597.7h1.2v1.2h-1.2zM589.6 1604.9h1.2v1.2h-1.2zM600.6 1639.9h1.2v1.2h-1.2zM592.4 1607.6h1.2v1.2h-1.2zM590.9 1644.8h1.2v1.2h-1.2zM595.1 1612.7h1.2v1.2h-1.2zM596.7 1643.2h1.2v1.2h-1.2zM584.9 1664.8h1.2v1.2h-1.2zM604.9 1627.1h1.2v1.2h-1.2zM604.7 1635.9h1.2v1.2h-1.2zM600.4 1612.3h1.2v1.2h-1.2zM580.6 1607.4h1.2v1.2h-1.2zM609.5 1658.1h1.2v1.2h-1.2zM578.1 1644.3h1.2v1.2h-1.2zM604.3 1614.0h1.2v1.2h-1.2zM587.5 1618.0h1.2v1.2h-1.2zM600.9 1651.1h1.2v1.2h-1.2zM585.6 1621.8h1.2v1.2h-1.2zM591.7 1640.3h1.2v1.2h-1.2zM586.4 1599.1h1.2v1.2h-1.2zM599.9 1644.9h1.2v1.2h-1.2zM606.1 1623.6h1.2v1.2h-1.2zM593.8 1657.3h1.2v1.2h-1.2zM597.2 1657.5h1.2v1.2h-1.2zM588.3 1609.3h1.2v1.2h-1.2zM602.6 1605.0h1.2v1.2h-1.2zM584.3 1606.5h1.2v1.2h-1.2zM578.1 1639.3h1.2v1.2h-1.2zM609.3 1641.3h1.2v1.2h-1.2zM601.8 1622.5h1.2v1.2h-1.2zM585.8 1640.5h1.2v1.2h-1.2zM584.0 1597.9h1.2v1.2h-1.2zM586.6 1651.0h1.2v1.2h-1.2zM584.5 1609.4h1.2v1.2h-1.2zM587.1 1652.2h1.2v1.2h-1.2zM588.0 1595.1h1.2v1.2h-1.2zM591.5 1650.4h1.2v1.2h-1.2zM600.0 1647.3h1.2v1.2h-1.2zM586.4 1637.1h1.2v1.2h-1.2zM583.3 1653.2h1.2v1.2h-1.2zM580.0 1632.8h1.2v1.2h-1.2zM609.6 1665.4h1.2v1.2h-1.2zM584.1 1616.0h1.2v1.2h-1.2zM574.8 1626.0h1.2v1.2h-1.2zM579.0 1604.0h1.2v1.2h-1.2zM605.5 1600.9h1.2v1.2h-1.2zM576.7 1626.5h1.2v1.2h-1.2zM603.7 1612.5h1.2v1.2h-1.2zM592.1 1640.8h1.2v1.2h-1.2zM589.7 1656.8h1.2v1.2h-1.2zM602.4 1628.6h1.2v1.2h-1.2zM596.7 1586.8h1.2v1.2h-1.2zM582.0 1611.3h1.2v1.2h-1.2zM585.8 1614.2h1.2v1.2h-1.2zM589.3 1611.0h1.2v1.2h-1.2zM600.0 1616.6h1.2v1.2h-1.2zM594.8 1642.7h1.2v1.2h-1.2zM594.6 1592.2h1.2v1.2h-1.2zM585.6 1666.5h1.2v1.2h-1.2zM577.5 1650.9h1.2v1.2h-1.2zM582.2 1626.1h1.2v1.2h-1.2zM601.7 1602.8h1.2v1.2h-1.2zM601.0 1577.0h1.2v1.2h-1.2zM590.3 1610.0h1.2v1.2h-1.2zM602.3 1647.1h1.2v1.2h-1.2zM587.8 1603.9h1.2v1.2h-1.2zM595.4 1611.5h1.2v1.2h-1.2zM587.3 1613.4h1.2v1.2h-1.2zM576.4 1627.9h1.2v1.2h-1.2zM580.4 1630.7h1.2v1.2h-1.2zM590.7 1654.8h1.2v1.2h-1.2zM594.3 1610.2h1.2v1.2h-1.2zM583.1 1600.6h1.2v1.2h-1.2zM601.1 1633.2h1.2v1.2h-1.2zM607.0 1636.9h1.2v1.2h-1.2zM580.5 1614.5h1.2v1.2h-1.2zM596.8 1601.4h1.2v1.2h-1.2zM602.0 1642.4h1.2v1.2h-1.2zM578.2 1649.0h1.2v1.2h-1.2zM584.0 1626.2h1.2v1.2h-1.2zM584.7 1644.5h1.2v1.2h-1.2zM586.7 1655.5h1.2v1.2h-1.2zM597.9 1641.9h1.2v1.2h-1.2zM607.8 1640.6h1.2v1.2h-1.2zM576.6 1634.2h1.2v1.2h-1.2zM593.3 1604.6h1.2v1.2h-1.2zM588.6 1663.5h1.2v1.2h-1.2zM585.9 1635.2h1.2v1.2h-1.2zM585.1 1593.0h1.2v1.2h-1.2zM588.0 1617.2h1.2v1.2h-1.2zM589.8 1602.7h1.2v1.2h-1.2zM580.3 1629.7h1.2v1.2h-1.2zM574.2 1622.1h1.2v1.2h-1.2zM605.2 1618.3h1.2v1.2h-1.2zM600.4 1649.6h1.2v1.2h-1.2zM593.7 1592.8h1.2v1.2h-1.2zM605.1 1638.3h1.2v1.2h-1.2zM599.5 1591.3h1.2v1.2h-1.2zM600.8 1660.5h1.2v1.2h-1.2zM584.4 1622.0h1.2v1.2h-1.2zM592.3 1608.1h1.2v1.2h-1.2zM584.0 1606.2h1.2v1.2h-1.2zM594.3 1587.1h1.2v1.2h-1.2zM594.8 1642.0h1.2v1.2h-1.2zM599.7 1604.8h1.2v1.2h-1.2zM608.1 1667.5h1.2v1.2h-1.2zM582.2 1660.6h1.2v1.2h-1.2zM604.1 1643.8h1.2v1.2h-1.2zM585.8 1646.7h1.2v1.2h-1.2zM582.9 1627.1h1.2v1.2h-1.2zM600.3 1637.3h1.2v1.2h-1.2zM586.7 1603.5h1.2v1.2h-1.2zM588.6 1602.3h1.2v1.2h-1.2zM599.7 1652.1h1.2v1.2h-1.2zM584.3 1625.2h1.2v1.2h-1.2zM583.7 1641.3h1.2v1.2h-1.2zM594.7 1607.4h1.2v1.2h-1.2zM606.2 1627.3h1.2v1.2h-1.2zM600.6 1646.5h1.2v1.2h-1.2zM606.3 1654.4h1.2v1.2h-1.2zM587.8 1605.8h1.2v1.2h-1.2zM608.8 1615.3h1.2v1.2h-1.2zM605.5 1608.6h1.2v1.2h-1.2zM586.5 1645.6h1.2v1.2h-1.2zM591.1 1608.7h1.2v1.2h-1.2zM606.6 1598.6h1.2v1.2h-1.2zM585.0 1638.2h1.2v1.2h-1.2zM605.3 1623.9h1.2v1.2h-1.2zM584.5 1669.3h1.2v1.2h-1.2zM591.9 1610.7h1.2v1.2h-1.2zM592.8 1647.6h1.2v1.2h-1.2zM596.9 1645.6h1.2v1.2h-1.2zM586.8 1615.0h1.2v1.2h-1.2zM598.6 1616.9h1.2v1.2h-1.2zM580.2 1620.0h1.2v1.2h-1.2zM582.1 1636.4h1.2v1.2h-1.2zM599.6 1611.2h1.2v1.2h-1.2zM603.3 1645.7h1.2v1.2h-1.2zM604.9 1640.0h1.2v1.2h-1.2zM597.8 1605.3h1.2v1.2h-1.2zM594.2 1606.8h1.2v1.2h-1.2zM577.7 1640.3h1.2v1.2h-1.2zM585.8 1618.7h1.2v1.2h-1.2zM593.1 1643.3h1.2v1.2h-1.2zM594.6 1611.8h1.2v1.2h-1.2zM589.3 1604.4h1.2v1.2h-1.2zM609.8 1614.0h1.2v1.2h-1.2zM606.6 1634.5h1.2v1.2h-1.2zM600.7 1610.9h1.2v1.2h-1.2zM586.5 1614.3h1.2v1.2h-1.2zM582.6 1610.8h1.2v1.2h-1.2zM591.7 1662.4h1.2v1.2h-1.2zM590.2 1597.6h1.2v1.2h-1.2zM599.4 1656.7h1.2v1.2h-1.2zM571.4 1638.0h1.2v1.2h-1.2zM581.5 1590.5h1.2v1.2h-1.2zM599.5 1658.1h1.2v1.2h-1.2zM599.3 1647.5h1.2v1.2h-1.2zM606.4 1638.2h1.2v1.2h-1.2zM599.7 1634.8h1.2v1.2h-1.2zM588.0 1639.4h1.2v1.2h-1.2zM607.8 1646.0h1.2v1.2h-1.2zM575.7 1662.2h1.2v1.2h-1.2zM607.5 1629.4h1.2v1.2h-1.2zM584.6 1617.7h1.2v1.2h-1.2zM590.8 1608.2h1.2v1.2h-1.2zM578.9 1614.1h1.2v1.2h-1.2zM569.5 1620.2h1.2v1.2h-1.2zM581.3 1619.3h1.2v1.2h-1.2zM591.5 1665.7h1.2v1.2h-1.2zM600.7 1604.9h1.2v1.2h-1.2zM592.2 1610.5h1.2v1.2h-1.2zM592.5 1642.2h1.2v1.2h-1.2zM583.2 1631.7h1.2v1.2h-1.2zM578.8 1657.1h1.2v1.2h-1.2zM599.1 1640.0h1.2v1.2h-1.2zM586.8 1589.3h1.2v1.2h-1.2zM595.2 1607.0h1.2v1.2h-1.2zM609.0 1662.3h1.2v1.2h-1.2zM588.1 1654.1h1.2v1.2h-1.2zM578.8 1639.0h1.2v1.2h-1.2zM601.0 1645.7h1.2v1.2h-1.2zM588.0 1650.4h1.2v1.2h-1.2zM597.6 1648.6h1.2v1.2h-1.2zM600.8 1612.3h1.2v1.2h-1.2zM600.1 1614.4h1.2v1.2h-1.2zM595.7 1654.2h1.2v1.2h-1.2zM589.8 1652.8h1.2v1.2h-1.2zM599.9 1657.4h1.2v1.2h-1.2zM585.6 1672.7h1.2v1.2h-1.2zM595.7 1602.4h1.2v1.2h-1.2zM582.9 1627.6h1.2v1.2h-1.2zM594.4 1647.2h1.2v1.2h-1.2zM603.1 1651.4h1.2v1.2h-1.2zM585.2 1638.9h1.2v1.2h-1.2zM585.0 1657.4h1.2v1.2h-1.2zM607.0 1637.1h1.2v1.2h-1.2zM585.8 1651.9h1.2v1.2h-1.2zM597.1 1601.3h1.2v1.2h-1.2zM600.2 1648.0h1.2v1.2h-1.2zM598.7 1592.1h1.2v1.2h-1.2zM600.6 1649.5h1.2v1.2h-1.2zM588.8 1652.0h1.2v1.2h-1.2zM598.8 1649.5h1.2v1.2h-1.2zM578.5 1622.9h1.2v1.2h-1.2zM598.5 1597.5h1.2v1.2h-1.2zM595.1 1664.9h1.2v1.2h-1.2zM580.0 1658.4h1.2v1.2h-1.2zM602.1 1610.0h1.2v1.2h-1.2zM586.6 1610.1h1.2v1.2h-1.2zM596.8 1579.3h1.2v1.2h-1.2zM599.9 1596.2h1.2v1.2h-1.2zM600.6 1607.0h1.2v1.2h-1.2zM586.1 1652.9h1.2v1.2h-1.2zM608.6 1626.6h1.2v1.2h-1.2zM603.6 1650.5h1.2v1.2h-1.2zM608.2 1616.1h1.2v1.2h-1.2zM599.7 1600.2h1.2v1.2h-1.2zM586.3 1624.1h1.2v1.2h-1.2zM602.5 1618.6h1.2v1.2h-1.2zM601.2 1571.6h1.2v1.2h-1.2zM580.9 1620.9h1.2v1.2h-1.2zM608.2 1622.7h1.2v1.2h-1.2zM581.5 1616.7h1.2v1.2h-1.2zM600.0 1593.1h1.2v1.2h-1.2zM586.0 1638.6h1.2v1.2h-1.2zM598.8 1663.4h1.2v1.2h-1.2zM583.1 1615.7h1.2v1.2h-1.2zM581.3 1656.5h1.2v1.2h-1.2zM572.1 1636.4h1.2v1.2h-1.2zM597.7 1641.6h1.2v1.2h-1.2zM589.4 1674.7h1.2v1.2h-1.2zM590.5 1593.8h1.2v1.2h-1.2zM587.4 1611.7h1.2v1.2h-1.2zM605.4 1626.6h1.2v1.2h-1.2zM585.0 1607.9h1.2v1.2h-1.2zM592.6 1649.2h1.2v1.2h-1.2zM580.9 1613.7h1.2v1.2h-1.2zM595.9 1596.6h1.2v1.2h-1.2zM599.7 1658.1h1.2v1.2h-1.2zM595.3 1647.0h1.2v1.2h-1.2zM606.1 1621.1h1.2v1.2h-1.2zM603.3 1621.9h1.2v1.2h-1.2zM609.6 1660.6h1.2v1.2h-1.2zM598.3 1601.7h1.2v1.2h-1.2zM602.2 1619.7h1.2v1.2h-1.2zM580.8 1618.9h1.2v1.2h-1.2zM595.8 1649.8h1.2v1.2h-1.2zM602.8 1616.2h1.2v1.2h-1.2zM584.6 1637.1h1.2v1.2h-1.2zM593.7 1596.6h1.2v1.2h-1.2zM593.8 1671.7h1.2v1.2h-1.2zM587.3 1613.4h1.2v1.2h-1.2zM606.1 1635.8h1.2v1.2h-1.2zM587.8 1641.1h1.2v1.2h-1.2zM590.0 1614.0h1.2v1.2h-1.2zM598.5 1611.6h1.2v1.2h-1.2zM602.1 1665.0h1.2v1.2h-1.2zM588.7 1615.8h1.2v1.2h-1.2zM602.0 1606.7h1.2v1.2h-1.2zM596.7 1655.1h1.2v1.2h-1.2zM602.5 1610.6h1.2v1.2h-1.2zM606.4 1609.5h1.2v1.2h-1.2zM604.0 1596.0h1.2v1.2h-1.2zM585.4 1639.7h1.2v1.2h-1.2zM595.9 1647.5h1.2v1.2h-1.2zM586.7 1645.4h1.2v1.2h-1.2zM603.8 1610.4h1.2v1.2h-1.2zM606.0 1662.9h1.2v1.2h-1.2zM583.4 1609.9h1.2v1.2h-1.2zM593.4 1610.4h1.2v1.2h-1.2z" fill="#000"/>
<ellipse cx="594.3" cy="1627.7" rx="7" ry="13.4" fill="#fff" stroke="#000" stroke-width="1.1"/>
<polygon points="571.70,1518.00 606.10,1511.80 610.60,1547.00 569.90,1596.00 550.90,1576.00 550.00,1555.30" stroke="#000" stroke-width="1.10" fill="none" stroke-linejoin="miter"/>
<polygon points="564.50,1608.70 598.00,1566.10 611.60,1573.40 611.60,1678.40 565.40,1678.40" stroke="#d42a2a" stroke-width="3.40" fill="none" stroke-linejoin="miter"/>
<g transform="translate(586.54 1498.40) scale(0.9955 1)"><text x="0.00" y="0.00" font-size="37.70">92</text></g>
<g transform="translate(447.44 1543.60) scale(0.9956 1)"><text x="0.00" y="0.00" font-size="36.80">Comp.</text></g>
<g transform="translate(537.96 1664.90) scale(1.0005 1)"><text x="0.00" y="0.00" font-size="37.70">8</text></g>
<line x1="580.90" y1="1662.20" x2="580.90" y2="1765.90" stroke="#d42a2a" stroke-width="3.30"/><polygon points="565.40,1763.90 580.90,1768.90 596.40,1763.90 580.90,1793.40" fill="#d42a2a"/>
<g transform="translate(158.17 1754.30) scale(0.9781 1)"><text x="0.00" y="0.00" font-size="36.80">CD45.2-FITC</text></g>
<line x1="382.30" y1="1739.20" x2="614.40" y2="1739.20" stroke="#000" stroke-width="1.60"/><polygon points="612.40,1745.70 615.40,1739.20 612.40,1732.70 626.40,1739.20" fill="#000"/>
<g transform="translate(104.50 1733.79) rotate(-90) scale(0.9548 1)"><text x="0.00" y="0.00" font-size="37.00">CD45.1-APC-Cy7</text></g>
<line x1="776.70" y1="1469.05" x2="776.70" y2="1701.00" stroke="#000" stroke-width="3.00"/>
<line x1="769.00" y1="1700.00" x2="915.80" y2="1700.00" stroke="#000" stroke-width="2.60"/>
<line x1="770.00" y1="1700.00" x2="776.70" y2="1700.00" stroke="#000" stroke-width="2.40"/>
<g transform="translate(745.00 1700.00) scale(1.0000 1)"><text x="0.00" y="0.00" font-size="29.00">0</text></g>
<line x1="770.00" y1="1623.35" x2="776.70" y2="1623.35" stroke="#000" stroke-width="2.40"/>
<g transform="translate(729.20 1633.35) scale(1.0000 1)"><text x="0.00" y="0.00" font-size="29.00">0.5</text></g>
<line x1="770.00" y1="1546.70" x2="776.70" y2="1546.70" stroke="#000" stroke-width="2.40"/>
<g transform="translate(729.12 1556.70) scale(1.0000 1)"><text x="0.00" y="0.00" font-size="29.00">1.0</text></g>
<line x1="770.00" y1="1470.05" x2="776.70" y2="1470.05" stroke="#000" stroke-width="2.40"/>
<g transform="translate(729.20 1486.55) scale(1.0000 1)"><text x="0.00" y="0.00" font-size="29.00">1.5</text></g>
<g transform="translate(790.83 1499.20) scale(0.9775 1)"><text x="0.00" y="0.00" font-size="29.00" font-style="italic">P</text><text x="19.34" y="0.00" font-size="29.00"> = 0.0006</text></g>
<line x1="813.30" y1="1512.00" x2="876.70" y2="1512.00" stroke="#000" stroke-width="1.60"/>
<circle cx="815.80" cy="1537.20" r="9.40" stroke="#2424a8" stroke-width="1.80" fill="none"/>
<circle cx="815.80" cy="1578.30" r="9.40" stroke="#2424a8" stroke-width="1.80" fill="none"/>
<circle cx="810.80" cy="1600.80" r="9.40" stroke="#2424a8" stroke-width="1.80" fill="none"/>
<circle cx="820.30" cy="1614.20" r="9.40" stroke="#2424a8" stroke-width="1.80" fill="none"/>
<circle cx="815.80" cy="1620.80" r="9.40" stroke="#2424a8" stroke-width="1.80" fill="none"/>
<line x1="815.80" y1="1574.70" x2="815.80" y2="1605.00" stroke="#2424a8" stroke-width="1.80"/>
<line x1="806.50" y1="1574.70" x2="825.00" y2="1574.70" stroke="#2424a8" stroke-width="1.80"/>
<line x1="806.50" y1="1605.00" x2="825.00" y2="1605.00" stroke="#2424a8" stroke-width="1.80"/>
<line x1="790.80" y1="1590.30" x2="840.80" y2="1590.30" stroke="#000" stroke-width="1.80"/>
<rect x="850.70" y="1682.20" width="19.60" height="19.60" stroke="#d42a2a" stroke-width="1.80" fill="none"/>
<rect x="862.20" y="1684.70" width="19.60" height="19.60" stroke="#d42a2a" stroke-width="1.80" fill="none"/>
<rect x="872.20" y="1683.20" width="19.60" height="19.60" stroke="#d42a2a" stroke-width="1.80" fill="none"/>
<rect x="881.00" y="1675.20" width="19.60" height="19.60" stroke="#d42a2a" stroke-width="1.80" fill="none"/>
<rect x="866.20" y="1686.20" width="19.60" height="19.60" stroke="#d42a2a" stroke-width="1.80" fill="none"/>
<line x1="849.00" y1="1692.50" x2="900.80" y2="1692.50" stroke="#d42a2a" stroke-width="1.80"/>
<line x1="866.00" y1="1692.50" x2="884.00" y2="1692.50" stroke="#d42a2a" stroke-width="4.50"/>
<g transform="translate(783.95 1732.50) scale(0.9924 1)"><text x="0.00" y="0.00" font-size="36.80">Ctrl</text></g>
<g transform="translate(848.69 1732.50) scale(0.9981 1)"><text x="0.00" y="0.00" font-size="36.80">KO</text></g>
<g transform="translate(676.50 1677.49) rotate(-90) scale(0.9538 1)"><text x="0.00" y="0.00" font-size="37.00">Tester-Comp.</text></g>
<g transform="translate(720.00 1604.91) rotate(-90) scale(0.9814 1)"><text x="0.00" y="0.00" font-size="37.00">ratio</text></g>
<rect x="163.60" y="1800.10" width="229.40" height="229.80" stroke="#555" stroke-width="1.30" fill="none"/><path d="M158.1 2014.9H163.6M177.1 2029.9V2035.4M158.1 1977.8H163.6M214.6 2029.9V2035.4M158.1 1939.0H163.6M252.5 2029.9V2035.4M158.1 1876.6H163.6M314.9 2029.9V2035.4M158.1 1821.5H163.6M370.6 2029.9V2035.4" stroke="#000" stroke-width="1.8" fill="none"/><path d="M160.4 1982.9H163.6M209.4 2029.9V2033.1M160.4 1987.8H163.6M204.4 2029.9V2033.1M160.4 1992.4H163.6M199.8 2029.9V2033.1M160.4 1996.7H163.6M195.5 2029.9V2033.1M160.4 2000.5H163.6M191.7 2029.9V2033.1M160.4 2003.9H163.6M188.2 2029.9V2033.1M160.4 2007.1H163.6M185.0 2029.9V2033.1M160.4 2009.9H163.6M182.1 2029.9V2033.1M160.4 2012.5H163.6M179.5 2029.9V2033.1M160.4 1972.4H163.6M219.8 2029.9V2033.1M160.4 1967.3H163.6M224.9 2029.9V2033.1M160.4 1962.5H163.6M229.6 2029.9V2033.1M160.4 1958.1H163.6M233.9 2029.9V2033.1M160.4 1954.1H163.6M237.8 2029.9V2033.1M160.4 1950.5H163.6M241.3 2029.9V2033.1M160.4 1947.2H163.6M244.5 2029.9V2033.1M160.4 1944.2H163.6M247.4 2029.9V2033.1M160.4 1941.5H163.6M250.1 2029.9V2033.1M160.4 1978.3H163.6M214.1 2029.9V2033.1M160.4 1979.3H163.6M213.0 2029.9V2033.1M160.4 1980.4H163.6M212.0 2029.9V2033.1M160.4 1981.4H163.6M211.0 2029.9V2033.1M160.4 1982.4H163.6M209.9 2029.9V2033.1M160.4 1977.3H163.6M215.1 2029.9V2033.1M160.4 1976.2H163.6M216.2 2029.9V2033.1M160.4 1975.1H163.6M217.2 2029.9V2033.1M160.4 1974.0H163.6M218.3 2029.9V2033.1M160.4 1973.0H163.6M219.3 2029.9V2033.1M160.4 1920.9H163.6M270.6 2029.9V2033.1M160.4 1909.9H163.6M281.6 2029.9V2033.1M160.4 1902.0H163.6M289.5 2029.9V2033.1M160.4 1895.8H163.6M295.7 2029.9V2033.1M160.4 1890.8H163.6M300.7 2029.9V2033.1M160.4 1886.5H163.6M305.0 2029.9V2033.1M160.4 1882.8H163.6M308.7 2029.9V2033.1M160.4 1879.5H163.6M312.0 2029.9V2033.1M160.4 1860.0H163.6M331.7 2029.9V2033.1M160.4 1850.3H163.6M341.5 2029.9V2033.1M160.4 1843.4H163.6M348.4 2029.9V2033.1M160.4 1838.1H163.6M353.8 2029.9V2033.1M160.4 1833.7H163.6M358.2 2029.9V2033.1M160.4 1830.0H163.6M362.0 2029.9V2033.1M160.4 1826.8H163.6M365.2 2029.9V2033.1M160.4 1824.0H163.6M368.1 2029.9V2033.1M160.4 1804.9H163.6M387.4 2029.9V2033.1" stroke="#000" stroke-width="1.1" fill="none"/><g transform="translate(125.88 1832.30) scale(1.0000 1)"><text x="0.00" y="0.00" font-size="20.80">10</text></g><g transform="translate(144.81 1820.80) scale(1.0000 1)"><text x="0.00" y="0.00" font-size="20.80">5</text></g><g transform="translate(125.88 1887.40) scale(1.0000 1)"><text x="0.00" y="0.00" font-size="20.80">10</text></g><g transform="translate(144.54 1875.90) scale(1.0000 1)"><text x="0.00" y="0.00" font-size="20.80">4</text></g><g transform="translate(125.88 1949.80) scale(1.0000 1)"><text x="0.00" y="0.00" font-size="20.80">10</text></g><g transform="translate(144.85 1938.30) scale(1.0000 1)"><text x="0.00" y="0.00" font-size="20.80">3</text></g><g transform="translate(141.04 1988.80) scale(1.0000 1)"><text x="0.00" y="0.00" font-size="20.80">0</text></g><g transform="translate(118.95 2028.90) scale(1.0000 1)"><text x="0.00" y="0.00" font-size="20.80">-10</text></g><g transform="translate(144.85 2017.70) scale(1.0000 1)"><text x="0.00" y="0.00" font-size="20.80">3</text></g><g transform="translate(245.42 2061.70) scale(1.0000 1)"><text x="0.00" y="0.00" font-size="20.80">10</text></g><g transform="translate(266.45 2053.20) scale(1.0000 1)"><text x="0.00" y="0.00" font-size="20.80">3</text></g><g transform="translate(308.82 2061.70) scale(1.0000 1)"><text x="0.00" y="0.00" font-size="20.80">10</text></g><g transform="translate(330.16 2053.20) scale(1.0000 1)"><text x="0.00" y="0.00" font-size="20.80">4</text></g><g transform="translate(359.82 2061.70) scale(1.0000 1)"><text x="0.00" y="0.00" font-size="20.80">10</text></g><g transform="translate(380.81 2053.20) scale(1.0000 1)"><text x="0.00" y="0.00" font-size="20.80">5</text></g><g transform="translate(165.88 2061.70) scale(1.0000 1)"><text x="0.00" y="0.00" font-size="20.80">-10</text></g><g transform="translate(193.83 2053.20) scale(1.0000 1)"><text x="0.00" y="0.00" font-size="20.80">3</text></g><g transform="translate(209.82 2061.70) scale(1.0000 1)"><text x="0.00" y="0.00" font-size="20.80">0</text></g>
<ellipse cx="353.20" cy="1845.50" rx="21.76" ry="11.56" transform="rotate(-45.0 353.20 1845.50)" fill="#000" fill-opacity="0.92"/><path d="M340.5 1881.2h1.1v1.1h-1.1zM344.5 1884.3h1.1v1.1h-1.1zM343.6 1886.1h1.1v1.1h-1.1zM337.7 1875.2h1.1v1.1h-1.1zM331.1 1891.5h1.1v1.1h-1.1zM328.0 1877.6h1.1v1.1h-1.1zM326.5 1875.3h1.1v1.1h-1.1zM331.1 1881.5h1.1v1.1h-1.1zM331.2 1876.6h1.1v1.1h-1.1zM327.7 1880.2h1.1v1.1h-1.1zM319.7 1879.9h1.1v1.1h-1.1zM348.9 1873.3h1.1v1.1h-1.1zM334.0 1902.0h1.1v1.1h-1.1zM323.5 1866.5h1.1v1.1h-1.1zM329.8 1893.9h1.1v1.1h-1.1zM356.8 1869.7h1.1v1.1h-1.1zM340.7 1879.5h1.1v1.1h-1.1zM328.0 1863.9h1.1v1.1h-1.1zM345.7 1872.6h1.1v1.1h-1.1zM337.7 1880.1h1.1v1.1h-1.1zM355.0 1888.9h1.1v1.1h-1.1zM321.7 1877.4h1.1v1.1h-1.1zM345.9 1868.8h1.1v1.1h-1.1zM330.1 1881.3h1.1v1.1h-1.1zM316.7 1869.6h1.1v1.1h-1.1zM315.7 1881.7h1.1v1.1h-1.1zM328.3 1886.9h1.1v1.1h-1.1zM335.7 1884.0h1.1v1.1h-1.1zM333.5 1885.5h1.1v1.1h-1.1zM333.3 1871.6h1.1v1.1h-1.1zM347.5 1887.3h1.1v1.1h-1.1zM359.4 1878.3h1.1v1.1h-1.1zM328.1 1867.9h1.1v1.1h-1.1zM292.0 1869.0h1.1v1.1h-1.1zM339.8 1872.4h1.1v1.1h-1.1zM305.9 1884.3h1.1v1.1h-1.1zM327.9 1876.6h1.1v1.1h-1.1zM329.7 1878.4h1.1v1.1h-1.1zM332.0 1875.4h1.1v1.1h-1.1zM347.0 1871.2h1.1v1.1h-1.1zM352.5 1884.3h1.1v1.1h-1.1zM352.3 1873.8h1.1v1.1h-1.1zM343.3 1882.4h1.1v1.1h-1.1zM318.0 1877.4h1.1v1.1h-1.1zM329.5 1871.7h1.1v1.1h-1.1zM326.0 1867.9h1.1v1.1h-1.1zM329.3 1882.1h1.1v1.1h-1.1zM325.9 1866.9h1.1v1.1h-1.1zM345.9 1876.5h1.1v1.1h-1.1zM334.8 1877.6h1.1v1.1h-1.1zM328.5 1884.3h1.1v1.1h-1.1zM328.6 1879.7h1.1v1.1h-1.1zM318.6 1866.3h1.1v1.1h-1.1zM330.2 1894.7h1.1v1.1h-1.1zM336.4 1894.9h1.1v1.1h-1.1zM339.4 1883.1h1.1v1.1h-1.1zM328.0 1879.3h1.1v1.1h-1.1zM354.2 1888.9h1.1v1.1h-1.1zM327.6 1875.7h1.1v1.1h-1.1zM349.2 1875.3h1.1v1.1h-1.1zM344.6 1872.2h1.1v1.1h-1.1zM341.4 1891.7h1.1v1.1h-1.1zM343.6 1881.4h1.1v1.1h-1.1zM336.0 1878.8h1.1v1.1h-1.1zM334.2 1888.9h1.1v1.1h-1.1zM347.1 1882.7h1.1v1.1h-1.1zM320.6 1875.3h1.1v1.1h-1.1zM337.7 1879.9h1.1v1.1h-1.1zM319.6 1884.8h1.1v1.1h-1.1zM363.0 1869.6h1.1v1.1h-1.1zM335.2 1892.4h1.1v1.1h-1.1zM329.9 1876.2h1.1v1.1h-1.1zM336.3 1884.0h1.1v1.1h-1.1zM329.9 1887.3h1.1v1.1h-1.1zM313.5 1884.7h1.1v1.1h-1.1zM338.5 1878.2h1.1v1.1h-1.1zM338.7 1879.8h1.1v1.1h-1.1zM349.1 1875.8h1.1v1.1h-1.1zM322.1 1877.5h1.1v1.1h-1.1zM317.3 1872.7h1.1v1.1h-1.1zM319.9 1875.5h1.1v1.1h-1.1zM335.7 1887.0h1.1v1.1h-1.1zM313.1 1877.8h1.1v1.1h-1.1zM344.0 1890.5h1.1v1.1h-1.1zM349.9 1868.0h1.1v1.1h-1.1zM328.8 1884.0h1.1v1.1h-1.1zM344.8 1881.7h1.1v1.1h-1.1zM337.4 1881.4h1.1v1.1h-1.1zM326.0 1880.7h1.1v1.1h-1.1zM343.4 1876.7h1.1v1.1h-1.1zM330.9 1893.1h1.1v1.1h-1.1zM344.1 1891.0h1.1v1.1h-1.1zM336.1 1870.0h1.1v1.1h-1.1zM328.8 1891.6h1.1v1.1h-1.1zM314.2 1871.8h1.1v1.1h-1.1zM315.6 1875.2h1.1v1.1h-1.1zM329.8 1884.1h1.1v1.1h-1.1zM325.4 1893.2h1.1v1.1h-1.1zM341.6 1875.7h1.1v1.1h-1.1zM323.5 1867.5h1.1v1.1h-1.1zM335.8 1895.3h1.1v1.1h-1.1zM332.7 1871.2h1.1v1.1h-1.1zM333.8 1875.3h1.1v1.1h-1.1zM324.5 1864.3h1.1v1.1h-1.1zM333.9 1891.4h1.1v1.1h-1.1zM348.0 1887.4h1.1v1.1h-1.1zM336.8 1883.3h1.1v1.1h-1.1zM345.6 1879.1h1.1v1.1h-1.1zM337.6 1876.3h1.1v1.1h-1.1zM347.0 1872.1h1.1v1.1h-1.1zM342.0 1886.4h1.1v1.1h-1.1zM343.8 1885.2h1.1v1.1h-1.1zM329.5 1875.0h1.1v1.1h-1.1zM330.0 1876.5h1.1v1.1h-1.1zM322.2 1876.0h1.1v1.1h-1.1zM327.6 1872.0h1.1v1.1h-1.1zM338.6 1873.5h1.1v1.1h-1.1zM337.3 1891.3h1.1v1.1h-1.1zM353.2 1879.7h1.1v1.1h-1.1zM345.9 1881.6h1.1v1.1h-1.1zM361.0 1892.8h1.1v1.1h-1.1zM347.0 1878.3h1.1v1.1h-1.1zM331.9 1884.0h1.1v1.1h-1.1zM334.3 1877.6h1.1v1.1h-1.1zM342.3 1869.6h1.1v1.1h-1.1zM312.6 1871.4h1.1v1.1h-1.1zM321.9 1878.9h1.1v1.1h-1.1zM325.0 1878.0h1.1v1.1h-1.1zM312.3 1891.4h1.1v1.1h-1.1zM339.0 1872.6h1.1v1.1h-1.1zM338.1 1889.4h1.1v1.1h-1.1zM343.9 1878.8h1.1v1.1h-1.1zM341.4 1886.7h1.1v1.1h-1.1zM321.2 1868.0h1.1v1.1h-1.1zM328.0 1887.5h1.1v1.1h-1.1zM350.9 1880.6h1.1v1.1h-1.1zM351.2 1887.6h1.1v1.1h-1.1zM333.8 1873.6h1.1v1.1h-1.1zM327.5 1880.2h1.1v1.1h-1.1zM350.1 1886.3h1.1v1.1h-1.1zM320.1 1869.7h1.1v1.1h-1.1zM343.6 1881.1h1.1v1.1h-1.1zM324.1 1885.0h1.1v1.1h-1.1zM349.7 1886.0h1.1v1.1h-1.1zM335.8 1890.3h1.1v1.1h-1.1zM330.3 1874.8h1.1v1.1h-1.1zM324.4 1894.8h1.1v1.1h-1.1zM358.1 1879.3h1.1v1.1h-1.1zM341.2 1883.2h1.1v1.1h-1.1zM345.0 1889.2h1.1v1.1h-1.1zM342.2 1878.9h1.1v1.1h-1.1zM328.9 1871.4h1.1v1.1h-1.1zM305.7 1878.8h1.1v1.1h-1.1zM325.5 1879.9h1.1v1.1h-1.1zM333.5 1871.4h1.1v1.1h-1.1zM329.1 1882.9h1.1v1.1h-1.1zM336.5 1872.5h1.1v1.1h-1.1zM326.3 1884.2h1.1v1.1h-1.1zM337.3 1882.1h1.1v1.1h-1.1zM332.9 1885.6h1.1v1.1h-1.1zM335.7 1899.9h1.1v1.1h-1.1zM329.5 1874.0h1.1v1.1h-1.1zM352.9 1879.0h1.1v1.1h-1.1zM326.0 1883.1h1.1v1.1h-1.1zM309.1 1883.2h1.1v1.1h-1.1z" fill="#000"/><path d="M318.0 1902.3h1.1v1.1h-1.1zM306.4 1912.8h1.1v1.1h-1.1zM322.1 1899.4h1.1v1.1h-1.1zM322.7 1891.2h1.1v1.1h-1.1zM315.8 1884.5h1.1v1.1h-1.1zM302.1 1902.5h1.1v1.1h-1.1zM319.3 1907.0h1.1v1.1h-1.1zM308.3 1898.4h1.1v1.1h-1.1zM307.9 1902.1h1.1v1.1h-1.1zM328.5 1910.2h1.1v1.1h-1.1zM325.5 1891.6h1.1v1.1h-1.1zM320.4 1889.1h1.1v1.1h-1.1zM290.5 1901.2h1.1v1.1h-1.1zM318.6 1906.9h1.1v1.1h-1.1zM328.9 1887.1h1.1v1.1h-1.1zM304.6 1899.3h1.1v1.1h-1.1zM318.3 1903.4h1.1v1.1h-1.1zM299.0 1896.8h1.1v1.1h-1.1zM326.3 1918.3h1.1v1.1h-1.1zM299.7 1915.5h1.1v1.1h-1.1zM313.2 1884.8h1.1v1.1h-1.1zM335.8 1888.6h1.1v1.1h-1.1zM300.8 1906.4h1.1v1.1h-1.1zM331.7 1899.9h1.1v1.1h-1.1zM307.0 1884.3h1.1v1.1h-1.1zM318.6 1875.8h1.1v1.1h-1.1zM296.7 1909.8h1.1v1.1h-1.1zM325.7 1911.3h1.1v1.1h-1.1zM322.7 1887.7h1.1v1.1h-1.1zM323.6 1881.0h1.1v1.1h-1.1zM326.7 1912.7h1.1v1.1h-1.1zM302.9 1909.3h1.1v1.1h-1.1zM317.4 1897.4h1.1v1.1h-1.1zM289.2 1897.4h1.1v1.1h-1.1zM329.0 1881.9h1.1v1.1h-1.1zM310.1 1891.9h1.1v1.1h-1.1zM294.0 1909.4h1.1v1.1h-1.1zM317.1 1899.4h1.1v1.1h-1.1zM330.6 1891.5h1.1v1.1h-1.1zM362.4 1894.4h1.1v1.1h-1.1zM300.5 1905.4h1.1v1.1h-1.1zM322.2 1889.5h1.1v1.1h-1.1zM304.3 1907.5h1.1v1.1h-1.1zM321.2 1903.4h1.1v1.1h-1.1zM329.3 1893.2h1.1v1.1h-1.1zM334.9 1899.6h1.1v1.1h-1.1zM327.4 1890.2h1.1v1.1h-1.1zM327.9 1902.2h1.1v1.1h-1.1zM352.1 1897.9h1.1v1.1h-1.1zM338.9 1905.9h1.1v1.1h-1.1z" fill="#000"/><path d="M383.4 1830.9h1.1v1.1h-1.1zM370.4 1816.2h1.1v1.1h-1.1zM379.2 1836.0h1.1v1.1h-1.1zM371.5 1823.3h1.1v1.1h-1.1zM386.5 1840.6h1.1v1.1h-1.1zM344.7 1819.4h1.1v1.1h-1.1zM385.2 1820.8h1.1v1.1h-1.1zM367.5 1821.8h1.1v1.1h-1.1z" fill="#000"/><path d="M375.1 1823.6 376.8 1825.1 377.9 1827.2 378.5 1829.6 378.6 1832.5 378.1 1835.6 377.0 1838.8 375.6 1842.2 373.8 1845.5 371.7 1848.8 369.4 1852.0 366.8 1855.2 364.1 1858.2 361.1 1861.1 358.0 1863.8 354.8 1866.2 351.4 1868.3 348.0 1870.0 344.7 1871.2 341.5 1872.0 338.6 1872.2 335.9 1872.1 333.5 1871.4 331.4 1870.4 329.7 1869.0 328.3 1867.2 327.4 1865.1 326.9 1862.7 326.8 1859.9 327.1 1857.0 327.9 1853.9 329.1 1850.6 330.6 1847.3 332.5 1843.9 334.8 1840.6 337.3 1837.4 340.2 1834.3 343.2 1831.4 346.5 1828.8 349.8 1826.6 353.2 1824.7 356.5 1823.3 359.7 1822.3 362.7 1821.6 365.6 1821.3 368.3 1821.4 370.8 1821.7 373.1 1822.4ZM374.1 1824.6 375.6 1826.1 376.8 1828.0 377.4 1830.3 377.6 1832.9 377.1 1835.9 376.2 1839.0 374.8 1842.2 373.0 1845.4 371.0 1848.6 368.7 1851.6 366.3 1854.6 363.6 1857.5 360.8 1860.2 357.9 1862.8 354.8 1865.1 351.6 1867.1 348.4 1868.7 345.2 1869.9 342.2 1870.7 339.3 1870.9 336.8 1870.7 334.5 1870.1 332.5 1869.1 330.9 1867.8 329.7 1866.1 328.8 1864.0 328.3 1861.7 328.2 1859.1 328.5 1856.3 329.2 1853.4 330.3 1850.3 331.8 1847.1 333.6 1843.9 335.7 1840.7 338.1 1837.6 340.8 1834.7 343.8 1831.9 346.9 1829.4 350.1 1827.2 353.3 1825.5 356.5 1824.2 359.5 1823.2 362.4 1822.7 365.1 1822.4 367.6 1822.5 370.0 1822.9 372.1 1823.6ZM373.1 1825.6 374.5 1827.0 375.6 1828.9 376.1 1831.1 376.2 1833.6 375.8 1836.3 374.9 1839.3 373.6 1842.3 372.0 1845.3 370.2 1848.3 368.1 1851.2 365.8 1854.1 363.3 1856.8 360.6 1859.4 357.8 1861.9 354.8 1864.1 351.8 1866.0 348.7 1867.5 345.7 1868.6 342.9 1869.2 340.2 1869.4 337.9 1869.2 335.7 1868.6 333.9 1867.6 332.3 1866.4 331.0 1864.9 330.1 1863.0 329.5 1860.9 329.4 1858.4 329.6 1855.8 330.3 1852.9 331.4 1850.0 332.9 1846.9 334.7 1843.9 336.8 1840.9 339.1 1838.0 341.7 1835.2 344.5 1832.6 347.4 1830.3 350.4 1828.2 353.4 1826.5 356.4 1825.1 359.3 1824.1 362.1 1823.5 364.7 1823.2 367.2 1823.3 369.4 1823.7 371.4 1824.5ZM372.1 1826.6 373.5 1827.9 374.5 1829.6 375.1 1831.7 375.2 1834.1 374.8 1836.7 373.9 1839.5 372.7 1842.3 371.1 1845.2 369.3 1848.0 367.3 1850.7 365.1 1853.4 362.7 1856.0 360.2 1858.4 357.6 1860.7 354.8 1862.8 352.0 1864.7 349.1 1866.1 346.2 1867.2 343.5 1867.9 341.0 1868.1 338.7 1868.0 336.7 1867.4 335.0 1866.4 333.5 1865.2 332.5 1863.6 331.7 1861.8 331.2 1859.7 331.1 1857.4 331.4 1855.0 332.0 1852.3 332.9 1849.6 334.2 1846.7 335.8 1843.9 337.7 1841.0 339.9 1838.2 342.4 1835.6 345.0 1833.1 347.8 1830.9 350.6 1829.0 353.5 1827.5 356.3 1826.3 359.0 1825.4 361.6 1824.8 364.1 1824.6 366.4 1824.6 368.5 1824.9 370.5 1825.6ZM371.1 1827.6 372.4 1828.8 373.3 1830.5 373.8 1832.4 373.8 1834.7 373.4 1837.2 372.5 1839.8 371.4 1842.4 370.0 1845.1 368.3 1847.7 366.5 1850.3 364.5 1852.8 362.4 1855.2 360.0 1857.6 357.5 1859.8 354.9 1861.7 352.2 1863.4 349.5 1864.7 346.8 1865.6 344.4 1866.1 342.0 1866.3 339.9 1866.1 338.1 1865.6 336.4 1864.8 335.0 1863.7 333.9 1862.4 333.0 1860.7 332.5 1858.8 332.4 1856.7 332.7 1854.3 333.3 1851.8 334.3 1849.2 335.6 1846.5 337.1 1843.8 338.9 1841.2 341.0 1838.6 343.3 1836.1 345.7 1833.8 348.3 1831.8 350.9 1830.0 353.6 1828.5 356.3 1827.3 358.8 1826.5 361.2 1826.0 363.5 1825.7 365.7 1825.8 367.7 1826.1 369.5 1826.7ZM369.9 1828.8 371.1 1830.0 371.9 1831.5 372.4 1833.3 372.4 1835.4 372.1 1837.6 371.3 1840.0 370.3 1842.5 368.9 1845.0 367.4 1847.4 365.7 1849.8 363.8 1852.1 361.8 1854.4 359.6 1856.5 357.3 1858.5 354.9 1860.3 352.4 1861.8 349.9 1863.0 347.5 1863.9 345.2 1864.4 343.0 1864.6 341.1 1864.4 339.3 1864.0 337.8 1863.2 336.4 1862.3 335.4 1861.0 334.6 1859.5 334.2 1857.7 334.1 1855.7 334.3 1853.5 334.9 1851.2 335.8 1848.7 337.0 1846.3 338.5 1843.8 340.2 1841.4 342.1 1839.0 344.2 1836.7 346.4 1834.6 348.8 1832.7 351.3 1831.0 353.8 1829.6 356.2 1828.5 358.6 1827.7 360.8 1827.2 363.0 1827.0 365.0 1827.0 366.8 1827.3 368.5 1827.9ZM368.6 1830.1 369.7 1831.2 370.4 1832.5 370.8 1834.2 370.9 1836.1 370.6 1838.1 370.0 1840.3 369.0 1842.6 367.8 1844.8 366.4 1847.0 364.8 1849.2 363.1 1851.3 361.2 1853.4 359.2 1855.3 357.1 1857.1 354.9 1858.7 352.7 1860.1 350.4 1861.3 348.2 1862.1 346.0 1862.6 344.1 1862.8 342.2 1862.7 340.6 1862.3 339.2 1861.6 338.0 1860.7 337.1 1859.5 336.4 1858.1 336.1 1856.4 336.0 1854.6 336.2 1852.6 336.7 1850.5 337.5 1848.3 338.6 1846.0 339.9 1843.8 341.5 1841.5 343.2 1839.4 345.2 1837.3 347.2 1835.4 349.4 1833.6 351.6 1832.1 353.9 1830.8 356.1 1829.8 358.3 1829.1 360.4 1828.6 362.3 1828.4 364.1 1828.4 365.8 1828.7 367.3 1829.3ZM367.2 1831.5 368.2 1832.4 368.9 1833.7 369.2 1835.2 369.3 1836.8 369.0 1838.7 368.4 1840.7 367.5 1842.7 366.5 1844.7 365.2 1846.7 363.8 1848.6 362.3 1850.5 360.6 1852.4 358.8 1854.1 356.9 1855.7 355.0 1857.1 352.9 1858.3 350.9 1859.3 348.9 1860.0 347.1 1860.5 345.3 1860.7 343.6 1860.6 342.2 1860.3 340.9 1859.7 339.8 1858.9 339.0 1857.8 338.4 1856.6 338.1 1855.1 338.0 1853.4 338.3 1851.6 338.7 1849.7 339.5 1847.8 340.4 1845.8 341.6 1843.7 342.9 1841.7 344.5 1839.8 346.2 1837.9 348.1 1836.2 350.0 1834.6 352.0 1833.3 354.0 1832.1 356.0 1831.3 358.0 1830.6 359.8 1830.2 361.5 1830.0 363.2 1830.0 364.7 1830.3 366.1 1830.7ZM365.6 1833.1 366.4 1833.9 367.0 1835.0 367.4 1836.2 367.4 1837.7 367.2 1839.3 366.6 1841.0 365.9 1842.8 364.9 1844.5 363.8 1846.2 362.6 1847.9 361.3 1849.5 359.9 1851.1 358.4 1852.6 356.7 1854.1 355.0 1855.4 353.3 1856.5 351.5 1857.4 349.7 1858.0 348.1 1858.3 346.6 1858.4 345.2 1858.3 344.0 1857.9 342.9 1857.4 342.0 1856.7 341.3 1855.8 340.8 1854.7 340.4 1853.5 340.3 1852.1 340.5 1850.5 340.9 1848.9 341.5 1847.2 342.3 1845.4 343.4 1843.7 344.6 1842.0 346.0 1840.3 347.5 1838.7 349.0 1837.2 350.7 1835.8 352.5 1834.6 354.2 1833.6 355.9 1832.9 357.6 1832.3 359.2 1831.9 360.7 1831.8 362.1 1831.8 363.4 1832.0 364.6 1832.5ZM363.7 1835.0 364.4 1835.7 364.9 1836.5 365.2 1837.5 365.2 1838.7 365.1 1840.0 364.6 1841.4 364.0 1842.9 363.2 1844.3 362.3 1845.7 361.3 1847.1 360.2 1848.4 359.0 1849.7 357.8 1850.9 356.4 1852.1 355.1 1853.1 353.6 1854.0 352.2 1854.7 350.8 1855.2 349.4 1855.6 348.2 1855.7 347.0 1855.6 346.0 1855.3 345.1 1854.9 344.4 1854.3 343.8 1853.5 343.4 1852.6 343.2 1851.6 343.1 1850.5 343.2 1849.2 343.6 1847.9 344.1 1846.5 344.7 1845.1 345.6 1843.6 346.5 1842.2 347.6 1840.8 348.9 1839.5 350.2 1838.3 351.6 1837.2 353.0 1836.2 354.4 1835.4 355.8 1834.8 357.2 1834.4 358.5 1834.1 359.7 1834.0 360.8 1834.0 361.9 1834.2 362.9 1834.5ZM361.2 1837.5 361.7 1838.0 362.0 1838.6 362.3 1839.3 362.3 1840.1 362.2 1841.0 361.9 1842.0 361.5 1843.0 361.0 1844.0 360.3 1845.0 359.6 1846.0 358.8 1846.9 357.9 1847.8 357.0 1848.7 356.1 1849.5 355.1 1850.2 354.1 1850.9 353.1 1851.4 352.1 1851.8 351.1 1852.0 350.3 1852.1 349.4 1852.1 348.7 1851.9 348.1 1851.5 347.6 1851.1 347.2 1850.6 346.9 1849.9 346.7 1849.2 346.7 1848.4 346.8 1847.5 347.0 1846.6 347.4 1845.6 347.8 1844.6 348.4 1843.6 349.1 1842.6 349.9 1841.6 350.8 1840.7 351.7 1839.8 352.7 1839.0 353.7 1838.3 354.7 1837.7 355.7 1837.3 356.6 1836.9 357.6 1836.8 358.4 1836.7 359.2 1836.7 360.0 1836.9 360.6 1837.1Z" fill="none" stroke="#000" stroke-width="0.90"/>
<rect x="287.80" y="1910.00" width="100.80" height="111.60" stroke="#555" stroke-width="1.30" fill="none"/>
<g transform="translate(307.38 1994.10) scale(0.9247 1)"><text x="0.00" y="0.00" font-size="37.70">&lt;0.1</text></g>
<g transform="translate(155.71 2097.10) scale(1.0133 1)"><text x="0.00" y="0.00" font-size="36.80">CD8</text><text x="73.62" y="0.00" font-size="36.80" font-family="Liberation Serif, serif">α</text><text x="92.90" y="0.00" font-size="36.80">-PE</text></g>
<line x1="318.50" y1="2085.40" x2="621.00" y2="2085.40" stroke="#000" stroke-width="1.60"/><polygon points="619.00,2091.90 622.00,2085.40 619.00,2078.90 633.00,2085.40" fill="#000"/>
<g transform="translate(113.00 2025.83) rotate(-90) scale(0.9741 1)"><text x="0.00" y="0.00" font-size="37.00">CD8</text><text x="74.02" y="0.00" font-size="37.00" font-family="Liberation Serif, serif">β</text><text x="92.84" y="0.00" font-size="37.00">-eF450→</text></g>
<rect x="404.80" y="1800.10" width="229.20" height="230.10" stroke="#555" stroke-width="1.30" fill="none"/><path d="M399.3 2014.9H404.8M418.9 2030.2V2035.7M399.3 1977.8H404.8M456.0 2030.2V2035.7M399.3 1939.0H404.8M493.9 2030.2V2035.7M399.3 1876.6H404.8M557.1 2030.2V2035.7M399.3 1821.5H404.8M611.9 2030.2V2035.7" stroke="#000" stroke-width="1.8" fill="none"/><path d="M401.6 1982.9H404.8M450.9 2030.2V2033.4M401.6 1987.8H404.8M446.0 2030.2V2033.4M401.6 1992.4H404.8M441.4 2030.2V2033.4M401.6 1996.7H404.8M437.1 2030.2V2033.4M401.6 2000.5H404.8M433.3 2030.2V2033.4M401.6 2003.9H404.8M429.9 2030.2V2033.4M401.6 2007.1H404.8M426.7 2030.2V2033.4M401.6 2009.9H404.8M423.9 2030.2V2033.4M401.6 2012.5H404.8M421.3 2030.2V2033.4M401.6 1972.4H404.8M461.2 2030.2V2033.4M401.6 1967.3H404.8M466.3 2030.2V2033.4M401.6 1962.5H404.8M471.0 2030.2V2033.4M401.6 1958.1H404.8M475.3 2030.2V2033.4M401.6 1954.1H404.8M479.2 2030.2V2033.4M401.6 1950.5H404.8M482.7 2030.2V2033.4M401.6 1947.2H404.8M485.9 2030.2V2033.4M401.6 1944.2H404.8M488.8 2030.2V2033.4M401.6 1941.5H404.8M491.5 2030.2V2033.4M401.6 1978.3H404.8M455.5 2030.2V2033.4M401.6 1979.3H404.8M454.5 2030.2V2033.4M401.6 1980.4H404.8M453.4 2030.2V2033.4M401.6 1981.4H404.8M452.4 2030.2V2033.4M401.6 1982.4H404.8M451.4 2030.2V2033.4M401.6 1977.3H404.8M456.5 2030.2V2033.4M401.6 1976.2H404.8M457.6 2030.2V2033.4M401.6 1975.1H404.8M458.6 2030.2V2033.4M401.6 1974.0H404.8M459.7 2030.2V2033.4M401.6 1973.0H404.8M460.7 2030.2V2033.4M401.6 1920.9H404.8M512.2 2030.2V2033.4M401.6 1909.9H404.8M523.4 2030.2V2033.4M401.6 1902.0H404.8M531.4 2030.2V2033.4M401.6 1895.8H404.8M537.7 2030.2V2033.4M401.6 1890.8H404.8M542.8 2030.2V2033.4M401.6 1886.5H404.8M547.1 2030.2V2033.4M401.6 1882.8H404.8M550.8 2030.2V2033.4M401.6 1879.5H404.8M554.1 2030.2V2033.4M401.6 1860.0H404.8M573.6 2030.2V2033.4M401.6 1850.3H404.8M583.2 2030.2V2033.4M401.6 1843.4H404.8M590.1 2030.2V2033.4M401.6 1838.1H404.8M595.4 2030.2V2033.4M401.6 1833.7H404.8M599.7 2030.2V2033.4M401.6 1830.0H404.8M603.4 2030.2V2033.4M401.6 1826.8H404.8M606.6 2030.2V2033.4M401.6 1824.0H404.8M609.4 2030.2V2033.4M401.6 1804.9H404.8M628.4 2030.2V2033.4" stroke="#000" stroke-width="1.1" fill="none"/>
<ellipse cx="598.60" cy="1849.90" rx="22.44" ry="13.60" transform="rotate(-55.0 598.60 1849.90)" fill="#000" fill-opacity="0.90"/><path d="M598.0 1884.5h1.1v1.1h-1.1zM572.8 1881.3h1.1v1.1h-1.1zM581.1 1881.1h1.1v1.1h-1.1zM594.1 1875.7h1.1v1.1h-1.1zM582.6 1887.8h1.1v1.1h-1.1zM591.1 1878.3h1.1v1.1h-1.1zM602.1 1884.6h1.1v1.1h-1.1zM574.9 1882.7h1.1v1.1h-1.1zM576.1 1885.1h1.1v1.1h-1.1zM571.0 1885.3h1.1v1.1h-1.1zM566.7 1889.0h1.1v1.1h-1.1zM587.2 1890.6h1.1v1.1h-1.1zM570.8 1881.0h1.1v1.1h-1.1zM604.1 1885.9h1.1v1.1h-1.1zM597.6 1877.2h1.1v1.1h-1.1zM579.1 1880.5h1.1v1.1h-1.1z" fill="#000"/><path d="M616.9 1823.5 618.7 1825.4 620.2 1827.7 621.3 1830.3 622.0 1833.2 622.4 1836.4 622.3 1839.8 621.8 1843.4 620.9 1847.0 619.7 1850.7 618.2 1854.5 616.4 1858.2 614.3 1861.9 611.9 1865.5 609.1 1868.9 606.1 1872.1 602.9 1874.8 599.5 1877.1 596.1 1878.8 592.8 1879.9 589.6 1880.4 586.6 1880.3 583.9 1879.7 581.4 1878.7 579.3 1877.2 577.4 1875.4 575.8 1873.3 574.6 1870.7 573.8 1867.9 573.5 1864.7 573.5 1861.3 574.0 1857.7 574.9 1854.0 576.1 1850.3 577.7 1846.5 579.6 1842.8 581.8 1839.1 584.2 1835.6 587.0 1832.2 589.9 1829.1 593.1 1826.4 596.5 1824.0 599.9 1822.3 603.2 1821.1 606.4 1820.5 609.5 1820.5 612.2 1821.0 614.7 1822.1ZM616.3 1824.4 618.1 1826.2 619.6 1828.3 620.7 1830.8 621.5 1833.6 622.0 1836.6 621.9 1839.9 621.5 1843.4 620.6 1847.0 619.2 1850.7 617.6 1854.3 615.6 1857.8 613.4 1861.1 611.0 1864.4 608.4 1867.4 605.6 1870.3 602.6 1872.9 599.5 1875.2 596.3 1877.0 593.1 1878.3 590.0 1879.0 587.1 1879.1 584.4 1878.7 582.0 1877.7 579.9 1876.4 578.1 1874.6 576.5 1872.6 575.3 1870.2 574.4 1867.4 574.0 1864.3 574.0 1861.0 574.6 1857.5 575.6 1853.8 577.0 1850.2 578.7 1846.6 580.7 1843.1 582.9 1839.8 585.3 1836.6 587.9 1833.5 590.6 1830.6 593.6 1828.0 596.7 1825.6 599.9 1823.7 603.1 1822.3 606.2 1821.6 609.1 1821.5 611.8 1821.9 614.2 1822.9ZM615.6 1825.4 617.3 1827.2 618.7 1829.3 619.7 1831.7 620.4 1834.3 620.7 1837.3 620.6 1840.4 620.1 1843.7 619.2 1847.1 618.0 1850.6 616.5 1853.9 614.7 1857.3 612.7 1860.5 610.5 1863.6 608.0 1866.7 605.4 1869.5 602.6 1872.1 599.6 1874.3 596.5 1876.0 593.4 1877.2 590.4 1877.8 587.7 1877.9 585.1 1877.4 582.8 1876.5 580.8 1875.2 579.0 1873.5 577.6 1871.5 576.5 1869.1 575.7 1866.5 575.4 1863.5 575.5 1860.3 576.1 1857.0 577.0 1853.5 578.4 1850.1 580.0 1846.7 581.8 1843.5 583.8 1840.3 586.0 1837.2 588.4 1834.2 591.0 1831.3 593.8 1828.7 596.8 1826.3 599.9 1824.5 603.0 1823.2 606.0 1822.5 608.8 1822.5 611.4 1823.0 613.7 1824.0ZM614.7 1826.7 616.3 1828.4 617.6 1830.4 618.6 1832.6 619.3 1835.1 619.7 1837.9 619.6 1840.8 619.3 1843.9 618.5 1847.2 617.4 1850.4 616.0 1853.7 614.2 1856.9 612.3 1860.0 610.1 1863.0 607.7 1865.8 605.1 1868.4 602.4 1870.7 599.6 1872.7 596.7 1874.3 593.8 1875.4 591.0 1876.0 588.4 1876.1 586.0 1875.7 583.8 1874.8 581.9 1873.6 580.2 1872.1 578.8 1870.2 577.8 1868.0 577.0 1865.5 576.6 1862.7 576.7 1859.8 577.1 1856.6 577.9 1853.3 579.1 1850.0 580.7 1846.8 582.4 1843.6 584.4 1840.5 586.6 1837.6 588.9 1834.8 591.5 1832.2 594.2 1829.8 597.0 1827.7 599.9 1826.1 602.8 1824.9 605.6 1824.2 608.2 1824.1 610.7 1824.5 612.8 1825.4ZM614.0 1827.8 615.5 1829.4 616.7 1831.3 617.5 1833.5 618.1 1836.0 618.3 1838.6 618.3 1841.4 617.9 1844.3 617.2 1847.3 616.1 1850.3 614.8 1853.4 613.3 1856.4 611.5 1859.3 609.5 1862.2 607.3 1864.9 604.9 1867.4 602.3 1869.6 599.6 1871.6 596.9 1873.1 594.1 1874.1 591.5 1874.7 589.0 1874.7 586.7 1874.3 584.6 1873.5 582.9 1872.3 581.3 1870.7 580.1 1868.9 579.1 1866.8 578.5 1864.4 578.2 1861.8 578.2 1859.0 578.6 1856.1 579.4 1853.0 580.5 1849.9 581.9 1846.9 583.5 1843.9 585.4 1841.0 587.4 1838.3 589.6 1835.6 592.0 1833.1 594.5 1830.8 597.1 1828.8 599.9 1827.2 602.6 1826.0 605.3 1825.4 607.9 1825.2 610.2 1825.6 612.3 1826.5ZM613.0 1829.3 614.4 1830.7 615.6 1832.5 616.5 1834.4 617.1 1836.7 617.4 1839.1 617.3 1841.7 616.9 1844.5 616.2 1847.3 615.2 1850.2 613.9 1853.1 612.4 1855.9 610.7 1858.6 608.8 1861.2 606.8 1863.7 604.5 1866.1 602.1 1868.2 599.6 1870.0 597.1 1871.4 594.5 1872.4 592.0 1872.9 589.7 1873.0 587.6 1872.6 585.7 1871.8 584.0 1870.7 582.5 1869.3 581.3 1867.7 580.4 1865.7 579.8 1863.5 579.5 1861.0 579.5 1858.4 579.9 1855.6 580.7 1852.7 581.7 1849.8 583.0 1847.0 584.6 1844.2 586.3 1841.5 588.2 1838.9 590.2 1836.4 592.5 1834.1 594.8 1831.9 597.3 1830.1 599.9 1828.6 602.5 1827.6 604.9 1827.0 607.3 1826.9 609.4 1827.3 611.4 1828.1ZM612.0 1830.8 613.2 1832.2 614.3 1833.8 615.1 1835.6 615.7 1837.6 615.9 1839.9 615.9 1842.3 615.6 1844.8 615.0 1847.4 614.1 1850.1 613.0 1852.8 611.6 1855.4 610.1 1858.0 608.3 1860.4 606.4 1862.8 604.3 1865.0 602.0 1866.9 599.7 1868.5 597.3 1869.7 594.9 1870.5 592.7 1871.0 590.5 1871.0 588.6 1870.6 586.8 1869.9 585.3 1868.9 583.9 1867.7 582.8 1866.1 581.9 1864.4 581.3 1862.3 581.0 1860.1 581.1 1857.6 581.5 1855.1 582.1 1852.4 583.1 1849.7 584.3 1847.1 585.7 1844.5 587.2 1842.0 589.0 1839.5 590.9 1837.2 593.0 1835.0 595.2 1833.0 597.5 1831.3 599.9 1830.0 602.3 1829.1 604.6 1828.6 606.7 1828.6 608.7 1829.0 610.4 1829.8ZM611.1 1832.2 612.3 1833.3 613.3 1834.8 614.0 1836.5 614.5 1838.5 614.6 1840.6 614.5 1842.8 614.1 1845.2 613.4 1847.6 612.6 1849.9 611.6 1852.3 610.5 1854.7 609.1 1857.1 607.6 1859.4 605.8 1861.5 603.9 1863.6 601.8 1865.3 599.7 1866.8 597.5 1867.9 595.4 1868.6 593.3 1869.0 591.4 1869.0 589.6 1868.7 587.9 1868.2 586.4 1867.3 585.1 1866.2 584.1 1864.8 583.3 1863.2 582.8 1861.2 582.6 1859.1 582.8 1856.8 583.2 1854.4 583.9 1852.0 584.8 1849.6 585.8 1847.3 587.1 1844.9 588.4 1842.6 590.0 1840.3 591.7 1838.2 593.6 1836.1 595.6 1834.3 597.7 1832.8 599.9 1831.6 602.1 1830.8 604.2 1830.4 606.1 1830.4 608.0 1830.6 609.6 1831.2ZM609.7 1834.2 610.7 1835.3 611.6 1836.6 612.3 1838.0 612.8 1839.6 613.0 1841.4 613.1 1843.4 612.8 1845.5 612.3 1847.6 611.6 1849.8 610.7 1852.0 609.5 1854.1 608.3 1856.2 606.8 1858.3 605.2 1860.2 603.5 1862.0 601.6 1863.5 599.7 1864.8 597.8 1865.8 595.9 1866.5 594.0 1866.8 592.3 1866.8 590.7 1866.5 589.3 1865.9 588.1 1865.1 587.0 1864.0 586.0 1862.8 585.3 1861.4 584.8 1859.8 584.5 1857.9 584.5 1856.0 584.8 1853.9 585.4 1851.7 586.1 1849.5 587.1 1847.3 588.2 1845.2 589.5 1843.1 590.9 1841.1 592.5 1839.2 594.2 1837.4 596.1 1835.8 598.0 1834.4 599.9 1833.4 601.9 1832.7 603.7 1832.4 605.4 1832.4 607.0 1832.7 608.4 1833.4ZM608.3 1836.2 609.2 1837.1 610.0 1838.2 610.6 1839.4 611.1 1840.8 611.4 1842.4 611.4 1844.1 611.1 1845.9 610.7 1847.7 610.0 1849.6 609.2 1851.5 608.2 1853.4 607.1 1855.2 605.9 1857.0 604.5 1858.6 603.0 1860.2 601.4 1861.6 599.8 1862.7 598.1 1863.6 596.4 1864.1 594.8 1864.4 593.3 1864.3 592.0 1864.0 590.8 1863.5 589.7 1862.8 588.8 1861.9 587.9 1860.9 587.3 1859.7 586.8 1858.3 586.6 1856.7 586.6 1855.0 586.8 1853.2 587.3 1851.3 588.0 1849.4 588.9 1847.5 589.8 1845.7 590.9 1843.9 592.2 1842.1 593.5 1840.4 595.0 1838.8 596.6 1837.4 598.2 1836.2 599.9 1835.3 601.6 1834.8 603.2 1834.5 604.7 1834.6 606.0 1834.9 607.2 1835.5ZM606.9 1838.3 607.6 1839.1 608.2 1840.0 608.7 1841.0 609.1 1842.2 609.2 1843.5 609.2 1844.9 609.0 1846.4 608.7 1847.9 608.1 1849.4 607.5 1851.0 606.7 1852.5 605.8 1854.0 604.8 1855.4 603.7 1856.8 602.5 1858.0 601.2 1859.1 599.8 1860.1 598.4 1860.8 597.1 1861.3 595.8 1861.5 594.5 1861.5 593.4 1861.3 592.4 1860.9 591.5 1860.3 590.7 1859.5 590.1 1858.7 589.6 1857.6 589.2 1856.5 589.1 1855.2 589.1 1853.8 589.3 1852.3 589.7 1850.8 590.2 1849.2 590.9 1847.7 591.7 1846.2 592.6 1844.7 593.6 1843.3 594.7 1841.9 595.9 1840.7 597.2 1839.5 598.6 1838.6 599.9 1837.8 601.3 1837.3 602.6 1837.1 603.9 1837.1 605.0 1837.3 606.0 1837.7ZM604.9 1841.3 605.4 1841.8 605.9 1842.5 606.2 1843.2 606.4 1844.0 606.5 1845.0 606.5 1846.0 606.3 1847.0 606.1 1848.1 605.7 1849.1 605.2 1850.2 604.7 1851.3 604.0 1852.3 603.4 1853.3 602.6 1854.3 601.7 1855.2 600.8 1856.0 599.9 1856.7 598.9 1857.3 597.9 1857.6 597.0 1857.8 596.1 1857.8 595.3 1857.6 594.6 1857.3 594.0 1856.9 593.4 1856.3 593.0 1855.7 592.6 1855.0 592.4 1854.1 592.3 1853.2 592.3 1852.2 592.5 1851.2 592.8 1850.1 593.2 1849.0 593.6 1847.9 594.2 1846.9 594.8 1845.9 595.5 1844.9 596.3 1843.9 597.1 1843.0 598.0 1842.1 599.0 1841.4 600.0 1840.9 600.9 1840.5 601.9 1840.3 602.8 1840.3 603.6 1840.5 604.3 1840.8Z" fill="none" stroke="#000" stroke-width="0.90"/>
<path d="M540.8 1901.2h1.1v1.1h-1.1zM543.0 1887.3h1.1v1.1h-1.1zM520.2 1890.9h1.1v1.1h-1.1zM571.5 1898.2h1.1v1.1h-1.1zM565.2 1892.4h1.1v1.1h-1.1zM548.6 1885.3h1.1v1.1h-1.1z" fill="#000" fill-opacity="0.50"/>
<rect x="528.80" y="1910.00" width="101.20" height="111.50" stroke="#555" stroke-width="1.30" fill="none"/>
<g transform="translate(548.27 1994.00) scale(0.9318 1)"><text x="0.00" y="0.00" font-size="37.70">&lt;0.1</text></g>
<g transform="translate(669.35 1861.00) scale(0.9254 1)"><text x="0.00" y="0.00" font-size="37.50">WT</text></g>
<g transform="translate(668.69 1903.50) scale(0.9633 1)"><text x="0.00" y="0.00" font-size="37.50">TCR</text><text x="77.07" y="0.00" font-size="37.50" font-family="Liberation Serif, serif">β</text><text x="96.15" y="-15.75" font-size="22.50">+</text></g>
<g transform="translate(667.60 1947.30) scale(0.9972 1)"><text x="0.00" y="0.00" font-size="37.50">CD8</text><text x="75.02" y="0.00" font-size="37.50" font-family="Liberation Serif, serif">α</text><text x="94.67" y="-15.75" font-size="22.50">+</text></g>
<g transform="translate(667.34 1990.00) scale(0.9698 1)"><text x="0.00" y="0.00" font-size="37.50">IELs</text></g>
<rect x="867.80" y="1800.10" width="229.40" height="229.50" stroke="#555" stroke-width="1.30" fill="none"/><path d="M862.3 2014.3H867.8M881.0 2029.6V2035.1M862.3 1977.8H867.8M917.6 2029.6V2035.1M862.3 1938.8H867.8M957.0 2029.6V2035.1M862.3 1876.3H867.8M1019.8 2029.6V2035.1M862.3 1822.0H867.8M1074.6 2029.6V2035.1" stroke="#000" stroke-width="1.8" fill="none"/><path d="M864.6 1982.8H867.8M912.6 2029.6V2032.8M864.6 1987.7H867.8M907.7 2029.6V2032.8M864.6 1992.2H867.8M903.2 2029.6V2032.8M864.6 1996.4H867.8M899.0 2029.6V2032.8M864.6 2000.1H867.8M895.2 2029.6V2032.8M864.6 2003.5H867.8M891.8 2029.6V2032.8M864.6 2006.6H867.8M888.7 2029.6V2032.8M864.6 2009.4H867.8M885.9 2029.6V2032.8M864.6 2011.9H867.8M883.4 2029.6V2032.8M864.6 1972.4H867.8M923.0 2029.6V2032.8M864.6 1967.2H867.8M928.3 2029.6V2032.8M864.6 1962.4H867.8M933.2 2029.6V2032.8M864.6 1958.0H867.8M937.6 2029.6V2032.8M864.6 1954.0H867.8M941.7 2029.6V2032.8M864.6 1950.3H867.8M945.4 2029.6V2032.8M864.6 1947.0H867.8M948.7 2029.6V2032.8M864.6 1944.0H867.8M951.7 2029.6V2032.8M864.6 1941.3H867.8M954.5 2029.6V2032.8M864.6 1978.3H867.8M917.1 2029.6V2032.8M864.6 1979.3H867.8M916.1 2029.6V2032.8M864.6 1980.3H867.8M915.1 2029.6V2032.8M864.6 1981.3H867.8M914.1 2029.6V2032.8M864.6 1982.3H867.8M913.1 2029.6V2032.8M864.6 1977.3H867.8M918.1 2029.6V2032.8M864.6 1976.2H867.8M919.2 2029.6V2032.8M864.6 1975.1H867.8M920.3 2029.6V2032.8M864.6 1974.0H867.8M921.4 2029.6V2032.8M864.6 1973.0H867.8M922.5 2029.6V2032.8M864.6 1920.7H867.8M975.2 2029.6V2032.8M864.6 1909.6H867.8M986.3 2029.6V2032.8M864.6 1901.7H867.8M994.3 2029.6V2032.8M864.6 1895.5H867.8M1000.5 2029.6V2032.8M864.6 1890.5H867.8M1005.6 2029.6V2032.8M864.6 1886.2H867.8M1009.8 2029.6V2032.8M864.6 1882.5H867.8M1013.6 2029.6V2032.8M864.6 1879.2H867.8M1016.9 2029.6V2032.8M864.6 1860.0H867.8M1036.3 2029.6V2032.8M864.6 1850.4H867.8M1045.9 2029.6V2032.8M864.6 1843.6H867.8M1052.8 2029.6V2032.8M864.6 1838.3H867.8M1058.1 2029.6V2032.8M864.6 1834.0H867.8M1062.4 2029.6V2032.8M864.6 1830.4H867.8M1066.1 2029.6V2032.8M864.6 1827.3H867.8M1069.3 2029.6V2032.8M864.6 1824.5H867.8M1072.1 2029.6V2032.8M864.6 1805.6H867.8M1091.1 2029.6V2032.8" stroke="#000" stroke-width="1.1" fill="none"/><g transform="translate(830.08 1832.80) scale(1.0000 1)"><text x="0.00" y="0.00" font-size="20.80">10</text></g><g transform="translate(849.01 1821.30) scale(1.0000 1)"><text x="0.00" y="0.00" font-size="20.80">5</text></g><g transform="translate(830.08 1887.10) scale(1.0000 1)"><text x="0.00" y="0.00" font-size="20.80">10</text></g><g transform="translate(848.74 1875.60) scale(1.0000 1)"><text x="0.00" y="0.00" font-size="20.80">4</text></g><g transform="translate(830.08 1949.60) scale(1.0000 1)"><text x="0.00" y="0.00" font-size="20.80">10</text></g><g transform="translate(849.05 1938.10) scale(1.0000 1)"><text x="0.00" y="0.00" font-size="20.80">3</text></g><g transform="translate(845.24 1988.80) scale(1.0000 1)"><text x="0.00" y="0.00" font-size="20.80">0</text></g><g transform="translate(823.15 2028.30) scale(1.0000 1)"><text x="0.00" y="0.00" font-size="20.80">-10</text></g><g transform="translate(849.05 2017.10) scale(1.0000 1)"><text x="0.00" y="0.00" font-size="20.80">3</text></g><g transform="translate(949.92 2061.40) scale(1.0000 1)"><text x="0.00" y="0.00" font-size="20.80">10</text></g><g transform="translate(970.95 2052.90) scale(1.0000 1)"><text x="0.00" y="0.00" font-size="20.80">3</text></g><g transform="translate(1013.72 2061.40) scale(1.0000 1)"><text x="0.00" y="0.00" font-size="20.80">10</text></g><g transform="translate(1035.06 2052.90) scale(1.0000 1)"><text x="0.00" y="0.00" font-size="20.80">4</text></g><g transform="translate(1063.82 2061.40) scale(1.0000 1)"><text x="0.00" y="0.00" font-size="20.80">10</text></g><g transform="translate(1084.81 2052.90) scale(1.0000 1)"><text x="0.00" y="0.00" font-size="20.80">5</text></g><g transform="translate(869.78 2061.40) scale(1.0000 1)"><text x="0.00" y="0.00" font-size="20.80">-10</text></g><g transform="translate(897.73 2052.90) scale(1.0000 1)"><text x="0.00" y="0.00" font-size="20.80">3</text></g><g transform="translate(912.82 2061.40) scale(1.0000 1)"><text x="0.00" y="0.00" font-size="20.80">0</text></g>
<path d="M1031.6 1906.0h1.1v1.1h-1.1zM1013.4 1971.8h1.1v1.1h-1.1zM1008.8 1943.4h1.1v1.1h-1.1zM1020.3 1924.9h1.1v1.1h-1.1zM1066.7 1972.9h1.1v1.1h-1.1zM1038.5 1974.6h1.1v1.1h-1.1zM1041.4 1908.3h1.1v1.1h-1.1zM1014.0 1970.6h1.1v1.1h-1.1zM1031.5 1912.4h1.1v1.1h-1.1zM1033.7 1887.0h1.1v1.1h-1.1zM1010.6 1901.2h1.1v1.1h-1.1zM1034.4 1901.8h1.1v1.1h-1.1zM993.1 1937.6h1.1v1.1h-1.1zM1014.8 1909.9h1.1v1.1h-1.1zM1012.5 1957.7h1.1v1.1h-1.1zM1027.9 1909.2h1.1v1.1h-1.1zM1051.7 1905.8h1.1v1.1h-1.1zM1013.0 1946.8h1.1v1.1h-1.1zM1022.7 1931.5h1.1v1.1h-1.1zM1017.8 1970.9h1.1v1.1h-1.1zM1015.1 1930.6h1.1v1.1h-1.1zM1030.7 1904.2h1.1v1.1h-1.1zM1031.1 1913.2h1.1v1.1h-1.1zM1056.0 1912.5h1.1v1.1h-1.1zM1029.5 1924.0h1.1v1.1h-1.1zM1038.6 1914.2h1.1v1.1h-1.1zM1016.8 1903.9h1.1v1.1h-1.1zM1021.0 1921.8h1.1v1.1h-1.1zM1001.8 1895.5h1.1v1.1h-1.1zM1027.6 1924.8h1.1v1.1h-1.1zM1010.3 1904.6h1.1v1.1h-1.1zM1002.3 1932.0h1.1v1.1h-1.1zM1013.7 1912.2h1.1v1.1h-1.1zM1013.2 1916.6h1.1v1.1h-1.1zM1018.2 1931.7h1.1v1.1h-1.1zM989.2 1922.4h1.1v1.1h-1.1zM1000.4 1919.3h1.1v1.1h-1.1zM998.6 1915.4h1.1v1.1h-1.1zM1011.7 1973.0h1.1v1.1h-1.1zM1022.7 1961.4h1.1v1.1h-1.1zM1034.4 1911.5h1.1v1.1h-1.1zM1014.8 1969.5h1.1v1.1h-1.1zM1007.1 1904.7h1.1v1.1h-1.1zM1030.4 1973.7h1.1v1.1h-1.1zM1014.7 1914.2h1.1v1.1h-1.1zM1029.7 1920.5h1.1v1.1h-1.1zM1035.0 1886.5h1.1v1.1h-1.1zM1043.6 1915.6h1.1v1.1h-1.1zM1037.1 1987.1h1.1v1.1h-1.1zM1017.3 1882.7h1.1v1.1h-1.1zM1039.3 1903.6h1.1v1.1h-1.1zM1010.4 1931.0h1.1v1.1h-1.1zM1024.1 1926.1h1.1v1.1h-1.1zM1025.2 1900.3h1.1v1.1h-1.1zM1042.6 1894.9h1.1v1.1h-1.1zM979.0 1907.4h1.1v1.1h-1.1zM1011.6 1917.0h1.1v1.1h-1.1zM1015.3 1934.4h1.1v1.1h-1.1zM1005.8 1918.0h1.1v1.1h-1.1zM1030.0 1927.3h1.1v1.1h-1.1zM1018.8 1923.8h1.1v1.1h-1.1zM999.7 1892.7h1.1v1.1h-1.1zM1008.3 1955.0h1.1v1.1h-1.1zM977.1 1914.5h1.1v1.1h-1.1zM1041.1 1976.9h1.1v1.1h-1.1zM1028.0 1976.0h1.1v1.1h-1.1zM1003.4 1902.2h1.1v1.1h-1.1zM986.7 1894.8h1.1v1.1h-1.1zM1026.3 1921.4h1.1v1.1h-1.1zM1027.9 1875.9h1.1v1.1h-1.1zM1026.8 1989.0h1.1v1.1h-1.1zM996.1 1880.6h1.1v1.1h-1.1zM1091.8 1902.4h1.1v1.1h-1.1zM975.5 1914.1h1.1v1.1h-1.1zM1041.0 1910.1h1.1v1.1h-1.1zM1016.0 1949.6h1.1v1.1h-1.1zM1030.7 1917.5h1.1v1.1h-1.1zM1001.8 1900.5h1.1v1.1h-1.1zM1017.0 1948.8h1.1v1.1h-1.1zM1015.1 1966.1h1.1v1.1h-1.1zM1019.8 1960.3h1.1v1.1h-1.1zM1007.6 1985.1h1.1v1.1h-1.1zM1016.4 1919.8h1.1v1.1h-1.1zM1033.2 1924.4h1.1v1.1h-1.1zM1012.4 1941.7h1.1v1.1h-1.1zM1011.5 1981.5h1.1v1.1h-1.1zM1010.6 1951.8h1.1v1.1h-1.1zM1009.4 1882.4h1.1v1.1h-1.1zM977.8 1930.6h1.1v1.1h-1.1zM996.2 1933.3h1.1v1.1h-1.1zM1008.3 1927.1h1.1v1.1h-1.1zM1023.9 1977.5h1.1v1.1h-1.1zM1020.7 1891.7h1.1v1.1h-1.1zM977.9 1953.7h1.1v1.1h-1.1zM1026.4 1967.9h1.1v1.1h-1.1zM992.3 1924.5h1.1v1.1h-1.1zM1007.8 1942.7h1.1v1.1h-1.1zM1018.0 1967.4h1.1v1.1h-1.1zM1015.9 1923.5h1.1v1.1h-1.1zM1011.6 1942.1h1.1v1.1h-1.1zM1012.1 1900.9h1.1v1.1h-1.1zM1006.2 1934.4h1.1v1.1h-1.1zM1014.4 1925.0h1.1v1.1h-1.1zM1028.9 1916.0h1.1v1.1h-1.1zM1020.6 1921.5h1.1v1.1h-1.1zM1025.3 1923.8h1.1v1.1h-1.1zM1027.8 1912.1h1.1v1.1h-1.1zM1003.1 1897.3h1.1v1.1h-1.1zM994.6 1908.9h1.1v1.1h-1.1zM1033.3 1895.0h1.1v1.1h-1.1zM998.9 1895.1h1.1v1.1h-1.1zM1026.0 1930.6h1.1v1.1h-1.1zM1012.8 1888.4h1.1v1.1h-1.1zM1009.2 1977.6h1.1v1.1h-1.1zM1027.5 1901.9h1.1v1.1h-1.1zM1019.1 1955.8h1.1v1.1h-1.1zM992.1 1871.5h1.1v1.1h-1.1zM1012.2 1904.3h1.1v1.1h-1.1zM1012.2 1938.1h1.1v1.1h-1.1zM1039.7 1902.2h1.1v1.1h-1.1zM1021.1 1911.9h1.1v1.1h-1.1zM1041.4 1916.0h1.1v1.1h-1.1zM1033.7 1916.2h1.1v1.1h-1.1zM1000.3 1940.6h1.1v1.1h-1.1zM1015.8 1977.2h1.1v1.1h-1.1zM1013.6 1952.1h1.1v1.1h-1.1zM979.0 1915.7h1.1v1.1h-1.1zM988.5 1930.7h1.1v1.1h-1.1zM1008.3 1966.7h1.1v1.1h-1.1zM1038.4 1969.5h1.1v1.1h-1.1zM1006.1 1869.0h1.1v1.1h-1.1zM1023.9 1967.5h1.1v1.1h-1.1zM1030.3 1981.0h1.1v1.1h-1.1zM1019.4 1911.4h1.1v1.1h-1.1zM1016.9 1912.2h1.1v1.1h-1.1zM1011.1 1983.0h1.1v1.1h-1.1zM982.7 1962.0h1.1v1.1h-1.1zM1021.9 1972.4h1.1v1.1h-1.1zM1040.9 1898.8h1.1v1.1h-1.1zM1029.2 1916.4h1.1v1.1h-1.1zM1013.6 1892.0h1.1v1.1h-1.1zM1029.3 1985.3h1.1v1.1h-1.1zM1034.9 1973.9h1.1v1.1h-1.1zM1007.3 1934.3h1.1v1.1h-1.1zM1006.3 1902.7h1.1v1.1h-1.1zM1030.2 1885.6h1.1v1.1h-1.1zM1013.9 1914.5h1.1v1.1h-1.1zM1032.9 1906.2h1.1v1.1h-1.1zM1026.8 1896.4h1.1v1.1h-1.1zM1016.4 1948.5h1.1v1.1h-1.1zM1041.2 1896.2h1.1v1.1h-1.1zM1026.7 1911.2h1.1v1.1h-1.1zM1026.1 1981.8h1.1v1.1h-1.1zM1033.6 1914.3h1.1v1.1h-1.1zM1002.9 1945.9h1.1v1.1h-1.1zM982.6 1918.6h1.1v1.1h-1.1zM1032.5 1909.2h1.1v1.1h-1.1zM1013.5 1887.5h1.1v1.1h-1.1zM1018.1 1951.8h1.1v1.1h-1.1zM1021.4 1928.8h1.1v1.1h-1.1zM1050.1 1891.9h1.1v1.1h-1.1zM1024.5 1908.8h1.1v1.1h-1.1zM1020.4 1880.0h1.1v1.1h-1.1zM1032.0 1880.1h1.1v1.1h-1.1zM1042.9 1974.4h1.1v1.1h-1.1zM1049.4 1971.6h1.1v1.1h-1.1zM999.1 1955.2h1.1v1.1h-1.1zM1019.9 1892.8h1.1v1.1h-1.1zM1029.3 1925.9h1.1v1.1h-1.1zM1009.5 1944.4h1.1v1.1h-1.1zM1037.5 1894.2h1.1v1.1h-1.1zM1031.0 1924.6h1.1v1.1h-1.1zM1013.8 1909.6h1.1v1.1h-1.1zM980.3 1962.8h1.1v1.1h-1.1zM1009.4 1941.8h1.1v1.1h-1.1zM1008.9 1897.3h1.1v1.1h-1.1zM1040.8 1917.5h1.1v1.1h-1.1zM1014.5 1906.1h1.1v1.1h-1.1zM1000.7 1947.5h1.1v1.1h-1.1zM1012.9 1950.5h1.1v1.1h-1.1zM1026.1 1912.6h1.1v1.1h-1.1zM1029.1 1916.3h1.1v1.1h-1.1zM1005.0 1926.0h1.1v1.1h-1.1zM1018.5 1930.8h1.1v1.1h-1.1zM1027.7 1905.8h1.1v1.1h-1.1zM1006.2 1887.0h1.1v1.1h-1.1zM1019.7 1925.2h1.1v1.1h-1.1zM1000.6 1937.5h1.1v1.1h-1.1zM1025.4 1863.7h1.1v1.1h-1.1zM1017.0 1941.5h1.1v1.1h-1.1zM1042.1 1901.7h1.1v1.1h-1.1zM1040.4 1910.0h1.1v1.1h-1.1zM1022.8 1919.1h1.1v1.1h-1.1zM997.4 1963.5h1.1v1.1h-1.1zM999.3 1888.5h1.1v1.1h-1.1zM1000.2 1900.3h1.1v1.1h-1.1zM1019.1 1963.6h1.1v1.1h-1.1zM1011.0 1908.5h1.1v1.1h-1.1zM1000.6 1929.1h1.1v1.1h-1.1zM1017.3 1905.5h1.1v1.1h-1.1zM1037.4 1974.8h1.1v1.1h-1.1zM1030.1 1893.7h1.1v1.1h-1.1zM1030.8 1966.8h1.1v1.1h-1.1zM1011.7 1907.7h1.1v1.1h-1.1zM1028.2 1913.3h1.1v1.1h-1.1zM1028.7 1986.2h1.1v1.1h-1.1zM1027.4 1917.9h1.1v1.1h-1.1zM1026.0 1897.1h1.1v1.1h-1.1zM1042.6 1969.7h1.1v1.1h-1.1zM1029.0 1965.8h1.1v1.1h-1.1zM1025.2 1875.9h1.1v1.1h-1.1zM1011.2 1951.6h1.1v1.1h-1.1zM1022.9 1927.4h1.1v1.1h-1.1zM990.1 1938.1h1.1v1.1h-1.1zM1033.1 1922.4h1.1v1.1h-1.1zM1023.7 1925.6h1.1v1.1h-1.1zM989.8 1950.5h1.1v1.1h-1.1zM1030.9 1975.4h1.1v1.1h-1.1zM1013.4 1951.3h1.1v1.1h-1.1zM1007.5 1929.4h1.1v1.1h-1.1zM1020.1 1914.9h1.1v1.1h-1.1zM988.4 1973.9h1.1v1.1h-1.1zM1039.8 1891.4h1.1v1.1h-1.1zM997.2 1887.9h1.1v1.1h-1.1zM1016.1 1949.1h1.1v1.1h-1.1zM1011.6 1938.6h1.1v1.1h-1.1zM1042.8 1912.4h1.1v1.1h-1.1zM1010.7 1915.2h1.1v1.1h-1.1zM1014.1 1934.1h1.1v1.1h-1.1zM1040.5 1977.3h1.1v1.1h-1.1zM1030.3 1918.5h1.1v1.1h-1.1zM1023.0 1892.0h1.1v1.1h-1.1zM1040.7 1917.3h1.1v1.1h-1.1zM1038.0 1921.3h1.1v1.1h-1.1zM1008.8 1964.2h1.1v1.1h-1.1zM1023.9 1925.2h1.1v1.1h-1.1zM1027.7 1877.4h1.1v1.1h-1.1zM1011.4 1926.7h1.1v1.1h-1.1zM1015.6 1881.7h1.1v1.1h-1.1zM989.2 1946.2h1.1v1.1h-1.1zM1034.3 1909.1h1.1v1.1h-1.1zM1017.4 1921.5h1.1v1.1h-1.1zM987.0 1888.9h1.1v1.1h-1.1zM1015.8 1968.3h1.1v1.1h-1.1zM994.2 1941.3h1.1v1.1h-1.1zM978.9 1902.1h1.1v1.1h-1.1zM1000.1 1932.8h1.1v1.1h-1.1zM1030.1 1920.3h1.1v1.1h-1.1zM998.6 1931.2h1.1v1.1h-1.1zM1018.0 1940.9h1.1v1.1h-1.1zM1006.9 1926.2h1.1v1.1h-1.1zM994.0 1902.3h1.1v1.1h-1.1zM1013.4 1940.1h1.1v1.1h-1.1zM1010.1 1899.7h1.1v1.1h-1.1zM1005.5 1935.4h1.1v1.1h-1.1zM1003.7 1934.8h1.1v1.1h-1.1zM1002.7 1922.0h1.1v1.1h-1.1zM1056.0 1979.6h1.1v1.1h-1.1zM1004.9 1933.3h1.1v1.1h-1.1zM1043.9 1885.9h1.1v1.1h-1.1zM1024.0 1913.1h1.1v1.1h-1.1zM1011.8 1895.1h1.1v1.1h-1.1zM1004.6 1954.4h1.1v1.1h-1.1zM1012.6 1937.3h1.1v1.1h-1.1zM1027.1 1964.9h1.1v1.1h-1.1zM1027.0 1985.5h1.1v1.1h-1.1zM1004.3 1945.4h1.1v1.1h-1.1zM1014.8 1938.4h1.1v1.1h-1.1zM1038.3 1893.0h1.1v1.1h-1.1zM1020.1 1874.9h1.1v1.1h-1.1zM1032.9 1973.5h1.1v1.1h-1.1zM1036.1 1915.6h1.1v1.1h-1.1zM1018.4 1968.3h1.1v1.1h-1.1zM1018.5 1909.6h1.1v1.1h-1.1zM1007.6 1940.6h1.1v1.1h-1.1zM1039.2 1894.6h1.1v1.1h-1.1zM1024.1 1925.1h1.1v1.1h-1.1zM1032.0 1913.3h1.1v1.1h-1.1zM991.8 1916.7h1.1v1.1h-1.1zM1033.4 1894.4h1.1v1.1h-1.1zM1013.2 1960.6h1.1v1.1h-1.1zM1024.3 1910.7h1.1v1.1h-1.1zM1008.9 1952.5h1.1v1.1h-1.1zM1016.9 1907.3h1.1v1.1h-1.1zM1031.4 1921.4h1.1v1.1h-1.1zM1036.3 1919.9h1.1v1.1h-1.1zM1032.3 1891.4h1.1v1.1h-1.1zM1020.2 1965.5h1.1v1.1h-1.1zM1022.7 1930.5h1.1v1.1h-1.1zM1016.6 1902.4h1.1v1.1h-1.1zM1003.9 1921.5h1.1v1.1h-1.1zM1006.1 1900.1h1.1v1.1h-1.1zM1031.3 1978.8h1.1v1.1h-1.1zM1021.1 1964.7h1.1v1.1h-1.1zM1006.5 1929.1h1.1v1.1h-1.1zM1025.9 1920.8h1.1v1.1h-1.1zM1011.9 1932.5h1.1v1.1h-1.1zM977.6 1931.8h1.1v1.1h-1.1zM1019.0 1919.8h1.1v1.1h-1.1zM1039.0 1968.2h1.1v1.1h-1.1zM1022.1 1884.5h1.1v1.1h-1.1zM1016.4 1898.3h1.1v1.1h-1.1zM996.3 1968.1h1.1v1.1h-1.1zM1071.9 1892.5h1.1v1.1h-1.1zM1055.8 1979.8h1.1v1.1h-1.1zM1020.9 1931.7h1.1v1.1h-1.1zM1021.0 1926.9h1.1v1.1h-1.1zM1039.2 1906.0h1.1v1.1h-1.1zM1011.3 1935.7h1.1v1.1h-1.1zM1029.9 1917.4h1.1v1.1h-1.1zM997.0 1928.5h1.1v1.1h-1.1zM1032.9 1897.4h1.1v1.1h-1.1zM981.1 1957.5h1.1v1.1h-1.1zM1041.7 1890.1h1.1v1.1h-1.1zM1003.8 1911.3h1.1v1.1h-1.1zM989.6 1957.1h1.1v1.1h-1.1zM1013.7 1924.8h1.1v1.1h-1.1zM1018.9 1933.2h1.1v1.1h-1.1zM989.4 1947.8h1.1v1.1h-1.1zM1005.9 1912.0h1.1v1.1h-1.1zM1040.0 1917.6h1.1v1.1h-1.1zM1032.6 1890.7h1.1v1.1h-1.1zM1018.0 1907.3h1.1v1.1h-1.1zM1016.8 1941.9h1.1v1.1h-1.1zM1000.0 1958.6h1.1v1.1h-1.1zM994.5 1940.9h1.1v1.1h-1.1zM1059.9 1907.4h1.1v1.1h-1.1zM1016.5 1924.2h1.1v1.1h-1.1zM1008.4 1925.9h1.1v1.1h-1.1zM1068.8 1976.5h1.1v1.1h-1.1zM1010.5 1906.9h1.1v1.1h-1.1zM1033.1 1923.5h1.1v1.1h-1.1zM1029.4 1919.5h1.1v1.1h-1.1zM1008.9 1932.4h1.1v1.1h-1.1zM1026.8 1926.0h1.1v1.1h-1.1zM1004.7 1958.0h1.1v1.1h-1.1zM1012.1 1893.8h1.1v1.1h-1.1zM1030.5 1914.8h1.1v1.1h-1.1zM995.8 1929.9h1.1v1.1h-1.1zM997.5 1961.7h1.1v1.1h-1.1zM1005.2 1912.3h1.1v1.1h-1.1zM1037.3 1914.2h1.1v1.1h-1.1zM996.0 1957.4h1.1v1.1h-1.1zM1012.6 1919.4h1.1v1.1h-1.1zM1036.3 1914.0h1.1v1.1h-1.1zM1047.8 1905.7h1.1v1.1h-1.1zM1027.3 1912.9h1.1v1.1h-1.1zM1033.2 1894.6h1.1v1.1h-1.1zM983.5 1912.9h1.1v1.1h-1.1zM990.8 1933.1h1.1v1.1h-1.1zM1010.4 1924.3h1.1v1.1h-1.1zM1002.7 1943.4h1.1v1.1h-1.1zM1040.1 1913.9h1.1v1.1h-1.1zM1015.8 1930.4h1.1v1.1h-1.1zM1007.2 1919.3h1.1v1.1h-1.1zM1021.7 1919.6h1.1v1.1h-1.1zM1016.9 1941.6h1.1v1.1h-1.1zM1015.5 1948.1h1.1v1.1h-1.1zM982.1 1919.7h1.1v1.1h-1.1zM1001.8 1920.8h1.1v1.1h-1.1zM1009.7 1918.9h1.1v1.1h-1.1zM1018.0 1908.5h1.1v1.1h-1.1zM1055.1 1976.3h1.1v1.1h-1.1zM1003.4 1973.7h1.1v1.1h-1.1zM1013.6 1926.2h1.1v1.1h-1.1zM988.3 1907.1h1.1v1.1h-1.1zM1018.9 1915.6h1.1v1.1h-1.1zM1014.5 1937.3h1.1v1.1h-1.1zM1023.1 1928.1h1.1v1.1h-1.1zM999.5 1960.0h1.1v1.1h-1.1zM996.2 1893.2h1.1v1.1h-1.1zM1016.0 1950.0h1.1v1.1h-1.1zM1005.2 1931.4h1.1v1.1h-1.1zM1024.8 1888.0h1.1v1.1h-1.1zM1035.1 1970.7h1.1v1.1h-1.1zM1017.2 1937.7h1.1v1.1h-1.1zM1039.4 1920.8h1.1v1.1h-1.1zM1003.3 1885.9h1.1v1.1h-1.1zM990.8 1933.3h1.1v1.1h-1.1zM1004.5 1957.9h1.1v1.1h-1.1zM1021.5 1979.0h1.1v1.1h-1.1zM1039.4 1908.3h1.1v1.1h-1.1zM1021.5 1905.2h1.1v1.1h-1.1zM1011.8 1927.2h1.1v1.1h-1.1zM1003.5 1918.9h1.1v1.1h-1.1zM1024.7 1890.8h1.1v1.1h-1.1zM1032.2 1979.2h1.1v1.1h-1.1zM1029.5 1910.3h1.1v1.1h-1.1zM1017.0 1935.2h1.1v1.1h-1.1zM1003.8 1888.6h1.1v1.1h-1.1zM1024.9 1915.3h1.1v1.1h-1.1zM1050.0 1906.5h1.1v1.1h-1.1zM1025.8 1910.8h1.1v1.1h-1.1zM1018.0 1975.1h1.1v1.1h-1.1zM978.8 1963.4h1.1v1.1h-1.1zM1022.1 1905.5h1.1v1.1h-1.1zM989.2 1977.6h1.1v1.1h-1.1zM1044.0 1911.5h1.1v1.1h-1.1zM1015.2 1972.3h1.1v1.1h-1.1zM1014.2 1920.3h1.1v1.1h-1.1zM1029.8 1878.8h1.1v1.1h-1.1zM1023.9 1898.7h1.1v1.1h-1.1zM1013.8 1885.1h1.1v1.1h-1.1zM982.1 1888.7h1.1v1.1h-1.1zM1003.9 1959.4h1.1v1.1h-1.1zM1002.1 1892.3h1.1v1.1h-1.1zM998.2 1961.5h1.1v1.1h-1.1zM1015.8 1966.7h1.1v1.1h-1.1zM1046.0 1890.5h1.1v1.1h-1.1zM1035.2 1883.2h1.1v1.1h-1.1zM1027.7 1916.3h1.1v1.1h-1.1zM1042.6 1890.6h1.1v1.1h-1.1zM1015.3 1906.5h1.1v1.1h-1.1zM1002.5 1955.3h1.1v1.1h-1.1zM987.9 1932.3h1.1v1.1h-1.1zM1027.8 1909.0h1.1v1.1h-1.1zM1050.7 1909.0h1.1v1.1h-1.1zM1038.0 1909.4h1.1v1.1h-1.1zM1008.9 1943.3h1.1v1.1h-1.1zM1031.0 1876.0h1.1v1.1h-1.1zM1010.0 1917.9h1.1v1.1h-1.1zM1014.5 1913.5h1.1v1.1h-1.1zM1006.4 1963.0h1.1v1.1h-1.1zM991.3 1889.6h1.1v1.1h-1.1zM994.0 1869.8h1.1v1.1h-1.1zM1052.4 1972.3h1.1v1.1h-1.1zM1052.3 1972.0h1.1v1.1h-1.1zM1005.0 1937.7h1.1v1.1h-1.1zM1011.6 1904.2h1.1v1.1h-1.1zM1018.8 1956.8h1.1v1.1h-1.1zM992.4 1897.1h1.1v1.1h-1.1zM1025.2 1914.6h1.1v1.1h-1.1zM1062.2 1907.0h1.1v1.1h-1.1zM1021.6 1961.8h1.1v1.1h-1.1zM1040.7 1913.2h1.1v1.1h-1.1zM1010.3 1898.9h1.1v1.1h-1.1zM1053.8 1904.5h1.1v1.1h-1.1zM1034.0 1893.8h1.1v1.1h-1.1zM1024.4 1894.0h1.1v1.1h-1.1zM1050.0 1907.5h1.1v1.1h-1.1zM1047.2 1910.8h1.1v1.1h-1.1zM1030.0 1876.3h1.1v1.1h-1.1zM1044.2 1904.8h1.1v1.1h-1.1zM1032.4 1902.6h1.1v1.1h-1.1zM1053.8 1898.1h1.1v1.1h-1.1zM1013.2 1888.2h1.1v1.1h-1.1zM1031.9 1899.0h1.1v1.1h-1.1zM1002.8 1910.7h1.1v1.1h-1.1zM1036.4 1892.4h1.1v1.1h-1.1zM1029.2 1860.5h1.1v1.1h-1.1zM1046.4 1902.5h1.1v1.1h-1.1zM1020.4 1886.2h1.1v1.1h-1.1zM1075.5 1898.5h1.1v1.1h-1.1zM1075.4 1898.8h1.1v1.1h-1.1zM1014.3 1863.5h1.1v1.1h-1.1zM1033.4 1891.4h1.1v1.1h-1.1zM1024.0 1887.7h1.1v1.1h-1.1zM1036.9 1880.1h1.1v1.1h-1.1zM1043.5 1891.8h1.1v1.1h-1.1zM1047.5 1894.2h1.1v1.1h-1.1zM1024.5 1890.9h1.1v1.1h-1.1zM1051.4 1908.6h1.1v1.1h-1.1zM1052.2 1898.8h1.1v1.1h-1.1zM1073.1 1889.7h1.1v1.1h-1.1zM1047.8 1891.3h1.1v1.1h-1.1zM1018.3 1873.4h1.1v1.1h-1.1zM1046.2 1913.5h1.1v1.1h-1.1zM1033.5 1922.8h1.1v1.1h-1.1zM1043.4 1884.7h1.1v1.1h-1.1zM1035.0 1911.0h1.1v1.1h-1.1zM1024.2 1896.0h1.1v1.1h-1.1zM1025.9 1869.4h1.1v1.1h-1.1zM1055.8 1902.0h1.1v1.1h-1.1zM1028.2 1920.7h1.1v1.1h-1.1zM1071.9 1903.6h1.1v1.1h-1.1zM1035.2 1885.2h1.1v1.1h-1.1zM1042.7 1910.1h1.1v1.1h-1.1zM1067.1 1894.9h1.1v1.1h-1.1zM1050.0 1902.3h1.1v1.1h-1.1zM1022.1 1894.1h1.1v1.1h-1.1zM1032.5 1872.4h1.1v1.1h-1.1zM1040.8 1893.5h1.1v1.1h-1.1zM1018.2 1872.4h1.1v1.1h-1.1zM1032.7 1914.8h1.1v1.1h-1.1zM1036.3 1890.2h1.1v1.1h-1.1zM1042.6 1883.8h1.1v1.1h-1.1zM1031.3 1901.6h1.1v1.1h-1.1zM1037.9 1897.3h1.1v1.1h-1.1zM1044.8 1891.8h1.1v1.1h-1.1zM1036.8 1886.2h1.1v1.1h-1.1zM1031.4 1889.7h1.1v1.1h-1.1zM1032.7 1873.7h1.1v1.1h-1.1zM1021.1 1912.1h1.1v1.1h-1.1zM1023.4 1886.8h1.1v1.1h-1.1zM1043.4 1899.7h1.1v1.1h-1.1zM1040.0 1896.8h1.1v1.1h-1.1zM1003.0 1886.8h1.1v1.1h-1.1zM1042.5 1894.6h1.1v1.1h-1.1zM1043.5 1898.1h1.1v1.1h-1.1zM1030.4 1901.5h1.1v1.1h-1.1zM1052.8 1912.0h1.1v1.1h-1.1zM1047.1 1890.5h1.1v1.1h-1.1zM1042.5 1891.5h1.1v1.1h-1.1zM1025.0 1873.5h1.1v1.1h-1.1zM1038.4 1900.3h1.1v1.1h-1.1zM1063.4 1907.9h1.1v1.1h-1.1zM1043.9 1911.9h1.1v1.1h-1.1zM1080.4 1897.2h1.1v1.1h-1.1zM1053.5 1901.5h1.1v1.1h-1.1zM1045.5 1898.1h1.1v1.1h-1.1zM1027.4 1899.8h1.1v1.1h-1.1zM1040.2 1893.1h1.1v1.1h-1.1zM1045.5 1885.7h1.1v1.1h-1.1zM1025.5 1892.5h1.1v1.1h-1.1zM1017.2 1883.1h1.1v1.1h-1.1zM1065.5 1900.5h1.1v1.1h-1.1zM1018.4 1911.3h1.1v1.1h-1.1zM1037.4 1888.5h1.1v1.1h-1.1zM1073.7 1890.0h1.1v1.1h-1.1zM1017.4 1878.0h1.1v1.1h-1.1zM1054.8 1908.7h1.1v1.1h-1.1zM1023.7 1877.6h1.1v1.1h-1.1zM1039.1 1884.3h1.1v1.1h-1.1zM1027.1 1893.5h1.1v1.1h-1.1zM1023.9 1890.0h1.1v1.1h-1.1zM1029.5 1875.2h1.1v1.1h-1.1zM1021.5 1872.6h1.1v1.1h-1.1zM1039.6 1886.7h1.1v1.1h-1.1zM1031.1 1885.7h1.1v1.1h-1.1zM1050.0 1890.8h1.1v1.1h-1.1zM1028.3 1880.1h1.1v1.1h-1.1zM1019.2 1869.4h1.1v1.1h-1.1zM1003.9 1879.9h1.1v1.1h-1.1zM1039.2 1901.3h1.1v1.1h-1.1zM1042.1 1899.0h1.1v1.1h-1.1zM1035.9 1902.0h1.1v1.1h-1.1zM1063.2 1909.0h1.1v1.1h-1.1zM1071.4 1886.8h1.1v1.1h-1.1zM1034.8 1892.9h1.1v1.1h-1.1zM1045.2 1887.3h1.1v1.1h-1.1zM1022.9 1905.2h1.1v1.1h-1.1zM1068.4 1890.3h1.1v1.1h-1.1zM1071.9 1886.8h1.1v1.1h-1.1zM1045.1 1884.6h1.1v1.1h-1.1zM1030.6 1903.4h1.1v1.1h-1.1zM1032.5 1898.1h1.1v1.1h-1.1zM1077.7 1979.6h1.1v1.1h-1.1zM1018.7 1975.2h1.1v1.1h-1.1zM1040.3 1978.8h1.1v1.1h-1.1zM1065.2 1974.1h1.1v1.1h-1.1zM1088.7 1955.2h1.1v1.1h-1.1zM1009.2 1960.4h1.1v1.1h-1.1zM1041.4 1973.6h1.1v1.1h-1.1zM1000.3 1951.0h1.1v1.1h-1.1zM1086.3 1971.1h1.1v1.1h-1.1zM1036.4 1968.9h1.1v1.1h-1.1zM1077.5 1962.2h1.1v1.1h-1.1zM1045.1 1970.9h1.1v1.1h-1.1zM1013.6 1975.6h1.1v1.1h-1.1zM1042.5 1975.3h1.1v1.1h-1.1zM1047.8 1985.6h1.1v1.1h-1.1zM1026.7 1970.8h1.1v1.1h-1.1zM1064.6 1977.4h1.1v1.1h-1.1zM1040.4 1973.5h1.1v1.1h-1.1zM1016.0 1975.4h1.1v1.1h-1.1zM1080.3 1973.9h1.1v1.1h-1.1zM1064.6 1974.2h1.1v1.1h-1.1zM1083.9 1967.1h1.1v1.1h-1.1zM1070.9 1974.0h1.1v1.1h-1.1zM1062.9 1971.1h1.1v1.1h-1.1zM1064.7 1978.3h1.1v1.1h-1.1zM1073.1 1971.3h1.1v1.1h-1.1zM1073.0 1978.8h1.1v1.1h-1.1zM1082.9 1965.9h1.1v1.1h-1.1zM1082.1 1973.2h1.1v1.1h-1.1zM1010.7 1970.6h1.1v1.1h-1.1zM1088.6 1951.2h1.1v1.1h-1.1zM1022.4 1933.3h1.1v1.1h-1.1zM1083.0 1968.0h1.1v1.1h-1.1zM1040.3 1971.8h1.1v1.1h-1.1zM1006.8 1962.1h1.1v1.1h-1.1zM1082.3 1972.5h1.1v1.1h-1.1zM1030.6 1967.5h1.1v1.1h-1.1zM1074.8 1969.0h1.1v1.1h-1.1zM1011.4 1946.6h1.1v1.1h-1.1zM1078.1 1976.2h1.1v1.1h-1.1zM1072.9 1968.1h1.1v1.1h-1.1zM1082.3 1966.2h1.1v1.1h-1.1zM1012.1 1950.5h1.1v1.1h-1.1zM1022.6 1958.0h1.1v1.1h-1.1zM1039.8 1970.7h1.1v1.1h-1.1zM1065.8 1974.7h1.1v1.1h-1.1zM1079.6 1972.8h1.1v1.1h-1.1zM1066.4 1968.1h1.1v1.1h-1.1zM1020.6 1955.7h1.1v1.1h-1.1zM1033.4 1968.1h1.1v1.1h-1.1z" fill="#000" fill-opacity="0.90"/>
<ellipse cx="1068" cy="1835" rx="16" ry="11" transform="rotate(-58 1068 1835)" fill="#000" fill-opacity="0.6"/>
<ellipse cx="1068" cy="1943" rx="12" ry="15" fill="#000" fill-opacity="0.3"/>
<path d="M1029.7 1862.2 1030.1 1860.2 1031.1 1858.3 1032.5 1856.4 1034.1 1854.6 1035.8 1852.7 1037.4 1850.8 1038.9 1848.8 1040.5 1846.8 1042.1 1844.7 1043.9 1842.6 1045.7 1840.4 1047.7 1838.0 1049.8 1835.3 1052.1 1832.2 1054.6 1829.0 1057.2 1825.9 1059.8 1823.1 1062.3 1820.8 1064.9 1819.1 1067.6 1817.6 1070.3 1816.5 1072.9 1815.8 1075.3 1815.4 1077.4 1815.3 1079.2 1815.6 1080.9 1816.2 1082.4 1817.1 1083.7 1818.3 1084.8 1819.8 1085.8 1821.7 1086.5 1823.9 1087.2 1826.5 1087.6 1829.4 1087.9 1832.7 1087.9 1836.2 1087.6 1840.0 1087.1 1844.2 1086.1 1849.1 1085.0 1854.3 1083.6 1859.5 1082.2 1864.4 1080.7 1868.8 1079.1 1872.6 1077.4 1875.9 1075.5 1878.9 1073.7 1881.7 1071.8 1884.5 1070.0 1887.4 1068.3 1890.8 1066.6 1894.6 1065.0 1898.5 1063.3 1901.8 1061.7 1904.1 1060.1 1905.1 1058.5 1904.3 1056.9 1902.2 1055.3 1899.2 1053.7 1895.7 1052.0 1892.4 1050.1 1889.6 1048.1 1887.2 1045.8 1884.8 1043.5 1882.5 1041.2 1880.1 1039.0 1877.8 1037.1 1875.5 1035.3 1873.2 1033.6 1871.0 1032.0 1868.7 1030.8 1866.5 1029.9 1864.3ZM1031.4 1861.0 1031.7 1859.1 1032.6 1857.3 1033.9 1855.6 1035.4 1853.9 1037.0 1852.1 1038.6 1850.2 1040.1 1848.2 1041.7 1846.3 1043.4 1844.3 1045.1 1842.2 1046.9 1840.1 1048.9 1837.8 1050.9 1835.2 1053.2 1832.4 1055.5 1829.4 1057.9 1826.5 1060.3 1823.9 1062.7 1821.7 1065.1 1820.0 1067.6 1818.7 1070.1 1817.6 1072.6 1816.8 1074.9 1816.4 1076.9 1816.2 1078.8 1816.4 1080.4 1816.9 1081.9 1817.8 1083.1 1818.9 1084.2 1820.4 1085.1 1822.2 1085.8 1824.4 1086.3 1826.9 1086.7 1829.7 1086.8 1832.8 1086.8 1836.1 1086.5 1839.7 1085.9 1843.7 1085.0 1848.2 1083.9 1853.0 1082.6 1857.9 1081.2 1862.5 1079.9 1866.7 1078.4 1870.3 1076.8 1873.5 1075.1 1876.5 1073.4 1879.3 1071.6 1882.1 1069.9 1885.0 1068.3 1888.4 1066.7 1892.2 1065.1 1896.0 1063.5 1899.2 1062.0 1901.5 1060.4 1902.3 1058.9 1901.4 1057.4 1899.2 1056.0 1896.1 1054.4 1892.6 1052.9 1889.2 1051.2 1886.4 1049.3 1884.0 1047.3 1881.6 1045.1 1879.4 1043.0 1877.2 1040.9 1875.0 1039.1 1872.9 1037.3 1870.9 1035.6 1868.9 1034.0 1866.9 1032.7 1864.9 1031.8 1862.9ZM1033.9 1859.2 1034.3 1857.4 1035.2 1855.7 1036.4 1854.1 1037.8 1852.5 1039.3 1850.8 1040.7 1849.1 1042.0 1847.3 1043.4 1845.6 1044.8 1843.7 1046.3 1841.8 1048.0 1839.8 1049.7 1837.7 1051.6 1835.2 1053.7 1832.5 1056.0 1829.6 1058.3 1826.8 1060.6 1824.3 1062.9 1822.3 1065.2 1820.7 1067.6 1819.5 1070.0 1818.5 1072.3 1817.9 1074.5 1817.5 1076.3 1817.5 1078.0 1817.7 1079.5 1818.2 1080.8 1819.0 1082.0 1820.1 1083.0 1821.4 1083.9 1823.1 1084.6 1825.1 1085.2 1827.4 1085.6 1830.0 1085.8 1832.9 1085.9 1836.1 1085.7 1839.5 1085.1 1843.3 1084.3 1847.7 1083.3 1852.3 1082.0 1857.0 1080.7 1861.4 1079.4 1865.3 1077.9 1868.7 1076.4 1871.6 1074.7 1874.2 1073.0 1876.7 1071.4 1879.1 1069.8 1881.7 1068.3 1884.7 1066.8 1888.1 1065.3 1891.5 1063.9 1894.5 1062.4 1896.7 1060.9 1897.6 1059.5 1897.0 1058.1 1895.2 1056.7 1892.5 1055.2 1889.5 1053.6 1886.6 1051.9 1884.1 1050.1 1881.9 1048.1 1879.8 1046.0 1877.7 1043.9 1875.6 1042.0 1873.4 1040.3 1871.3 1038.7 1869.2 1037.2 1867.2 1035.9 1865.1 1034.8 1863.1 1034.1 1861.2ZM1036.4 1857.5 1036.7 1855.8 1037.4 1854.3 1038.5 1852.8 1039.7 1851.4 1041.0 1849.9 1042.2 1848.3 1043.4 1846.7 1044.6 1845.0 1046.0 1843.3 1047.4 1841.5 1048.9 1839.6 1050.6 1837.5 1052.4 1835.2 1054.5 1832.6 1056.6 1829.9 1058.8 1827.3 1061.1 1825.0 1063.2 1823.1 1065.4 1821.7 1067.7 1820.6 1069.9 1819.7 1072.0 1819.1 1074.0 1818.8 1075.7 1818.8 1077.3 1819.0 1078.7 1819.4 1080.0 1820.1 1081.1 1821.0 1082.1 1822.3 1083.0 1823.8 1083.7 1825.6 1084.3 1827.8 1084.7 1830.3 1085.0 1833.0 1085.0 1836.0 1084.8 1839.2 1084.3 1842.9 1083.5 1847.0 1082.4 1851.4 1081.2 1855.7 1079.9 1859.8 1078.6 1863.4 1077.3 1866.4 1075.8 1869.0 1074.2 1871.4 1072.7 1873.7 1071.1 1875.9 1069.7 1878.3 1068.3 1881.1 1066.9 1884.4 1065.5 1887.7 1064.1 1890.7 1062.7 1892.9 1061.3 1894.0 1060.0 1893.7 1058.6 1892.1 1057.2 1889.7 1055.8 1886.9 1054.3 1884.1 1052.7 1881.7 1051.0 1879.6 1049.1 1877.5 1047.2 1875.4 1045.3 1873.2 1043.6 1871.1 1042.1 1869.0 1040.7 1866.9 1039.4 1864.9 1038.2 1863.0 1037.2 1861.1 1036.6 1859.2ZM1037.7 1856.5 1038.0 1855.0 1038.7 1853.5 1039.7 1852.1 1041.0 1850.6 1042.4 1849.1 1043.7 1847.6 1044.9 1845.9 1046.3 1844.3 1047.6 1842.7 1049.1 1841.0 1050.6 1839.2 1052.2 1837.3 1053.9 1835.2 1055.7 1832.8 1057.7 1830.4 1059.6 1828.0 1061.6 1825.8 1063.6 1824.0 1065.6 1822.6 1067.7 1821.5 1069.8 1820.6 1071.8 1819.9 1073.7 1819.6 1075.4 1819.5 1076.9 1819.6 1078.3 1820.0 1079.5 1820.7 1080.5 1821.7 1081.4 1822.9 1082.1 1824.4 1082.7 1826.2 1083.1 1828.3 1083.5 1830.6 1083.6 1833.2 1083.6 1835.9 1083.3 1838.9 1082.8 1842.2 1082.1 1845.9 1081.1 1849.9 1080.1 1853.9 1079.0 1857.8 1077.8 1861.2 1076.6 1864.2 1075.3 1866.9 1073.9 1869.3 1072.4 1871.7 1071.0 1874.0 1069.6 1876.4 1068.2 1879.2 1066.9 1882.4 1065.6 1885.5 1064.3 1888.2 1063.0 1890.0 1061.7 1890.7 1060.5 1890.0 1059.2 1888.1 1058.0 1885.6 1056.8 1882.7 1055.5 1879.9 1054.1 1877.5 1052.5 1875.5 1050.8 1873.6 1049.0 1871.7 1047.3 1869.9 1045.6 1868.1 1044.1 1866.4 1042.6 1864.7 1041.2 1863.0 1039.9 1861.4 1038.8 1859.7 1038.0 1858.1ZM1040.2 1854.7 1040.5 1853.3 1041.2 1851.9 1042.2 1850.5 1043.4 1849.2 1044.6 1847.9 1045.8 1846.5 1046.9 1845.0 1048.0 1843.6 1049.2 1842.1 1050.4 1840.5 1051.7 1838.9 1053.2 1837.2 1054.7 1835.2 1056.4 1833.0 1058.2 1830.6 1060.1 1828.4 1062.0 1826.3 1063.9 1824.7 1065.8 1823.4 1067.7 1822.4 1069.7 1821.6 1071.5 1821.1 1073.3 1820.8 1074.8 1820.7 1076.2 1820.9 1077.4 1821.3 1078.5 1822.0 1079.4 1822.9 1080.2 1824.0 1080.9 1825.3 1081.5 1826.9 1081.9 1828.8 1082.3 1830.9 1082.5 1833.3 1082.5 1835.9 1082.3 1838.6 1081.9 1841.7 1081.2 1845.3 1080.4 1849.1 1079.4 1852.8 1078.3 1856.4 1077.2 1859.6 1076.1 1862.4 1074.8 1864.8 1073.5 1866.9 1072.1 1869.0 1070.8 1871.0 1069.5 1873.0 1068.2 1875.5 1067.0 1878.3 1065.8 1881.0 1064.6 1883.5 1063.4 1885.2 1062.3 1885.9 1061.1 1885.4 1059.9 1883.9 1058.8 1881.7 1057.6 1879.3 1056.3 1876.8 1055.0 1874.8 1053.5 1873.1 1051.8 1871.4 1050.1 1869.6 1048.5 1867.9 1046.9 1866.2 1045.5 1864.5 1044.2 1862.8 1043.0 1861.2 1041.8 1859.5 1040.9 1857.9 1040.4 1856.3ZM1042.2 1853.3 1042.4 1852.0 1043.0 1850.8 1043.9 1849.5 1045.0 1848.3 1046.2 1847.0 1047.3 1845.7 1048.3 1844.3 1049.5 1842.9 1050.6 1841.5 1051.9 1840.1 1053.1 1838.6 1054.5 1837.0 1056.0 1835.2 1057.5 1833.2 1059.2 1831.1 1060.9 1829.0 1062.6 1827.2 1064.3 1825.7 1066.0 1824.5 1067.7 1823.5 1069.5 1822.7 1071.2 1822.2 1072.9 1821.9 1074.3 1821.8 1075.6 1821.9 1076.7 1822.3 1077.8 1822.8 1078.7 1823.6 1079.4 1824.7 1080.0 1826.0 1080.5 1827.5 1080.9 1829.3 1081.2 1831.3 1081.3 1833.4 1081.2 1835.8 1081.0 1838.3 1080.6 1841.1 1080.0 1844.3 1079.2 1847.7 1078.3 1851.1 1077.3 1854.4 1076.3 1857.3 1075.3 1859.8 1074.2 1862.1 1073.0 1864.2 1071.8 1866.2 1070.5 1868.2 1069.4 1870.3 1068.2 1872.7 1067.1 1875.4 1066.0 1878.0 1064.8 1880.3 1063.7 1881.9 1062.6 1882.5 1061.6 1881.9 1060.5 1880.3 1059.5 1878.1 1058.4 1875.6 1057.3 1873.2 1056.1 1871.2 1054.8 1869.5 1053.4 1867.9 1051.9 1866.3 1050.4 1864.7 1048.9 1863.2 1047.6 1861.7 1046.4 1860.3 1045.2 1858.8 1044.1 1857.4 1043.1 1856.1 1042.5 1854.7ZM1044.9 1851.4 1044.9 1850.3 1045.4 1849.3 1046.1 1848.2 1047.0 1847.2 1048.0 1846.0 1048.9 1844.9 1049.9 1843.6 1050.9 1842.3 1051.9 1841.0 1053.1 1839.7 1054.3 1838.3 1055.6 1836.8 1057.0 1835.2 1058.5 1833.3 1060.0 1831.4 1061.6 1829.6 1063.1 1828.0 1064.6 1826.6 1066.2 1825.6 1067.8 1824.7 1069.3 1824.0 1070.9 1823.5 1072.4 1823.2 1073.7 1823.1 1074.8 1823.2 1075.9 1823.5 1076.9 1823.9 1077.8 1824.6 1078.5 1825.5 1079.1 1826.7 1079.6 1828.1 1079.9 1829.7 1080.2 1831.5 1080.3 1833.6 1080.2 1835.7 1080.0 1838.0 1079.5 1840.6 1078.9 1843.5 1078.1 1846.5 1077.3 1849.5 1076.4 1852.4 1075.5 1855.0 1074.5 1857.2 1073.5 1859.2 1072.5 1861.1 1071.4 1862.9 1070.3 1864.7 1069.2 1866.7 1068.2 1869.0 1067.2 1871.6 1066.1 1874.1 1065.1 1876.4 1064.1 1878.0 1063.1 1878.7 1062.1 1878.3 1061.1 1876.9 1060.1 1874.9 1059.2 1872.5 1058.2 1870.2 1057.1 1868.3 1055.9 1866.6 1054.7 1865.0 1053.4 1863.4 1052.1 1861.8 1050.9 1860.3 1049.8 1858.9 1048.7 1857.6 1047.6 1856.3 1046.6 1855.0 1045.8 1853.8 1045.2 1852.6ZM1047.1 1849.8 1047.3 1848.7 1047.9 1847.7 1048.6 1846.7 1049.5 1845.7 1050.4 1844.7 1051.3 1843.6 1052.2 1842.5 1053.0 1841.4 1054.0 1840.3 1054.9 1839.1 1055.9 1837.9 1057.0 1836.6 1058.2 1835.1 1059.4 1833.5 1060.8 1831.8 1062.1 1830.1 1063.5 1828.6 1064.9 1827.3 1066.3 1826.4 1067.8 1825.6 1069.2 1825.0 1070.6 1824.6 1071.9 1824.3 1073.1 1824.3 1074.1 1824.4 1075.0 1824.7 1075.9 1825.2 1076.6 1825.9 1077.2 1826.7 1077.7 1827.7 1078.1 1829.0 1078.4 1830.4 1078.6 1832.0 1078.8 1833.7 1078.8 1835.6 1078.6 1837.7 1078.3 1840.0 1077.8 1842.6 1077.2 1845.4 1076.5 1848.2 1075.7 1850.9 1074.9 1853.3 1074.0 1855.4 1073.1 1857.2 1072.1 1858.9 1071.1 1860.4 1070.1 1862.0 1069.1 1863.6 1068.2 1865.4 1067.3 1867.5 1066.4 1869.6 1065.5 1871.4 1064.6 1872.7 1063.7 1873.2 1062.8 1872.7 1062.0 1871.5 1061.1 1869.9 1060.2 1868.0 1059.3 1866.1 1058.3 1864.6 1057.2 1863.3 1056.0 1862.0 1054.7 1860.7 1053.5 1859.4 1052.3 1858.2 1051.3 1857.0 1050.3 1855.7 1049.3 1854.5 1048.4 1853.3 1047.7 1852.1 1047.3 1851.0ZM1049.9 1847.9 1050.1 1846.9 1050.5 1846.0 1051.2 1845.2 1051.9 1844.3 1052.7 1843.4 1053.4 1842.5 1054.2 1841.6 1054.9 1840.6 1055.6 1839.6 1056.5 1838.6 1057.3 1837.6 1058.3 1836.4 1059.3 1835.1 1060.4 1833.7 1061.6 1832.1 1062.8 1830.6 1064.1 1829.3 1065.3 1828.2 1066.5 1827.4 1067.8 1826.7 1069.1 1826.2 1070.3 1825.9 1071.4 1825.7 1072.4 1825.7 1073.3 1825.8 1074.1 1826.1 1074.8 1826.5 1075.5 1827.1 1076.0 1827.8 1076.4 1828.7 1076.8 1829.7 1077.1 1830.9 1077.4 1832.3 1077.5 1833.9 1077.5 1835.6 1077.4 1837.4 1077.1 1839.4 1076.7 1841.8 1076.1 1844.2 1075.5 1846.7 1074.8 1849.1 1074.0 1851.2 1073.3 1852.9 1072.5 1854.5 1071.6 1855.9 1070.7 1857.2 1069.8 1858.5 1069.0 1859.8 1068.1 1861.4 1067.4 1863.2 1066.6 1865.1 1065.8 1866.7 1065.0 1867.8 1064.2 1868.3 1063.5 1868.0 1062.7 1867.1 1062.0 1865.7 1061.2 1864.1 1060.3 1862.5 1059.4 1861.1 1058.5 1860.0 1057.4 1858.9 1056.3 1857.7 1055.2 1856.6 1054.1 1855.5 1053.3 1854.3 1052.4 1853.2 1051.6 1852.1 1050.9 1851.0 1050.3 1850.0 1050.0 1848.9ZM1052.6 1846.0 1052.6 1845.2 1052.9 1844.5 1053.4 1843.8 1054.0 1843.1 1054.6 1842.4 1055.2 1841.6 1055.9 1840.8 1056.5 1839.9 1057.3 1839.0 1058.0 1838.1 1058.8 1837.2 1059.7 1836.2 1060.6 1835.1 1061.6 1833.9 1062.7 1832.6 1063.7 1831.4 1064.7 1830.3 1065.8 1829.4 1066.8 1828.7 1067.8 1828.1 1068.9 1827.7 1069.9 1827.4 1070.9 1827.2 1071.8 1827.1 1072.6 1827.1 1073.3 1827.3 1073.9 1827.6 1074.5 1828.1 1075.0 1828.7 1075.4 1829.4 1075.7 1830.4 1076.0 1831.5 1076.2 1832.7 1076.2 1834.0 1076.2 1835.5 1076.0 1837.0 1075.7 1838.7 1075.3 1840.7 1074.8 1842.7 1074.2 1844.7 1073.6 1846.6 1073.0 1848.4 1072.4 1849.8 1071.7 1851.2 1071.0 1852.4 1070.3 1853.6 1069.5 1854.8 1068.8 1856.1 1068.1 1857.7 1067.4 1859.4 1066.8 1861.1 1066.1 1862.7 1065.4 1863.8 1064.7 1864.2 1064.0 1863.9 1063.4 1863.0 1062.7 1861.7 1062.1 1860.1 1061.4 1858.6 1060.7 1857.3 1059.9 1856.2 1059.1 1855.0 1058.2 1854.0 1057.4 1852.9 1056.5 1851.9 1055.8 1851.0 1055.1 1850.1 1054.4 1849.2 1053.7 1848.4 1053.2 1847.5 1052.8 1846.8ZM1055.3 1844.0 1055.4 1843.4 1055.7 1842.8 1056.1 1842.2 1056.6 1841.6 1057.2 1841.0 1057.7 1840.3 1058.2 1839.6 1058.8 1838.9 1059.4 1838.2 1060.0 1837.5 1060.6 1836.8 1061.3 1836.0 1062.1 1835.1 1062.8 1834.1 1063.7 1833.1 1064.5 1832.1 1065.3 1831.2 1066.2 1830.4 1067.0 1829.8 1067.9 1829.4 1068.7 1829.0 1069.6 1828.7 1070.4 1828.5 1071.1 1828.5 1071.7 1828.5 1072.3 1828.7 1072.8 1829.0 1073.3 1829.4 1073.7 1829.9 1074.0 1830.5 1074.2 1831.3 1074.4 1832.2 1074.5 1833.1 1074.6 1834.2 1074.6 1835.4 1074.4 1836.6 1074.2 1838.0 1073.9 1839.6 1073.5 1841.2 1073.0 1842.9 1072.6 1844.5 1072.1 1845.9 1071.6 1847.2 1071.0 1848.3 1070.5 1849.3 1069.9 1850.3 1069.3 1851.3 1068.7 1852.4 1068.1 1853.6 1067.5 1855.0 1067.0 1856.3 1066.4 1857.5 1065.9 1858.3 1065.3 1858.6 1064.8 1858.3 1064.3 1857.5 1063.8 1856.4 1063.3 1855.2 1062.7 1853.9 1062.1 1852.9 1061.5 1852.0 1060.8 1851.2 1060.1 1850.4 1059.3 1849.6 1058.6 1848.8 1058.0 1848.1 1057.4 1847.4 1056.8 1846.7 1056.3 1846.0 1055.8 1845.3 1055.5 1844.7ZM1058.7 1841.6 1058.8 1841.1 1059.0 1840.7 1059.4 1840.2 1059.7 1839.8 1060.1 1839.4 1060.5 1838.9 1060.8 1838.4 1061.2 1837.9 1061.5 1837.4 1062.0 1836.9 1062.4 1836.3 1062.9 1835.7 1063.4 1835.1 1064.0 1834.3 1064.7 1833.5 1065.3 1832.7 1066.0 1832.1 1066.6 1831.5 1067.2 1831.1 1067.9 1830.8 1068.6 1830.5 1069.2 1830.3 1069.8 1830.3 1070.3 1830.2 1070.7 1830.3 1071.1 1830.4 1071.5 1830.6 1071.8 1830.9 1072.1 1831.3 1072.4 1831.7 1072.6 1832.3 1072.8 1832.9 1072.9 1833.6 1073.0 1834.4 1073.0 1835.3 1072.9 1836.2 1072.8 1837.3 1072.5 1838.5 1072.2 1839.8 1071.9 1841.1 1071.5 1842.3 1071.1 1843.3 1070.7 1844.2 1070.3 1845.0 1069.8 1845.7 1069.4 1846.3 1068.9 1847.0 1068.5 1847.7 1068.1 1848.5 1067.7 1849.5 1067.3 1850.4 1066.9 1851.3 1066.5 1852.0 1066.1 1852.3 1065.6 1852.2 1065.2 1851.7 1064.8 1851.0 1064.4 1850.2 1064.0 1849.4 1063.5 1848.7 1063.0 1848.1 1062.5 1847.5 1061.9 1846.8 1061.3 1846.2 1060.8 1845.6 1060.4 1845.0 1060.0 1844.4 1059.6 1843.8 1059.2 1843.2 1059.0 1842.6 1058.8 1842.1ZM1062.3 1839.1 1062.3 1838.8 1062.4 1838.5 1062.6 1838.3 1062.8 1838.0 1063.1 1837.7 1063.3 1837.4 1063.5 1837.1 1063.8 1836.8 1064.0 1836.5 1064.3 1836.2 1064.6 1835.8 1064.9 1835.4 1065.3 1835.0 1065.7 1834.6 1066.0 1834.1 1066.4 1833.7 1066.8 1833.3 1067.2 1832.9 1067.6 1832.7 1067.9 1832.5 1068.3 1832.3 1068.7 1832.2 1069.1 1832.1 1069.4 1832.1 1069.7 1832.1 1070.0 1832.2 1070.2 1832.3 1070.4 1832.4 1070.6 1832.7 1070.7 1833.0 1070.8 1833.3 1070.9 1833.7 1071.0 1834.1 1071.0 1834.6 1071.0 1835.2 1071.0 1835.7 1070.8 1836.4 1070.7 1837.1 1070.5 1837.8 1070.3 1838.6 1070.1 1839.3 1069.8 1839.9 1069.6 1840.5 1069.4 1841.0 1069.1 1841.4 1068.8 1841.9 1068.6 1842.3 1068.3 1842.8 1068.0 1843.4 1067.8 1844.0 1067.5 1844.6 1067.3 1845.2 1067.0 1845.6 1066.8 1845.8 1066.5 1845.7 1066.3 1845.3 1066.1 1844.8 1065.8 1844.2 1065.6 1843.7 1065.3 1843.2 1065.0 1842.8 1064.7 1842.4 1064.4 1842.0 1064.1 1841.6 1063.8 1841.2 1063.5 1840.9 1063.2 1840.6 1063.0 1840.2 1062.7 1839.9 1062.5 1839.6 1062.4 1839.3Z" fill="none" stroke="#000" stroke-width="0.90"/>
<path d="M1017.9 1943.8 1018.7 1941.9 1019.8 1939.9 1021.3 1937.9 1022.9 1935.8 1024.6 1933.9 1026.3 1932.1 1028.1 1930.4 1030.1 1928.8 1032.2 1927.3 1034.3 1925.9 1036.4 1924.5 1038.4 1923.3 1040.3 1922.0 1042.3 1920.9 1044.2 1919.8 1046.2 1918.8 1048.1 1917.9 1050.1 1917.1 1052.0 1916.4 1054.1 1915.7 1056.1 1915.2 1058.1 1914.8 1060.1 1914.5 1062.0 1914.3 1063.8 1914.2 1065.6 1914.3 1067.3 1914.4 1069.0 1914.7 1070.6 1915.1 1072.1 1915.7 1073.6 1916.4 1075.0 1917.3 1076.3 1918.4 1077.6 1919.5 1078.7 1920.7 1079.8 1921.9 1080.7 1923.2 1081.5 1924.5 1082.1 1925.8 1082.7 1927.2 1083.3 1928.6 1083.7 1930.1 1084.1 1931.7 1084.4 1933.4 1084.7 1935.2 1084.8 1937.0 1084.9 1938.8 1084.8 1940.6 1084.6 1942.5 1084.3 1944.4 1083.8 1946.4 1083.3 1948.3 1082.7 1950.3 1082.1 1952.1 1081.6 1953.9 1081.1 1955.6 1080.6 1957.3 1080.0 1958.9 1079.1 1960.4 1077.9 1961.8 1076.4 1963.2 1074.5 1964.5 1072.4 1965.7 1070.3 1966.8 1068.1 1967.8 1066.0 1968.6 1064.0 1969.2 1062.0 1969.7 1060.0 1970.1 1058.0 1970.3 1056.0 1970.4 1053.9 1970.4 1051.7 1970.3 1049.4 1970.1 1047.1 1969.7 1044.8 1969.3 1042.5 1968.7 1040.3 1968.1 1038.1 1967.4 1035.9 1966.7 1033.7 1965.8 1031.5 1964.8 1029.5 1963.7 1027.6 1962.5 1025.9 1961.2 1024.3 1959.7 1022.8 1958.1 1021.4 1956.5 1020.3 1954.8 1019.4 1953.2 1018.6 1951.6 1018.0 1950.1 1017.5 1948.6 1017.4 1947.1 1017.5 1945.5ZM1021.7 1943.5 1022.3 1941.8 1023.2 1939.9 1024.3 1938.0 1025.5 1936.1 1026.9 1934.2 1028.4 1932.5 1029.9 1930.9 1031.6 1929.3 1033.5 1927.8 1035.4 1926.4 1037.3 1925.1 1039.2 1923.8 1041.1 1922.6 1043.0 1921.5 1044.9 1920.5 1046.8 1919.6 1048.8 1918.8 1050.7 1918.1 1052.6 1917.6 1054.6 1917.1 1056.6 1916.7 1058.5 1916.4 1060.4 1916.3 1062.1 1916.2 1063.8 1916.3 1065.5 1916.4 1067.0 1916.6 1068.5 1916.9 1070.0 1917.3 1071.4 1917.8 1072.8 1918.4 1074.1 1919.2 1075.4 1920.1 1076.6 1921.1 1077.7 1922.1 1078.7 1923.1 1079.7 1924.2 1080.5 1925.3 1081.2 1926.5 1081.9 1927.8 1082.5 1929.1 1083.0 1930.5 1083.4 1932.0 1083.7 1933.6 1084.0 1935.3 1084.1 1937.1 1084.1 1938.8 1084.0 1940.6 1083.8 1942.4 1083.3 1944.2 1082.8 1946.0 1082.2 1947.9 1081.6 1949.6 1080.9 1951.3 1080.4 1952.9 1079.9 1954.4 1079.3 1955.9 1078.6 1957.3 1077.8 1958.7 1076.7 1959.9 1075.3 1961.2 1073.6 1962.4 1071.7 1963.6 1069.8 1964.6 1067.8 1965.6 1065.9 1966.5 1064.0 1967.2 1062.1 1967.8 1060.3 1968.3 1058.3 1968.7 1056.4 1968.9 1054.3 1969.1 1052.2 1969.1 1050.0 1968.9 1047.7 1968.7 1045.5 1968.3 1043.2 1967.8 1041.1 1967.2 1039.0 1966.5 1036.9 1965.7 1034.9 1964.7 1033.0 1963.7 1031.2 1962.5 1029.6 1961.3 1028.2 1959.9 1026.9 1958.4 1025.7 1956.9 1024.6 1955.2 1023.7 1953.6 1023.0 1952.1 1022.4 1950.7 1021.9 1949.3 1021.6 1947.9 1021.4 1946.5 1021.4 1945.0ZM1024.3 1943.3 1024.8 1941.7 1025.6 1939.9 1026.7 1938.1 1027.8 1936.3 1029.1 1934.6 1030.5 1932.9 1031.9 1931.4 1033.6 1930.0 1035.3 1928.6 1037.2 1927.2 1039.0 1926.0 1040.8 1924.8 1042.6 1923.7 1044.4 1922.7 1046.2 1921.8 1048.0 1921.0 1049.8 1920.2 1051.6 1919.6 1053.4 1919.1 1055.3 1918.7 1057.1 1918.3 1058.9 1918.1 1060.6 1917.9 1062.3 1917.9 1063.8 1917.9 1065.4 1918.0 1066.8 1918.1 1068.2 1918.4 1069.6 1918.8 1070.9 1919.2 1072.2 1919.8 1073.5 1920.5 1074.7 1921.3 1075.8 1922.2 1076.9 1923.2 1077.9 1924.1 1078.7 1925.1 1079.5 1926.2 1080.2 1927.3 1080.8 1928.5 1081.4 1929.8 1081.8 1931.1 1082.2 1932.5 1082.5 1934.0 1082.7 1935.6 1082.8 1937.2 1082.8 1938.9 1082.7 1940.5 1082.4 1942.2 1082.0 1943.9 1081.5 1945.6 1081.0 1947.3 1080.4 1949.0 1079.8 1950.5 1079.2 1952.0 1078.8 1953.4 1078.3 1954.8 1077.7 1956.1 1076.9 1957.4 1075.9 1958.6 1074.6 1959.8 1073.0 1961.0 1071.2 1962.1 1069.4 1963.1 1067.5 1964.0 1065.7 1964.9 1064.0 1965.5 1062.3 1966.1 1060.5 1966.6 1058.7 1966.9 1056.8 1967.2 1054.9 1967.3 1052.9 1967.3 1050.8 1967.2 1048.7 1966.9 1046.6 1966.5 1044.6 1966.0 1042.6 1965.4 1040.7 1964.7 1038.7 1963.9 1036.9 1963.1 1035.1 1962.1 1033.5 1961.0 1032.0 1959.8 1030.7 1958.6 1029.4 1957.2 1028.3 1955.7 1027.3 1954.2 1026.5 1952.7 1025.8 1951.3 1025.2 1949.9 1024.7 1948.7 1024.3 1947.4 1024.1 1946.1 1024.1 1944.7ZM1026.5 1943.1 1026.9 1941.6 1027.7 1939.9 1028.7 1938.2 1029.8 1936.5 1031.1 1934.9 1032.5 1933.4 1033.9 1932.0 1035.5 1930.6 1037.2 1929.3 1039.0 1928.1 1040.8 1927.0 1042.6 1926.0 1044.3 1925.0 1046.0 1924.1 1047.7 1923.3 1049.3 1922.6 1051.0 1921.9 1052.6 1921.4 1054.3 1920.9 1056.0 1920.5 1057.6 1920.1 1059.3 1919.8 1060.9 1919.6 1062.4 1919.5 1063.8 1919.5 1065.3 1919.5 1066.6 1919.6 1068.0 1919.8 1069.3 1920.0 1070.5 1920.4 1071.8 1920.9 1072.9 1921.6 1074.1 1922.3 1075.2 1923.2 1076.2 1924.1 1077.1 1925.0 1077.9 1926.0 1078.6 1927.0 1079.2 1928.1 1079.7 1929.2 1080.2 1930.4 1080.6 1931.7 1080.9 1933.1 1081.1 1934.5 1081.2 1936.0 1081.3 1937.5 1081.2 1939.0 1081.1 1940.5 1080.9 1942.0 1080.5 1943.6 1080.0 1945.2 1079.5 1946.7 1079.0 1948.2 1078.5 1949.7 1078.1 1951.1 1077.7 1952.4 1077.2 1953.7 1076.7 1955.0 1076.0 1956.3 1075.1 1957.5 1073.9 1958.6 1072.5 1959.7 1070.8 1960.8 1069.1 1961.8 1067.3 1962.8 1065.7 1963.5 1064.0 1964.2 1062.4 1964.7 1060.7 1965.1 1059.0 1965.4 1057.3 1965.5 1055.5 1965.6 1053.7 1965.5 1051.8 1965.3 1049.9 1964.9 1048.0 1964.5 1046.1 1964.0 1044.3 1963.4 1042.6 1962.7 1040.9 1961.9 1039.2 1961.1 1037.6 1960.2 1036.1 1959.2 1034.7 1958.2 1033.4 1957.0 1032.2 1955.8 1031.1 1954.5 1030.1 1953.1 1029.2 1951.8 1028.4 1950.5 1027.8 1949.3 1027.2 1948.1 1026.7 1946.9 1026.4 1945.7 1026.3 1944.4ZM1029.5 1942.8 1030.1 1941.4 1031.0 1939.9 1032.0 1938.4 1033.2 1936.9 1034.4 1935.4 1035.7 1934.0 1037.0 1932.8 1038.4 1931.6 1039.9 1930.4 1041.5 1929.3 1043.0 1928.2 1044.5 1927.3 1046.0 1926.3 1047.4 1925.4 1048.9 1924.6 1050.3 1923.8 1051.8 1923.1 1053.3 1922.5 1054.8 1921.9 1056.4 1921.5 1058.0 1921.1 1059.5 1920.8 1061.0 1920.6 1062.5 1920.5 1063.9 1920.5 1065.2 1920.6 1066.5 1920.7 1067.7 1921.0 1068.9 1921.3 1070.1 1921.8 1071.2 1922.4 1072.2 1923.1 1073.2 1923.8 1074.2 1924.7 1075.0 1925.6 1075.8 1926.5 1076.5 1927.4 1077.1 1928.3 1077.7 1929.3 1078.1 1930.3 1078.6 1931.4 1078.9 1932.5 1079.3 1933.7 1079.5 1935.0 1079.8 1936.3 1079.9 1937.7 1080.0 1939.1 1079.9 1940.5 1079.8 1941.9 1079.5 1943.4 1079.2 1944.9 1078.7 1946.4 1078.3 1947.8 1077.8 1949.2 1077.4 1950.5 1077.0 1951.8 1076.6 1953.1 1076.0 1954.2 1075.4 1955.4 1074.5 1956.4 1073.3 1957.4 1071.9 1958.4 1070.3 1959.3 1068.7 1960.1 1067.1 1960.8 1065.5 1961.4 1064.0 1961.9 1062.5 1962.3 1061.0 1962.6 1059.5 1962.8 1058.0 1962.9 1056.4 1963.0 1054.7 1962.9 1053.0 1962.8 1051.2 1962.6 1049.4 1962.3 1047.6 1961.9 1045.9 1961.5 1044.2 1961.0 1042.5 1960.4 1040.8 1959.7 1039.1 1959.0 1037.6 1958.1 1036.2 1957.2 1034.9 1956.2 1033.7 1955.0 1032.7 1953.8 1031.7 1952.5 1030.9 1951.2 1030.3 1950.0 1029.8 1948.8 1029.4 1947.6 1029.1 1946.5 1029.1 1945.3 1029.2 1944.1ZM1032.7 1942.6 1033.2 1941.3 1033.9 1939.9 1034.8 1938.5 1035.8 1937.1 1036.9 1935.8 1037.9 1934.5 1039.1 1933.3 1040.4 1932.2 1041.7 1931.1 1043.1 1930.1 1044.5 1929.1 1045.9 1928.2 1047.2 1927.3 1048.6 1926.4 1050.0 1925.7 1051.3 1925.0 1052.7 1924.3 1054.1 1923.8 1055.6 1923.3 1057.0 1922.9 1058.5 1922.6 1059.9 1922.4 1061.3 1922.3 1062.6 1922.2 1063.9 1922.2 1065.1 1922.3 1066.3 1922.5 1067.4 1922.7 1068.5 1923.1 1069.5 1923.5 1070.5 1924.0 1071.5 1924.6 1072.4 1925.3 1073.3 1926.0 1074.1 1926.8 1074.8 1927.6 1075.5 1928.4 1076.1 1929.3 1076.6 1930.1 1077.1 1931.1 1077.5 1932.0 1077.9 1933.1 1078.2 1934.2 1078.4 1935.3 1078.6 1936.6 1078.8 1937.8 1078.8 1939.1 1078.8 1940.4 1078.6 1941.7 1078.3 1943.1 1078.0 1944.5 1077.6 1945.9 1077.1 1947.2 1076.6 1948.4 1076.2 1949.6 1075.8 1950.8 1075.4 1951.9 1074.9 1952.9 1074.3 1953.9 1073.5 1954.9 1072.4 1955.8 1071.1 1956.6 1069.7 1957.5 1068.3 1958.2 1066.8 1958.9 1065.4 1959.5 1064.0 1960.0 1062.6 1960.4 1061.3 1960.7 1059.9 1961.0 1058.4 1961.1 1056.9 1961.2 1055.4 1961.2 1053.8 1961.1 1052.1 1961.0 1050.4 1960.7 1048.8 1960.4 1047.2 1960.0 1045.6 1959.5 1044.0 1958.9 1042.5 1958.3 1041.0 1957.5 1039.7 1956.7 1038.4 1955.8 1037.3 1954.9 1036.3 1953.8 1035.4 1952.6 1034.6 1951.4 1033.9 1950.2 1033.4 1949.0 1033.0 1948.0 1032.6 1946.9 1032.4 1945.9 1032.3 1944.8 1032.4 1943.7ZM1035.5 1942.3 1035.9 1941.2 1036.6 1939.9 1037.4 1938.7 1038.4 1937.4 1039.3 1936.2 1040.3 1935.0 1041.4 1934.0 1042.6 1932.9 1043.8 1931.9 1045.1 1931.0 1046.3 1930.1 1047.6 1929.3 1048.8 1928.5 1050.0 1927.7 1051.3 1927.0 1052.5 1926.4 1053.8 1925.8 1055.0 1925.3 1056.3 1924.8 1057.6 1924.5 1059.0 1924.2 1060.3 1924.0 1061.5 1923.9 1062.7 1923.8 1063.9 1923.8 1065.0 1923.9 1066.1 1924.0 1067.1 1924.3 1068.1 1924.6 1069.0 1924.9 1069.9 1925.4 1070.8 1926.0 1071.6 1926.6 1072.4 1927.3 1073.2 1928.0 1073.8 1928.7 1074.4 1929.5 1075.0 1930.3 1075.4 1931.1 1075.9 1931.9 1076.2 1932.8 1076.6 1933.7 1076.8 1934.7 1077.1 1935.8 1077.3 1936.9 1077.4 1938.0 1077.4 1939.2 1077.4 1940.4 1077.3 1941.6 1077.0 1942.8 1076.7 1944.1 1076.3 1945.3 1075.9 1946.5 1075.5 1947.7 1075.2 1948.8 1074.8 1949.8 1074.4 1950.8 1074.0 1951.8 1073.4 1952.7 1072.7 1953.6 1071.7 1954.4 1070.5 1955.2 1069.2 1955.9 1067.9 1956.6 1066.5 1957.2 1065.2 1957.7 1064.0 1958.2 1062.8 1958.5 1061.5 1958.8 1060.2 1959.0 1058.9 1959.2 1057.6 1959.2 1056.2 1959.2 1054.7 1959.2 1053.2 1959.0 1051.7 1958.8 1050.2 1958.5 1048.8 1958.1 1047.3 1957.7 1045.9 1957.2 1044.5 1956.6 1043.1 1955.9 1041.9 1955.2 1040.7 1954.4 1039.7 1953.5 1038.8 1952.5 1037.9 1951.5 1037.2 1950.4 1036.5 1949.3 1036.1 1948.3 1035.7 1947.3 1035.4 1946.3 1035.2 1945.4 1035.1 1944.4 1035.2 1943.4ZM1037.8 1942.2 1038.3 1941.1 1038.9 1940.0 1039.7 1938.8 1040.6 1937.6 1041.6 1936.5 1042.6 1935.5 1043.6 1934.5 1044.7 1933.6 1045.9 1932.8 1047.1 1932.0 1048.3 1931.2 1049.5 1930.5 1050.6 1929.8 1051.7 1929.2 1052.8 1928.5 1053.9 1928.0 1055.0 1927.5 1056.1 1927.0 1057.2 1926.6 1058.4 1926.2 1059.5 1925.9 1060.7 1925.7 1061.8 1925.5 1062.9 1925.4 1063.9 1925.4 1064.9 1925.4 1065.9 1925.5 1066.8 1925.6 1067.7 1925.9 1068.6 1926.2 1069.4 1926.6 1070.2 1927.1 1071.0 1927.7 1071.7 1928.4 1072.4 1929.0 1073.0 1929.7 1073.5 1930.4 1073.9 1931.2 1074.3 1931.9 1074.7 1932.7 1074.9 1933.5 1075.2 1934.4 1075.4 1935.3 1075.6 1936.3 1075.7 1937.3 1075.8 1938.3 1075.8 1939.3 1075.8 1940.3 1075.7 1941.4 1075.5 1942.5 1075.2 1943.6 1074.9 1944.7 1074.6 1945.8 1074.3 1946.9 1074.0 1947.9 1073.7 1948.8 1073.4 1949.8 1073.1 1950.7 1072.6 1951.6 1071.9 1952.4 1071.0 1953.2 1070.0 1953.9 1068.8 1954.6 1067.6 1955.3 1066.3 1955.8 1065.1 1956.3 1064.0 1956.6 1062.9 1956.9 1061.7 1957.1 1060.6 1957.2 1059.4 1957.3 1058.2 1957.3 1057.0 1957.2 1055.7 1957.1 1054.4 1956.9 1053.1 1956.6 1051.8 1956.3 1050.6 1956.0 1049.3 1955.6 1048.0 1955.1 1046.8 1954.6 1045.6 1954.1 1044.4 1953.5 1043.4 1952.8 1042.4 1952.0 1041.5 1951.2 1040.6 1950.3 1039.8 1949.4 1039.2 1948.4 1038.7 1947.5 1038.2 1946.6 1037.9 1945.8 1037.6 1944.9 1037.5 1944.0 1037.6 1943.1ZM1041.1 1941.9 1041.4 1941.0 1041.9 1940.0 1042.5 1938.9 1043.1 1937.9 1043.9 1936.9 1044.7 1935.9 1045.5 1935.1 1046.5 1934.2 1047.5 1933.4 1048.6 1932.7 1049.7 1932.0 1050.7 1931.3 1051.8 1930.7 1052.8 1930.1 1053.8 1929.6 1054.9 1929.2 1055.9 1928.8 1056.9 1928.4 1058.0 1928.1 1059.0 1927.9 1060.1 1927.7 1061.1 1927.5 1062.1 1927.4 1063.0 1927.4 1063.9 1927.4 1064.8 1927.4 1065.6 1927.5 1066.4 1927.6 1067.2 1927.8 1068.0 1928.1 1068.7 1928.4 1069.5 1928.8 1070.2 1929.2 1070.8 1929.7 1071.4 1930.3 1072.0 1930.8 1072.5 1931.4 1072.9 1932.0 1073.3 1932.7 1073.7 1933.4 1074.0 1934.1 1074.2 1934.9 1074.4 1935.7 1074.6 1936.6 1074.7 1937.5 1074.7 1938.4 1074.7 1939.4 1074.6 1940.3 1074.5 1941.3 1074.3 1942.2 1074.0 1943.2 1073.6 1944.2 1073.3 1945.1 1073.0 1946.0 1072.7 1946.8 1072.4 1947.7 1072.1 1948.5 1071.8 1949.2 1071.4 1950.0 1070.8 1950.7 1070.1 1951.4 1069.2 1952.0 1068.2 1952.7 1067.1 1953.3 1066.0 1953.9 1065.0 1954.3 1064.0 1954.7 1063.0 1955.1 1062.0 1955.3 1060.9 1955.5 1059.9 1955.7 1058.8 1955.7 1057.6 1955.7 1056.4 1955.6 1055.2 1955.4 1054.1 1955.2 1052.9 1954.9 1051.8 1954.5 1050.7 1954.1 1049.6 1953.6 1048.6 1953.1 1047.6 1952.6 1046.6 1951.9 1045.8 1951.3 1045.0 1950.6 1044.3 1949.8 1043.7 1948.9 1043.1 1948.1 1042.6 1947.3 1042.2 1946.4 1041.8 1945.7 1041.5 1945.0 1041.2 1944.2 1041.1 1943.5 1041.0 1942.7ZM1044.2 1941.6 1044.5 1940.8 1044.9 1940.0 1045.4 1939.1 1046.0 1938.2 1046.7 1937.3 1047.3 1936.5 1048.1 1935.7 1048.9 1935.0 1049.7 1934.3 1050.6 1933.7 1051.6 1933.0 1052.4 1932.4 1053.3 1931.9 1054.2 1931.4 1055.1 1930.9 1056.0 1930.5 1056.9 1930.1 1057.8 1929.8 1058.7 1929.5 1059.6 1929.3 1060.5 1929.2 1061.4 1929.0 1062.3 1929.0 1063.1 1928.9 1063.9 1928.9 1064.7 1929.0 1065.4 1929.1 1066.1 1929.2 1066.8 1929.4 1067.5 1929.6 1068.1 1929.9 1068.7 1930.3 1069.3 1930.7 1069.9 1931.2 1070.4 1931.6 1070.9 1932.1 1071.3 1932.6 1071.7 1933.1 1072.1 1933.7 1072.4 1934.3 1072.6 1934.9 1072.9 1935.6 1073.1 1936.3 1073.2 1937.0 1073.3 1937.8 1073.4 1938.6 1073.4 1939.4 1073.3 1940.3 1073.2 1941.1 1073.0 1942.0 1072.8 1942.8 1072.5 1943.7 1072.2 1944.5 1071.9 1945.3 1071.6 1946.0 1071.4 1946.7 1071.1 1947.4 1070.8 1948.1 1070.4 1948.7 1069.9 1949.3 1069.3 1949.9 1068.5 1950.4 1067.6 1951.0 1066.7 1951.5 1065.8 1952.0 1064.9 1952.4 1064.0 1952.7 1063.1 1953.0 1062.3 1953.2 1061.4 1953.4 1060.4 1953.5 1059.5 1953.6 1058.5 1953.6 1057.5 1953.5 1056.4 1953.4 1055.3 1953.2 1054.3 1953.0 1053.3 1952.7 1052.4 1952.3 1051.4 1952.0 1050.4 1951.5 1049.6 1951.0 1048.7 1950.5 1048.0 1949.9 1047.3 1949.3 1046.7 1948.6 1046.2 1947.9 1045.7 1947.1 1045.2 1946.4 1044.9 1945.6 1044.6 1945.0 1044.4 1944.3 1044.2 1943.7 1044.1 1943.0 1044.1 1942.3ZM1047.3 1941.4 1047.5 1940.7 1047.9 1940.0 1048.3 1939.2 1048.8 1938.5 1049.4 1937.7 1049.9 1937.0 1050.5 1936.4 1051.2 1935.8 1052.0 1935.2 1052.7 1934.6 1053.5 1934.1 1054.2 1933.6 1055.0 1933.1 1055.7 1932.7 1056.4 1932.3 1057.2 1931.9 1058.0 1931.6 1058.7 1931.3 1059.5 1931.1 1060.3 1930.9 1061.0 1930.8 1061.8 1930.6 1062.6 1930.6 1063.3 1930.6 1063.9 1930.6 1064.6 1930.6 1065.2 1930.7 1065.8 1930.8 1066.4 1931.0 1066.9 1931.2 1067.5 1931.5 1068.0 1931.8 1068.5 1932.1 1069.0 1932.5 1069.4 1932.9 1069.8 1933.3 1070.2 1933.8 1070.5 1934.2 1070.8 1934.7 1071.1 1935.2 1071.3 1935.7 1071.5 1936.3 1071.7 1936.9 1071.8 1937.5 1071.9 1938.2 1072.0 1938.8 1072.0 1939.5 1071.9 1940.2 1071.8 1940.9 1071.7 1941.7 1071.5 1942.4 1071.2 1943.1 1071.0 1943.8 1070.7 1944.5 1070.5 1945.1 1070.3 1945.7 1070.1 1946.3 1069.8 1946.9 1069.5 1947.4 1069.0 1947.9 1068.5 1948.4 1067.8 1948.9 1067.1 1949.3 1066.3 1949.8 1065.5 1950.1 1064.7 1950.5 1064.0 1950.7 1063.3 1951.0 1062.5 1951.2 1061.8 1951.3 1061.0 1951.4 1060.2 1951.5 1059.3 1951.5 1058.5 1951.4 1057.6 1951.3 1056.7 1951.2 1055.8 1951.0 1054.9 1950.8 1054.1 1950.5 1053.3 1950.2 1052.5 1949.8 1051.7 1949.4 1051.0 1948.9 1050.4 1948.5 1049.8 1947.9 1049.3 1947.3 1048.8 1946.7 1048.4 1946.1 1048.0 1945.4 1047.7 1944.8 1047.5 1944.2 1047.3 1943.7 1047.2 1943.1 1047.1 1942.6 1047.1 1942.0ZM1050.2 1941.1 1050.4 1940.6 1050.7 1940.0 1051.0 1939.4 1051.4 1938.7 1051.9 1938.1 1052.4 1937.6 1052.9 1937.0 1053.4 1936.5 1054.1 1936.0 1054.7 1935.6 1055.3 1935.1 1056.0 1934.7 1056.6 1934.4 1057.2 1934.0 1057.8 1933.7 1058.5 1933.4 1059.1 1933.2 1059.7 1933.0 1060.3 1932.8 1061.0 1932.6 1061.6 1932.5 1062.2 1932.4 1062.8 1932.4 1063.4 1932.4 1063.9 1932.4 1064.5 1932.4 1065.0 1932.4 1065.5 1932.5 1065.9 1932.6 1066.4 1932.8 1066.8 1933.0 1067.3 1933.2 1067.7 1933.5 1068.1 1933.8 1068.5 1934.2 1068.8 1934.5 1069.1 1934.8 1069.4 1935.2 1069.6 1935.6 1069.8 1936.0 1070.0 1936.4 1070.2 1936.9 1070.3 1937.4 1070.4 1937.9 1070.5 1938.5 1070.5 1939.0 1070.5 1939.6 1070.5 1940.2 1070.4 1940.8 1070.2 1941.4 1070.1 1941.9 1069.9 1942.5 1069.7 1943.1 1069.4 1943.6 1069.3 1944.1 1069.1 1944.6 1068.9 1945.1 1068.7 1945.6 1068.5 1946.0 1068.1 1946.4 1067.7 1946.9 1067.1 1947.3 1066.5 1947.6 1065.9 1948.0 1065.2 1948.3 1064.6 1948.6 1064.0 1948.9 1063.4 1949.1 1062.8 1949.2 1062.2 1949.4 1061.5 1949.4 1060.8 1949.5 1060.2 1949.5 1059.4 1949.4 1058.7 1949.3 1058.0 1949.2 1057.3 1949.0 1056.6 1948.8 1055.9 1948.6 1055.3 1948.3 1054.6 1948.0 1054.0 1947.6 1053.5 1947.2 1053.0 1946.8 1052.5 1946.4 1052.1 1945.9 1051.7 1945.4 1051.3 1944.9 1051.0 1944.4 1050.8 1943.9 1050.6 1943.4 1050.4 1943.0 1050.3 1942.6 1050.2 1942.1 1050.2 1941.6ZM1053.4 1940.9 1053.5 1940.4 1053.7 1940.0 1054.0 1939.5 1054.3 1939.0 1054.7 1938.5 1055.0 1938.1 1055.4 1937.7 1055.9 1937.3 1056.3 1936.9 1056.8 1936.6 1057.3 1936.3 1057.8 1935.9 1058.3 1935.7 1058.8 1935.4 1059.2 1935.1 1059.7 1934.9 1060.2 1934.7 1060.7 1934.6 1061.2 1934.4 1061.7 1934.3 1062.2 1934.2 1062.6 1934.1 1063.1 1934.1 1063.5 1934.1 1064.0 1934.1 1064.4 1934.1 1064.8 1934.2 1065.1 1934.2 1065.5 1934.3 1065.9 1934.4 1066.2 1934.6 1066.5 1934.8 1066.9 1935.0 1067.2 1935.2 1067.4 1935.5 1067.7 1935.8 1067.9 1936.0 1068.1 1936.3 1068.3 1936.6 1068.5 1936.9 1068.6 1937.3 1068.8 1937.6 1068.9 1938.0 1068.9 1938.4 1069.0 1938.8 1069.0 1939.3 1069.0 1939.7 1069.0 1940.1 1068.9 1940.6 1068.8 1941.0 1068.7 1941.5 1068.5 1942.0 1068.4 1942.4 1068.2 1942.8 1068.1 1943.2 1067.9 1943.6 1067.8 1944.0 1067.6 1944.3 1067.4 1944.7 1067.2 1945.0 1066.8 1945.3 1066.4 1945.6 1065.9 1945.9 1065.4 1946.2 1064.9 1946.4 1064.5 1946.6 1064.0 1946.8 1063.5 1947.0 1063.1 1947.1 1062.6 1947.2 1062.1 1947.3 1061.6 1947.3 1061.0 1947.3 1060.5 1947.3 1059.9 1947.2 1059.4 1947.1 1058.8 1947.0 1058.3 1946.8 1057.8 1946.6 1057.3 1946.4 1056.8 1946.2 1056.3 1945.9 1055.8 1945.6 1055.5 1945.3 1055.1 1945.0 1054.8 1944.6 1054.5 1944.2 1054.2 1943.8 1054.0 1943.4 1053.8 1943.0 1053.6 1942.7 1053.5 1942.3 1053.4 1942.0 1053.3 1941.6 1053.3 1941.3ZM1056.4 1940.6 1056.6 1940.3 1056.8 1940.0 1057.0 1939.6 1057.2 1939.3 1057.5 1939.0 1057.8 1938.7 1058.1 1938.4 1058.4 1938.2 1058.8 1937.9 1059.1 1937.7 1059.5 1937.5 1059.8 1937.3 1060.1 1937.1 1060.5 1936.9 1060.8 1936.7 1061.1 1936.6 1061.4 1936.4 1061.7 1936.3 1062.1 1936.2 1062.4 1936.1 1062.7 1936.0 1063.0 1935.9 1063.4 1935.9 1063.7 1935.8 1064.0 1935.8 1064.3 1935.8 1064.5 1935.8 1064.8 1935.9 1065.1 1935.9 1065.3 1936.0 1065.6 1936.1 1065.8 1936.3 1066.0 1936.5 1066.2 1936.6 1066.4 1936.8 1066.6 1937.0 1066.7 1937.2 1066.9 1937.4 1067.0 1937.7 1067.1 1937.9 1067.2 1938.1 1067.2 1938.4 1067.3 1938.6 1067.3 1938.9 1067.4 1939.2 1067.4 1939.5 1067.4 1939.8 1067.4 1940.1 1067.3 1940.4 1067.3 1940.7 1067.2 1941.0 1067.1 1941.3 1067.0 1941.7 1066.9 1942.0 1066.9 1942.2 1066.8 1942.5 1066.7 1942.8 1066.6 1943.1 1066.5 1943.3 1066.3 1943.6 1066.0 1943.8 1065.7 1944.0 1065.4 1944.2 1065.0 1944.4 1064.7 1944.6 1064.3 1944.7 1064.0 1944.8 1063.7 1944.9 1063.3 1944.9 1063.0 1945.0 1062.7 1945.0 1062.3 1945.0 1062.0 1945.0 1061.6 1944.9 1061.2 1944.9 1060.9 1944.8 1060.5 1944.7 1060.1 1944.6 1059.8 1944.5 1059.4 1944.3 1059.1 1944.2 1058.7 1944.0 1058.4 1943.8 1058.1 1943.7 1057.8 1943.4 1057.6 1943.2 1057.3 1942.9 1057.1 1942.7 1056.9 1942.4 1056.7 1942.1 1056.6 1941.9 1056.5 1941.7 1056.4 1941.4 1056.4 1941.2 1056.4 1940.9ZM1060.0 1940.3 1060.1 1940.2 1060.2 1940.0 1060.3 1939.8 1060.4 1939.6 1060.6 1939.5 1060.7 1939.3 1060.9 1939.2 1061.0 1939.0 1061.2 1938.9 1061.4 1938.8 1061.6 1938.6 1061.7 1938.5 1061.9 1938.4 1062.1 1938.3 1062.2 1938.2 1062.4 1938.1 1062.6 1938.0 1062.8 1938.0 1062.9 1937.9 1063.1 1937.9 1063.3 1937.8 1063.5 1937.8 1063.7 1937.8 1063.8 1937.7 1064.0 1937.7 1064.1 1937.8 1064.3 1937.8 1064.4 1937.8 1064.6 1937.8 1064.7 1937.9 1064.8 1938.0 1064.9 1938.0 1065.1 1938.1 1065.2 1938.2 1065.3 1938.3 1065.4 1938.4 1065.4 1938.5 1065.5 1938.7 1065.6 1938.8 1065.6 1938.9 1065.7 1939.0 1065.7 1939.1 1065.8 1939.3 1065.8 1939.4 1065.8 1939.6 1065.8 1939.7 1065.8 1939.9 1065.8 1940.1 1065.8 1940.2 1065.8 1940.4 1065.8 1940.6 1065.7 1940.7 1065.7 1940.9 1065.6 1941.1 1065.5 1941.2 1065.5 1941.4 1065.5 1941.5 1065.4 1941.6 1065.3 1941.8 1065.2 1941.9 1065.1 1942.0 1064.9 1942.1 1064.7 1942.2 1064.5 1942.3 1064.4 1942.4 1064.2 1942.5 1064.0 1942.5 1063.8 1942.6 1063.7 1942.6 1063.5 1942.6 1063.3 1942.6 1063.1 1942.7 1062.9 1942.7 1062.7 1942.6 1062.5 1942.6 1062.3 1942.6 1062.1 1942.5 1061.9 1942.5 1061.7 1942.4 1061.5 1942.4 1061.3 1942.3 1061.1 1942.2 1060.9 1942.1 1060.8 1942.0 1060.6 1941.9 1060.5 1941.7 1060.4 1941.6 1060.3 1941.4 1060.2 1941.3 1060.1 1941.1 1060.1 1941.0 1060.0 1940.9 1060.0 1940.7 1060.0 1940.6 1060.0 1940.5Z" fill="none" stroke="#000" stroke-width="0.90"/>
<rect x="992.60" y="1910.10" width="100.20" height="111.50" stroke="#555" stroke-width="1.30" fill="none"/>
<g transform="translate(1026.17 2011.80) scale(0.9650 1)"><text x="0.00" y="0.00" font-size="37.70">42</text></g>
<g transform="translate(865.93 2098.20) scale(1.0000 1)"><text x="0.00" y="0.00" font-size="36.80">CD8</text><text x="73.62" y="0.00" font-size="36.80" font-family="Liberation Serif, serif">α</text><text x="92.90" y="0.00" font-size="36.80">-PE</text></g>
<line x1="1030.80" y1="2083.10" x2="1084.50" y2="2083.10" stroke="#000" stroke-width="1.60"/><polygon points="1082.50,2089.60 1085.50,2083.10 1082.50,2076.60 1096.50,2083.10" fill="#000"/>
<g transform="translate(813.00 2033.07) rotate(-90) scale(0.9422 1)"><text x="0.00" y="0.00" font-size="37.00">CD8</text><text x="74.02" y="0.00" font-size="37.00" font-family="Liberation Serif, serif">β</text><text x="92.84" y="0.00" font-size="37.00">-eF450→</text></g>
</svg>
</body></html>
